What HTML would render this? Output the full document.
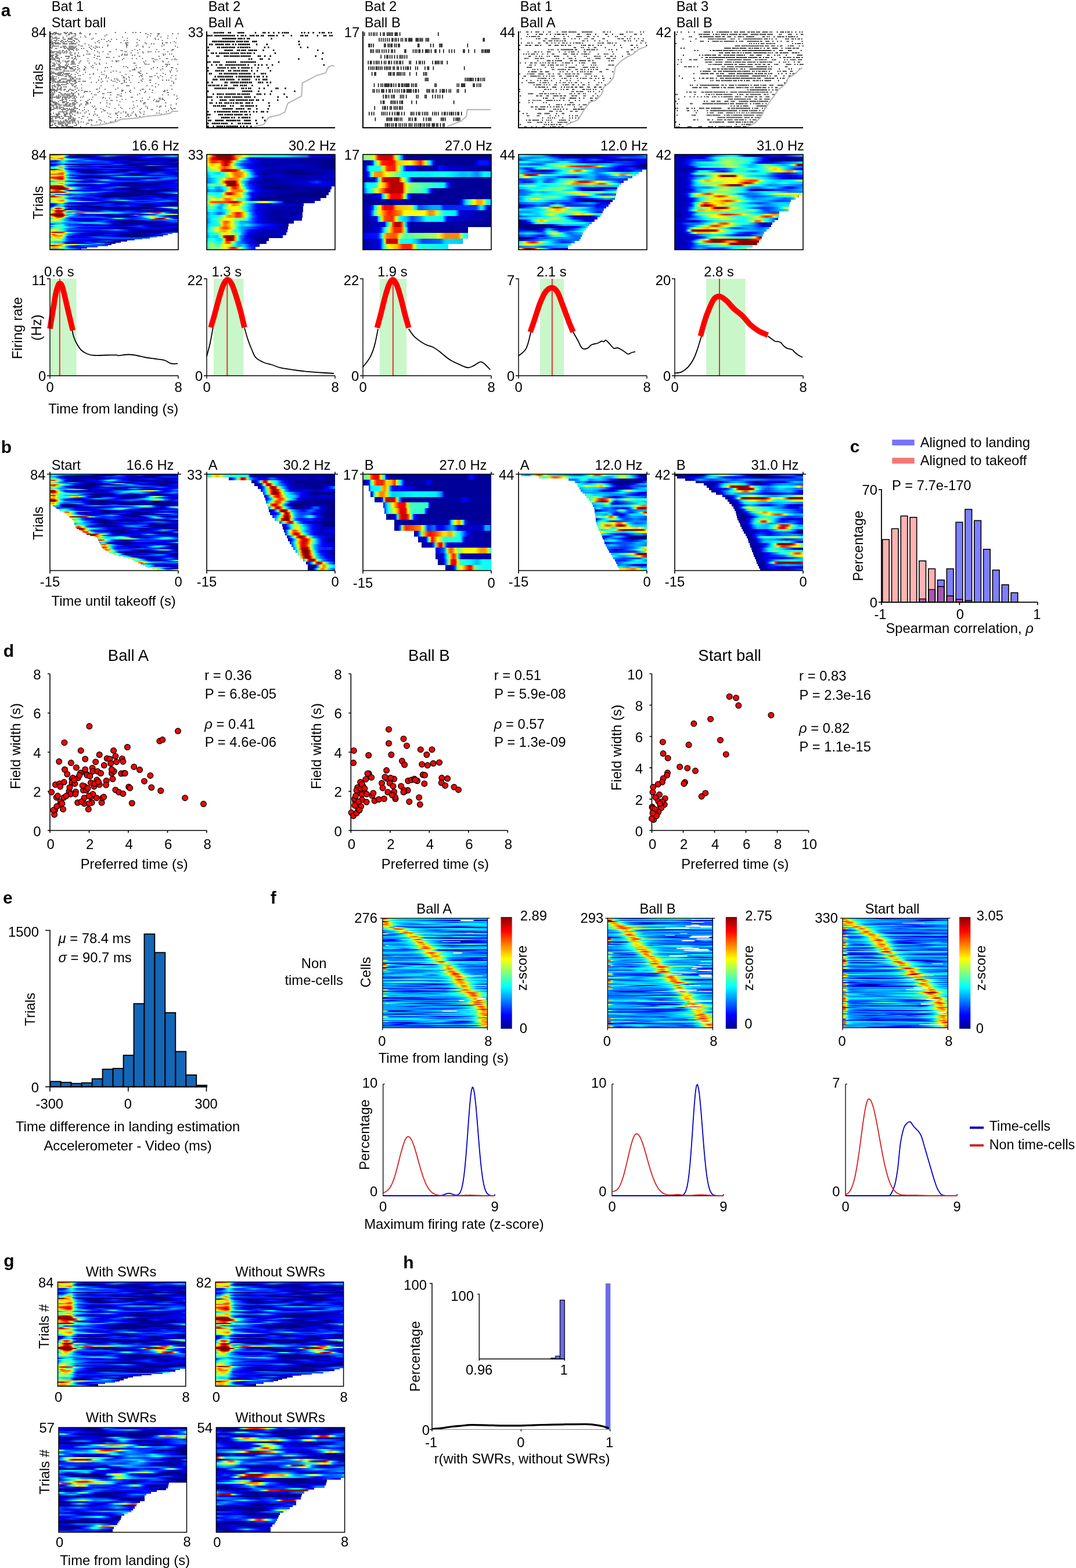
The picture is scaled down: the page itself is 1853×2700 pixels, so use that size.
<!DOCTYPE html><html><head><meta charset="utf-8"><title>Figure</title><style>*{margin:0;padding:0}
html,body{width:1853px;height:2700px;background:#fff;overflow:hidden}
body{position:relative;font-family:"Liberation Sans",Arial,sans-serif}
.hm{position:absolute;display:flex;flex-direction:column}
.hm i{display:block;flex:1 1 0;min-height:0;background:linear-gradient(90deg,var(--g))}
svg{position:absolute;left:0;top:0}
text{font-family:"Liberation Sans",Arial,sans-serif;font-size:23.8px;fill:#000}
</style></head><body><div class="hm" style="left:86px;top:266px;width:221px;height:164px"><i style="--g:#f80,#f50 1%,#f50 3%,#f90 8%,#fc0 10%,#bf4 11%,#3fc 12%,#0af 14%,#06f 15%,#04f 16%,#00f 23%,#01f 37%,#07f 48%,#00f 64%,#00f 74%,#00b 82%,#01f 88%,#03f 92%,#02f"></i><i style="--g:#ff0,#df2 4%,#fe0 10%,#9f6 11%,#0ef 12%,#04f 14%,#00d 15%,#008 21%,#008 29%,#00e 36%,#01f 37%,#09f 44%,#00f 55%,#00c 62%,#00f 71%,#06f 88%,#0ef 95%,#0cf"></i><i style="--g:#fb0,#fa0 1%,#fd0 3%,#bf4 5%,#cf3 8%,#af5 10%,#3fc 11%,#07f 12%,#00c 14%,#009 15%,#008 22%,#008 32%,#00c 38%,#008 48%,#008 59%,#00f 71%,#05f 77%,#00f 84%,#01f"></i><i style="--g:#ff0,#fc0 1%,#fd0 5%,#f60 8%,#f50 10%,#fc0 11%,#7f8 12%,#0df 14%,#09f 15%,#08f 16%,#00f 33%,#008 42%,#008 66%,#00d 70%,#00f 73%,#00e 77%,#00a 85%,#00c 96%,#00b"></i><i style="--g:#4fb,#6f9 1%,#4fb 4%,#5fa 5%,#fd0 8%,#fa0 10%,#fd0 11%,#bf4 12%,#7f8 14%,#0ef 19%,#09f 22%,#06f 25%,#00f 34%,#008 42%,#008 48%,#00d 55%,#008 67%,#008"></i><i style="--g:#01f,#00c 4%,#00e 5%,#04f 7%,#0af 8%,#0ff 10%,#0ff 11%,#04f 15%,#02f 19%,#03f 22%,#0af 30%,#06f 36%,#00f 48%,#00d 59%,#008 66%,#008 73%,#00d 78%,#00e 86%,#00d 90%,#008 97%,#008"></i><i style="--g:#01f,#03f 4%,#1fe 10%,#0ff 11%,#07f 15%,#04f 21%,#02f 34%,#04f 45%,#00f 52%,#00a 58%,#009 60%,#01f 68%,#01f 71%,#00f 75%,#008 89%,#00f 97%,#03f"></i><i style="--g:#05f,#07f 5%,#0ef 11%,#06f 23%,#03f 36%,#03f 44%,#00f 49%,#00c 55%,#00c 66%,#008 74%,#01f 84%,#00f 89%,#00a 96%,#00b"></i><i style="--g:#00a,#00f 3%,#07f 10%,#00d 12%,#008 14%,#008 15%,#008 29%,#00d 34%,#00c 41%,#01f 47%,#05f 52%,#04f 55%,#01f 58%,#008 63%,#008 82%,#00a 88%,#008 92%,#008"></i><i style="--g:#00e,#02f 4%,#05f 5%,#0bf 7%,#3fc 8%,#7f8 10%,#6f9 11%,#0ff 12%,#0af 14%,#08f 15%,#01f 25%,#04f 37%,#01f 51%,#008 58%,#008 68%,#00e 73%,#06f 77%,#07f 79%,#00f 92%,#009"></i><i style="--g:#07f,#09f 4%,#0df 5%,#9f6 8%,#8f7 10%,#1fe 11%,#07f 12%,#01f 14%,#00d 15%,#008 22%,#00d 34%,#008 42%,#008 45%,#00e 52%,#00f 58%,#02f 64%,#00f 68%,#00a 74%,#008 84%,#008 96%,#00a"></i><i style="--g:#0af,#0ef 1%,#3fc 3%,#df2 5%,#fb0 7%,#f80 8%,#fb0 10%,#9f6 11%,#0ff 12%,#0af 14%,#06f 16%,#01f 30%,#02f 37%,#00f 41%,#008 47%,#008 81%,#00e 89%,#00f"></i><i style="--g:#0bf,#0ff 1%,#2fd 4%,#9f6 8%,#6f9 10%,#0ef 11%,#07f 12%,#03f 14%,#02f 15%,#01f 34%,#03f 51%,#00f 63%,#008 73%,#008 82%,#00f 89%,#03f 93%,#02f"></i><i style="--g:#a00,#800 1%,#800 4%,#f00 5%,#f70 7%,#f90 8%,#fe0 10%,#7f8 11%,#0bf 12%,#02f 14%,#00c 15%,#008 18%,#008 19%,#008 86%,#00e 92%,#00d"></i><i style="--g:#fc0,#fb0 3%,#ff0 5%,#fb0 8%,#fb0 10%,#ef1 11%,#5fa 12%,#0cf 14%,#08f 15%,#00e 21%,#009 25%,#008 29%,#009 33%,#01f 40%,#03f 44%,#01f 48%,#008 56%,#008 60%,#00d 66%,#00e 68%,#008 79%,#008 86%,#00a 90%,#00f 96%,#04f"></i><i style="--g:#8f7,#cf3 1%,#9f6 5%,#fe0 8%,#fc0 10%,#df2 11%,#4fb 12%,#0bf 14%,#08f 15%,#00f 22%,#009 26%,#008 30%,#00d 44%,#008 53%,#00a 56%,#00e 59%,#01f 60%,#05f 64%,#00e 71%,#00c 75%,#00f 81%,#02f 86%,#00f 97%,#03f"></i><i style="--g:#af5,#ef1 1%,#fe0 5%,#f50 8%,#f40 10%,#f80 11%,#cf3 12%,#3fc 14%,#0cf 15%,#00e 25%,#008 30%,#008 40%,#01f 49%,#04f 55%,#00f 64%,#00f 75%,#04f 85%,#00f 90%,#009 96%,#009"></i><i style="--g:#fa0,#f50 1%,#f60 5%,#f40 8%,#f50 10%,#fb0 11%,#9f6 12%,#0ef 14%,#09f 15%,#07f 16%,#02f 33%,#09f 47%,#06f 53%,#01f 59%,#00d 60%,#008 64%,#008 68%,#008 70%,#00f 74%,#04f 78%,#06f 82%,#04f 88%,#00f 93%,#009"></i><i style="--g:#8f7,#cf3 1%,#ef1 5%,#fc0 8%,#fc0 10%,#df2 11%,#4fb 12%,#09f 14%,#04f 15%,#00e 18%,#00a 23%,#00f 40%,#00f 52%,#008 63%,#008 67%,#00c 75%,#008 82%,#008 85%,#01f 92%,#02f 96%,#00e"></i><i style="--g:#fe0,#f90 1%,#f70 5%,#f30 8%,#f30 10%,#f90 11%,#bf4 12%,#2fd 14%,#0cf 15%,#01f 22%,#00d 23%,#009 27%,#008 38%,#009 41%,#00e 45%,#0cf 55%,#0df 58%,#0af 64%,#0bf 71%,#04f 81%,#04f 93%,#01f"></i><i style="--g:#f70,#f20 1%,#f00 3%,#d00 8%,#f10 10%,#fa0 11%,#6f9 12%,#0af 14%,#03f 15%,#01f 16%,#00e 18%,#008 38%,#00f 52%,#02f 70%,#00f 84%,#06f 93%,#06f"></i><i style="--g:#ef1,#fb0 1%,#f00 7%,#c00 8%,#e00 10%,#f70 11%,#bf4 12%,#1fe 14%,#08f 16%,#00f 22%,#00d 25%,#00f 27%,#03f 34%,#00f 45%,#00a 53%,#00f 62%,#00f 64%,#009 71%,#008 75%,#009 78%,#00e 82%,#09f 90%,#04f"></i><i style="--g:#ef1,#fe0 4%,#f70 8%,#f90 10%,#fe0 11%,#2fd 14%,#0ff 15%,#0ff 21%,#04f 27%,#01f 32%,#02f 34%,#06f 37%,#1fe 41%,#3fc 42%,#3fc 44%,#0ff 45%,#07f 48%,#00f 53%,#00c 62%,#00f 67%,#0bf 77%,#00f 96%,#00c"></i><i style="--g:#0bf,#0af 1%,#0ef 4%,#7f8 8%,#6f9 10%,#2fd 11%,#0af 12%,#04f 14%,#00e 15%,#008 18%,#008 19%,#008 32%,#00f 38%,#05f 45%,#06f 49%,#04f 64%,#00e 77%,#00b 82%,#00c"></i><i style="--g:#6f9,#6f9 4%,#bf4 10%,#af5 11%,#2fd 14%,#0ef 15%,#03f 22%,#00f 26%,#02f 37%,#00f 55%,#009 63%,#00f 73%,#00a 85%,#00e 96%,#05f"></i><i style="--g:#6f9,#af5 1%,#ef1 5%,#fa0 8%,#fa0 10%,#fe0 11%,#3fc 14%,#0ff 15%,#09f 21%,#06f 27%,#07f 32%,#0df 38%,#0cf 40%,#00f 48%,#00b 51%,#009 55%,#009 74%,#00b 86%,#00a 93%,#00b 96%,#00f 99%,#02f"></i><i style="--g:#5fa,#9f6 1%,#bf4 5%,#ff0 8%,#df2 10%,#0df 12%,#08f 14%,#05f 15%,#00e 19%,#00a 25%,#00b 33%,#00f 45%,#008 62%,#008 81%,#00e 92%,#01f"></i><i style="--g:#f50,#f10 1%,#a00 5%,#a00 7%,#b00 8%,#f30 10%,#ff0 11%,#1fe 12%,#06f 14%,#02f 15%,#00f 16%,#009 25%,#008 27%,#00e 38%,#008 51%,#008 74%,#00d 81%,#00f 85%,#00c"></i><i style="--g:#c00,#800 1%,#800 10%,#f00 11%,#fc0 12%,#9f6 14%,#4fb 15%,#0ff 18%,#07f 23%,#00f 34%,#00c 40%,#00f 44%,#08f 53%,#06f 58%,#00f 63%,#00c 68%,#00d 77%,#00b 84%,#00f 93%,#02f"></i><i style="--g:#800,#800 12%,#f30 14%,#fb0 15%,#ef1 16%,#3fc 19%,#0df 21%,#04f 25%,#00e 29%,#00c 34%,#00f 38%,#06f 45%,#05f 48%,#01f 51%,#008 55%,#008 67%,#00e 75%,#00e 86%,#00b 95%,#00f 99%,#02f"></i><i style="--g:#fa0,#f00 4%,#800 8%,#800 11%,#c00 12%,#f30 14%,#df2 16%,#5fa 18%,#0ef 19%,#09f 21%,#05f 23%,#00f 33%,#00e 38%,#00f 49%,#008 56%,#008 67%,#008 68%,#01f 74%,#02f 77%,#00f 81%,#008 88%,#008 90%,#00f 96%,#02f"></i><i style="--g:#fe0,#f20 5%,#f30 7%,#f80 8%,#ef1 10%,#5fa 11%,#0bf 12%,#04f 14%,#00e 15%,#00b 19%,#00f 27%,#01f 45%,#00d 52%,#00e 59%,#008 66%,#008 90%,#00d"></i><i style="--g:#fe0,#fa0 1%,#f10 7%,#f30 8%,#df2 11%,#4fb 12%,#0df 14%,#0af 15%,#00e 27%,#00e 32%,#00f 34%,#0af 42%,#01f 52%,#00f 59%,#00a 64%,#008 71%,#008 89%,#00d 96%,#00d"></i><i style="--g:#f00,#800 1%,#800 11%,#f50 12%,#ff0 14%,#af5 15%,#8f7 16%,#0ff 23%,#0df 25%,#0bf 27%,#0df 34%,#06f 38%,#00e 45%,#00b 49%,#00a 58%,#008 63%,#008 81%,#01f 86%,#05f 90%,#08f"></i><i style="--g:#0ff,#6f9 1%,#5fa 5%,#ef1 10%,#bf4 11%,#4fb 12%,#0ef 14%,#0cf 15%,#0cf 21%,#00e 33%,#00b 37%,#00b 45%,#008 51%,#008 62%,#00c 68%,#00a 78%,#00e 88%,#07f 95%,#0df 97%,#3fc"></i><i style="--g:#0ef,#4fb 1%,#2fd 3%,#07f 5%,#05f 7%,#07f 10%,#02f 15%,#04f 21%,#00f 34%,#008 49%,#008"></i><i style="--g:#fc0,#f20 1%,#f10 3%,#fd0 5%,#bf4 7%,#1fe 11%,#0df 12%,#08f 15%,#07f 23%,#00f 30%,#008 38%,#008 67%,#00f 75%,#00f 79%,#00b 89%,#00f 96%,#01f"></i><i style="--g:#f70,#d00 1%,#b00 3%,#e00 4%,#fd0 10%,#cf3 11%,#0ff 14%,#0bf 15%,#05f 21%,#03f 32%,#00e 37%,#008 42%,#008 56%,#00c 64%,#00e 74%,#009 90%,#00f"></i><i style="--g:#5fa,#cf3 1%,#ef1 3%,#6f9 10%,#2fd 11%,#04f 14%,#01f 15%,#00f 18%,#00a 26%,#01f 33%,#03f 37%,#00f 42%,#03f 52%,#00f 59%,#01f 66%,#00f 71%,#00f 77%,#03f 82%,#00f 89%,#02f 97%,#01f"></i><i style="--g:#1fe,#7f8 1%,#df2 4%,#fe0 10%,#cf3 11%,#4fb 12%,#0bf 14%,#07f 15%,#00f 27%,#00e 34%,#00f 40%,#05f 51%,#01f 56%,#008 62%,#008 74%,#00f 79%,#03f 84%,#00f 95%,#00a"></i><i style="--g:#bf4,#ff0 3%,#fd0 5%,#f60 10%,#f90 11%,#df2 12%,#5fa 14%,#0ff 15%,#04f 22%,#00f 26%,#00a 33%,#00b 36%,#00f 40%,#07f 49%,#0ef 55%,#0ff 58%,#0ef 59%,#07f 63%,#03f 67%,#04f 75%,#02f 84%,#07f 92%,#01f"></i><i style="--g:#9f6,#ff0 5%,#fa0 10%,#fe0 11%,#2fd 14%,#0df 15%,#1fe 18%,#6f9 21%,#7f8 22%,#1fe 26%,#0ef 27%,#00f 42%,#00c 49%,#00f 58%,#04f 64%,#00f 71%,#00f 75%,#09f 86%,#02f"></i><i style="--g:#0ef,#1fe 1%,#bf4 5%,#ff0 8%,#df2 10%,#0df 12%,#06f 14%,#02f 15%,#00f 18%,#00c 38%,#008 47%,#008 55%,#01f 64%,#03f 70%,#03f 79%,#00f 86%,#00a 93%,#00a"></i><i style="--g:#00c,#00b 1%,#02f 4%,#0df 8%,#0cf 10%,#03f 12%,#00d 14%,#008 16%,#008 34%,#01f 41%,#04f 45%,#00f 51%,#00a 55%,#009 58%,#00d 64%,#00e 67%,#009 75%,#009 78%,#00f 84%,#00f 88%,#008 96%,#008"></i><i style="--g:#00d,#00f 3%,#0ff 8%,#2fd 10%,#0ef 11%,#08f 14%,#00f 26%,#03f 38%,#00f 51%,#03f 60%,#00f 67%,#008 74%,#008 75%,#008 78%,#00e 84%,#00f 88%,#009 95%,#008"></i><i style="--g:#008,#00c 1%,#03f 3%,#0bf 5%,#0df 8%,#0bf 10%,#00d 12%,#009 14%,#009 15%,#008 37%,#008 38%,#01f 42%,#03f 45%,#01f 53%,#04f 60%,#01f 64%,#008 81%,#008 88%,#00d 95%,#00f"></i><i style="--g:#00a,#06f 1%,#3fc 3%,#cf3 4%,#fd0 5%,#fa0 7%,#fc0 8%,#df2 10%,#4fb 11%,#09f 12%,#04f 14%,#00f 18%,#00d 27%,#008 33%,#009 53%,#008 75%,#00e 81%,#07f 86%,#0ff 89%,#af5 92%,#ef1 95%,#af5 97%,#2fd"></i><i style="--g:#07f,#3fc 1%,#ff0 3%,#f60 4%,#e00 5%,#c00 7%,#f10 8%,#fb0 10%,#5fa 11%,#0af 12%,#03f 14%,#00f 15%,#00f 16%,#00d 22%,#00e 32%,#008 40%,#009 49%,#008 53%,#008 77%,#00f 88%,#06f 93%,#08f 95%,#0df 96%,#2fd 97%,#5fa 99%,#5fa"></i><i style="--g:#05f,#0ef 1%,#ff0 4%,#f90 5%,#f70 7%,#fb0 8%,#7f8 10%,#09f 11%,#00e 12%,#008 14%,#008 15%,#008 33%,#00d 37%,#00f 40%,#009 48%,#009 56%,#008 62%,#008 67%,#01f 74%,#02f 78%,#00f 82%,#008 90%,#008 96%,#00b"></i><i style="--g:#4fb,#df2 1%,#f90 3%,#f00 4%,#800 5%,#800 10%,#e00 11%,#fa0 12%,#cf3 14%,#0ff 18%,#04f 23%,#00e 27%,#00b 33%,#01f 38%,#04f 41%,#06f 44%,#00f 51%,#00f 56%,#03f 62%,#00f 67%,#00a 73%,#009 77%,#008"></i><i style="--g:#3fc,#af5 1%,#fe0 3%,#f10 5%,#c00 7%,#d00 8%,#f70 10%,#bf4 11%,#0ff 12%,#08f 14%,#06f 15%,#08f 23%,#05f 37%,#0cf 47%,#00f 70%,#00a 77%,#00f 82%,#03f 86%,#04f 89%,#00f"></i><i style="--g:#9f6,#fe0 1%,#f20 4%,#c00 5%,#a00 8%,#f20 10%,#fd0 11%,#7f8 12%,#1fe 14%,#1fe 15%,#ff0 18%,#f40 21%,#f10 22%,#f20 23%,#f40 25%,#ef1 29%,#af5 32%,#ff0 38%,#1fe 47%,#0ff 53%,#07f 59%,#04f 64%,#06f 70%,#08f 71%,#0ff 74%,#ef1 78%,#f30 82%,#f10 84%,#f20 85%,#f70 86%,#fe0 88%,#6f9 89%,#0bf 90%,#05f 92%,#00e 95%,#00a 97%,#009"></i><i style="--g:#c00,#800 1%,#800 10%,#f40 11%,#cf3 12%,#2fd 14%,#0cf 15%,#00f 25%,#00d 29%,#00f 38%,#00b 45%,#00c 52%,#009 62%,#00b 67%,#00f 73%,#08f 82%,#0ff 86%,#af5 92%,#df2 95%,#cf3 96%,#6f9"></i><i style="--g:#800,#800 12%,#c00 14%,#fa0 15%,#9f6 16%,#0ff 18%,#0af 19%,#04f 22%,#00e 26%,#008 36%,#008 48%,#00f 53%,#00f 60%,#06f 64%,#0ef 66%,#af5 67%,#f80 68%,#c00 70%,#800 71%,#800 81%,#e00 82%,#fc0 85%,#cf3 86%,#1fe 89%,#07f 92%,#06f 93%,#02f 97%,#02f"></i><i style="--g:#cf3,#fa0 1%,#f30 3%,#a00 4%,#800 5%,#800 10%,#f20 11%,#ef1 12%,#3fc 14%,#0cf 15%,#03f 22%,#01f 26%,#03f 34%,#00f 38%,#008 45%,#008 56%,#008 62%,#00d 66%,#01f 67%,#05f 70%,#0cf 73%,#2fd 74%,#9f6 77%,#af5 78%,#9f6 79%,#3fc 82%,#0ef 84%,#06f 86%,#01f 90%,#00b 96%,#00a"></i><i style="--g:#1fe,#ef1 3%,#f40 5%,#f10 7%,#f10 8%,#f60 10%,#fe0 11%,#5fa 12%,#0bf 14%,#07f 15%,#06f 16%,#06f 40%,#00e 47%,#009 51%,#008 53%,#00f 64%,#06f 71%,#0ff 74%,#af5 77%,#ff0 79%,#df2 82%,#1fe 86%,#0cf 88%,#07f 89%,#02f 93%,#00f 96%,#00d"></i><i style="--g:#07f,#1fe 1%,#ff0 4%,#fb0 5%,#fb0 7%,#ff0 8%,#2fd 11%,#0af 12%,#04f 14%,#00f 16%,#00f 36%,#05f 47%,#07f 48%,#0ff 51%,#4fb 53%,#2fd 55%,#0ef 56%,#07f 59%,#02f 64%,#03f 68%,#06f 74%,#0df 77%,#4fb 78%,#bf4 79%,#fc0 81%,#f40 82%,#d00 84%,#800 85%,#800 86%,#800 88%,#d00 89%,#f60 90%,#df2 92%,#1fe 93%,#07f 95%,#03f 96%,#00e 97%,#009"></i><i style="--g:#1fe,#7f8 1%,#af5 3%,#cf3 5%,#af5 7%,#2fd 10%,#0df 11%,#07f 14%,#00f 19%,#008 26%,#008 40%,#01f 49%,#03f 55%,#01f 63%,#07f 74%,#03f 85%,#0bf 95%,#0bf 96%,#06f"></i><i style="--g:#6f9,#cf3 1%,#df2 3%,#af5 7%,#2fd 10%,#0cf 11%,#05f 15%,#00f 21%,#00c 29%,#00f 34%,#05f 42%,#00e 49%,#009 55%,#008 64%,#009 68%,#00f 74%,#03f 78%,#03f 85%,#06f 92%,#04f"></i><i style="--g:#1fe,#4fb 1%,#7f8 7%,#7f8 8%,#1fe 11%,#0df 12%,#05f 23%,#03f 30%,#05f 38%,#00f 45%,#008 51%,#008 86%,#008 88%,#01f 92%,#06f 96%,#05f"></i><i style="--g:#0cf,#0cf 8%,#06f 12%,#0af 21%,#1fe 26%,#2fd 30%,#0ff 37%,#0cf 41%,#00f 49%,#008 58%,#008 78%,#00f 90%,#01f"></i><i style="--g:#00e,#0bf 5%,#0ef 8%,#0ef 10%,#05f 14%,#00f 23%,#02f 32%,#07f 41%,#06f 44%,#00e 49%,#00b 53%,#009 67%,#00e 86%,#009"></i><i style="--g:#0cf,#0ff 1%,#6f9 4%,#6f9 5%,#6f9 8%,#3fc 10%,#0df 11%,#08f 12%,#04f 15%,#03f 22%,#00e 26%,#009 30%,#008 33%,#008 58%,#00f 66%,#02f 71%,#00e 75%,#008 79%,#008 81%,#008"></i><i style="--g:#06f,#0ef 3%,#2fd 4%,#5fa 8%,#1fe 11%,#09f 15%,#03f 27%,#02f 42%,#00f 48%,#00b 56%,#01f 63%,#04f 70%,#00f 75%,#009 79%,#008 82%,#008 85%,#00f 93%,#00f"></i><i style="--g:#07f,#0cf 1%,#2fd 3%,#6f9 5%,#6f9 8%,#4fb 11%,#1fe 12%,#00e 23%,#00b 27%,#00b 36%,#008 41%,#008 63%,#00f 68%,#01f 70%,#02f 73%,#00f 78%,#00e 93%,#00c"></i><i style="--g:#0df,#9f6 3%,#af5 4%,#7f8 7%,#0ff 10%,#0cf 11%,#06f 14%,#04f 16%,#00f 45%,#009 59%,#00d 70%,#00f 85%,#008"></i><i style="--g:#3fc,#bf4 1%,#ff0 3%,#ff0 4%,#df2 5%,#0ef 11%,#07f 15%,#02f 27%,#02f 38%,#0bf 52%,#00e 62%,#008 67%,#008 75%,#00b 82%,#008 96%,#009"></i><i style="--g:#4fb,#cf3 1%,#ef1 3%,#0ff 10%,#01f 14%,#00e 15%,#00c 19%,#00d 34%,#009 44%,#00a 47%,#00f 52%,#01f 55%,#00f 59%,#00d 66%,#008 71%,#008"></i><i style="--g:#bf4,#f40 1%,#a00 3%,#800 4%,#f10 10%,#f50 11%,#fd0 12%,#af5 14%,#4fb 15%,#0ef 16%,#05f 22%,#00f 30%,#00c 37%,#00e 49%,#00c 59%,#008 68%,#008 85%,#01f 93%,#03f 97%,#03f"></i><i style="--g:#4fb,#ff0 1%,#fc0 3%,#ff0 4%,#4fb 7%,#3fc 9%,#6f9 12%,#0ef 14%,#01f 22%,#00d 23%,#009 26%,#008 29%,#008 41%,#00b 52%,#009 64%,#00c 75%,#00c 86%,#00f 90%,#08f 97%,#08f;width:95.4%"></i><i style="--g:#8f7,#fa0 1%,#f40 3%,#f60 4%,#ff0 7%,#ef1 10%,#bf4 12%,#3fc 13%,#0af 15%,#06f 16%,#04f 18%,#00e 25%,#00b 30%,#00a 37%,#01f 48%,#01f 54%,#008 64%,#008 69%,#00a 81%,#00f 88%,#04f;width:91.7%"></i><i style="--g:#6f9,#fe0 2%,#f80 3%,#f60 5%,#f80 11%,#ff0 12%,#3fc 14%,#08f 16%,#04f 17%,#00f 23%,#008 41%,#008 91%,#00c 95%,#00b;width:88.1%"></i><i style="--g:#0cf,#7f8 2%,#ef1 3%,#fc0 5%,#fb0 8%,#fc0 10%,#ef1 11%,#6f9 13%,#09f 15%,#00f 16%,#00c 18%,#00d 30%,#00f 34%,#05f 41%,#07f 46%,#00f 67%,#008 75%,#008 84%,#00f 90%,#0df;width:83.7%"></i><i style="--g:#4fb,#bf4 2%,#ff0 4%,#fc0 7%,#fe0 11%,#cf3 12%,#4fb 14%,#0bf 16%,#05f 18%,#02f 19%,#00f 30%,#00f 40%,#05f 53%,#06f 70%,#06f;width:77.9%"></i><i style="--g:#6f9,#af5 2%,#9f6 8%,#7f8 12%,#2fd 13%,#0cf 15%,#04f 19%,#02f 33%,#03f 71%,#00f 81%,#00c 88%,#01f;width:72%"></i><i style="--g:#bf4,#ef1 2%,#ff0 10%,#cf3 12%,#0ff 17%,#08f 19%,#04f 21%,#01f 23%,#00f 27%,#00c 44%,#008 54%,#008 79%,#00e 90%,#05f;width:66%"></i><i style="--g:#3fc,#4fb 2%,#1fe 7%,#4fb 14%,#2fd 16%,#0cf 18%,#05f 23%,#00f 32%,#00e 39%,#00f 57%,#06f 73%,#05f 77%,#00f 84%,#00a 91%,#008;width:60.3%"></i><i style="--g:#0ef,#0ff 2%,#0bf 8%,#0cf 15%,#09f 18%,#01f 22%,#00d 25%,#00c 35%,#00e 43%,#04f 55%,#00f 62%,#008 78%,#008;width:55.4%"></i><i style="--g:#4fb,#8f7 3%,#2fd 16%,#0df 19%,#00f 24%,#009 27%,#008 30%,#008 49%,#008 51%,#00d 57%,#01f 59%,#0bf 73%,#0af 78%,#00f 92%,#008;width:51.3%"></i><i style="--g:#9f6,#fd0 3%,#fb0 6%,#fc0 11%,#fa0 17%,#fa0 20%,#fe0 23%,#8f7 29%,#ff0 37%,#ef1 40%,#4fb 49%,#0ff 54%,#07f 71%,#04f 86%,#01f 91%,#009;width:47.8%"></i><i style="--g:#800,#800 6%,#f10 12%,#fb0 21%,#df2 24%,#5fa 27%,#0df 30%,#09f 33%,#07f 36%,#01f 48%,#00f 55%,#05f 88%,#05f;width:45.3%"></i><i style="--g:#af5,#fd0 4%,#fa0 7%,#fe0 19%,#ef1 22%,#5fa 30%,#0cf 33%,#05f 37%,#01f 41%,#00e 44%,#00f 59%,#04f 74%,#03f;width:37.1%"></i><i style="--g:#fe0,#fa0 5%,#f90 14%,#f90 19%,#ef1 29%,#0ff 43%,#07f 52%,#04f 62%,#00f 81%,#00a;width:28.9%"></i><i style="--g:#0cf,#08f 11%,#0cf 28%,#0cf 39%,#0ef 50%,#0cf 72%,#09f 83%,#02f;width:24.6%"></i></div><div class="hm" style="left:356px;top:266px;width:221px;height:164px"><i style="--g:#8f7,#ef1 1%,#fb0 3%,#f20 5%,#d00 7%,#800 8%,#800 18%,#a00 19%,#f10 21%,#f80 23%,#ef1 29%,#5fa 34%,#1fe 47%,#0ff 59%,#0af 70%,#07f 78%,#00f 81%,#00b"></i><i style="--g:#9f6,#fc0 1%,#f00 4%,#b00 7%,#800 12%,#800 18%,#900 19%,#e00 21%,#fd0 25%,#cf3 26%,#0ff 29%,#05f 32%,#00f 34%,#00a 42%,#00b 70%,#009 78%,#009"></i><i style="--g:#9f6,#fd0 1%,#f60 3%,#f30 4%,#f20 5%,#f60 10%,#f10 12%,#c00 14%,#a00 15%,#b00 16%,#f00 18%,#fe0 21%,#9f6 22%,#0ef 25%,#06f 29%,#00f 36%,#00b 44%,#008"></i><i style="--g:#6f9,#df2 1%,#fd0 3%,#fb0 4%,#ff0 7%,#fe0 10%,#f30 12%,#d00 14%,#b00 15%,#e00 16%,#f50 18%,#fe0 19%,#8f7 21%,#3fc 22%,#0df 23%,#04f 27%,#02f 30%,#00f 34%,#00c 37%,#009 47%,#00c 68%,#008"></i><i style="--g:#3fc,#cf3 3%,#ef1 4%,#fe0 8%,#f40 14%,#f50 15%,#ff0 21%,#2fd 25%,#0df 26%,#04f 30%,#00f 34%,#00c 41%,#00b 52%,#00b 81%,#008 93%,#009"></i><i style="--g:#1fe,#8f7 3%,#af5 7%,#cf3 8%,#fd0 10%,#f10 12%,#d00 14%,#b00 16%,#f00 22%,#f20 23%,#fa0 26%,#df2 27%,#3fc 30%,#0df 32%,#03f 36%,#00e 38%,#00b 42%,#008 64%,#008 73%,#00b 86%,#00b"></i><i style="--g:#0af,#1fe 3%,#0df 10%,#0ff 11%,#ff0 18%,#f80 21%,#f60 23%,#f80 27%,#ef1 30%,#2fd 33%,#0cf 34%,#01f 38%,#00d 40%,#009 44%,#00b 56%,#008 67%,#008 82%,#00c"></i><i style="--g:#08f,#0ef 3%,#1fe 4%,#3fc 7%,#3fc 12%,#8f7 16%,#ff0 19%,#f80 22%,#f60 25%,#f70 26%,#fd0 29%,#df2 30%,#0ff 34%,#04f 38%,#00e 41%,#00b 45%,#00c 55%,#00a 68%,#00c"></i><i style="--g:#07f,#0ff 8%,#ef1 14%,#fb0 15%,#f60 18%,#f60 22%,#f70 23%,#fd0 26%,#cf3 27%,#2fd 30%,#0cf 32%,#05f 34%,#00e 38%,#009 48%,#00b 60%,#00b"></i><i style="--g:#06f,#0ef 7%,#2fd 8%,#bf4 11%,#fc0 12%,#f40 14%,#900 15%,#800 22%,#f10 23%,#fc0 25%,#9f6 26%,#3fc 27%,#0cf 29%,#04f 32%,#00e 34%,#00a 38%,#009 51%,#00d 78%,#01f 82%,#03f 86%,#00f 90%,#00d 95%,#00c"></i><i style="--g:#0cf,#1fe 1%,#6f9 4%,#5fa 10%,#6f9 11%,#ef1 14%,#f80 15%,#c00 16%,#800 18%,#800 22%,#d00 23%,#f60 25%,#ff0 26%,#1fe 29%,#0af 30%,#03f 33%,#00f 36%,#00a 44%,#009 56%,#00d 84%,#00c"></i><i style="--g:#09f,#0ff 3%,#0ef 6%,#0bf 7%,#09f 10%,#0ff 14%,#2fd 15%,#8f7 17%,#fe0 18%,#f60 20%,#f20 21%,#f10 23%,#f60 25%,#ef1 28%,#1fe 31%,#0af 32%,#03f 35%,#00e 39%,#009 48%,#008 54%,#00a;width:97.4%"></i><i style="--g:#06f,#0af 3%,#0af 4%,#07f 10%,#09f 13%,#0df 14%,#4fb 16%,#bf4 17%,#fd0 19%,#f80 21%,#f70 26%,#fa0 29%,#fe0 30%,#3fc 33%,#0cf 34%,#04f 37%,#00f 40%,#00c 46%,#009 63%,#00a 77%,#008 91%,#009;width:96.3%"></i><i style="--g:#0cf,#1fe 1%,#3fc 4%,#0ff 7%,#0ff 10%,#3fc 12%,#fe0 14%,#f00 17%,#c00 19%,#e00 20%,#fb0 25%,#fe0 28%,#cf3 29%,#6f9 30%,#0ef 32%,#03f 35%,#00e 38%,#00b 45%,#008 77%,#008;width:95.1%"></i><i style="--g:#1fe,#6f9 1%,#9f6 3%,#9f6 4%,#4fb 7%,#2fd 10%,#3fc 12%,#fe0 18%,#fd0 19%,#fc0 26%,#fc0 28%,#fe0 29%,#bf4 31%,#5fa 32%,#0df 34%,#03f 37%,#00f 38%,#00e 40%,#00b 44%,#008 59%,#008;width:93.3%"></i><i style="--g:#0ff,#bf4 3%,#ef1 5%,#ef1 6%,#bf4 11%,#df2 12%,#fd0 14%,#f60 17%,#f60 20%,#fc0 23%,#df2 25%,#8f7 27%,#2fd 33%,#0df 34%,#03f 38%,#00e 39%,#00a 42%,#008 48%,#00a;width:88.8%"></i><i style="--g:#bf4,#fc0 2%,#f50 5%,#f40 18%,#d00 23%,#b00 25%,#c00 26%,#e00 28%,#ef1 34%,#3fc 39%,#1fe 43%,#bf4 49%,#ef1 52%,#df2 56%,#0ef 62%,#08f 66%,#02f 70%,#008 72%,#00a;width:84.1%"></i><i style="--g:#1fe,#bf4 4%,#cf3 5%,#af5 7%,#2fd 11%,#0bf 15%,#0bf 16%,#0ef 18%,#3fc 20%,#ff0 24%,#f80 27%,#f80 29%,#fc0 33%,#ef1 35%,#0ef 42%,#00f 51%,#00c 60%,#00c 87%,#009;width:75.5%"></i><i style="--g:#0ef,#6f9 4%,#6f9 5%,#1fe 9%,#0af 13%,#0af 15%,#0df 16%,#3fc 18%,#ef1 22%,#fe0 24%,#ff0 29%,#df2 33%,#8f7 36%,#1fe 40%,#0df 42%,#03f 49%,#00e 53%,#00b 69%,#009;width:75.3%"></i><i style="--g:#0bf,#0ff 2%,#3fc 5%,#0ef 9%,#0bf 15%,#0df 18%,#1fe 20%,#df2 27%,#ff0 31%,#cf3 36%,#0ef 42%,#07f 45%,#00f 51%,#00c 56%,#009 67%,#00b 85%,#00a;width:75.1%"></i><i style="--g:#07f,#0df 4%,#0df 6%,#06f 13%,#07f 15%,#0cf 19%,#2fd 20%,#df2 24%,#fc0 26%,#f20 31%,#f10 33%,#f30 35%,#fd0 39%,#af5 41%,#4fb 43%,#0ef 44%,#05f 48%,#00f 52%,#009 69%,#009;width:74.8%"></i><i style="--g:#09f,#0ef 4%,#1fe 13%,#df2 19%,#fc0 20%,#f80 24%,#f90 28%,#f30 31%,#f30 33%,#f40 35%,#fc0 39%,#cf3 41%,#0ff 44%,#06f 48%,#00f 54%,#00b 61%,#00a 70%,#00c;width:74.5%"></i><i style="--g:#07f,#0df 4%,#0ff 6%,#4fb 11%,#ef1 19%,#fe0 20%,#ff0 24%,#9f6 31%,#8f7 37%,#7f8 39%,#1fe 43%,#0cf 44%,#05f 48%,#00f 54%,#00c 59%,#009 76%,#00c;width:74.1%"></i><i style="--g:#06f,#0cf 4%,#0ef 6%,#1fe 12%,#bf4 16%,#fc0 18%,#f70 20%,#f50 22%,#f60 24%,#ef1 29%,#9f6 31%,#0ef 37%,#0bf 39%,#0af 45%,#00f 59%,#00b 69%,#008;width:68%"></i><i style="--g:#09f,#0ef 4%,#1fe 15%,#fd0 19%,#f80 21%,#f70 23%,#fe0 30%,#df2 32%,#2fd 38%,#0ef 40%,#0cf 43%,#0ef 49%,#05f 62%,#02f 68%,#00f 79%,#009;width:63.9%"></i><i style="--g:#09f,#0df 2%,#2fd 4%,#ef1 13%,#fd0 15%,#f60 20%,#f40 24%,#f60 26%,#fd0 30%,#cf3 33%,#0ef 39%,#09f 43%,#00f 65%,#009;width:63.5%"></i><i style="--g:#0af,#0ff 2%,#af5 9%,#ff0 13%,#fd0 15%,#f90 22%,#ef1 28%,#2fd 35%,#0ff 39%,#03f 50%,#00f 54%,#00b 72%,#00b;width:63%"></i><i style="--g:#09f,#0ff 4%,#3fc 13%,#ef1 22%,#fe0 24%,#fe0 29%,#af5 33%,#7f8 38%,#1fe 42%,#0af 44%,#03f 49%,#00f 53%,#00b 62%,#00a 71%,#00c;width:62.1%"></i><i style="--g:#08f,#0ef 5%,#0cf 14%,#1fe 16%,#af5 19%,#fa0 21%,#d00 23%,#800 26%,#800 33%,#900 35%,#f70 37%,#bf4 40%,#1fe 42%,#09f 44%,#03f 49%,#00e 53%,#00a 63%,#00a;width:59.2%"></i><i style="--g:#0af,#0ff 3%,#3fc 9%,#0ff 14%,#0cf 20%,#0ef 23%,#6f9 26%,#fd0 29%,#f10 31%,#800 34%,#800 40%,#c00 43%,#fa0 46%,#9f6 49%,#1fe 51%,#05f 57%,#01f 63%,#009 80%,#009;width:48.5%"></i><i style="--g:#0ef,#7f8 6%,#7f8 9%,#0ff 18%,#1fe 24%,#6f9 26%,#fe0 29%,#f60 32%,#f30 35%,#f50 38%,#fb0 41%,#af5 44%,#3fc 47%,#0cf 50%,#07f 56%,#00f 71%,#00a 85%,#008;width:46.4%"></i><i style="--g:#1fe,#9f6 7%,#9f6 10%,#4fb 20%,#4fb 23%,#df2 30%,#ff0 37%,#df2 43%,#1fe 53%,#0af 60%,#0cf 70%,#01f 83%,#00b;width:41.2%"></i><i style="--g:#0ef,#7f8 7%,#9f6 11%,#9f6 21%,#ef1 39%,#fc0 43%,#f30 50%,#f10 54%,#f20 57%,#f60 61%,#df2 68%,#2fd 75%,#06f 86%,#00f;width:38%"></i></div><div class="hm" style="left:625px;top:266px;width:221px;height:164px"><i style="--g:#8f8,#bf4 8%,#fe0 9%,#f00 12%,#c00 14%,#c00 22%,#f10 23%,#fc0 25%,#af5 26%,#5fa 28%,#0df 29%,#06f 31%,#00d 32%,#009 34%,#009"></i><i style="--g:#009,#00c 6%,#04f 8%,#0ff 9%,#ef1 12%,#f20 15%,#f00 23%,#f30 25%,#fa0 26%,#fc0 28%,#ff0 37%,#f20 45%,#f60 46%,#fc0 48%,#cf3 49%,#0ff 52%,#01f 55%,#009 57%,#009 86%,#00e 89%,#01f 91%,#01f 97%,#00f 98%,#00c"></i><i style="--g:#009,#00c 2%,#05f 3%,#0ff 5%,#2fd 12%,#4fb 14%,#bf4 15%,#fd0 17%,#f60 18%,#f20 20%,#f20 25%,#fa0 26%,#cf3 28%,#0ef 31%,#06f 32%,#01f 34%,#00f 38%,#009 45%,#00a 57%,#01f 60%,#00f 62%,#00c 65%,#009"></i><i style="--g:#009,#00d 3%,#05f 5%,#0ff 6%,#cf3 8%,#f90 9%,#f80 14%,#ff0 18%,#8f7 26%,#6f9 28%,#0ff 31%,#0ef 51%,#0ff 55%,#1fe 63%,#0ff 66%,#0bf 77%,#0cf 83%,#08f 89%,#0ef 94%,#0ff 95%,#0df"></i><i style="--g:#009,#00c 9%,#06f 11%,#1fe 12%,#cf3 14%,#f30 15%,#b00 17%,#b00 28%,#f60 29%,#ef1 31%,#3fc 34%,#0cf 35%,#04f 37%,#00d 38%,#00a 40%,#009 42%,#009"></i><i style="--g:#01f,#0bf 2%,#0ff 3%,#1fe 9%,#4fb 11%,#bf4 12%,#ff0 14%,#fa0 17%,#f00 20%,#b00 22%,#b00 29%,#d00 31%,#f90 32%,#df2 34%,#8f7 37%,#0ff 63%,#03f 66%,#00e 68%,#00b 69%,#009 71%,#009"></i><i style="--g:#01f,#0cf 3%,#1fe 5%,#df2 11%,#fd0 12%,#e00 18%,#b00 20%,#b00 29%,#d00 31%,#f90 32%,#df2 34%,#7f8 37%,#3fc 48%,#1fe 49%,#0af 51%,#04f 52%,#00d 54%,#009 55%,#009"></i><i style="--g:#009,#00c 12%,#00f 14%,#0bf 15%,#5fa 17%,#cf3 18%,#f80 20%,#f00 22%,#f00 29%,#f60 31%,#ef1 32%,#1fe 34%,#04f 35%,#00e 37%,#009 38%,#009"></i><i style="--g:#009,#009 74%,#00a 75%,#01f 77%,#0cf 80%,#2fd 82%,#bf4 85%,#ef1 86%,#fd0 88%,#fa0 89%,#fa0 91%,#fa0 92%,#fd0 94%,#9f6 95%,#1fe 97%,#0df"></i><i style="--g:#009,#00d 6%,#04f 8%,#0ef 9%,#5fa 11%,#bf4 12%,#fd0 14%,#f40 15%,#f00 17%,#f00 23%,#fb0 26%,#fd0 37%,#af5 38%,#3fc 40%,#0cf 42%,#06f 43%,#05f 45%,#0af 54%,#0af 60%,#02f 63%,#02f 65%,#03f 88%,#0ff 92%,#0cf 94%,#07f 95%,#00f 97%,#00b 98%,#009"></i><i style="--g:#009,#00d 5%,#02f 6%,#0af 8%,#3fc 9%,#df2 12%,#fd0 14%,#f60 17%,#f20 20%,#f20 22%,#f80 29%,#fc0 31%,#ff0 32%,#ff0 48%,#f80 52%,#f90 55%,#fd0 57%,#bf4 58%,#3fc 62%,#1fe 63%,#0ff 68%,#0ef 72%,#06f 74%,#00d 75%,#009"></i><i style="--g:#009,#00c 9%,#01f 11%,#0cf 12%,#7f8 14%,#fd0 15%,#f40 17%,#f20 23%,#ef1 26%,#0ff 29%,#0bf 34%,#03f 38%,#09f 45%,#0ff 49%,#1fe 51%,#0ff 62%,#0af 63%,#02f 65%,#00d 66%,#009"></i><i style="--g:#009,#00c 15%,#00e 17%,#09f 18%,#4fb 20%,#bf4 22%,#f50 23%,#b00 25%,#b00 29%,#f70 31%,#6f9 32%,#09f 34%,#01f 35%,#00a 37%,#009"></i><i style="--g:#009,#00d 15%,#01f 17%,#09f 19%,#1fe 21%,#df2 25%,#fc0 26%,#f20 30%,#f20 36%,#f90 38%,#af5 40%,#0df 42%,#02f 43%,#009 45%,#009;width:82%"></i><i style="--g:#00f,#01f 13%,#03f 15%,#0bf 17%,#6f9 19%,#fb0 21%,#f70 23%,#f50 30%,#f60 32%,#fd0 34%,#bf4 36%,#7f8 38%,#5fa 40%,#af5 68%,#bf4 70%,#ef1 72%,#f80 79%,#f80 91%,#fb0 92%,#af5 94%,#4fb 96%,#0ff;width:82%"></i><i style="--g:#009,#00d 16%,#02f 18%,#0cf 20%,#df2 22%,#c00 24%,#c00 34%,#9f6 36%,#1fe 38%,#0ff 48%,#0bf 54%,#04f 60%,#06f 76%,#07f 78%,#0cf 82%,#0df 84%,#0cf 98%,#0af;width:77.8%"></i><i style="--g:#009,#00d 19%,#02f 21%,#0cf 23%,#5fa 26%,#bf4 28%,#ff0 30%,#fb0 40%,#f20 47%,#f20 56%,#ef1 60%,#2fd 65%,#0ef;width:66.7%"></i></div><div class="hm" style="left:893px;top:266px;width:221px;height:164px"><i style="--g:#0ff,#2fd 3%,#1fe 5%,#0cf 11%,#0bf 18%,#00f 27%,#00e 29%,#008 38%,#008 45%,#008 55%,#00f 67%,#02f 89%,#04f 95%,#09f"></i><i style="--g:#0af,#06f 10%,#0bf 22%,#00e 34%,#00b 47%,#00d 56%,#009 63%,#00b 68%,#01f 75%,#06f 82%,#04f 90%,#07f"></i><i style="--g:#03f,#0cf 11%,#0ef 19%,#0cf 25%,#05f 34%,#07f 40%,#06f 44%,#00f 51%,#05f 59%,#00f 67%,#00a 74%,#008 84%,#00f"></i><i style="--g:#0ef,#2fd 3%,#0ff 7%,#0bf 12%,#07f 23%,#08f 27%,#0ff 33%,#0ff 37%,#03f 47%,#00f 52%,#00c 59%,#009 62%,#00b 66%,#00f 71%,#03f 75%,#03f 85%,#00f 92%,#00d 96%,#00d"></i><i style="--g:#08f,#08f 4%,#05f 10%,#05f 14%,#07f 18%,#1fe 23%,#5fa 27%,#6f9 30%,#5fa 44%,#0ff 49%,#0cf 53%,#09f 60%,#0cf 70%,#03f 82%,#01f 90%,#00f 92%,#008 97%,#008"></i><i style="--g:#0cf,#0ff 4%,#0df 21%,#0ff 23%,#9f6 32%,#fe0 36%,#f50 41%,#f00 48%,#d00 52%,#f00 55%,#f50 59%,#fe0 63%,#3fc 67%,#0ef 68%,#05f 74%,#00f 79%,#00b 88%,#008 92%,#008"></i><i style="--g:#0bf,#04f 4%,#02f 7%,#03f 10%,#0ff 15%,#5fa 18%,#7f8 21%,#6f9 23%,#1fe 27%,#3fc 36%,#0ff 44%,#0af 52%,#0af 59%,#08f 60%,#00f 77%,#00f 82%,#03f 88%,#00f 93%,#00b 97%,#00b"></i><i style="--g:#0ef,#0af 4%,#01f 10%,#00e 11%,#009 17%,#01f 27%,#0ff 36%,#7f8 40%,#ef1 43%,#fc0 44%,#f60 47%,#f60 49%,#f80 50%,#ff0 53%,#5fa 56%,#1fe 57%,#0ef 59%,#0af 61%,#07f 63%,#05f 71%,#00f 79%,#00c 84%,#00f 90%,#05f 96%,#05f;width:96.3%"></i><i style="--g:#0ef,#07f 6%,#03f 22%,#05f 26%,#0ff 35%,#1fe 37%,#af5 44%,#9f6 47%,#0ff 56%,#07f 65%,#0df 72%,#1fe 74%,#7f8 78%,#6f9 81%,#1fe 84%,#0df 85%,#0bf 90%,#0ef 97%,#0df;width:93.8%"></i><i style="--g:#5fa,#fe0 3%,#f30 6%,#e00 7%,#900 10%,#a00 12%,#f00 15%,#fd0 18%,#bf4 19%,#7f8 21%,#4fb 24%,#0ef 36%,#0bf 40%,#09f 48%,#0cf 61%,#0bf 64%,#07f 67%,#06f 70%,#07f 73%,#0cf 78%,#1fe 79%,#fe0 84%,#f70 87%,#f60 88%,#f70 90%,#fe0 93%,#5fa 97%,#0ff;width:91.9%"></i><i style="--g:#1fe,#df2 5%,#ff0 6%,#ef1 8%,#cf3 9%,#4fb 12%,#0ff 17%,#0bf 23%,#0af 31%,#05f 36%,#01f 47%,#01f 50%,#09f 58%,#0bf 62%,#0af 66%,#06f 69%,#04f 72%,#05f 77%,#0cf 88%,#06f;width:88.6%"></i><i style="--g:#04f,#03f 3%,#06f 11%,#0cf 19%,#0af 23%,#05f 27%,#07f 32%,#0ff 39%,#4fb 50%,#1fe 56%,#0ff 58%,#0cf 61%,#0af 69%,#07f 71%,#05f 77%,#04f 89%,#02f;width:85.2%"></i><i style="--g:#06f,#01f 5%,#01f 10%,#02f 12%,#0df 19%,#0ef 20%,#0df 22%,#05f 25%,#04f 27%,#08f 32%,#0ef 37%,#1fe 39%,#fe0 51%,#f00 59%,#d00 63%,#f10 66%,#ff0 75%,#df2 80%,#9f6 83%,#2fd 86%,#0df 88%,#01f 98%,#00e;width:81.8%"></i><i style="--g:#08f,#0cf 14%,#0ff 19%,#2fd 33%,#7f8 43%,#fe0 50%,#f90 53%,#f70 57%,#fe0 71%,#fa0 76%,#f40 79%,#f30 81%,#f70 84%,#ff0 88%,#2fd 95%,#0ef 97%,#0af;width:80%"></i><i style="--g:#0ff,#7f8 12%,#6f9 16%,#0ff 19%,#0df 25%,#0ff 32%,#3fc 46%,#0ef 54%,#0cf 60%,#0ff 72%,#0df 77%,#0df;width:78.3%"></i><i style="--g:#0af,#1fe 12%,#0ef 21%,#6f9 32%,#8f7 41%,#7f8 46%,#2fd 52%,#0ff 54%,#03f 61%,#00e 64%,#00b 70%,#00c 77%,#00a 79%,#00a 88%,#00d;width:76.9%"></i><i style="--g:#05f,#06f 5%,#0ff 14%,#6f9 25%,#4fb 36%,#7f8 39%,#5fa 43%,#0ff 46%,#0cf 57%,#00f 66%,#00a 70%,#008 73%,#009 79%,#00f 84%,#08f 93%,#0af;width:76.6%"></i><i style="--g:#05f,#09f 13%,#0df 18%,#0bf 25%,#0ff 36%,#3fc 42%,#ef1 56%,#df2 60%,#3fc 71%,#8f7 84%,#1fe 91%,#2fd 95%,#9f6;width:76.3%"></i><i style="--g:#06f,#07f 7%,#0ff 15%,#4fb 18%,#4fb 20%,#0ef 25%,#2fd 49%,#5fa 58%,#ff0 65%,#fe0 67%,#ef1 71%,#2fd 76%,#0ef 78%,#0af 80%,#05f 87%,#05f 93%,#07f;width:75.9%"></i><i style="--g:#09f,#1fe 9%,#3fc 24%,#7f8 35%,#6f9 40%,#0ff 45%,#06f 55%,#03f 62%,#05f 67%,#0ff 78%,#0ff 80%,#7f8 85%,#af5 91%,#9f6 96%,#5fa;width:75.6%"></i><i style="--g:#06f,#0ff 7%,#ff0 15%,#fd0 16%,#fe0 18%,#df2 20%,#7f8 24%,#4fb 27%,#0ff 42%,#0af 51%,#00e 60%,#00b 64%,#00a 67%,#00f 76%,#0af 91%,#09f 95%,#04f;width:75.1%"></i><i style="--g:#09f,#0ff 8%,#5fa 15%,#0ff 26%,#08f 40%,#07f 53%,#00f 62%,#008 72%,#009 91%,#008;width:73.4%"></i><i style="--g:#04f,#08f 12%,#0af 21%,#08f 27%,#02f 37%,#08f 42%,#02f 48%,#01f 52%,#0af 77%,#07f 83%,#04f 85%,#00f 90%,#00d;width:71.7%"></i><i style="--g:#00b,#00b 4%,#00e 10%,#06f 22%,#05f 31%,#06f 33%,#0ff 37%,#7f8 41%,#8f7 43%,#2fd 47%,#0cf 49%,#04f 53%,#03f 55%,#02f 65%,#03f 78%,#03f 84%,#00f 86%,#00f 88%,#02f;width:70%"></i><i style="--g:#00f,#07f 14%,#0ff 22%,#ef1 32%,#fd0 34%,#f30 40%,#f10 44%,#f40 48%,#ef1 56%,#6f9 62%,#3fc 72%,#0ff 76%,#01f 90%,#02f;width:68.3%"></i><i style="--g:#0df,#0cf 23%,#0ff 29%,#ff0 40%,#fb0 46%,#ef1 52%,#4fb 60%,#0ff 69%,#04f 92%,#04f;width:66.6%"></i><i style="--g:#09f,#09f 12%,#0ff 27%,#6f9 33%,#af5 46%,#6f9 60%,#df2 67%,#df2 69%,#cf3 71%,#1fe 79%,#0ef 81%,#02f 94%,#02f;width:65.6%"></i><i style="--g:#09f,#0ff 6%,#0cf 23%,#0ff 28%,#ef1 38%,#df2 40%,#3fc 49%,#0ff 55%,#6f9 64%,#fe0 72%,#fc0 77%,#ef1 83%,#2fd 94%,#0ef;width:64.7%"></i><i style="--g:#04f,#0bf 17%,#0cf 26%,#0ff 33%,#5fa 41%,#6f9 46%,#1fe 52%,#0df 54%,#01f 63%,#00d 65%,#008 72%,#008 87%,#00d 91%,#04f 96%,#0cf;width:63.9%"></i><i style="--g:#09f,#0ef 16%,#6f9 27%,#3fc 33%,#9f6 42%,#af5 47%,#6f9 53%,#2fd 58%,#0ef 60%,#00f 71%,#00d 76%,#00b 87%,#00b;width:61.6%"></i><i style="--g:#008,#008 2%,#00f 9%,#07f 14%,#0ff 19%,#ff0 26%,#fc0 28%,#fb0 30%,#ff0 35%,#8f7 40%,#5fa 44%,#5fa 53%,#0ff 67%,#00e 88%,#00d 93%,#00f 98%,#03f;width:59.2%"></i><i style="--g:#009,#00a 7%,#00f 15%,#0cf 22%,#2fd 24%,#7f8 29%,#8f7 32%,#0ff 41%,#4fb 59%,#1fe 88%,#08f;width:56.9%"></i><i style="--g:#008,#008 38%,#00e 48%,#09f 60%,#0bf 65%,#0bf;width:55%"></i><i style="--g:#008,#008 59%,#00e 82%,#02f 87%,#0ef;width:53.7%"></i><i style="--g:#03f,#00f 3%,#009 11%,#008 18%,#009 26%,#00e 34%,#01f 37%,#09f 42%,#0bf 45%,#0af 47%,#02f 55%,#00f 61%,#00f 71%,#04f 82%,#0ef 95%,#3fc;width:52.5%"></i><i style="--g:#03f,#05f 8%,#06f 19%,#00f 32%,#01f 35%,#0ef 43%,#3fc 46%,#5fa 51%,#0ff 57%,#06f 62%,#04f 65%,#08f 78%,#0ff 92%,#6f9;width:51.2%"></i><i style="--g:#09f,#0df 14%,#0cf 24%,#07f 38%,#08f 41%,#0cf 43%,#2fd 46%,#bf4 51%,#ef1 57%,#df2 59%,#2fd 68%,#0df 70%,#08f 76%,#06f 81%,#0cf;width:50.2%"></i><i style="--g:#03f,#07f 14%,#01f 31%,#00f 36%,#03f 42%,#0ef 53%,#2fd 56%,#5fa 64%,#0ff 72%,#06f 86%,#07f;width:49.4%"></i><i style="--g:#009,#008 3%,#008 17%,#00d 23%,#01f 26%,#06f 34%,#05f 43%,#09f 60%,#09f 80%,#06f 94%,#07f;width:48.5%"></i><i style="--g:#00c,#00f 6%,#05f 29%,#0cf 46%,#0cf 51%,#04f 71%,#07f;width:47.4%"></i><i style="--g:#0ef,#2fd 3%,#bf4 9%,#fd0 12%,#f40 19%,#f10 25%,#f40 31%,#fd0 38%,#cf3 41%,#7f8 44%,#1fe 53%,#05f 72%,#02f 81%,#04f 91%,#0af;width:44%"></i><i style="--g:#5fa,#bf4 10%,#ef1 20%,#0ef 57%,#0af 73%,#0df;width:40.7%"></i><i style="--g:#07f,#0bf 29%,#05f 54%,#09f 79%,#0af;width:38.6%"></i><i style="--g:#3fc,#cf3 4%,#fa0 7%,#f20 11%,#a00 14%,#800 18%,#800 25%,#f10 32%,#fe0 39%,#5fa 46%,#0ef 54%,#04f 64%,#00e 71%,#00c 82%,#00b;width:38.6%"></i></div><div class="hm" style="left:1162px;top:266px;width:221px;height:164px"><i style="--g:#00a,#00c 21%,#00f 26%,#09f 34%,#0ff 44%,#0df 48%,#00f 55%,#00a 58%,#008 60%,#008 64%,#00f 73%,#01f 77%,#00f 85%,#0cf"></i><i style="--g:#00b,#00b 8%,#00f 15%,#00d 21%,#00f 23%,#0ff 32%,#2fd 33%,#6f9 38%,#7f8 44%,#0ff 59%,#00e 70%,#008 75%,#008"></i><i style="--g:#00b,#00b 7%,#01f 12%,#05f 16%,#05f 26%,#07f 29%,#1fe 34%,#7f8 38%,#9f6 42%,#5fa 49%,#4fb 56%,#0ff 60%,#01f 68%,#00e 70%,#008 75%,#009"></i><i style="--g:#00b,#00b 5%,#01f 11%,#0cf 18%,#0ff 22%,#3fc 30%,#9f6 37%,#bf4 41%,#5fa 53%,#0ff 58%,#00f 66%,#00c 70%,#00f 75%,#0bf 95%,#0ff 99%,#3fc"></i><i style="--g:#00b,#00b 5%,#00f 10%,#07f 14%,#0bf 18%,#1fe 33%,#8f7 40%,#9f6 42%,#7f8 47%,#0ff 53%,#0bf 59%,#0bf 62%,#0ef 64%,#6f9 71%,#0ff 77%,#0af 85%,#0df 89%,#1fe 90%,#8f7 92%,#fd0 93%,#f40 95%,#900 96%,#800 97%,#800"></i><i style="--g:#00b,#00b 10%,#00f 14%,#0cf 19%,#1fe 22%,#3fc 26%,#4fb 34%,#9f6 41%,#bf4 45%,#8f7 49%,#0ff 55%,#0cf 58%,#0bf 60%,#0ff 66%,#af5 73%,#cf3 77%,#af5 79%,#0ff 85%,#0af 90%,#07f"></i><i style="--g:#00a,#00a 15%,#00f 23%,#04f 36%,#06f 40%,#1fe 48%,#4fb 53%,#1fe 63%,#2fd 68%,#6f9 71%,#ef1 75%,#fc0 78%,#ff0 81%,#0ef 86%,#00f 97%,#00b"></i><i style="--g:#00b,#00b 10%,#00e 14%,#02f 15%,#0ef 19%,#1fe 21%,#0ff 25%,#04f 34%,#02f 38%,#05f 41%,#0ff 47%,#3fc 51%,#0ff 55%,#0af 60%,#0af 63%,#0ff 67%,#8f7 74%,#ff0 82%,#fd0 84%,#f70 89%,#fa0 92%,#fe0 93%,#0ff 97%,#0af"></i><i style="--g:#00b,#00b 7%,#00e 11%,#02f 12%,#0ff 16%,#6f9 19%,#7f8 22%,#cf3 33%,#ef1 41%,#6f9 52%,#0ff 70%,#04f 79%,#01f 86%,#02f 90%,#09f"></i><i style="--g:#00b,#00b 8%,#00f 14%,#04f 16%,#07f 22%,#0ef 26%,#ef1 32%,#fc0 33%,#f10 36%,#b00 37%,#800 38%,#800 45%,#d00 47%,#fc0 49%,#df2 51%,#2fd 56%,#0ef 59%,#09f 71%,#00f 81%,#00c 88%,#00f 95%,#03f"></i><i style="--g:#00b,#00b 8%,#01f 12%,#0bf 18%,#1fe 22%,#df2 32%,#ff0 48%,#ef1 52%,#8f7 62%,#0ff 68%,#0ef 70%,#00e 85%,#00a 90%,#00e"></i><i style="--g:#00b,#00b 7%,#00e 11%,#02f 12%,#0ef 16%,#ff0 22%,#fc0 23%,#fa0 26%,#ff0 30%,#df2 36%,#ff0 49%,#f50 58%,#f40 60%,#f50 63%,#ff0 67%,#3fc 71%,#0ff 74%,#0cf 81%,#0ff 92%,#9f6 97%,#9f6"></i><i style="--g:#00b,#00b 8%,#00f 12%,#0cf 16%,#1fe 18%,#7f8 21%,#9f6 23%,#8f7 34%,#ef1 42%,#ff0 48%,#e00 55%,#d00 56%,#f10 59%,#fd0 63%,#df2 64%,#5fa 67%,#0ff 71%,#0cf 77%,#0ff 82%,#3fc 86%,#0ef 90%,#0cf"></i><i style="--g:#00b,#00b 7%,#00f 11%,#0cf 16%,#0ff 19%,#fe0 32%,#f70 38%,#f10 41%,#c00 42%,#800 44%,#800 49%,#a00 51%,#f10 52%,#ff0 55%,#bf4 56%,#5fa 60%,#0ff 67%,#08f 74%,#0bf 85%,#06f"></i><i style="--g:#00b,#00b 7%,#00e 11%,#09f 18%,#09f 26%,#0ff 32%,#7f8 36%,#af5 40%,#1fe 52%,#09f 59%,#07f 63%,#08f 66%,#0df 73%,#0ef 75%,#0bf 79%,#02f 86%,#00f 89%,#01f 92%,#0af"></i><i style="--g:#00b,#00b 8%,#00d 12%,#01f 14%,#0af 18%,#0ff 23%,#bf4 36%,#bf4 38%,#0ff 52%,#0bf 55%,#01f 59%,#00d 60%,#008 63%,#008 68%,#00f 75%,#03f 79%,#05f 88%,#0bf"></i><i style="--g:#00b,#00b 7%,#01f 12%,#1fe 23%,#6f9 29%,#6f9 37%,#8f7 45%,#6f9 49%,#0ff 53%,#0af 58%,#09f 60%,#0ff 70%,#0ff 75%,#0df 81%,#07f 89%,#08f"></i><i style="--g:#00b,#00b 6%,#01f 10%,#0cf 13%,#3fc 14%,#cf3 17%,#fd0 20%,#f50 24%,#f30 27%,#ff0 32%,#9f6 41%,#1fe 46%,#0ef 48%,#08f 52%,#06f 56%,#08f 65%,#0ef 72%,#3fc 75%,#cf3 79%,#ff0 87%,#fe0 90%,#fe0 93%,#af5;width:98.5%"></i><i style="--g:#00b,#00b 7%,#00e 10%,#03f 11%,#0ff 14%,#6f9 16%,#8f7 17%,#6f9 20%,#6f9 23%,#cf3 29%,#fe0 30%,#f70 33%,#f30 36%,#f50 39%,#fe0 44%,#bf4 49%,#0ff 54%,#07f 59%,#05f 64%,#07f 73%,#0ff 84%,#3fc 93%,#8f7 96%,#df2 97%,#fc0 99%,#f50;width:96.8%"></i><i style="--g:#00b,#00b 9%,#00e 13%,#01f 15%,#0ef 21%,#9f6 28%,#ef1 35%,#ff0 38%,#6f9 53%,#1fe 57%,#0df 59%,#08f 65%,#0cf 79%,#06f 91%,#08f 96%,#0ef;width:94.2%"></i><i style="--g:#00b,#00b 9%,#00f 15%,#0cf 21%,#1fe 23%,#af5 27%,#fe0 33%,#fc0 38%,#f30 45%,#f50 48%,#ef1 55%,#0ff 64%,#0cf 68%,#0af 77%,#04f 91%,#06f;width:90.7%"></i><i style="--g:#00b,#00b 8%,#00e 12%,#02f 14%,#0ff 18%,#bf4 22%,#fc0 23%,#f70 25%,#f40 26%,#f40 28%,#fc0 32%,#ff0 35%,#fa0 42%,#fb0 43%,#fe0 46%,#4fb 54%,#0ef 60%,#05f 71%,#04f 74%,#0af 85%,#0df 92%,#0df 97%,#0bf;width:89.7%"></i><i style="--g:#00b,#00b 9%,#00f 14%,#0af 17%,#2fd 18%,#af5 20%,#fc0 22%,#f40 23%,#e00 25%,#a00 26%,#800 28%,#800 29%,#f00 32%,#fd0 37%,#ff0 38%,#8f7 46%,#2fd 60%,#0ff 69%,#09f 78%,#08f 82%,#0df 92%,#0ef;width:89.3%"></i><i style="--g:#00b,#00b 8%,#00e 11%,#02f 12%,#0df 17%,#1fe 18%,#af5 28%,#fe0 31%,#f30 34%,#c00 35%,#800 37%,#800 42%,#a00 43%,#e00 45%,#fc0 49%,#ef1 52%,#0ff 62%,#06f 71%,#02f 78%,#05f 86%,#08f 89%,#0ff 94%,#fe0 98%,#fc0;width:88.9%"></i><i style="--g:#00b,#00c 8%,#00f 11%,#04f 12%,#1fe 16%,#ef1 19%,#fb0 20%,#fa0 23%,#fe0 30%,#fa0 38%,#ff0 44%,#5fa 53%,#4fb 56%,#7f8 66%,#6f9 69%,#2fd 72%,#0ef 73%,#06f 78%,#04f 81%,#0ef;width:88.5%"></i><i style="--g:#00b,#00b 10%,#00e 15%,#02f 17%,#0df 22%,#1fe 24%,#5fa 29%,#6f9 42%,#4fb 51%,#8f7 61%,#7f8 64%,#0ef 76%,#05f 90%,#04f 95%,#06f;width:81.6%"></i><i style="--g:#00a,#00b 10%,#00f 15%,#0df 20%,#2fd 22%,#7f8 25%,#ff0 39%,#f40 46%,#f10 49%,#f20 53%,#f80 61%,#ff0 66%,#5fa 73%,#2fd 78%,#4fb 83%,#ef1 88%,#fd0 90%,#f80 95%,#f90 98%,#fb0;width:81.6%"></i><i style="--g:#00a,#00b 8%,#00e 14%,#0ff 27%,#df2 36%,#ff0 39%,#ef1 44%,#3fc 58%,#2fd 61%,#8f7 75%,#df2 78%,#fe0 80%,#f50 85%,#f20 88%,#f50 92%,#ff0 95%,#4fb 98%,#0ff;width:81.6%"></i><i style="--g:#00b,#00c 7%,#00f 10%,#06f 16%,#1fe 31%,#bf4 45%,#cf3 50%,#bf4 53%,#2fd 62%,#1fe 66%,#af5 81%,#8f7 84%,#0ff 90%,#01f;width:80.4%"></i><i style="--g:#00b,#00a 18%,#00e 23%,#0bf 34%,#0ff 41%,#4fb 52%,#0ff 61%,#0ff 66%,#1fe 70%,#7f8 75%,#fe0 79%,#f90 80%,#f60 82%,#f60 84%,#f90 86%,#fe0 88%,#9f6 89%,#3fc 91%,#0ff 93%,#06f;width:77.7%"></i><i style="--g:#00b,#00f 7%,#02f 9%,#06f 15%,#07f 25%,#0ff 33%,#ef1 42%,#f60 47%,#f40 51%,#f50 53%,#ff0 58%,#6f9 65%,#0ff 75%,#0bf 80%,#01f 87%,#00d 89%,#008 93%,#008;width:76.1%"></i><i style="--g:#00b,#00b 6%,#00f 11%,#07f 19%,#0ff 24%,#ef1 33%,#f50 39%,#f20 43%,#f30 44%,#ff0 52%,#bf4 57%,#0ef 67%,#0af 72%,#08f 81%,#00f 91%,#00f;width:74.9%"></i><i style="--g:#00b,#00c 7%,#00f 11%,#04f 13%,#0ef 17%,#df2 22%,#fe0 26%,#fa0 35%,#ff0 41%,#0ff 54%,#07f 61%,#05f 67%,#0af 80%,#06f 89%,#07f 93%,#0cf;width:73.7%"></i><i style="--g:#00b,#00b 6%,#00e 10%,#02f 12%,#08f 13%,#4fb 15%,#fb0 17%,#b00 19%,#800 21%,#800 42%,#900 44%,#f20 46%,#f90 48%,#ff0 50%,#df2 52%,#0ff 63%,#08f 92%,#0af;width:71.5%"></i><i style="--g:#00b,#00c 10%,#00f 14%,#04f 16%,#0af 18%,#3fc 20%,#bf4 22%,#fe0 24%,#fb0 25%,#fa0 27%,#fc0 39%,#ff0 43%,#6f9 57%,#0ff 63%,#04f 73%,#01f 84%,#02f 90%,#0af;width:69.8%"></i><i style="--g:#00b,#00b 14%,#01f 22%,#0af 32%,#0ff 44%,#0df 54%,#00f 72%,#00d 78%,#01f 84%,#09f 94%,#0af;width:68.9%"></i><i style="--g:#00b,#00c 22%,#00e 29%,#04f 33%,#0ef 39%,#3fc 41%,#af5 47%,#df2 51%,#cf3 55%,#5fa 65%,#3fc 76%,#5fa 84%,#8f7 88%,#bf4 90%,#fd0 92%,#f10 96%,#a00 98%,#800;width:68%"></i><i style="--g:#00b,#00a 14%,#00d 20%,#01f 22%,#0df 29%,#2fd 31%,#df2 37%,#fb0 39%,#f40 41%,#b00 43%,#800 45%,#800 84%,#f00 92%,#f60;width:67.1%"></i><i style="--g:#00b,#00b 12%,#01f 19%,#0ef 25%,#4fb 27%,#ef1 31%,#f00 40%,#800 46%,#800 54%,#e00 58%,#f70 62%,#fa0 67%,#f70 71%,#e00 75%,#900 77%,#800 79%,#800;width:65.7%"></i><i style="--g:#00b,#00b 15%,#00f 21%,#0ef 30%,#1fe 32%,#4fb 38%,#6f9 53%,#ef1 62%,#fc0 64%,#f50 66%,#a00 68%,#800 70%,#800;width:64.2%"></i><i style="--g:#00b,#00b 14%,#00f 20%,#06f 27%,#09f 39%,#0ff 50%,#4fb 61%,#0ff 75%,#0ef 82%,#0ff 86%,#5fa;width:60.8%"></i><i style="--g:#00b,#00b 12%,#00e 20%,#0af 32%,#0af 37%,#04f 49%,#05f 66%,#08f 73%,#0df 80%,#0ff 83%,#6f9 93%,#6f9;width:56.3%"></i></div><div class="hm" style="left:86px;top:816.5px;width:221px;height:166px"><i style="--g:#0cf,#0ff 3%,#0cf 10%,#0ff 14%,#0ff 16%,#09f 22%,#07f 30%,#00e 37%,#008 41%,#008 42%,#008 47%,#00a 52%,#008 58%,#008 66%,#00c 71%,#008 77%,#008 85%,#00f 93%,#00e 97%,#00b"></i><i style="--g:#0df,#0ff 3%,#04f 10%,#00e 14%,#009 21%,#00c 29%,#00b 32%,#008 34%,#008 45%,#008 47%,#00e 49%,#04f 52%,#06f 55%,#00f 60%,#00d 63%,#00e 66%,#03f 70%,#00f 73%,#009 75%,#008 77%,#008 96%,#00a"></i><i style="--g:#0af,#0af 3%,#00f 8%,#008 14%,#008 25%,#008 36%,#00f 41%,#04f 45%,#04f 52%,#00f 60%,#009 68%,#008 77%,#009 81%,#01f 86%,#03f 90%,#02f"></i><i style="--g:#0ef,#2fd 1%,#0ef 4%,#01f 8%,#00d 10%,#00a 14%,#008 38%,#00f 52%,#00f 56%,#00a 66%,#00d 75%,#00b 85%,#00f"></i><i style="--g:#5fa,#af5 1%,#cf3 3%,#9f6 4%,#0ef 7%,#05f 10%,#00f 14%,#00b 21%,#00e 30%,#00a 37%,#00a 40%,#00f 44%,#06f 49%,#05f 52%,#00f 56%,#00a 62%,#00f 71%,#02f 79%,#00f 85%,#00a 90%,#00b"></i><i style="--g:#f90,#f30 1%,#f10 3%,#f50 4%,#fc0 5%,#9f6 7%,#2fd 8%,#0af 10%,#00f 12%,#00b 14%,#008 15%,#008 26%,#00f 32%,#00f 37%,#05f 41%,#0ff 45%,#3fc 47%,#3fc 48%,#2fd 49%,#0df 51%,#06f 53%,#00e 58%,#00a 63%,#008 77%,#00b 84%,#00a 92%,#00f 97%,#03f"></i><i style="--g:#7f8,#df2 1%,#ff0 3%,#df2 4%,#3fc 7%,#0cf 8%,#01f 12%,#00d 14%,#008 18%,#008 22%,#00e 29%,#00d 36%,#00f 38%,#06f 44%,#07f 47%,#03f 53%,#03f 59%,#00f 64%,#00b 75%,#00b 84%,#008 89%,#008"></i><i style="--g:#3fc,#7f8 1%,#7f8 3%,#1fe 5%,#0bf 7%,#08f 8%,#05f 11%,#08f 16%,#07f 19%,#00e 25%,#009 29%,#008 32%,#009 34%,#01f 40%,#04f 42%,#05f 45%,#04f 48%,#00f 51%,#008 55%,#008 63%,#01f 68%,#02f 73%,#00f 79%,#008 88%,#008 96%,#00b"></i><i style="--g:#6f9,#cf3 1%,#ef1 3%,#cf3 4%,#0ff 8%,#00f 19%,#00c 26%,#008 30%,#008 41%,#009 42%,#00f 45%,#0df 51%,#2fd 52%,#3fc 53%,#1fe 56%,#07f 60%,#00f 67%,#008 78%,#008 89%,#00e 97%,#01f"></i><i style="--g:#f90,#f20 1%,#f00 3%,#f10 4%,#ff0 8%,#0ff 14%,#05f 18%,#00f 21%,#00d 22%,#008 27%,#008 36%,#00a 41%,#008 47%,#008 51%,#008 52%,#00e 55%,#0cf 62%,#0cf 63%,#02f 70%,#00e 73%,#00c 81%,#008 86%,#008 90%,#01f 97%,#02f"></i><i style="--g:#ef1,#f80 1%,#f50 3%,#f80 4%,#fe0 5%,#1fe 8%,#04f 12%,#00e 15%,#008 19%,#008 34%,#00d 37%,#00f 38%,#08f 42%,#0af 45%,#05f 60%,#08f 70%,#00f 86%,#00c 93%,#00c"></i><i style="--g:#0ff,#7f8 1%,#af5 3%,#9f6 4%,#2fd 7%,#0df 8%,#00f 14%,#00d 15%,#008 18%,#008 32%,#00a 34%,#00b 38%,#008 47%,#008 56%,#009 60%,#008 73%,#009 75%,#00e 79%,#06f 84%,#08f 86%,#00f 93%,#01f"></i><i style="--g:#0ef,#5fa 1%,#6f9 3%,#0ff 5%,#08f 8%,#07f 15%,#00e 22%,#008 27%,#009 30%,#00f 37%,#02f 41%,#00f 45%,#008 52%,#009 55%,#00d 58%,#00f 59%,#07f 63%,#09f 66%,#00f 74%,#00f 95%,#02f"></i><i style="--g:#fe0,#fa0 1%,#fa0 3%,#ff0 4%,#1fe 7%,#0bf 8%,#09f 11%,#1fe 15%,#5fa 19%,#3fc 22%,#1fe 23%,#00e 30%,#00a 33%,#009 36%,#00f 47%,#01f 49%,#00f 52%,#00c 58%,#00f 63%,#02f 67%,#00f 73%,#00a 79%,#008 84%,#009 88%,#00e 92%,#01f 93%,#0af"></i><i style="--g:#d00,#800 1%,#800 3%,#f00 4%,#fb0 5%,#8f7 7%,#0df 8%,#06f 10%,#00f 12%,#00a 23%,#00d 34%,#009 42%,#00d 47%,#01f 48%,#07f 52%,#08f 59%,#0df 63%,#0ff 64%,#ff0 78%,#bf4 81%,#0ef 84%,#08f 85%,#00f 89%,#00f 93%,#04f 97%,#03f"></i><i style="--g:#800,#800 4%,#f50 5%,#df2 7%,#4fb 8%,#0df 10%,#04f 12%,#00e 15%,#00c 18%,#00b 23%,#008 27%,#008 37%,#00f 44%,#06f 52%,#09f 55%,#0ff 58%,#3fc 59%,#6f9 63%,#0ff 68%,#08f 74%,#00f 84%,#00c 88%,#00f 92%,#08f 97%,#06f"></i><i style="--g:#fa0,#f40 1%,#f20 3%,#f50 4%,#ff0 7%,#6f9 10%,#0ef 14%,#09f 18%,#07f 26%,#00e 36%,#00a 44%,#00e 48%,#0bf 56%,#06f 63%,#0cf 71%,#01f 79%,#00e 81%,#00d 84%,#00f 86%,#0af 96%,#06f"></i><i style="--g:#df2,#fb0 3%,#fe0 4%,#2fd 8%,#0ff 10%,#5fa 16%,#1fe 21%,#01f 27%,#00e 29%,#008 32%,#008 33%,#008 47%,#008 48%,#00e 51%,#02f 52%,#04f 55%,#00e 62%,#00c 66%,#00d 73%,#008 79%,#008 86%,#008 88%,#00e 93%,#01f"></i><i style="--g:#f90,#f20 1%,#f00 3%,#f40 4%,#fc0 5%,#af5 7%,#4fb 8%,#0ff 10%,#0bf 12%,#0af 19%,#06f 27%,#00f 33%,#008 37%,#008 38%,#00a 51%,#008 56%,#008 68%,#00c 73%,#00f 79%,#00d 84%,#008 88%,#008 96%,#00d"></i><i style="--g:#cf3,#fb0 1%,#f90 3%,#fb0 4%,#ef1 5%,#3fc 8%,#1fe 10%,#0ff 11%,#4fb 14%,#ef1 18%,#fb0 21%,#fc0 22%,#ff0 23%,#0ff 26%,#03f 29%,#00d 30%,#008 33%,#008 37%,#00e 42%,#00f 45%,#00e 52%,#008 59%,#008 71%,#00f 74%,#08f 77%,#0ef 78%,#af5 81%,#cf3 82%,#bf4 84%,#3fc 86%,#0cf 88%,#08f 89%,#01f 93%,#00d 97%,#00e"></i><i style="--g:#df2,#fc0 1%,#fb0 3%,#fe0 4%,#3fc 8%,#1fe 10%,#0ef 15%,#07f 21%,#00f 32%,#00d 36%,#00f 38%,#07f 42%,#08f 45%,#06f 48%,#01f 52%,#008 56%,#008 58%,#008 68%,#00d 71%,#02f 73%,#0ff 78%,#2fd 79%,#1fe 81%,#00f 88%,#008 95%,#008"></i><i style="--g:#fa0,#f40 1%,#f40 3%,#df2 5%,#5fa 7%,#0ef 8%,#07f 11%,#00f 16%,#009 22%,#00a 25%,#01f 29%,#0bf 36%,#0cf 38%,#01f 51%,#00c 58%,#00f 63%,#04f 67%,#0ff 75%,#3fc 84%,#0ff 86%,#08f 89%,#02f 93%,#00f 96%,#00e"></i><i style="--g:#800,#800 4%,#f40 5%,#df2 7%,#1fe 8%,#03f 11%,#00e 12%,#00b 16%,#00e 26%,#008 36%,#008 41%,#00f 51%,#08f 63%,#06f 73%,#08f 75%,#0bf 77%,#1fe 78%,#af5 81%,#cf3 82%,#cf3 84%,#af5 85%,#0ff 88%,#07f 90%,#03f 93%,#01f 96%,#04f"></i><i style="--g:#f00,#800 1%,#900 4%,#f40 5%,#ff0 7%,#6f9 8%,#0ff 10%,#0bf 11%,#07f 14%,#04f 23%,#00f 27%,#008 32%,#008 45%,#00f 58%,#03f 63%,#00e 68%,#008 73%,#008 92%,#01f 96%,#03f"></i><i style="--g:#cf3,#fc0 1%,#fa0 3%,#fe0 4%,#3fc 7%,#0df 8%,#08f 11%,#04f 23%,#00f 27%,#008 32%,#008 68%,#00c 73%,#00d 75%,#008 82%,#008 97%,#00b"></i><i style="--g:#ff0,#fa0 1%,#fa0 3%,#ff0 4%,#1fe 7%,#0af 8%,#06f 10%,#04f 12%,#05f 15%,#0bf 22%,#08f 25%,#02f 27%,#00d 29%,#008 32%,#008 40%,#00b 45%,#008 51%,#008 62%,#00a 67%,#008 77%,#008 90%,#00e"></i><i style="--g:#df2,#fe0 1%,#ff0 3%,#9f6 4%,#0ff 6%,#06f 7%,#00e 8%,#008 10%,#008 11%,#008 18%,#01f 22%,#03f 26%,#00f 32%,#009 39%,#00b 42%,#00f 44%,#04f 49%,#02f 53%,#00f 54%,#00a 58%,#008 62%,#008 92%,#00f 99%,#01f;margin-left:1%;width:99%"></i><i style="--g:#07f,#0bf 1%,#0cf 3%,#09f 4%,#00e 7%,#009 8%,#008 10%,#008 18%,#00d 21%,#01f 23%,#0bf 32%,#0bf 35%,#06f 41%,#06f 44%,#07f 59%,#09f 63%,#0df 66%,#1fe 68%,#cf3 73%,#cf3 75%,#9f6 76%,#5fa 77%,#0df 79%,#07f 80%,#00f 83%,#009 87%,#00f 96%,#02f;margin-left:2.4%;width:97.6%"></i><i style="--g:#0af,#08f 3%,#01f 6%,#00c 7%,#008 10%,#008 36%,#00a 41%,#00f 47%,#01f 57%,#05f 64%,#1fe 71%,#1fe 74%,#0ff 76%,#01f 83%,#00d 86%,#00f 89%,#0bf 93%,#3fc 94%,#8f7 96%,#bf4 97%,#bf4 99%,#7f8;margin-left:3.8%;width:96.2%"></i><i style="--g:#00d,#01f 1%,#06f 6%,#06f 9%,#00e 17%,#00c 23%,#00f 32%,#05f 43%,#08f 46%,#2fd 49%,#8f7 52%,#6f9 55%,#0ff 58%,#0df 59%,#08f 62%,#00e 75%,#009 83%,#00a 86%,#00f 90%,#08f 97%,#0df;margin-left:5.2%;width:94.8%"></i><i style="--g:#0ef,#4fb 3%,#1fe 6%,#02f 12%,#00f 13%,#00d 16%,#00f 21%,#00f 32%,#0ff 49%,#1fe 50%,#0ef 53%,#04f 57%,#00e 60%,#00b 63%,#008 72%,#008 81%,#00e 96%,#00f;margin-left:6.6%;width:93.4%"></i><i style="--g:#0ff,#4fb 1%,#5fa 3%,#0ef 7%,#00f 16%,#00b 21%,#00e 30%,#008 37%,#008 40%,#01f 48%,#03f 51%,#00f 55%,#00c 60%,#00d 67%,#009 75%,#01f 82%,#04f 88%,#02f;margin-left:7.9%;width:92.1%"></i><i style="--g:#cf3,#fd0 2%,#fb0 3%,#ef1 6%,#bf4 8%,#9f6 9%,#9f6 14%,#0ff 18%,#00f 27%,#008 32%,#008 58%,#00f 67%,#02f 71%,#00f 77%,#00f 88%,#009 95%,#00a;margin-left:9.3%;width:90.7%"></i><i style="--g:#fc0,#f50 2%,#f30 3%,#f60 5%,#fd0 6%,#0ff 9%,#03f 12%,#00e 14%,#00b 15%,#00a 18%,#00f 25%,#00f 29%,#008 37%,#008 48%,#00f 54%,#00f 57%,#008 62%,#008 71%,#00c 78%,#00e;margin-left:10.6%;width:89.4%"></i><i style="--g:#cf3,#fe0 2%,#fe0 3%,#bf4 5%,#4fb 6%,#0bf 8%,#01f 11%,#00d 12%,#008 25%,#008 39%,#01f 45%,#02f 48%,#01f 53%,#00f 55%,#008 61%,#008 67%,#00e 75%,#00f 77%,#07f 83%,#0bf 89%,#0af 92%,#01f;margin-left:11.7%;width:88.3%"></i><i style="--g:#9f6,#cf3 2%,#df2 3%,#af5 5%,#0ef 8%,#06f 11%,#02f 14%,#00e 17%,#00c 24%,#00f 30%,#05f 40%,#04f 43%,#00e 48%,#00a 52%,#008 59%,#00a 70%,#008 76%,#008 84%,#00f 90%,#05f 95%,#04f;margin-left:12.8%;width:87.2%"></i><i style="--g:#af5,#ff0 2%,#fd0 3%,#ff0 5%,#1fe 10%,#05f 17%,#01f 22%,#02f 27%,#0cf 40%,#00e 49%,#008 52%,#008 60%,#009 62%,#00f 65%,#07f 70%,#09f 73%,#01f 89%,#00e;margin-left:13.9%;width:86.1%"></i><i style="--g:#f60,#b00 2%,#800 3%,#800 11%,#c00 15%,#f20 16%,#ff0 19%,#0ff 23%,#0af 24%,#07f 26%,#02f 31%,#02f 39%,#00f 44%,#00a 61%,#00b 66%,#00f 69%,#0ef 77%,#0ef 79%,#00e 85%,#008 89%,#008 90%,#00c;margin-left:14.9%;width:85.1%"></i><i style="--g:#cf3,#fe0 2%,#fe0 3%,#cf3 5%,#0ff 8%,#05f 11%,#01f 15%,#00e 16%,#00d 21%,#00f 28%,#04f 36%,#01f 46%,#00f 61%,#00b 67%,#00c 70%,#00f 72%,#06f 75%,#1fe 79%,#4fb 80%,#4fb 82%,#0ff 84%,#07f 87%,#03f 90%,#02f;margin-left:16%;width:84%"></i><i style="--g:#0df,#2fd 2%,#4fb 3%,#2fd 5%,#0df 7%,#04f 10%,#00e 13%,#009 27%,#00b 30%,#01f 35%,#03f 38%,#01f 43%,#009 50%,#008 53%,#00d 63%,#00d 73%,#00b 82%,#00f 88%,#09f 97%,#0af;margin-left:17.1%;width:82.9%"></i><i style="--g:#2fd,#7f8 2%,#9f6 3%,#6f9 5%,#1fe 7%,#0bf 8%,#04f 12%,#00f 20%,#008 25%,#008 27%,#008 32%,#00b 37%,#008 42%,#008 61%,#00d 71%,#008 80%,#008 88%,#00a 95%,#008;margin-left:18.2%;width:81.8%"></i><i style="--g:#af5,#ef1 2%,#ff0 3%,#cf3 5%,#2fd 8%,#0cf 10%,#00e 19%,#009 24%,#008 27%,#009 31%,#00f 39%,#00d 58%,#00f 64%,#07f 78%,#06f 83%,#00f 92%,#00b 97%,#00c;margin-left:18.5%;width:81.5%"></i><i style="--g:#1fe,#4fb 3%,#0ef 7%,#08f 10%,#00f 19%,#008 24%,#008 37%,#00f 44%,#02f 49%,#00f 58%,#03f 68%,#02f 76%,#06f 85%,#00f 95%,#00e;margin-left:18.8%;width:81.2%"></i><i style="--g:#05f,#0df 3%,#0ef 7%,#00f 25%,#00b 29%,#00a 32%,#00f 39%,#00e 44%,#008 49%,#008 59%,#00f 66%,#00d 69%,#008 75%,#008 76%,#008 80%,#00b 86%,#00c;margin-left:19.1%;width:80.9%"></i><i style="--g:#0ef,#5fa 2%,#7f8 3%,#6f9 5%,#0ef 8%,#06f 14%,#00e 20%,#008 25%,#008 37%,#008 39%,#01f 44%,#05f 49%,#05f 58%,#07f 64%,#06f 68%,#00e 73%,#008 76%,#008;margin-left:19.4%;width:80.6%"></i><i style="--g:#fd0,#f70 2%,#f60 3%,#fc0 5%,#af5 7%,#1fe 9%,#08f 10%,#02f 12%,#00e 14%,#00b 17%,#00b 24%,#008 31%,#008 40%,#008 41%,#00f 45%,#08f 50%,#0bf 55%,#09f 59%,#00f 67%,#008 72%,#008 86%,#008 88%,#00d 93%,#00f;margin-left:19.7%;width:80.3%"></i><i style="--g:#f80,#f10 2%,#f00 3%,#f60 5%,#ff0 7%,#5fa 9%,#0cf 10%,#08f 12%,#04f 16%,#03f 26%,#00f 31%,#00c 36%,#00f 48%,#06f 60%,#04f 69%,#00f 74%,#009 79%,#008 83%,#00a 91%,#008;margin-left:20%;width:80%"></i><i style="--g:#c00,#800 2%,#800 5%,#f20 7%,#fc0 9%,#af5 10%,#5fa 12%,#1fe 17%,#04f 26%,#00f 31%,#00b 47%,#00d 57%,#008 66%,#009 69%,#00f 78%,#00e 81%,#008 88%,#008 97%,#00b;margin-left:20.8%;width:79.2%"></i><i style="--g:#f20,#c00 2%,#c00 4%,#f30 5%,#fc0 7%,#8f7 9%,#1fe 11%,#0bf 12%,#07f 16%,#05f 23%,#01f 29%,#00d 30%,#008 36%,#008 45%,#01f 52%,#03f 57%,#00f 62%,#00a 71%,#00d 77%,#01f 79%,#08f 84%,#08f 88%,#06f 93%,#01f 98%,#00e;margin-left:22.4%;width:77.6%"></i><i style="--g:#fa0,#f70 2%,#f80 4%,#ff0 5%,#6f9 7%,#0cf 9%,#05f 11%,#01f 13%,#00e 15%,#00d 24%,#008 33%,#008 44%,#008 45%,#00d 51%,#00d 55%,#00a 62%,#00f 73%,#0af 85%,#07f 89%,#02f 93%,#00e 95%,#008 98%,#008;margin-left:24%;width:76%"></i><i style="--g:#f50,#f00 2%,#f00 4%,#f70 6%,#ef1 7%,#5fa 9%,#0cf 11%,#07f 13%,#04f 15%,#00f 26%,#008 35%,#008 41%,#00c 50%,#00f 63%,#01f 69%,#00f 72%,#008 80%,#008 87%,#008 89%,#00c 91%,#00f 93%,#07f 96%,#0af;margin-left:25.5%;width:74.5%"></i><i style="--g:#fb0,#f60 2%,#f60 4%,#fb0 6%,#bf4 8%,#3fc 9%,#0cf 11%,#08f 13%,#07f 15%,#0af 23%,#06f 26%,#00f 30%,#008 36%,#008 47%,#00d 55%,#00f 60%,#00d 68%,#008 75%,#008 89%,#00f 96%,#01f;margin-left:27.1%;width:72.9%"></i><i style="--g:#800,#800 8%,#a00 10%,#f20 12%,#fd0 15%,#df2 17%,#2fd 21%,#06f 25%,#00f 29%,#00c 35%,#00f 40%,#01f 44%,#00e 54%,#00f 58%,#0cf 67%,#0cf 69%,#01f 79%,#00d 87%,#008 96%,#009;margin-left:28.7%;width:71.3%"></i><i style="--g:#f00,#800 2%,#800 4%,#c00 6%,#f80 8%,#bf4 10%,#1fe 12%,#05f 16%,#00f 20%,#00d 26%,#00f 38%,#00f 48%,#00c 56%,#00e 88%,#009;margin-left:31.3%;width:68.7%"></i><i style="--g:#ef1,#f90 2%,#f70 4%,#df2 8%,#1fe 12%,#0cf 15%,#0af 17%,#09f 21%,#0af 25%,#0ef 29%,#0ff 33%,#00f 44%,#00a 48%,#009 52%,#01f 67%,#05f 81%,#04f 90%,#00e;margin-left:34.5%;width:65.5%"></i><i style="--g:#2fd,#6f9 2%,#7f8 4%,#1fe 9%,#0df 11%,#0cf 13%,#0ef 17%,#af5 24%,#df2 30%,#af5 35%,#0ff 39%,#05f 43%,#00e 48%,#009 52%,#008 57%,#00f 65%,#07f 76%,#0ef 80%,#3fc 83%,#5fa 85%,#5fa 87%,#2fd 89%,#0df 91%,#09f 93%,#03f;margin-left:36.6%;width:63.4%"></i><i style="--g:#6f9,#af5 2%,#cf3 4%,#af5 7%,#1fe 13%,#0cf 20%,#0ff 28%,#bf4 37%,#cf3 41%,#af5 43%,#2fd 48%,#0cf 50%,#06f 54%,#03f 61%,#07f 70%,#0ef 78%,#0ff 85%,#0cf 91%,#04f;margin-left:37.1%;width:62.9%"></i><i style="--g:#f20,#e00 2%,#f00 4%,#f60 7%,#ff0 9%,#0ff 13%,#05f 18%,#00e 22%,#00b 27%,#009 33%,#00b 44%,#00f 53%,#02f 58%,#02f 89%,#00e;margin-left:37.6%;width:62.4%"></i><i style="--g:#9f6,#cf3 2%,#cf3 4%,#0ef 11%,#06f 16%,#00e 22%,#00b 31%,#00f 40%,#05f 49%,#05f 53%,#00f 80%,#00a 91%,#00c;margin-left:38%;width:62%"></i><i style="--g:#07f,#0cf 2%,#0ef 4%,#0cf 7%,#01f 13%,#00c 22%,#008 29%,#008 40%,#00d 47%,#00e 51%,#00c 67%,#00f 84%,#04f 91%,#09f 96%,#0ef 98%,#4fb;margin-left:38.5%;width:61.5%"></i><i style="--g:#0af,#0ff 2%,#1fe 5%,#0cf 7%,#00f 11%,#009 14%,#008 16%,#008 41%,#00d 50%,#00e 55%,#008 68%,#008 84%,#00d 95%,#00b;margin-left:39%;width:61%"></i><i style="--g:#fc0,#f60 2%,#f40 5%,#f80 7%,#fe0 9%,#1fe 14%,#0bf 16%,#00f 23%,#00d 25%,#009 30%,#009 34%,#00f 48%,#02f 70%,#00f 77%,#008 86%,#008;margin-left:39.5%;width:60.5%"></i><i style="--g:#af5,#fe0 2%,#fc0 5%,#ff0 7%,#2fd 11%,#0cf 14%,#07f 18%,#00e 32%,#00b 36%,#00a 41%,#01f 59%,#06f 66%,#0df 73%,#0ff 77%,#00f 91%,#008;margin-left:39.9%;width:60.1%"></i><i style="--g:#f70,#f20 2%,#f30 5%,#f90 7%,#cf3 9%,#3fc 12%,#0af 14%,#05f 16%,#00f 21%,#00f 35%,#009 47%,#009 51%,#00d 56%,#01f 58%,#0ef 67%,#1fe 72%,#0ef 74%,#00f 86%,#008 93%,#008;margin-left:40.4%;width:59.6%"></i><i style="--g:#f80,#f40 2%,#f50 5%,#fc0 7%,#9f6 9%,#0ff 12%,#08f 14%,#04f 16%,#02f 19%,#03f 28%,#00f 35%,#00b 42%,#00a 47%,#00d 67%,#00c 72%,#008 77%,#008;margin-left:40.9%;width:59.1%"></i><i style="--g:#fd0,#f90 2%,#f90 5%,#ff0 7%,#0df 12%,#07f 14%,#03f 16%,#01f 21%,#01f 35%,#06f 51%,#04f 60%,#05f 72%,#00f 81%,#009 93%,#009;margin-left:41.4%;width:58.6%"></i><i style="--g:#fb0,#f50 2%,#f50 5%,#fa0 7%,#bf4 10%,#3fc 12%,#0bf 14%,#08f 17%,#06f 19%,#06f 31%,#01f 38%,#008 48%,#008 55%,#00d 62%,#06f 69%,#0df 74%,#2fd 76%,#6f9 81%,#5fa 83%,#1fe 86%,#02f 93%,#00d 95%,#008;margin-left:42.5%;width:57.5%"></i><i style="--g:#af5,#ef1 2%,#ef1 5%,#af5 7%,#4fb 10%,#0cf 12%,#04f 17%,#00f 29%,#008 44%,#008 83%,#00c 93%,#00a;margin-left:44.3%;width:55.7%"></i><i style="--g:#1fe,#5fa 3%,#5fa 5%,#0ff 8%,#02f 13%,#00b 15%,#008 18%,#008 77%,#008 79%,#00f 87%,#02f 92%,#00e;margin-left:46.1%;width:53.9%"></i><i style="--g:#ff0,#fb0 3%,#fb0 5%,#ef1 8%,#0df 13%,#06f 16%,#02f 18%,#00e 21%,#00d 26%,#00f 37%,#01f 76%,#00f 84%,#009;margin-left:47.9%;width:52.1%"></i><i style="--g:#7f8,#af5 3%,#9f6 5%,#4fb 8%,#0bf 11%,#04f 14%,#00d 16%,#00a 19%,#009 24%,#00f 49%,#09f 70%,#06f 78%,#01f 84%,#008 89%,#008;margin-left:49.9%;width:50.1%"></i><i style="--g:#0ff,#3fc 3%,#4fb 6%,#1fe 9%,#03f 18%,#01f 24%,#02f 41%,#05f 65%,#04f 74%,#00f 82%,#008 94%,#008;margin-left:53.4%;width:46.6%"></i><i style="--g:#0ff,#4fb 3%,#4fb 6%,#1fe 10%,#04f 16%,#00d 19%,#00a 23%,#008 29%,#00b 61%,#00f 74%,#00f 81%,#00a 94%,#00a;margin-left:57%;width:43%"></i><i style="--g:#7f8,#bf4 3%,#cf3 7%,#8f7 10%,#2fd 14%,#0bf 17%,#01f 24%,#00e 28%,#00b 34%,#009 45%,#00b 55%,#00f 66%,#06f 76%,#08f 83%,#02f 93%,#00c;margin-left:60.5%;width:39.5%"></i><i style="--g:#df2,#fc0 7%,#ff0 11%,#3fc 19%,#0bf 22%,#02f 30%,#00e 33%,#00a 44%,#00f 59%,#04f 78%,#00f 93%,#00a;margin-left:63.3%;width:36.7%"></i><i style="--g:#1fe,#6f9 4%,#7f8 8%,#6f9 12%,#0df 19%,#00f 35%,#00c 38%,#008 46%,#008 65%,#00e 73%,#0bf 88%,#1fe 92%,#8f7;margin-left:65.1%;width:34.9%"></i><i style="--g:#cf3,#fb0 4%,#fa0 8%,#fc0 12%,#cf3 17%,#0ef 25%,#0af 29%,#07f 38%,#07f 62%,#02f 83%,#05f;margin-left:66.9%;width:33.1%"></i><i style="--g:#fb0,#f60 4%,#f60 9%,#f90 13%,#ff0 17%,#3fc 26%,#0ef 30%,#0af 39%,#06f 61%,#08f;margin-left:68.6%;width:31.4%"></i><i style="--g:#07f,#09f 5%,#0af 9%,#00e 27%,#00d 36%,#00f 55%,#01f 77%,#00e;margin-left:70.4%;width:29.6%"></i><i style="--g:#0ff,#5fa 5%,#6f9 10%,#4fb 15%,#0ff 20%,#06f 30%,#00e 40%,#00b 50%,#00a 60%,#00e;margin-left:72.2%;width:27.8%"></i><i style="--g:#0ef,#0ef 11%,#00f 32%,#00b 42%,#009 58%,#008 79%,#009;margin-left:74%;width:26%"></i><i style="--g:#6f9,#6f9 11%,#0ff 33%,#01f 83%,#00c;margin-left:76%;width:24%"></i><i style="--g:#7f8,#bf4 7%,#cf3 13%,#9f6 20%,#0ef 33%,#04f 47%,#01f 53%,#008;margin-left:79.6%;width:20.4%"></i><i style="--g:#df2,#fe0 8%,#ff0 15%,#4fb 31%,#0df 38%,#09f 46%,#07f 54%,#0af 69%,#0ef 77%,#bf4 92%,#df2;margin-left:83.2%;width:16.8%"></i></div><div class="hm" style="left:356px;top:816.5px;width:221px;height:166px"><i style="--g:#2fd,#5fa 3%,#ef1 5%,#fb0 8%,#fd0 10%,#df2 11%,#5fa 14%,#2fd 18%,#2fd 32%,#09f 33%,#00b 34%,#00a"></i><i style="--g:#00d,#02f 3%,#06f 5%,#0cf 7%,#6f9 8%,#fb0 10%,#e00 12%,#900 13%,#e00 15%,#fb0 17%,#6f9 18%,#0cf 20%,#07f 22%,#04f 23%,#00f 28%,#00f 35%,#06f 40%,#06f 42%,#00e 47%,#00b 55%,#00c 70%,#00a 78%,#00c 87%,#008 93%,#008;margin-left:17.2%;width:82.8%"></i><i style="--g:#008,#00a 4%,#00e 6%,#07f 9%,#5fa 11%,#f90 13%,#d00 15%,#b00 17%,#f40 19%,#ff0 21%,#8f7 23%,#0ff 30%,#03f 36%,#00e 40%,#008 53%,#009 81%,#008 87%,#008;margin-left:34.9%;width:65.1%"></i><i style="--g:#008,#008 4%,#00c 7%,#03f 9%,#0ff 11%,#ff0 13%,#f10 15%,#900 17%,#d00 20%,#f90 22%,#9f6 24%,#2fd 26%,#0df 28%,#01f 39%,#00e 41%,#00a 50%,#008 72%,#00a;margin-left:37.2%;width:62.8%"></i><i style="--g:#00a,#00e 5%,#03f 7%,#0af 9%,#5fa 11%,#fd0 14%,#f10 16%,#900 18%,#800 20%,#e00 23%,#f90 25%,#bf4 27%,#3fc 30%,#0cf 32%,#01f 39%,#00d 41%,#00a 48%,#00a 61%,#008 75%,#009 82%,#00f 91%,#08f;margin-left:39.6%;width:60.4%"></i><i style="--g:#00e,#02f 2%,#0ef 7%,#8f7 10%,#fb0 12%,#f20 14%,#a00 17%,#800 19%,#f20 24%,#fb0 26%,#bf4 29%,#3fc 31%,#0bf 33%,#06f 36%,#00f 40%,#00c 48%,#00e 62%,#00b 76%,#00f 88%,#00d;margin-left:42.3%;width:57.7%"></i><i style="--g:#02f,#0ff 5%,#af5 7%,#f90 10%,#e00 12%,#800 15%,#800 17%,#900 20%,#f00 22%,#ef1 27%,#7f8 29%,#0ff 34%,#04f 46%,#00f 54%,#008 71%,#008;margin-left:43.9%;width:56.1%"></i><i style="--g:#00a,#00e 2%,#05f 5%,#0ef 8%,#8f7 10%,#fc0 12%,#f40 15%,#e00 18%,#e00 20%,#f30 22%,#ef1 28%,#2fd 32%,#0ff 35%,#0cf 43%,#00f 52%,#00b 65%,#00d 80%,#00c;margin-left:44.7%;width:55.3%"></i><i style="--g:#00d,#01f 2%,#0af 8%,#2fd 10%,#af5 12%,#fc0 15%,#f60 18%,#f30 20%,#f30 22%,#f50 25%,#fb0 28%,#df2 30%,#2fd 35%,#0df 38%,#00f 48%,#00c 55%,#00a 70%,#00a;margin-left:45.5%;width:54.5%"></i><i style="--g:#04f,#0ff 5%,#fe0 10%,#f80 13%,#f30 15%,#f30 18%,#f60 21%,#fd0 23%,#af5 26%,#2fd 28%,#0af 31%,#00f 36%,#00a 41%,#008 46%,#008;margin-left:46.3%;width:53.7%"></i><i style="--g:#6f9,#ef1 3%,#f00 8%,#c00 10%,#d00 13%,#f30 15%,#fa0 18%,#bf4 21%,#2fd 23%,#0af 26%,#00e 31%,#008 36%,#008 51%,#00a 74%,#008;margin-left:47.1%;width:52.9%"></i><i style="--g:#05f,#0df 3%,#8f7 5%,#fc0 8%,#f20 11%,#b00 13%,#b00 16%,#f10 18%,#fa0 21%,#bf4 24%,#3fc 26%,#0bf 29%,#02f 34%,#00d 37%,#009 42%,#008 47%,#00a 55%,#00f 63%,#05f 68%,#06f 71%,#05f 74%,#00e 79%,#009 89%,#008;margin-left:47.9%;width:52.1%"></i><i style="--g:#008,#00c 5%,#02f 8%,#0bf 11%,#8f7 14%,#f60 16%,#800 19%,#800 24%,#e00 27%,#fd0 30%,#6f9 32%,#0df 35%,#06f 41%,#01f 49%,#01f 54%,#06f 62%,#06f 65%,#00f 73%,#00a 84%,#008;margin-left:48.6%;width:51.4%"></i><i style="--g:#00d,#00f 8%,#03f 11%,#07f 14%,#1fe 16%,#df2 19%,#f40 22%,#a00 24%,#a00 27%,#f40 30%,#df2 32%,#3fc 35%,#0bf 38%,#06f 43%,#04f 51%,#05f 59%,#00f 68%,#008 89%,#008;margin-left:49.4%;width:50.6%"></i><i style="--g:#02f,#07f 6%,#0cf 8%,#3fc 11%,#cf3 14%,#f80 17%,#d00 19%,#800 22%,#900 25%,#f30 28%,#ff0 31%,#5fa 33%,#0cf 36%,#08f 39%,#06f 42%,#05f 47%,#07f 50%,#0ff 58%,#0ff 61%,#0df 64%,#01f 72%,#008 86%,#008;margin-left:51.2%;width:48.8%"></i><i style="--g:#09f,#0df 3%,#5fa 6%,#fe0 9%,#f00 12%,#800 15%,#800 21%,#a00 24%,#fa0 26%,#7f8 29%,#0cf 32%,#06f 35%,#03f 38%,#01f 44%,#02f 59%,#00f 65%,#00b 76%,#008;margin-left:53.1%;width:46.9%"></i><i style="--g:#04f,#08f 3%,#0ff 6%,#af5 9%,#fa0 12%,#f20 16%,#c00 19%,#d00 22%,#f50 25%,#ef1 28%,#4fb 31%,#0bf 34%,#06f 38%,#00f 44%,#00c 53%,#008 81%,#008;margin-left:56.4%;width:43.6%"></i><i style="--g:#00b,#01f 7%,#1fe 17%,#af5 23%,#bf4 27%,#af5 30%,#2fd 37%,#0cf 40%,#04f 50%,#00f 60%,#008 83%,#008;margin-left:59%;width:41%"></i><i style="--g:#008,#00d 7%,#02f 10%,#1fe 17%,#df2 23%,#ef1 27%,#df2 30%,#0ff 40%,#08f 47%,#00f 57%,#00b 70%,#00c;margin-left:59.5%;width:40.5%"></i><i style="--g:#00b,#02f 3%,#0bf 7%,#6f9 10%,#ff0 14%,#f70 17%,#f40 21%,#f60 24%,#fb0 28%,#cf3 31%,#0ef 38%,#07f 45%,#00f 59%,#00c 72%,#00e 93%,#00d;margin-left:60.1%;width:39.9%"></i><i style="--g:#00f,#1fe 7%,#bf4 10%,#f90 14%,#f10 17%,#b00 21%,#c00 24%,#f20 28%,#fa0 31%,#cf3 34%,#5fa 38%,#0ef 41%,#03f 52%,#00e 59%,#00b 69%,#00b;margin-left:61.1%;width:38.9%"></i><i style="--g:#00c,#01f 4%,#0df 11%,#7f8 14%,#fe0 18%,#f40 21%,#c00 25%,#900 29%,#a00 32%,#f00 36%,#ff0 43%,#0ff 50%,#06f 57%,#01f 68%,#009;margin-left:62.3%;width:37.7%"></i><i style="--g:#008,#00f 7%,#0df 15%,#7f8 19%,#fe0 22%,#f60 26%,#f00 30%,#b00 33%,#b00 37%,#e00 41%,#fc0 48%,#af5 52%,#4fb 56%,#0df 59%,#04f 67%,#00e 74%,#00a 85%,#009;margin-left:63.5%;width:36.5%"></i><i style="--g:#00f,#0af 8%,#3fc 12%,#af5 15%,#fb0 19%,#f40 23%,#e00 27%,#c00 31%,#f10 38%,#fe0 46%,#3fc 54%,#0df 58%,#05f 65%,#00f 73%,#00c 85%,#00b;margin-left:64.8%;width:35.2%"></i><i style="--g:#03f,#0ef 8%,#fe0 16%,#f50 20%,#e00 24%,#c00 28%,#e00 32%,#f40 36%,#fc0 40%,#af5 44%,#3fc 48%,#0cf 52%,#05f 60%,#00f 72%,#00c;margin-left:66.2%;width:33.8%"></i><i style="--g:#05f,#1fe 8%,#cf3 12%,#f60 17%,#900 21%,#800 25%,#800 33%,#f40 38%,#ff0 42%,#5fa 46%,#0df 50%,#08f 54%,#04f 62%,#02f 75%,#03f 88%,#00f 96%,#00d;margin-left:67.5%;width:32.5%"></i><i style="--g:#07f,#0ef 4%,#9f6 9%,#f90 13%,#b00 17%,#800 22%,#800 30%,#d00 35%,#fa0 39%,#af5 43%,#1fe 48%,#0af 52%,#05f 57%,#00f 65%,#009;margin-left:69.2%;width:30.8%"></i><i style="--g:#2fd,#df2 5%,#f60 10%,#c00 14%,#800 19%,#800 24%,#a00 29%,#f30 33%,#fd0 38%,#9f6 43%,#1fe 48%,#0bf 52%,#03f 62%,#00f 71%,#008;margin-left:71.1%;width:28.9%"></i><i style="--g:#7f8,#fb0 5%,#f00 10%,#800 15%,#800 25%,#f00 30%,#fa0 35%,#bf4 40%,#3fc 45%,#0cf 50%,#06f 60%,#00f 75%,#00c 90%,#00b;margin-left:72.9%;width:27.1%"></i><i style="--g:#08f,#3fc 5%,#fe0 11%,#f10 16%,#800 21%,#800 32%,#f10 37%,#fc0 42%,#8f7 47%,#1fe 53%,#07f 63%,#01f 79%,#00b;margin-left:74.9%;width:25.1%"></i><i style="--g:#00b,#02f 12%,#08f 18%,#2fd 24%,#ef1 29%,#f40 35%,#b00 41%,#b00 47%,#f20 53%,#fc0 59%,#9f6 65%,#1fe 71%,#08f 82%,#00f;margin-left:77.2%;width:22.8%"></i><i style="--g:#008,#008 19%,#00b 25%,#02f 31%,#0af 38%,#5fa 44%,#ff0 50%,#f90 56%,#f90 62%,#fd0 69%,#af5 75%,#0ff 88%,#0cf;margin-left:78.6%;width:21.4%"></i><i style="--g:#008,#008 12%,#00c 19%,#03f 25%,#0bf 31%,#6f9 38%,#fe0 44%,#f80 50%,#f70 56%,#fb0 62%,#bf4 69%,#3fc 75%,#0cf 81%,#08f 88%,#05f;margin-left:78.6%;width:21.4%"></i></div><div class="hm" style="left:625px;top:816.5px;width:221px;height:166px"><i style="--g:#5fa,#af5 5%,#f70 6%,#f10 8%,#e00 11%,#e00 12%,#ff0 14%,#7f8 15%,#0ef 17%,#00f 18%,#00a 20%,#009 22%,#009 78%,#009 80%,#01f 85%,#00f 86%,#00a 89%,#009 91%,#009"></i><i style="--g:#009,#00b 3%,#02f 5%,#2fd 6%,#df2 8%,#f80 9%,#f20 11%,#f20 15%,#f60 17%,#fd0 18%,#fb0 22%,#f80 23%,#f20 25%,#fe0 26%,#0ff 29%,#05f 31%,#00d 32%,#00a 34%,#009 35%,#00a 48%,#00b 49%,#00f 51%,#00e 52%,#00a 54%,#009 55%,#009"></i><i style="--g:#01f,#0ef 2%,#1fe 8%,#5fa 10%,#fb0 11%,#f80 13%,#fd0 15%,#8f7 16%,#07f 18%,#01f 19%,#00f 29%,#009 42%,#009;margin-left:4.4%;width:95.6%"></i><i style="--g:#00e,#04f 2%,#1fe 3%,#cf3 5%,#fb0 7%,#f80 8%,#f80 11%,#fd0 13%,#6f9 15%,#1fe 16%,#0cf 18%,#0ff 38%,#0ef 54%,#0bf 57%,#07f 59%,#00c 61%,#009 62%,#009;margin-left:5.7%;width:94.3%"></i><i style="--g:#009,#00a 5%,#03f 7%,#af5 8%,#c00 10%,#c00 17%,#fc0 19%,#4fb 20%,#06f 22%,#009 24%,#00a 73%,#00f 76%,#00f 78%,#00a 81%,#009;margin-left:9%;width:91%"></i><i style="--g:#00f,#08f 2%,#0ef 4%,#4fb 6%,#ff0 9%,#f40 13%,#f00 15%,#f00 20%,#fd0 22%,#8f7 24%,#4fb 26%,#3fc 41%,#00d 43%,#009 46%,#009;margin-left:16%;width:84%"></i><i style="--g:#01f,#0bf 2%,#2fd 4%,#df2 9%,#fd0 11%,#f70 13%,#d00 15%,#d00 19%,#f00 20%,#ef1 22%,#7f8 24%,#3fc 26%,#3fc 35%,#2fd 37%,#02f 39%,#00b 41%,#009 43%,#009;margin-left:16.9%;width:83.1%"></i><i style="--g:#009,#00a 8%,#01f 9%,#2fd 11%,#f30 13%,#c00 15%,#c00 19%,#f30 21%,#df2 23%,#0ef 25%,#02f 26%,#00e 28%,#009 32%,#009;margin-left:17.9%;width:82.1%"></i><i style="--g:#009,#00a 55%,#02f 57%,#0ef 59%,#7f8 61%,#ff0 63%,#f80 67%,#cf3 69%,#2fd 71%,#02f 73%,#00a 76%,#009;margin-left:24.5%;width:75.5%"></i><i style="--g:#009,#00b 4%,#05f 6%,#9f6 8%,#f80 10%,#f20 12%,#f50 20%,#f90 27%,#ef1 29%,#4fb 31%,#09f 33%,#02f 35%,#07f 41%,#03f 43%,#00e 45%,#00f 49%,#01f 51%,#09f 59%,#09f 61%,#01f 65%,#00c 67%,#00c 90%,#02f 92%,#0af 94%,#0af 96%,#0af 98%,#00b;margin-left:24.5%;width:75.5%"></i><i style="--g:#009,#00b 3%,#01f 5%,#0cf 8%,#8f7 10%,#fb0 13%,#f20 18%,#f00 21%,#f40 28%,#fd0 38%,#fd0 41%,#fa0 46%,#fb0 49%,#bf4 51%,#6f9 54%,#0ff 59%,#03f 67%,#00f 69%,#00a 77%,#009;margin-left:39.7%;width:60.3%"></i><i style="--g:#009,#00c 8%,#00f 11%,#0ef 14%,#ff0 16%,#f00 19%,#ff0 27%,#3fc 35%,#2fd 38%,#2fd 49%,#1fe 57%,#0df 59%,#02f 62%,#00b 65%,#009;margin-left:43%;width:57%"></i><i style="--g:#009,#00b 14%,#04f 17%,#4fb 20%,#f70 23%,#d00 26%,#d00 29%,#fb0 31%,#0af 34%,#00c 37%,#009;margin-left:45.6%;width:54.4%"></i><i style="--g:#00e,#00f 4%,#04f 14%,#0cf 18%,#bf4 21%,#f70 25%,#f50 29%,#ff0 36%,#9f6 39%,#9f6 43%,#ff0 54%,#ef1 68%,#ff0 71%,#fa0 79%,#f90 82%,#f90 89%,#fc0 93%,#af5 96%,#2fd;margin-left:56.5%;width:43.5%"></i><i style="--g:#009,#00c 11%,#00f 14%,#0ff 21%,#cf3 25%,#f70 29%,#f10 32%,#f60 36%,#8f7 39%,#09f 43%,#00a 46%,#009;margin-left:56.5%;width:43.5%"></i><i style="--g:#009,#00c 11%,#07f 15%,#3fc 19%,#fd0 22%,#d00 26%,#e00 33%,#ff0 37%,#4fb 41%,#0ff 59%,#0bf 74%,#0ef 81%,#1fe 85%,#0ff;margin-left:58.5%;width:41.5%"></i><i style="--g:#009,#00c 17%,#06f 22%,#8f7 26%,#cf3 30%,#ff0 35%,#fc0 39%,#f30 48%,#f00 52%,#f10 57%,#fa0 61%,#6f9 65%,#4fb 70%,#2fd 78%,#0ff;margin-left:64.4%;width:35.6%"></i></div><div class="hm" style="left:893px;top:816.5px;width:221px;height:166px"><i style="--g:#0ff,#0af 4%,#0af 7%,#2fd 8%,#af5 10%,#fd0 11%,#f80 13%,#f50 14%,#f50 15%,#f80 17%,#fd0 18%,#bf4 20%,#1fe 23%,#0ef 24%,#0bf 34%,#06f 45%,#07f 48%,#0df 52%,#3fc 54%,#fe0 56%,#f50 59%,#f40 61%,#f50 62%,#fd0 65%,#df2 66%,#5fa 69%,#2fd 72%,#8f7 80%,#7f8 83%,#2fd 86%,#0df 87%,#02f 93%,#00e 94%,#008 97%,#008;margin-left:1.8%;width:98.2%"></i><i style="--g:#7f8,#8f7 2%,#4fb 5%,#6f9 7%,#fd0 10%,#f70 13%,#f50 15%,#f70 18%,#fc0 21%,#ff0 23%,#4fb 28%,#0ff 33%,#3fc 49%,#1fe 54%,#09f 64%,#0af 67%,#0ef 70%,#bf4 75%,#cf3 77%,#bf4 80%,#1fe 85%,#01f 93%,#008;margin-left:15.7%;width:84.3%"></i><i style="--g:#08f,#06f 9%,#08f 11%,#0ff 16%,#2fd 18%,#0ff 23%,#09f 27%,#0cf 36%,#0cf 41%,#08f 48%,#00f 55%,#00e 57%,#00b 61%,#00a 75%,#008 82%,#008;margin-left:38.9%;width:61.1%"></i><i style="--g:#0af,#07f 5%,#0af 10%,#09f 12%,#01f 20%,#04f 32%,#01f 39%,#00e 41%,#008 49%,#008 88%,#00e 93%,#05f;margin-left:43.9%;width:56.1%"></i><i style="--g:#8f7,#0ff 5%,#0cf 10%,#0bf 15%,#1fe 25%,#7f8 30%,#8f7 32%,#7f8 35%,#0ef 40%,#00f 52%,#008 60%,#008 73%,#01f 82%,#0af 92%,#0bf;margin-left:45.1%;width:54.9%"></i><i style="--g:#0df,#1fe 3%,#9f6 10%,#af5 15%,#8f7 23%,#9f6 26%,#df2 28%,#fd0 31%,#fb0 33%,#fc0 36%,#df2 38%,#0ff 44%,#03f 51%,#00e 56%,#00b 64%,#00f 72%,#05f 82%,#05f 95%,#06f;margin-left:46.2%;width:53.8%"></i><i style="--g:#09f,#0cf 5%,#0ef 11%,#0cf 29%,#08f 37%,#00f 45%,#00a 50%,#008 55%,#008 63%,#00f 74%,#0af 89%,#0cf;margin-left:47.3%;width:52.7%"></i><i style="--g:#08f,#0bf 8%,#0cf 16%,#08f 24%,#00f 34%,#00c 42%,#00f 50%,#04f 55%,#0ef 63%,#9f6 68%,#bf4 71%,#bf4 74%,#1fe 82%,#0ef 84%,#09f;margin-left:48.5%;width:51.5%"></i><i style="--g:#0bf,#09f 14%,#0af 30%,#08f 43%,#0ff 62%,#00f 89%,#00c 95%,#00c;margin-left:49.7%;width:50.3%"></i><i style="--g:#1fe,#4fb 6%,#0ff 11%,#0df 14%,#0df 26%,#08f 46%,#08f 63%,#00e 80%,#00d 86%,#02f;margin-left:51.4%;width:48.6%"></i><i style="--g:#4fb,#6f9 15%,#5fa 18%,#0ff 24%,#09f 29%,#00e 44%,#00c 47%,#00e 53%,#08f 65%,#0bf 74%,#09f 85%,#05f;margin-left:53.1%;width:46.9%"></i><i style="--g:#1fe,#3fc 3%,#cf3 9%,#fc0 12%,#f20 18%,#f00 24%,#f40 30%,#fe0 36%,#3fc 42%,#0df 45%,#0bf 48%,#1fe 55%,#7f8 61%,#af5 67%,#2fd 85%,#5fa 97%,#4fb;margin-left:54.6%;width:45.4%"></i><i style="--g:#6f9,#ff0 6%,#f40 12%,#e00 16%,#800 22%,#800 25%,#a00 28%,#f20 31%,#fc0 34%,#4fb 38%,#06f 41%,#00e 44%,#0af 66%,#0ef 78%,#0ef 88%,#0bf;margin-left:55.7%;width:44.3%"></i><i style="--g:#0bf,#0ff 16%,#2fd 19%,#9f6 25%,#af5 28%,#6f9 31%,#0bf 34%,#00d 38%,#00c 41%,#00f 50%,#0ff 88%,#0ff 94%,#0cf;margin-left:56.8%;width:43.2%"></i><i style="--g:#07f,#0af 6%,#0cf 19%,#0ff 26%,#0ff 29%,#0bf 35%,#0cf 55%,#0ef 65%,#1fe 68%,#ef1 81%,#f70 94%,#f70;margin-left:57.7%;width:42.3%"></i><i style="--g:#08f,#0ef 7%,#0ef 10%,#06f 20%,#07f 30%,#01f 43%,#02f 50%,#00f 60%,#01f 63%,#04f 67%,#0df 73%,#7f8 77%,#fa0 80%,#c00 83%,#800 87%,#800 97%,#f10;margin-left:58.6%;width:41.4%"></i><i style="--g:#008,#00e 10%,#02f 13%,#08f 27%,#06f 40%,#2fd 47%,#6f9 50%,#5fa 53%,#1fe 57%,#06f 63%,#04f 67%,#09f 83%,#0af;margin-left:59.4%;width:40.6%"></i><i style="--g:#08f,#0ff 17%,#0bf 27%,#01f 43%,#07f 50%,#09f 53%,#03f 70%,#04f 73%,#0cf 83%,#2fd 87%,#cf3 90%,#f70 93%,#b00 97%,#800;margin-left:59.5%;width:40.5%"></i><i style="--g:#0bf,#0cf 10%,#09f 20%,#0ef 27%,#0cf 30%,#01f 37%,#00c 47%,#00e 53%,#01f 57%,#0bf 67%,#0df 70%,#0ef 90%,#2fd 93%,#ef1;margin-left:59.7%;width:40.3%"></i><i style="--g:#1fe,#8f7 7%,#5fa 17%,#af5 21%,#fd0 24%,#f70 28%,#f50 31%,#f90 34%,#df2 38%,#3fc 41%,#08f 45%,#02f 48%,#02f 52%,#0af 72%,#0af 79%,#05f;margin-left:59.8%;width:40.2%"></i><i style="--g:#00f,#0cf 14%,#1fe 21%,#9f6 31%,#af5 34%,#8f7 38%,#0ef 45%,#07f 52%,#04f 59%,#07f 79%,#03f;margin-left:60%;width:40%"></i><i style="--g:#05f,#0ef 7%,#1fe 10%,#2fd 14%,#0ff 17%,#06f 28%,#04f 34%,#06f 62%,#09f 76%,#08f;margin-left:60.1%;width:39.9%"></i><i style="--g:#0df,#2fd 3%,#8f7 10%,#af5 14%,#9f6 24%,#ef1 34%,#fb0 38%,#f70 41%,#f50 45%,#f60 48%,#ef1 55%,#0ff 62%,#0af 69%,#06f 79%,#06f 90%,#0af;margin-left:60.6%;width:39.4%"></i><i style="--g:#1fe,#ef1 11%,#f70 18%,#f50 21%,#f60 25%,#fc0 32%,#fb0 36%,#f20 39%,#b00 43%,#800 46%,#800 50%,#c00 54%,#f40 57%,#fd0 61%,#9f6 64%,#2fd 68%,#0df 71%,#0bf 82%,#0df;margin-left:61.2%;width:38.8%"></i><i style="--g:#6f9,#df2 18%,#cf3 21%,#7f8 25%,#0ff 29%,#0ef 32%,#bf4 43%,#ff0 50%,#ff0 64%,#fc0 79%,#fd0 82%,#ff0 86%,#0ef;margin-left:61.9%;width:38.1%"></i><i style="--g:#1fe,#0df 7%,#0ff 19%,#5fa 26%,#df2 33%,#fc0 37%,#f10 44%,#b00 48%,#800 52%,#800 85%,#900 89%,#e00 93%,#ff0;margin-left:62.6%;width:37.4%"></i><i style="--g:#fc0,#ff0 4%,#0ef 30%,#0bf 48%,#0ff 67%,#cf3 85%,#ef1 93%,#ef1;margin-left:63.4%;width:36.6%"></i><i style="--g:#0ef,#0cf 12%,#00e 35%,#00c 42%,#00e 54%,#09f 77%,#09f 85%,#05f;margin-left:64.2%;width:35.8%"></i><i style="--g:#02f,#00f 12%,#09f 27%,#0bf 35%,#09f 42%,#00e 58%,#008 65%,#008 69%,#008;margin-left:65%;width:35%"></i><i style="--g:#00f,#09f 12%,#0af 16%,#00e 48%,#008 64%,#008;margin-left:65.7%;width:34.3%"></i><i style="--g:#0af,#0ff 12%,#1fe 16%,#0ef 24%,#03f 48%,#01f 64%,#03f 76%,#0cf;margin-left:66.4%;width:33.6%"></i><i style="--g:#00f,#04f 25%,#05f 62%,#0bf 79%,#09f;margin-left:67.1%;width:32.9%"></i><i style="--g:#07f,#0cf 12%,#0bf 21%,#05f 38%,#04f 46%,#0af 75%,#08f;margin-left:67.7%;width:32.3%"></i><i style="--g:#07f,#03f 39%,#03f 48%,#06f 65%,#0ef 83%,#cf3 96%,#df2;margin-left:68.8%;width:31.2%"></i><i style="--g:#05f,#00e 14%,#00b 23%,#00e 36%,#0cf 68%,#1fe 73%,#cf3 82%,#ff0 86%,#fc0 91%,#fb0;margin-left:69.8%;width:30.2%"></i><i style="--g:#02f,#01f 14%,#03f 68%,#0df 86%,#1fe 91%,#6f9 95%,#ef1;margin-left:70.8%;width:29.2%"></i><i style="--g:#0bf,#0cf 14%,#1fe 29%,#fe0 62%,#f30 71%,#a00 76%,#800 81%,#800;margin-left:71.9%;width:28.1%"></i><i style="--g:#4fb,#0ff 5%,#0bf 15%,#09f 25%,#09f 35%,#0ef 55%,#4fb 65%,#bf4 75%,#fd0 80%,#f30 90%,#f00 95%,#e00;margin-left:72.9%;width:27.1%"></i><i style="--g:#09f,#04f 26%,#03f 53%,#05f 79%,#0cf 89%,#0df 95%,#0cf;margin-left:73.9%;width:26.1%"></i><i style="--g:#04f,#02f 16%,#03f 32%,#1fe 68%,#0ff 79%,#07f;margin-left:74.9%;width:25.1%"></i><i style="--g:#04f,#0bf 28%,#0ff 50%,#0cf;margin-left:75.9%;width:24.1%"></i><i style="--g:#07f,#09f 24%,#00f 59%,#00b 71%,#00b 76%,#00c 88%,#00f;margin-left:77%;width:23%"></i><i style="--g:#2fd,#0ef 12%,#0af 35%,#0ef 47%,#0ef 59%,#06f 82%,#08f;margin-left:77.6%;width:22.4%"></i><i style="--g:#fd0,#fd0 19%,#f70 50%,#f80 56%,#fe0 69%,#3fc 88%,#0ff 94%,#0df;margin-left:78.3%;width:21.7%"></i></div><div class="hm" style="left:1162px;top:816.5px;width:221px;height:166px"><i style="--g:#009,#00a 7%,#008 11%,#008 18%,#008 19%,#00d 22%,#01f 23%,#0bf 27%,#1fe 30%,#bf4 37%,#bf4 38%,#af5 40%,#1fe 44%,#07f 51%,#01f 55%,#00d 56%,#008 59%,#008 71%,#01f 78%,#05f 84%,#06f 89%,#05f 92%,#01f 96%,#00b"></i><i style="--g:#009,#00a 6%,#00f 13%,#01f 17%,#03f 20%,#0cf 25%,#0ef 28%,#0cf 31%,#03f 38%,#00f 45%,#00f 55%,#009 63%,#008 70%,#00b 86%,#00e 90%,#05f 96%,#06f;margin-left:2%;width:98%"></i><i style="--g:#009,#00b 4%,#00f 7%,#07f 10%,#0af 13%,#03f 22%,#09f 33%,#04f 42%,#09f 51%,#07f 64%,#04f 73%,#05f 87%,#03f;margin-left:8%;width:92%"></i><i style="--g:#009,#00c 10%,#00a 20%,#00e 25%,#09f 33%,#0bf 38%,#08f 44%,#00e 51%,#00a 54%,#008 57%,#00d 67%,#00c 77%,#00f 82%,#0bf 92%,#0bf 95%,#09f;margin-left:16.4%;width:83.6%"></i><i style="--g:#009,#009 9%,#00d 12%,#01f 14%,#0df 20%,#1fe 21%,#6f9 25%,#9f6 30%,#8f7 34%,#2fd 39%,#0ef 41%,#04f 46%,#00e 50%,#00b 54%,#00b 57%,#00f 64%,#07f 73%,#0af 84%,#04f;margin-left:22.7%;width:77.3%"></i><i style="--g:#009,#00a 5%,#01f 11%,#0df 16%,#3fc 18%,#7f8 20%,#ff0 22%,#f70 24%,#d00 25%,#800 27%,#800 42%,#f10 44%,#f90 45%,#df2 47%,#6f9 49%,#2fd 51%,#0ef 53%,#09f 58%,#07f 64%,#0ff 75%,#1fe 78%,#0ff 87%,#3fc 91%,#ff0 96%,#f60;margin-left:24.7%;width:75.3%"></i><i style="--g:#009,#01f 17%,#05f 21%,#0ef 25%,#4fb 26%,#df2 28%,#f30 30%,#800 32%,#800 45%,#d00 47%,#fc0 49%,#7f8 51%,#0ff 53%,#08f 57%,#05f 60%,#05f 64%,#0cf 74%,#0df 77%,#07f 92%,#07f;margin-left:26.7%;width:73.3%"></i><i style="--g:#009,#00a 6%,#00e 10%,#0ff 21%,#7f8 27%,#ff0 31%,#f70 35%,#f40 37%,#f50 38%,#f70 40%,#fd0 42%,#af5 44%,#1fe 48%,#0cf 50%,#04f 56%,#03f 60%,#0af 77%,#0bf 85%,#09f 88%,#00f 96%,#00c;margin-left:28.7%;width:71.3%"></i><i style="--g:#009,#00b 4%,#01f 8%,#08f 12%,#0df 18%,#0af 27%,#08f 41%,#00e 55%,#00a 61%,#00a 65%,#01f 76%,#04f 84%,#00f 92%,#00a;margin-left:32.3%;width:67.7%"></i><i style="--g:#009,#00a 7%,#00f 13%,#0ef 22%,#2fd 24%,#cf3 35%,#bf4 39%,#0ef 52%,#0af 59%,#09f 65%,#0ff 80%,#af5 93%,#bf4;margin-left:37.3%;width:62.7%"></i><i style="--g:#009,#00a 5%,#00d 9%,#02f 11%,#09f 14%,#4fb 16%,#ff0 18%,#f40 20%,#800 23%,#800 50%,#b00 52%,#f20 55%,#fc0 59%,#ef1 61%,#af5 66%,#af5 68%,#ef1 73%,#fc0 75%,#f20 80%,#b00 82%,#800 84%,#800;margin-left:39.4%;width:60.6%"></i><i style="--g:#009,#00a 7%,#00e 12%,#03f 14%,#0df 19%,#2fd 21%,#bf4 28%,#fe0 35%,#f70 47%,#f90 51%,#fd0 53%,#df2 56%,#4fb 60%,#2fd 63%,#0ef 67%,#0ff 74%,#bf4 86%,#ff0;margin-left:41%;width:59%"></i><i style="--g:#009,#00a 7%,#00e 12%,#03f 14%,#0cf 19%,#1fe 21%,#3fc 26%,#0ff 33%,#08f 55%,#0df 76%,#08f;margin-left:42.6%;width:57.4%"></i><i style="--g:#009,#00a 7%,#01f 15%,#0af 22%,#0bf 27%,#00f 44%,#00f 51%,#08f 66%,#07f 71%,#00f 80%,#00b 90%,#00d;margin-left:44.3%;width:55.7%"></i><i style="--g:#009,#00a 5%,#02f 10%,#1fe 15%,#8f7 18%,#df2 21%,#df2 23%,#7f8 31%,#0ff 49%,#06f 69%,#00e 79%,#00c 87%,#00e 92%,#06f;margin-left:45.9%;width:54.1%"></i><i style="--g:#009,#00a 8%,#00f 13%,#0df 18%,#5fa 21%,#8f7 23%,#9f6 26%,#0ff 51%,#07f 82%,#02f 92%,#02f;margin-left:46.8%;width:53.2%"></i><i style="--g:#009,#00a 8%,#01f 16%,#0df 24%,#1fe 26%,#fe0 37%,#f90 42%,#f90 45%,#ef1 50%,#6f9 55%,#0ff 66%,#01f;margin-left:47.3%;width:52.7%"></i><i style="--g:#009,#00a 11%,#00e 18%,#0ef 32%,#8f7 42%,#df2 47%,#fe0 50%,#f60 58%,#f40 63%,#f50 66%,#fc0 71%,#cf3 74%,#1fe 79%,#0ef 82%,#0af 89%,#0bf;margin-left:47.8%;width:52.2%"></i><i style="--g:#009,#008 16%,#00b 21%,#00e 24%,#0df 34%,#0ff 37%,#3fc 45%,#0ff 58%,#04f 76%,#03f 82%,#06f;margin-left:48.4%;width:51.6%"></i><i style="--g:#009,#009 11%,#01f 19%,#0df 27%,#1fe 30%,#6f9 35%,#8f7 41%,#7f8 46%,#0ff 54%,#00f 68%,#00c 76%,#00d 92%,#00a;margin-left:49%;width:51%"></i><i style="--g:#009,#00b 11%,#00f 16%,#0df 24%,#3fc 27%,#fd0 32%,#f60 35%,#f20 38%,#f20 41%,#f70 43%,#ff0 46%,#3fc 51%,#0ef 54%,#06f 59%,#02f 65%,#01f 70%,#06f 84%,#00f;margin-left:49.8%;width:50.2%"></i><i style="--g:#009,#00b 8%,#00f 14%,#0ef 22%,#1fe 25%,#2fd 28%,#0ff 33%,#09f 50%,#0df 72%,#0af 81%,#01f 92%,#00b;margin-left:50.6%;width:49.4%"></i><i style="--g:#009,#00a 8%,#00e 14%,#02f 17%,#0af 22%,#0ef 28%,#0bf 42%,#0ef 47%,#1fe 50%,#7f8 56%,#df2 58%,#fa0 61%,#f40 64%,#e00 67%,#c00 69%,#f10 75%,#fd0 81%,#9f6 83%,#3fc 86%,#0ef 89%,#0af 94%,#09f;margin-left:51.3%;width:48.7%"></i><i style="--g:#009,#00a 9%,#00e 14%,#0cf 26%,#0bf 40%,#0ef 46%,#5fa 51%,#af5 54%,#fd0 57%,#f50 60%,#e00 63%,#c00 66%,#d00 69%,#f30 71%,#ef1 77%,#2fd 83%,#0ff 86%,#0df 91%,#0ef;margin-left:52.1%;width:47.9%"></i><i style="--g:#009,#00f 41%,#1fe 59%,#5fa 68%,#4fb 74%,#0ef 79%,#00f 91%,#008;margin-left:52.9%;width:47.1%"></i><i style="--g:#009,#00a 12%,#00f 24%,#02f 29%,#00f 44%,#07f 65%,#06f 74%,#02f 82%,#00f 85%,#008 94%,#008;margin-left:53.8%;width:46.2%"></i><i style="--g:#009,#00b 9%,#00e 15%,#02f 18%,#05f 24%,#05f 27%,#00f 42%,#06f 61%,#09f 82%,#08f 88%,#04f;margin-left:55%;width:45%"></i><i style="--g:#009,#00a 9%,#01f 16%,#0cf 22%,#0ff 25%,#3fc 31%,#2fd 53%,#bf4 84%,#af5 91%,#2fd;margin-left:56.2%;width:43.8%"></i><i style="--g:#009,#00a 9%,#00e 16%,#09f 28%,#0bf 34%,#0af 47%,#02f 69%,#08f;margin-left:56.9%;width:43.1%"></i><i style="--g:#009,#00a 10%,#00e 16%,#0bf 29%,#0ff 52%,#4fb 65%,#1fe 74%,#02f 90%,#00f 94%,#00e;margin-left:57.6%;width:42.4%"></i><i style="--g:#009,#00a 13%,#00f 29%,#05f 35%,#0ff 42%,#5fa 45%,#ff0 48%,#f20 52%,#800 55%,#800 77%,#e00 81%,#ff0 90%,#4fb;margin-left:58.3%;width:41.7%"></i><i style="--g:#009,#00a 13%,#00e 23%,#04f 30%,#0ef 40%,#6f9 47%,#fd0 53%,#f30 60%,#f20 63%,#f40 70%,#fc0 80%,#ff0 87%,#cf3 93%,#6f9;margin-left:58.9%;width:41.1%"></i><i style="--g:#009,#00a 10%,#01f 20%,#0cf 30%,#0ff 33%,#2fd 37%,#3fc 43%,#0ef 57%,#01f 83%,#008 97%,#008;margin-left:59.6%;width:40.4%"></i><i style="--g:#009,#00a 10%,#00e 17%,#0ff 34%,#4fb 41%,#6f9 48%,#0ff 69%,#3fc 86%,#0ff 97%,#0df;margin-left:60.3%;width:39.7%"></i><i style="--g:#009,#00a 17%,#00e 31%,#0ff 55%,#6f9 69%,#df2 76%,#fc0 79%,#f50 86%,#f40 90%,#f50 93%,#ff0;margin-left:61%;width:39%"></i><i style="--g:#009,#00a 11%,#00f 25%,#03f 50%,#07f 61%,#0ef 71%,#fe0 89%,#ff0 96%,#df2;margin-left:61.7%;width:38.3%"></i><i style="--g:#009,#00a 11%,#00f 29%,#00f 64%,#0df;margin-left:62.5%;width:37.5%"></i><i style="--g:#009,#00a 15%,#01f 26%,#0af 41%,#1fe 63%,#3fc 74%,#1fe 85%,#0cf;margin-left:63.2%;width:36.8%"></i><i style="--g:#009,#00a 12%,#00d 19%,#02f 23%,#0ef 31%,#9f6 35%,#fa0 38%,#f00 42%,#800 46%,#800 92%,#e00;margin-left:64%;width:36%"></i><i style="--g:#009,#00a 12%,#01f 27%,#05f 38%,#0af 65%,#06f;margin-left:64.8%;width:35.2%"></i><i style="--g:#009,#00a 12%,#01f 28%,#00e 40%,#00a 56%,#00d 84%,#00b;margin-left:65.5%;width:34.5%"></i><i style="--g:#009,#00a 12%,#00f 33%,#00f 67%,#05f;margin-left:66.7%;width:33.3%"></i></div><div class="hm" style="left:658.8px;top:1581.2px;width:180.6px;height:188.5px"><i style="--g:#f10,#f00 2%,#df2 7%,#6f9 11%,#3fc 16%,#0ff 42%,#08f 58%,#0cf 77%,#0cf"></i><i style="--g:#fd0,#fd0 2%,#ff0 4%,#0ff 11%,#0af 16%,#09f 21%,#09f 44%,#0cf 65%,#08f"></i><i style="--g:#fb0,#fc0 2%,#ef1 4%,#3fc 7%,#0ef 11%,#00f 68%,#00d 74%,#fff 75%,#fff 86%,#00c 88%,#02f"></i><i style="--g:#800,#800 2%,#d00 4%,#fe0 7%,#cf3 9%,#3fc 14%,#0ff 18%,#0df 23%,#09f 70%,#0cf"></i><i style="--g:#fe0,#f90 2%,#f90 4%,#fe0 5%,#3fc 9%,#0ef 11%,#0bf 14%,#0bf 18%,#0ff 33%,#0ff 40%,#0af 53%,#00f 65%,#00f 70%,#08f 82%,#08f"></i><i style="--g:#ff0,#fa0 2%,#f70 4%,#f90 5%,#fe0 7%,#0ff 12%,#0af 18%,#07f 28%,#09f 33%,#1fe 40%,#0bf 54%,#0ff 75%,#0cf"></i><i style="--g:#f50,#f60 4%,#fe0 7%,#0ff 14%,#08f 21%,#05f 33%,#0df 67%,#0ff 93%,#0df"></i><i style="--g:#ef1,#fa0 4%,#fa0 5%,#fe0 9%,#4fb 16%,#0ff 26%,#0ff 39%,#4fb 47%,#0ff 56%,#0cf 81%,#0ef"></i><i style="--g:#ef1,#fd0 2%,#df2 5%,#1fe 9%,#0bf 11%,#06f 14%,#04f 18%,#09f 33%,#09f 54%,#02f 72%,#0af 88%,#0cf"></i><i style="--g:#1fe,#bf4 4%,#fd0 5%,#f80 7%,#f70 9%,#f90 11%,#fe0 12%,#0ff 18%,#09f 21%,#00f 32%,#008 42%,#009 81%,#00f 93%,#03f"></i><i style="--g:#0ff,#4fb 4%,#df2 7%,#fb0 9%,#f60 11%,#f40 12%,#f60 14%,#fc0 16%,#cf3 18%,#4fb 21%,#0ef 26%,#0bf 40%,#0ff 54%,#4fb 65%,#0ff 77%,#09f 93%,#09f"></i><i style="--g:#1fe,#7f8 5%,#ff0 9%,#f70 12%,#f30 16%,#f40 18%,#fc0 21%,#df2 23%,#6f9 26%,#0ff 32%,#0af 42%,#09f 54%,#0ff 75%,#2fd 84%,#0ef"></i><i style="--g:#08f,#0ef 9%,#1fe 11%,#df2 16%,#ff0 18%,#ff0 19%,#1fe 26%,#0df 28%,#09f 42%,#04f 51%,#09f 61%,#09f"></i><i style="--g:#09f,#0ef 11%,#5fa 14%,#ef1 18%,#fc0 19%,#fa0 23%,#ef1 26%,#3fc 32%,#0ef 35%,#09f 42%,#02f 72%,#07f 88%,#0cf 95%,#0df"></i><i style="--g:#05f,#08f 9%,#1fe 14%,#cf3 18%,#fd0 19%,#f90 21%,#f90 23%,#fc0 25%,#df2 26%,#2fd 30%,#0ef 32%,#0bf 35%,#0af 47%,#00f 77%,#00b 89%,#00e"></i><i style="--g:#f30,#f10 2%,#fa0 4%,#af5 5%,#5fa 7%,#5fa 9%,#8f7 12%,#ff0 16%,#f10 21%,#e00 23%,#f00 26%,#fe0 33%,#5fa 40%,#0ef 46%,#0bf 56%,#1fe 75%,#3fc 79%,#fff 81%,#fff 86%,#1fe 88%,#0cf 93%,#0bf"></i><i style="--g:#df2,#df2 2%,#5fa 4%,#0bf 5%,#07f 7%,#05f 12%,#08f 18%,#0ff 21%,#ff0 25%,#fb0 26%,#fb0 28%,#ef1 30%,#4fb 33%,#0ff 39%,#0ef 61%,#0bf 70%,#0ef 79%,#0df"></i><i style="--g:#03f,#06f 11%,#09f 14%,#0ef 18%,#ff0 25%,#fe0 26%,#ff0 28%,#cf3 30%,#0ef 35%,#09f 40%,#09f 60%,#02f 79%,#06f"></i><i style="--g:#06f,#09f 11%,#0ff 18%,#ff0 25%,#fb0 28%,#ef1 33%,#5fa 39%,#0ef 44%,#04f 53%,#00f 58%,#00d 65%,#00f 72%,#04f 82%,#02f 86%,#00c 89%,#00e 93%,#04f"></i><i style="--g:#0bf,#0cf 11%,#1fe 18%,#6f9 21%,#ef1 25%,#fb0 26%,#f60 30%,#f60 32%,#fd0 35%,#4fb 40%,#0ff 44%,#0bf 61%,#0bf 65%,#0ff 68%,#3fc 72%,#0ff 75%,#0ff 86%,#09f"></i><i style="--g:#09f,#09f 19%,#0cf 25%,#2fd 26%,#cf3 30%,#df2 32%,#af5 33%,#4fb 35%,#0cf 37%,#04f 40%,#00f 46%,#008 58%,#008 72%,#00f 86%,#02f"></i><i style="--g:#06f,#08f 14%,#0bf 19%,#0ff 23%,#ef1 30%,#fd0 32%,#fc0 35%,#df2 39%,#1fe 44%,#0ef 46%,#05f 63%,#06f"></i><i style="--g:#06f,#00f 7%,#00f 11%,#0ff 19%,#7f8 25%,#fe0 28%,#f50 32%,#f30 33%,#f40 35%,#fd0 39%,#df2 40%,#5fa 46%,#2fd 53%,#0ff 75%,#07f 91%,#09f"></i><i style="--g:#00d,#01f 11%,#0ef 25%,#3fc 26%,#cf3 30%,#fe0 32%,#fd0 33%,#ff0 35%,#2fd 40%,#0ef 42%,#00e 63%,#008 70%,#008 81%,#00f 89%,#05f"></i><i style="--g:#05f,#08f 16%,#0df 23%,#2fd 25%,#fe0 30%,#f70 33%,#f70 35%,#fe0 39%,#cf3 40%,#0ff 46%,#05f 56%,#fff 58%,#fff 74%,#00b 75%,#00b 84%,#00f 93%,#02f"></i><i style="--g:#0af,#0bf 14%,#0ff 26%,#6f9 30%,#bf4 32%,#fc0 33%,#f60 35%,#f50 37%,#f90 39%,#ef1 40%,#2fd 44%,#0df 46%,#05f 56%,#00f 67%,#00c 84%,#00f 93%,#04f"></i><i style="--g:#0df,#0af 16%,#0ef 26%,#6f9 30%,#ff0 33%,#fc0 35%,#fc0 37%,#fe0 39%,#0ef 46%,#07f 54%,#03f 67%,#03f 75%,#07f 88%,#07f"></i><i style="--g:#08f,#07f 18%,#0df 26%,#1fe 28%,#ef1 33%,#fc0 35%,#f80 39%,#fe0 42%,#4fb 47%,#0ff 51%,#0cf 63%,#0ff 77%,#6f9 84%,#0ff 93%,#0cf"></i><i style="--g:#f30,#f20 2%,#ff0 4%,#2fd 5%,#0af 7%,#08f 11%,#08f 19%,#0af 26%,#0ff 32%,#3fc 33%,#ef1 37%,#fc0 39%,#fc0 40%,#ef1 42%,#0ff 47%,#01f 58%,#00d 60%,#008 63%,#008 68%,#01f 77%,#02f 82%,#00f"></i><i style="--g:#0af,#0af 2%,#0ff 7%,#0df 19%,#0ff 28%,#4fb 32%,#df2 35%,#fb0 37%,#f60 39%,#f50 40%,#f80 42%,#fd0 44%,#6f9 47%,#0ff 51%,#07f 60%,#04f 67%,#09f 82%,#09f"></i><i style="--g:#0bf,#0bf 16%,#0ff 28%,#4fb 32%,#fd0 37%,#f60 40%,#f70 42%,#ef1 46%,#5fa 49%,#0ff 54%,#06f 67%,#09f 75%,#0bf"></i><i style="--g:#0ef,#0ef 11%,#08f 18%,#07f 21%,#09f 25%,#0ef 28%,#2fd 30%,#ff0 35%,#f50 39%,#f20 42%,#f40 44%,#fd0 47%,#df2 49%,#4fb 54%,#1fe 61%,#0ef"></i><i style="--g:#06f,#02f 28%,#06f 33%,#0df 37%,#2fd 39%,#bf4 42%,#ef1 46%,#bf4 49%,#1fe 54%,#0df 56%,#07f 65%,#04f 81%,#00f 89%,#00d 95%,#00e"></i><i style="--g:#05f,#02f 25%,#04f 30%,#0cf 35%,#1fe 37%,#9f6 40%,#cf3 44%,#af5 46%,#0ff 49%,#03f 53%,#00d 54%,#009 56%,#008 58%,#008 77%,#00f 86%,#05f 93%,#05f"></i><i style="--g:#08f,#08f 19%,#0ef 33%,#3fc 37%,#ff0 42%,#fd0 44%,#ef1 47%,#2fd 53%,#0ef 54%,#08f 65%,#05f 75%,#07f"></i><i style="--g:#0bf,#09f 23%,#0bf 30%,#0ff 35%,#df2 42%,#fd0 44%,#fa0 47%,#fe0 51%,#0ff 60%,#09f 75%,#07f"></i><i style="--g:#0ef,#0ff 28%,#5fa 35%,#ff0 40%,#f50 44%,#f20 46%,#f20 47%,#f50 49%,#ff0 53%,#3fc 58%,#0ef 63%,#0cf 67%,#fff 68%,#fff 75%,#09f 77%,#02f 95%,#02f"></i><i style="--g:#07f,#05f 28%,#08f 35%,#0ef 39%,#ff0 44%,#fb0 46%,#f90 47%,#ff0 51%,#4fb 56%,#0ff 63%,#07f 77%,#07f"></i><i style="--g:#08f,#09f 25%,#0ef 37%,#4fb 40%,#ef1 44%,#fb0 46%,#f80 47%,#f80 49%,#ef1 53%,#5fa 56%,#0ef 60%,#0bf 68%,#0cf 84%,#07f"></i><i style="--g:#04f,#03f 5%,#08f 12%,#05f 21%,#07f 33%,#09f 37%,#0ff 40%,#ff0 46%,#fb0 47%,#f70 51%,#f80 53%,#ff0 56%,#0ff 63%,#0af 68%,#08f 74%,#08f"></i><i style="--g:#fd0,#fc0 2%,#bf4 4%,#4fb 5%,#1fe 7%,#5fa 16%,#0ff 25%,#1fe 33%,#4fb 39%,#df2 44%,#fc0 46%,#f50 49%,#f50 51%,#fd0 54%,#cf3 56%,#4fb 60%,#0ff 67%,#0ff 77%,#4fb 93%,#3fc"></i><i style="--g:#05f,#02f 37%,#06f 42%,#0ef 46%,#9f6 49%,#df2 53%,#cf3 54%,#0ff 60%,#09f 63%,#06f 67%,#00f 91%,#00f"></i><i style="--g:#09f,#07f 33%,#09f 39%,#0df 42%,#1fe 44%,#ef1 49%,#fd0 51%,#fd0 53%,#fe0 54%,#2fd 60%,#0df 61%,#08f 65%,#06f 75%,#00f 86%,#01f 91%,#07f"></i><i style="--g:#07f,#07f 19%,#0cf 28%,#0af 37%,#0ff 42%,#ff0 49%,#fc0 51%,#fb0 53%,#ff0 56%,#0ff 61%,#04f 67%,#00f 70%,#00d 75%,#00f 86%,#05f"></i><i style="--g:#bf4,#cf3 2%,#5fa 4%,#0cf 5%,#09f 7%,#08f 11%,#0bf 40%,#0ef 46%,#1fe 47%,#bf4 53%,#cf3 54%,#af5 56%,#2fd 60%,#0cf 61%,#05f 65%,#02f 70%,#01f 91%,#03f"></i><i style="--g:#0ff,#0ef 21%,#1fe 37%,#5fa 44%,#ff0 49%,#f60 53%,#f20 56%,#f40 58%,#fd0 61%,#cf3 63%,#4fb 68%,#1fe 74%,#1fe"></i><i style="--g:#08f,#07f 32%,#09f 39%,#0ef 46%,#6f9 49%,#ff0 53%,#fa0 54%,#f90 56%,#fe0 60%,#cf3 61%,#6f9 65%,#0ff 75%,#0bf 84%,#0af"></i><i style="--g:#03f,#00f 11%,#00f 21%,#05f 32%,#0ef 42%,#3fc 46%,#ff0 53%,#fb0 56%,#fe0 60%,#df2 61%,#5fa 65%,#0ff 68%,#0cf 74%,#0df 88%,#09f"></i><i style="--g:#f40,#f20 2%,#fc0 4%,#6f9 5%,#0ff 7%,#05f 18%,#00f 26%,#00a 39%,#00b 44%,#00e 47%,#05f 51%,#0ef 54%,#3fc 56%,#8f7 60%,#8f7 61%,#1fe 67%,#08f 72%,#06f 75%,#09f"></i><i style="--g:#0cf,#0ff 18%,#0ef 40%,#0ff 47%,#5fa 53%,#fe0 58%,#f70 61%,#f60 63%,#f70 65%,#fe0 68%,#0ff 75%,#0af 81%,#08f 86%,#09f"></i><i style="--g:#ff0,#fe0 2%,#6f9 4%,#0af 5%,#05f 7%,#04f 11%,#07f 21%,#0ff 32%,#0ff 35%,#0af 46%,#0bf 51%,#0ef 54%,#3fc 56%,#ff0 60%,#fb0 61%,#fa0 63%,#fd0 65%,#af5 67%,#4fb 68%,#0ef 70%,#09f 74%,#05f 81%,#03f"></i><i style="--g:#02f,#03f 9%,#0ff 23%,#09f 40%,#0bf 49%,#0ff 54%,#4fb 56%,#ff0 60%,#fa0 61%,#fa0 63%,#fe0 65%,#0ff 70%,#0cf 74%,#08f 82%,#07f"></i><i style="--g:#f10,#e00 2%,#fa0 4%,#8f7 5%,#2fd 7%,#1fe 9%,#1fe 30%,#4fb 42%,#2fd 53%,#4fb 56%,#ff0 60%,#f40 63%,#f40 65%,#f90 67%,#df2 68%,#3fc 72%,#0ff 75%,#0bf 86%,#0af"></i><i style="--g:#0af,#0bf 32%,#0ff 47%,#4fb 53%,#ef1 58%,#fc0 60%,#f70 63%,#f70 65%,#fe0 68%,#1fe 74%,#0cf 75%,#08f 79%,#05f 84%,#03f"></i><i style="--g:#cf3,#df2 2%,#4fb 4%,#09f 5%,#04f 7%,#03f 9%,#03f 19%,#06f 51%,#05f 56%,#06f 58%,#0af 60%,#1fe 61%,#df2 65%,#ef1 67%,#bf4 68%,#1fe 72%,#09f 75%,#07f 79%,#04f"></i><i style="--g:#0cf,#0df 5%,#08f 23%,#09f 47%,#0ef 54%,#2fd 56%,#fe0 61%,#f70 65%,#f70 67%,#ef1 70%,#3fc 74%,#0ff 75%,#0af 79%,#07f 84%,#06f"></i><i style="--g:#0cf,#0cf 4%,#06f 12%,#05f 32%,#06f 37%,#0bf 44%,#0af 53%,#0ff 56%,#ff0 61%,#fa0 63%,#f40 67%,#f50 68%,#ff0 72%,#2fd 75%,#0cf 77%,#08f 81%,#05f"></i><i style="--g:#07f,#0df 23%,#2fd 58%,#4fb 61%,#ef1 65%,#fa0 67%,#f60 68%,#f60 70%,#fb0 72%,#cf3 74%,#0ff 77%,#09f 84%,#06f"></i><i style="--g:#05f,#05f 7%,#0af 25%,#0cf 47%,#0ef 54%,#5fa 60%,#cf3 63%,#fc0 65%,#f00 68%,#e00 70%,#f30 72%,#fb0 74%,#bf4 75%,#1fe 79%,#0df 81%,#05f 89%,#09f"></i><i style="--g:#0bf,#0ff 7%,#3fc 12%,#0ff 19%,#2fd 30%,#0ff 37%,#05f 47%,#07f 51%,#0cf 54%,#1fe 56%,#ef1 63%,#fc0 65%,#f60 68%,#f60 70%,#f70 72%,#ef1 75%,#0ff 81%,#0bf 86%,#0af"></i><i style="--g:#07f,#09f 46%,#0af 53%,#0ef 58%,#4fb 61%,#fe0 67%,#fa0 70%,#fb0 74%,#fff 75%,#fff 95%,#0cf 96%,#0bf"></i><i style="--g:#07f,#0af 46%,#0ef 60%,#2fd 63%,#fd0 68%,#f70 70%,#f30 72%,#f30 74%,#fd0 77%,#cf3 79%,#4fb 82%,#0ef 86%,#09f 91%,#07f"></i><i style="--g:#03f,#00f 7%,#00d 12%,#00f 16%,#08f 33%,#08f 54%,#0df 61%,#2fd 63%,#ff0 68%,#fc0 70%,#fc0 72%,#df2 75%,#0ff 81%,#0af 86%,#07f"></i><i style="--g:#0cf,#0ff 7%,#7f8 21%,#9f6 28%,#7f8 35%,#0ff 47%,#0bf 60%,#0ff 65%,#bf4 68%,#fd0 70%,#f80 72%,#f70 74%,#fd0 77%,#cf3 79%,#8f7 81%,#3fc 84%,#0ef"></i><i style="--g:#0ef,#0ff 53%,#5fa 63%,#fe0 68%,#f30 72%,#f00 74%,#f20 75%,#fd0 79%,#bf4 81%,#2fd 84%,#0ff 86%,#0df 91%,#0df"></i><i style="--g:#04f,#00f 11%,#00f 44%,#04f 54%,#0cf 63%,#1fe 65%,#ef1 68%,#fa0 70%,#f70 72%,#f90 74%,#fe0 75%,#4fb 79%,#1fe 81%,#0af 89%,#08f"></i><i style="--g:#0af,#0ff 19%,#3fc 33%,#0ff 40%,#0af 47%,#08f 53%,#0ef 63%,#4fb 67%,#df2 70%,#fb0 72%,#f80 74%,#f70 75%,#fe0 79%,#6f9 82%,#1fe 86%,#0af"></i><i style="--g:#0df,#1fe 7%,#4fb 18%,#0ff 35%,#0ef 49%,#0ff 60%,#4fb 65%,#fe0 70%,#f70 74%,#f70 75%,#ef1 81%,#5fa 84%,#0ff 88%,#0cf 93%,#0cf"></i><i style="--g:#03f,#01f 46%,#07f 61%,#0df 68%,#2fd 70%,#ef1 74%,#fa0 75%,#f80 77%,#fa0 79%,#ff0 81%,#4fb 84%,#0ef 88%,#06f"></i><i style="--g:#09f,#0bf 12%,#04f 35%,#01f 42%,#00a 49%,#00f 56%,#04f 61%,#0df 67%,#3fc 68%,#df2 72%,#fd0 74%,#fc0 75%,#ff0 79%,#2fd 84%,#0df 86%,#07f 91%,#05f"></i><i style="--g:#07f,#07f 51%,#09f 60%,#0ef 67%,#1fe 68%,#4fb 70%,#ff0 74%,#f90 75%,#f60 77%,#f70 79%,#ff0 82%,#9f6 86%,#7f8 95%,#3fc"></i><i style="--g:#0af,#08f 9%,#00f 21%,#00a 32%,#00e 37%,#08f 44%,#0af 47%,#0ef 65%,#3fc 68%,#fe0 74%,#f60 77%,#f60 79%,#f90 81%,#ff0 82%,#0ff 86%,#05f 89%,#02f 91%,#02f 95%,#04f"></i><i style="--g:#0bf,#09f 54%,#0bf 61%,#0ff 67%,#2fd 68%,#fe0 74%,#f90 77%,#fe0 81%,#0ff 88%,#0df 91%,#0bf"></i><i style="--g:#03f,#05f 35%,#00f 47%,#00c 54%,#00f 63%,#07f 70%,#0df 74%,#4fb 75%,#bf4 77%,#fe0 79%,#fc0 81%,#ef1 82%,#2fd 86%,#0cf 88%,#08f 91%,#04f"></i><i style="--g:#5fa,#5fa 2%,#0ef 4%,#07f 5%,#04f 7%,#04f 9%,#0ef 39%,#0bf 58%,#0ff 68%,#3fc 70%,#df2 74%,#fc0 75%,#f80 77%,#f70 79%,#fa0 81%,#ff0 82%,#4fb 86%,#1fe 88%,#09f"></i><i style="--g:#fc0,#fb0 2%,#af5 4%,#1fe 5%,#0bf 7%,#05f 21%,#03f 28%,#09f 46%,#07f 60%,#0ef 65%,#ef1 72%,#fc0 74%,#f50 79%,#f60 81%,#df2 86%,#6f9 89%,#1fe 93%,#0cf"></i><i style="--g:#03f,#00d 33%,#00f 46%,#08f 70%,#0cf 74%,#2fd 75%,#ef1 79%,#fd0 81%,#fe0 82%,#3fc 88%,#0ff 89%,#09f"></i><i style="--g:#fa0,#fa0 2%,#af5 4%,#0ff 5%,#09f 7%,#07f 9%,#04f 23%,#00e 28%,#00e 32%,#06f 37%,#07f 42%,#05f 49%,#00f 56%,#00f 60%,#0ef 70%,#2fd 72%,#bf4 75%,#fd0 77%,#f20 81%,#f00 82%,#f30 84%,#fe0 88%,#2fd 93%,#0ff 95%,#0cf"></i><i style="--g:#0df,#0cf 11%,#08f 21%,#0bf 33%,#08f 42%,#0ff 56%,#2fd 70%,#6f9 75%,#df2 79%,#fc0 81%,#f40 84%,#f20 86%,#f30 88%,#ef1 93%,#6f9 96%,#3fc"></i><i style="--g:#0af,#09f 19%,#00f 49%,#02f 53%,#0ff 67%,#6f9 77%,#fe0 82%,#fa0 84%,#f80 86%,#fa0 88%,#ff0 89%,#4fb 93%,#1fe 95%,#0df"></i><i style="--g:#0df,#0cf 25%,#0ff 67%,#5fa 77%,#cf3 81%,#fd0 82%,#f30 86%,#f30 88%,#fd0 91%,#cf3 93%,#5fa 96%,#3fc"></i><i style="--g:#bf4,#cf3 2%,#4fb 4%,#0bf 5%,#08f 7%,#07f 9%,#0bf 25%,#0bf 63%,#0ff 74%,#4fb 77%,#fe0 82%,#f60 86%,#f50 88%,#f60 89%,#fd0 93%,#2fd"></i><i style="--g:#0ff,#3fc 9%,#0ff 18%,#0af 28%,#0df 39%,#08f 47%,#07f 54%,#09f 68%,#0ef 77%,#2fd 79%,#fe0 84%,#fb0 86%,#fb0 88%,#fd0 89%,#df2 91%,#0ff 96%,#0bf"></i><i style="--g:#00f,#008 19%,#008 28%,#01f 37%,#06f 42%,#09f 49%,#09f 70%,#0bf 77%,#0ef 81%,#2fd 82%,#fe0 88%,#fc0 89%,#fd0 91%,#cf3 93%,#2fd 96%,#0cf"></i><i style="--g:#04f,#05f 9%,#03f 25%,#04f 63%,#07f 72%,#0ef 79%,#2fd 81%,#bf4 84%,#fc0 86%,#f70 88%,#f80 89%,#fff 91%,#fff 98%,#08f"></i><i style="--g:#fe0,#fd0 2%,#0ef 5%,#0af 7%,#09f 9%,#06f 19%,#00e 30%,#009 37%,#008 42%,#009 49%,#00f 56%,#08f 65%,#0af 77%,#0df 81%,#2fd 82%,#ef1 86%,#fc0 88%,#fc0 89%,#ef1 91%,#3fc 95%,#0ef 96%,#0bf"></i><i style="--g:#03f,#00f 5%,#00f 9%,#07f 19%,#09f 26%,#08f 56%,#0af 72%,#fff 74%,#fff 77%,#0df 79%,#0ef 81%,#4fb 84%,#ff0 88%,#f40 91%,#f40 93%,#fd0 96%,#8f7"></i><i style="--g:#08f,#0af 14%,#03f 61%,#06f 72%,#0cf 79%,#1fe 81%,#cf3 84%,#fb0 86%,#f60 88%,#f50 89%,#f70 91%,#fb0 93%,#df2 95%,#3fc 98%,#0ef"></i><i style="--g:#0ff,#6f9 12%,#0ff 23%,#0df 32%,#08f 42%,#0ff 58%,#6f9 79%,#cf3 84%,#fe0 86%,#f00 91%,#f00 93%,#f20 95%,#fc0 98%,#df2"></i><i style="--g:#f80,#f70 2%,#ef1 4%,#4fb 5%,#0ff 7%,#00f 32%,#00d 42%,#00f 53%,#08f 70%,#0ef 79%,#6f9 82%,#fe0 86%,#f80 89%,#f80 91%,#ef1 95%,#2fd"></i><i style="--g:#0af,#0af 14%,#0ef 30%,#0af 54%,#0ff 68%,#cf3 82%,#ff0 84%,#f30 88%,#c00 89%,#900 91%,#a00 93%,#f10 95%,#f80 96%,#ff0 98%,#9f6"></i><i style="--g:#09f,#0bf 25%,#00f 65%,#00d 72%,#00f 79%,#04f 84%,#1fe 89%,#cf3 93%,#ff0 95%,#ef1 96%,#7f8"></i><i style="--g:#0af,#09f 12%,#02f 28%,#09f 46%,#09f 74%,#0ef 82%,#4fb 86%,#ef1 89%,#f50 93%,#f40 95%,#f70 96%,#fc0 98%,#cf3"></i><i style="--g:#09f,#0af 18%,#08f 26%,#0ff 37%,#0ff 56%,#0cf 72%,#0ff 81%,#4fb 84%,#ff0 89%,#f70 93%,#f50 95%,#f60 96%,#fd0"></i><i style="--g:#0af,#09f 25%,#04f 46%,#04f 72%,#07f 79%,#0ff 86%,#df2 91%,#f90 95%,#f80 96%,#ff0"></i><i style="--g:#0af,#09f 25%,#05f 56%,#08f 68%,#0ff 77%,#ff0 88%,#f00 95%,#e00 96%,#f00 98%,#f40"></i><i style="--g:#06f,#07f 11%,#03f 26%,#0bf 54%,#08f 77%,#0bf 84%,#0ff 88%,#4fb 89%,#ff0 93%,#f90 95%,#f80 96%,#fa0 98%,#ff0"></i><i style="--g:#fd0,#fd0 2%,#4fb 4%,#06f 5%,#00e 7%,#00b 9%,#00a 12%,#00a 16%,#00f 21%,#08f 28%,#0bf 33%,#0ef 56%,#fff 58%,#fff 70%,#0ef 72%,#0ff 77%,#4fb 88%,#ff0 93%,#f80 96%,#f70 98%,#fa0"></i><i style="--g:#09f,#07f 19%,#02f 44%,#07f 70%,#0df 77%,#0cf 82%,#0ff 86%,#ef1 93%,#fb0 96%,#fe0"></i><i style="--g:#0ef,#0ff 32%,#9f6 56%,#8f7 61%,#2fd 72%,#1fe 81%,#3fc 86%,#cf3 91%,#fd0 93%,#f60 96%,#f50"></i><i style="--g:#06f,#00f 9%,#008 16%,#008 28%,#00e 37%,#06f 49%,#0bf 74%,#0ff 82%,#4fb 86%,#ef1 91%,#f70 96%,#fa0"></i><i style="--g:#08f,#08f 5%,#0df 25%,#0cf 77%,#0ef 86%,#3fc 89%,#bf4 93%,#fd0 95%,#f40 98%,#f30"></i><i style="--g:#0bf,#09f 30%,#00f 47%,#09f 67%,#0af 74%,#07f 82%,#09f 86%,#0bf 88%,#0ff 89%,#df2 93%,#f90 96%,#fa0 98%,#fe0"></i><i style="--g:#cf3,#df2 2%,#4fb 4%,#0af 5%,#05f 7%,#04f 9%,#04f 25%,#05f 32%,#0bf 42%,#02f 53%,#00f 60%,#01f 74%,#07f 82%,#0df 88%,#2fd 89%,#ff0 95%,#fd0 96%,#fe0 98%,#df2"></i><i style="--g:#fb0,#fa0 2%,#cf3 4%,#4fb 5%,#0ff 7%,#0cf 32%,#06f 42%,#0bf 51%,#0ff 75%,#4fb 82%,#bf4 88%,#fe0 89%,#f20 93%,#800 96%,#900 98%,#d00"></i><i style="--g:#0df,#0ef 32%,#04f 56%,#0af 84%,#0ff 89%,#fe0 96%,#fa0"></i><i style="--g:#0ef,#0ef 46%,#0cf 58%,#0ff 67%,#0ef 77%,#0ff 84%,#4fb 88%,#ff0 93%,#f80 96%,#f90"></i><i style="--g:#04f,#04f 25%,#0bf 39%,#08f 49%,#0cf 58%,#07f 68%,#06f 75%,#08f 81%,#0ef 86%,#2fd 88%,#ff0 93%,#fd0 96%,#df2"></i><i style="--g:#fb0,#fa0 2%,#af5 4%,#1fe 5%,#0bf 7%,#09f 11%,#0af 42%,#0ff 51%,#0ff 56%,#00e 72%,#009 77%,#009 79%,#00d 82%,#02f 84%,#0cf 88%,#3fc 89%,#ff0 93%,#f70 96%,#f70"></i><i style="--g:#06f,#01f 12%,#009 21%,#00a 25%,#00e 28%,#07f 35%,#09f 44%,#01f 72%,#05f 82%,#0ef 89%,#3fc 91%,#cf3 95%,#fc0 96%,#f50"></i><i style="--g:#08f,#08f 12%,#00f 25%,#00b 32%,#008 46%,#008 51%,#00f 58%,#07f 86%,#0af 91%,#0ff 95%,#ff0"></i><i style="--g:#07f,#06f 7%,#00f 12%,#00e 18%,#07f 26%,#08f 39%,#0df 54%,#0af 72%,#0ff 84%,#5fa 89%,#df2 93%,#f90 96%,#f80 98%,#f90"></i><i style="--g:#03f,#04f 23%,#02f 39%,#02f 61%,#00f 86%,#04f 89%,#2fd 95%,#bf4 98%,#df2"></i><i style="--g:#07f,#06f 14%,#01f 28%,#00f 42%,#06f 53%,#08f 79%,#0af 86%,#0ef 91%,#3fc 93%,#df2 96%,#f80"></i><i style="--g:#0bf,#08f 74%,#0af 81%,#0ff 88%,#5fa 91%,#ef1 95%,#f90 98%,#f80"></i></div><div class="hm" style="left:1046.4px;top:1581.2px;width:181px;height:188.5px"><i style="--g:#fb0,#fe0 2%,#2fd 7%,#0df 9%,#07f 14%,#04f 28%,#05f 33%,#1fe 47%,#5fa 67%,#0ff 81%,#0bf 89%,#0af"></i><i style="--g:#f80,#f60 2%,#f90 4%,#fe0 5%,#6f9 9%,#4fb 11%,#0ff 19%,#0ff 40%,#08f 54%,#0bf 68%,#0af 79%,#fff 81%,#fff 98%,#09f"></i><i style="--g:#900,#800 2%,#f10 4%,#ff0 5%,#5fa 7%,#0ef 9%,#08f 12%,#05f 19%,#09f 60%,#07f 68%,#00f 84%,#00d 93%,#00e"></i><i style="--g:#800,#800 5%,#f10 7%,#fd0 11%,#bf4 12%,#4fb 16%,#0ff 19%,#0bf 32%,#0df 61%,#09f 88%,#09f"></i><i style="--g:#7f8,#df2 4%,#df2 5%,#9f6 9%,#0ff 12%,#05f 18%,#00e 23%,#00b 30%,#00a 37%,#01f 79%,#fff 81%,#fff 91%,#04f 93%,#04f"></i><i style="--g:#9f6,#ff0 2%,#f80 5%,#f80 7%,#fe0 11%,#1fe 16%,#0df 18%,#0af 21%,#05f 30%,#00e 35%,#00d 37%,#00e 40%,#05f 47%,#06f 61%,#09f 70%,#03f 86%,#06f"></i><i style="--g:#2fd,#ff0 5%,#fb0 7%,#f90 9%,#fb0 11%,#ff0 12%,#3fc 16%,#0cf 18%,#05f 21%,#00f 26%,#00c 35%,#00f 46%,#05f 58%,#07f 67%,#02f 86%,#07f"></i><i style="--g:#2fd,#ef1 5%,#f90 9%,#f90 11%,#fd0 12%,#cf3 14%,#3fc 18%,#0ff 19%,#0cf 25%,#0bf 33%,#0cf 39%,#0ff 42%,#5fa 46%,#6f9 49%,#0ff 56%,#0bf 63%,#0af 79%,#fff 81%,#fff 86%,#09f 88%,#04f"></i><i style="--g:#4fb,#df2 5%,#fc0 7%,#f30 11%,#f10 12%,#f30 14%,#ff0 19%,#bf4 23%,#8f7 32%,#0ff 44%,#0df 63%,#09f 74%,#fff 75%,#fff 98%,#0df"></i><i style="--g:#0ef,#3fc 5%,#bf4 9%,#fd0 11%,#fa0 12%,#fa0 14%,#fe0 16%,#1fe 21%,#0df 23%,#00f 35%,#00d 42%,#00e 47%,#09f 67%,#09f 88%,#fff 89%,#fff 98%,#09f"></i><i style="--g:#2fd,#6f9 4%,#ef1 7%,#f40 12%,#f00 16%,#f40 19%,#ff0 26%,#3fc 54%,#fff 56%,#fff 77%,#2fd 79%,#0ff 84%,#0df"></i><i style="--g:#1fe,#4fb 7%,#fe0 12%,#fb0 14%,#fa0 16%,#fc0 18%,#ff0 19%,#8f7 23%,#0ff 35%,#0cf 42%,#2fd 53%,#0ff 58%,#0cf 67%,#0cf"></i><i style="--g:#09f,#1fe 7%,#ef1 12%,#fc0 14%,#fa0 18%,#ff0 21%,#2fd 26%,#0ef 28%,#07f 35%,#07f 42%,#00f 51%,#06f"></i><i style="--g:#07f,#0af 7%,#0ef 11%,#4fb 12%,#ff0 16%,#fb0 18%,#fc0 19%,#df2 21%,#0ef 25%,#05f 28%,#03f 32%,#0bf 65%,#0af 72%,#04f 82%,#05f"></i><i style="--g:#0cf,#1fe 7%,#6f9 11%,#fe0 14%,#f40 18%,#f10 19%,#f10 21%,#f30 23%,#ff0 28%,#6f9 33%,#0ff 42%,#0df 51%,#0cf 70%,#0af 79%,#0ff 89%,#0df"></i><i style="--g:#05f,#06f 9%,#0af 12%,#0ff 14%,#bf4 18%,#ff0 19%,#fd0 21%,#df2 25%,#2fd 28%,#0df 30%,#08f 35%,#04f 60%,#07f 74%,#05f"></i><i style="--g:#0bf,#1fe 11%,#fe0 19%,#fd0 21%,#ef1 25%,#2fd 30%,#0ef 32%,#0af 35%,#09f 39%,#0cf 60%,#08f 68%,#fff 70%,#fff 75%,#05f 77%,#04f 88%,#06f"></i><i style="--g:#0af,#0ff 9%,#5fa 12%,#fe0 16%,#f50 19%,#f40 21%,#f80 23%,#fe0 25%,#3fc 28%,#0ef 30%,#0af 35%,#09f"></i><i style="--g:#0af,#1fe 11%,#5fa 14%,#fd0 18%,#f50 19%,#e00 21%,#d00 23%,#f20 25%,#ef1 28%,#8f7 32%,#0ff 42%,#06f 54%,#fff 56%,#fff 63%,#01f 65%,#01f 72%,#08f"></i><i style="--g:#09f,#0cf 11%,#0ff 16%,#ff0 23%,#ff0 25%,#1fe 30%,#0cf 32%,#08f 39%,#03f 56%,#07f 79%,#fff 81%,#fff 98%,#0af"></i><i style="--g:#01f,#01f 7%,#05f 11%,#1fe 16%,#df2 19%,#fb0 21%,#f70 23%,#f60 25%,#f90 26%,#fd0 28%,#1fe 33%,#0df 35%,#09f 40%,#05f 54%,#02f 58%,#00e 60%,#00a 63%,#00f 68%,#04f 77%,#fff 79%,#fff 96%,#01f 98%,#01f"></i><i style="--g:#00e,#00f 9%,#05f 14%,#0cf 18%,#2fd 19%,#ef1 23%,#fd0 25%,#ef1 28%,#3fc 32%,#0ef 33%,#07f 39%,#03f 49%,#03f"></i><i style="--g:#f20,#f00 2%,#fc0 4%,#5fa 5%,#0ff 7%,#0ff 11%,#4fb 16%,#9f6 19%,#ff0 21%,#f80 23%,#f10 25%,#c00 26%,#e00 28%,#fb0 32%,#ef1 33%,#bf4 37%,#0ef 60%,#09f 70%,#09f 84%,#fff 86%,#fff 98%,#0af"></i><i style="--g:#03f,#08f 14%,#0ef 19%,#ef1 25%,#ef1 26%,#0ef 32%,#08f 37%,#04f 49%,#04f 63%,#0df 74%,#06f 82%,#04f"></i><i style="--g:#ff0,#fe0 2%,#1fe 5%,#0df 7%,#2fd 16%,#4fb 18%,#ef1 21%,#fa0 23%,#f70 25%,#f80 26%,#fd0 28%,#bf4 30%,#3fc 33%,#0ff 37%,#06f 58%,#08f 70%,#fff 72%,#fff 82%,#04f 84%,#0df 93%,#0af"></i><i style="--g:#00b,#008 4%,#008 12%,#009 14%,#00f 18%,#0cf 21%,#4fb 23%,#bf4 25%,#fd0 26%,#fb0 28%,#fc0 30%,#ff0 32%,#1fe 37%,#0df 39%,#0af 42%,#08f 49%,#05f 70%,#00f 86%,#00e"></i><i style="--g:#f50,#f40 2%,#ef1 4%,#1fe 5%,#0af 7%,#08f 9%,#09f 14%,#1fe 19%,#ef1 25%,#fe0 26%,#ff0 28%,#2fd 33%,#0df 35%,#09f 39%,#08f 46%,#08f"></i><i style="--g:#05f,#0af 12%,#0ff 18%,#ff0 25%,#fd0 26%,#ff0 30%,#1fe 35%,#0df 37%,#07f 42%,#04f 53%,#04f"></i><i style="--g:#00c,#01f 11%,#0df 19%,#2fd 21%,#cf3 25%,#fe0 26%,#fc0 28%,#df2 32%,#2fd 35%,#0ef 37%,#0cf 39%,#0df 46%,#06f 51%,#04f 56%,#03f"></i><i style="--g:#2fd,#0ff 4%,#0bf 9%,#0ef 16%,#4fb 19%,#ef1 25%,#fc0 28%,#fe0 30%,#df2 32%,#3fc 35%,#0df 37%,#07f 40%,#06f 42%,#0df 54%,#0ff 65%,#0df 77%,#05f 91%,#09f"></i><i style="--g:#09f,#0af 12%,#0ff 21%,#5fa 25%,#ef1 28%,#fc0 30%,#fa0 32%,#fb0 33%,#fe0 35%,#4fb 40%,#0ff 44%,#0df 51%,#2fd 68%,#0ff 75%,#0af 84%,#0ef 95%,#0df"></i><i style="--g:#06f,#0ff 18%,#5fa 21%,#ff0 25%,#f70 28%,#f80 30%,#fc0 32%,#cf3 33%,#1fe 37%,#0df 39%,#0af 42%,#07f 49%,#07f 58%,#0af 65%,#07f 70%,#fff 72%,#fff 79%,#07f 81%,#05f"></i><i style="--g:#08f,#0bf 14%,#0ff 23%,#4fb 26%,#ff0 32%,#fd0 33%,#fe0 35%,#1fe 42%,#0df 44%,#08f 53%,#07f 65%,#fff 67%,#fff 86%,#07f 88%,#06f"></i><i style="--g:#09f,#0bf 11%,#0ff 18%,#5fa 21%,#ef1 25%,#fb0 26%,#f20 30%,#f00 32%,#f50 35%,#fe0 39%,#5fa 44%,#0ef 49%,#09f 63%,#0bf 82%,#fff 84%,#fff 95%,#02f 96%,#02f"></i><i style="--g:#04f,#06f 18%,#09f 21%,#0ef 25%,#3fc 26%,#df2 30%,#fd0 32%,#fa0 35%,#ff0 39%,#2fd 44%,#0ef 46%,#0af 49%,#08f 54%,#0bf 72%,#fff 74%,#fff 96%,#05f 98%,#05f"></i><i style="--g:#07f,#09f 12%,#0ff 23%,#6f9 26%,#ff0 30%,#fa0 32%,#f40 35%,#f40 37%,#fc0 40%,#cf3 42%,#3fc 46%,#0ff 47%,#0af 53%,#08f 61%,#0af 74%,#0ef 81%,#5fa 88%,#0ff 95%,#0cf"></i><i style="--g:#3fc,#4fb 7%,#1fe 21%,#3fc 25%,#bf4 28%,#fe0 30%,#f50 33%,#f10 37%,#f60 40%,#ff0 44%,#5fa 49%,#0ff 54%,#0cf 67%,#0bf"></i><i style="--g:#fd0,#fc0 2%,#7f8 4%,#0af 5%,#04f 7%,#03f 11%,#06f 25%,#0bf 28%,#1fe 30%,#df2 33%,#fc0 35%,#fa0 37%,#ef1 40%,#3fc 44%,#0ff 46%,#0cf 49%,#0bf 53%,#0df 68%,#03f 79%,#05f 88%,#05f"></i><i style="--g:#f80,#f80 2%,#cf3 4%,#0ff 5%,#09f 7%,#06f 12%,#08f 19%,#0ff 26%,#3fc 28%,#ff0 32%,#f50 35%,#f50 37%,#f80 39%,#fd0 40%,#af5 42%,#0ef 46%,#05f 51%,#00e 58%,#00d 65%,#01f 74%,#08f 81%,#05f 89%,#08f"></i><i style="--g:#09f,#07f 11%,#01f 19%,#00f 25%,#02f 26%,#0cf 30%,#4fb 32%,#cf3 33%,#fa0 35%,#f70 37%,#f90 39%,#ff0 40%,#2fd 44%,#0ef 46%,#0af 51%,#09f 60%,#0af 70%,#0ff 82%,#2fd 89%,#0ef"></i><i style="--g:#ef1,#ff0 2%,#6f9 4%,#0cf 5%,#08f 7%,#07f 11%,#0af 21%,#1fe 30%,#4fb 32%,#ef1 35%,#fb0 37%,#f80 39%,#f90 40%,#fd0 42%,#cf3 44%,#3fc 47%,#0ef 51%,#0bf 58%,#fff 60%,#fff 75%,#08f 77%,#0af"></i><i style="--g:#0ef,#0df 7%,#06f 23%,#08f 28%,#0ff 33%,#cf3 37%,#fa0 39%,#f40 40%,#f10 42%,#f40 44%,#ef1 47%,#5fa 51%,#0ff 60%,#0cf 75%,#06f 86%,#0cf"></i><i style="--g:#1fe,#1fe 2%,#03f 5%,#00f 7%,#00f 12%,#05f 25%,#09f 32%,#0df 35%,#2fd 37%,#df2 40%,#ff0 42%,#ef1 44%,#0ff 49%,#0df 51%,#0bf 54%,#0cf 65%,#06f 74%,#00f 88%,#00d 93%,#02f"></i><i style="--g:#0ff,#3fc 12%,#1fe 30%,#3fc 33%,#bf4 37%,#fd0 39%,#f70 40%,#f50 42%,#f70 44%,#fb0 46%,#ff0 47%,#af5 51%,#4fb 63%,#4fb 82%,#0ff"></i><i style="--g:#0df,#09f 21%,#0af 30%,#0df 35%,#1fe 37%,#cf3 40%,#fd0 42%,#fa0 44%,#ef1 47%,#6f9 51%,#4fb 53%,#4fb 60%,#0ff 67%,#03f 91%,#03f"></i><i style="--g:#f50,#f40 2%,#ff0 4%,#3fc 5%,#0df 7%,#06f 16%,#0af 32%,#1fe 37%,#ff0 42%,#fb0 44%,#f90 46%,#ff0 49%,#2fd 54%,#0ef 56%,#0bf 60%,#09f 67%,#0cf"></i><i style="--g:#08f,#09f 11%,#0ff 28%,#6f9 33%,#fd0 39%,#f70 42%,#f50 44%,#f60 46%,#fc0 49%,#df2 51%,#1fe 56%,#0df 58%,#09f 65%,#0bf 81%,#09f 88%,#fff 89%,#fff 98%,#06f"></i><i style="--g:#0af,#04f 30%,#07f 35%,#0ef 39%,#cf3 42%,#fd0 44%,#fb0 46%,#fd0 47%,#cf3 49%,#1fe 53%,#0cf 54%,#08f 58%,#07f 63%,#0af"></i><i style="--g:#0bf,#0cf 11%,#0ff 21%,#6f9 32%,#fe0 39%,#f60 42%,#f30 46%,#f50 47%,#ff0 51%,#6f9 54%,#0ff 58%,#0bf 65%,#08f 74%,#0bf"></i><i style="--g:#bf4,#cf3 2%,#4fb 4%,#0cf 5%,#07f 7%,#06f 9%,#04f 16%,#07f 23%,#0ef 32%,#4fb 35%,#cf3 39%,#fd0 40%,#f60 44%,#f50 46%,#f70 47%,#ff0 51%,#3fc 56%,#0ef 60%,#0af 72%,#09f"></i><i style="--g:#08f,#0af 11%,#08f 30%,#0af 35%,#0ef 39%,#af5 44%,#df2 47%,#bf4 49%,#0ef 54%,#09f 58%,#07f 61%,#08f 74%,#06f 86%,#fff 88%,#fff 98%,#05f"></i><i style="--g:#f60,#f40 2%,#ff0 4%,#3fc 5%,#0bf 7%,#08f 11%,#07f 21%,#09f 32%,#0ef 39%,#1fe 40%,#5fa 42%,#ff0 46%,#fb0 47%,#f90 49%,#ef1 53%,#2fd 58%,#0ff 61%,#2fd 74%,#1fe 79%,#02f 91%,#02f 95%,#05f"></i><i style="--g:#05f,#03f 5%,#06f 14%,#00f 23%,#0ff 39%,#bf4 44%,#fd0 46%,#f10 49%,#d00 53%,#f10 54%,#fe0 60%,#df2 61%,#9f6 65%,#3fc 81%,#fff 82%,#fff 89%,#0ff 91%,#0ef"></i><i style="--g:#0bf,#0ff 7%,#6f9 18%,#3fc 37%,#5fa 40%,#ef1 46%,#fd0 47%,#fa0 51%,#df2 54%,#0ef 60%,#08f 63%,#05f 67%,#04f 81%,#00f 89%,#00d 95%,#00d"></i><i style="--g:#09f,#0af 18%,#0ff 32%,#1fe 42%,#5fa 46%,#ef1 49%,#fb0 51%,#f90 53%,#fa0 54%,#ff0 56%,#5fa 60%,#0ff 63%,#0ff 65%,#0ff 72%,#09f 79%,#fff 81%,#fff 84%,#06f 86%,#01f 95%,#00f"></i><i style="--g:#0af,#0af 25%,#0ff 39%,#4fb 42%,#cf3 46%,#fb0 47%,#f50 49%,#f20 51%,#f30 53%,#fe0 56%,#5fa 60%,#0ff 63%,#03f 84%,#03f 89%,#06f"></i><i style="--g:#05f,#06f 21%,#0ff 30%,#0af 37%,#0ef 42%,#2fd 44%,#cf3 47%,#fd0 49%,#fa0 51%,#f90 53%,#ff0 56%,#1fe 61%,#0df 63%,#09f 70%,#0cf 86%,#fff 88%,#fff 98%,#09f"></i><i style="--g:#0df,#2fd 11%,#1fe 14%,#0bf 26%,#0ff 39%,#5fa 42%,#ef1 46%,#fb0 47%,#f20 51%,#f00 53%,#f00 54%,#f30 56%,#df2 61%,#6f9 65%,#0ff 70%,#0af 81%,#03f 88%,#09f"></i><i style="--g:#08f,#09f 14%,#0df 28%,#0cf 35%,#0ef 39%,#5fa 42%,#cf3 46%,#fd0 47%,#f60 51%,#f40 54%,#f50 56%,#fd0 60%,#8f7 63%,#fff 65%,#fff 84%,#08f 86%,#08f"></i><i style="--g:#fd0,#fc0 2%,#8f7 4%,#0cf 5%,#07f 7%,#06f 9%,#01f 42%,#03f 47%,#1fe 53%,#6f9 54%,#9f6 56%,#8f7 58%,#0ff 61%,#09f 65%,#08f 67%,#0df 75%,#07f 84%,#06f"></i><i style="--g:#af5,#bf4 2%,#1fe 4%,#07f 5%,#02f 7%,#02f 9%,#05f 42%,#08f 47%,#0ff 51%,#cf3 56%,#fff 58%,#fff 70%,#04f 72%,#00f 89%,#00d"></i><i style="--g:#f90,#f90 2%,#af5 4%,#0df 5%,#07f 7%,#06f 9%,#00f 26%,#00f 39%,#04f 46%,#0cf 51%,#1fe 53%,#9f6 56%,#bf4 58%,#8f7 61%,#1fe 65%,#06f 72%,#02f 79%,#01f 84%,#01f 86%,#fff 88%,#fff 98%,#05f"></i><i style="--g:#04f,#0bf 21%,#04f 44%,#08f 49%,#0df 53%,#4fb 54%,#bf4 56%,#fb0 58%,#f60 60%,#f50 61%,#ef1 65%,#7f8 68%,#5fa 74%,#0ef 81%,#0cf 88%,#fff 89%,#fff 98%,#0cf"></i><i style="--g:#5fa,#4fb 7%,#0ff 16%,#09f 30%,#0ef 42%,#4fb 47%,#fe0 53%,#f50 56%,#f20 58%,#f30 60%,#ef1 65%,#7f8 70%,#3fc 77%,#3fc 84%,#6f9 95%,#4fb"></i><i style="--g:#4fb,#6f9 4%,#5fa 11%,#1fe 18%,#09f 26%,#09f 32%,#0ff 44%,#6f9 53%,#df2 56%,#f50 60%,#f40 61%,#f70 63%,#fd0 65%,#7f8 68%,#4fb 72%,#1fe"></i><i style="--g:#05f,#08f 25%,#0ef 39%,#ef1 56%,#fe0 58%,#f90 61%,#f90 63%,#ef1 67%,#0ff 72%,#0af 75%,#07f 81%,#05f"></i><i style="--g:#05f,#06f 18%,#0cf 39%,#0bf 49%,#0ef 53%,#3fc 54%,#df2 58%,#fb0 60%,#f70 61%,#f60 63%,#f80 65%,#fe0 67%,#1fe 70%,#0af 72%,#00e 75%,#008 79%,#008 81%,#00c"></i><i style="--g:#f30,#f20 2%,#ff0 4%,#2fd 5%,#0af 7%,#06f 12%,#04f 25%,#07f 35%,#0ef 49%,#3fc 53%,#ef1 58%,#fb0 60%,#f60 63%,#f70 65%,#ff0 68%,#5fa 72%,#0ef 75%,#08f 86%,#09f"></i><i style="--g:#0ff,#5fa 12%,#0ff 28%,#0af 40%,#0bf 46%,#0ff 51%,#fe0 58%,#f40 61%,#f20 63%,#f30 65%,#fb0 68%,#ef1 70%,#6f9 74%,#1fe 79%,#0bf 89%,#09f"></i><i style="--g:#fc0,#fb0 2%,#af5 4%,#2fd 5%,#0cf 7%,#0cf 39%,#0ff 53%,#5fa 58%,#df2 61%,#fb0 63%,#f20 67%,#f10 68%,#f20 70%,#ef1 75%,#6f9 79%,#0ef 84%,#0af 91%,#0bf"></i><i style="--g:#07f,#0af 9%,#0ff 19%,#0ff 26%,#08f 40%,#09f 47%,#0df 53%,#0ff 54%,#df2 60%,#fc0 61%,#f70 65%,#f70 67%,#ff0 70%,#1fe 75%,#0cf 77%,#05f 82%,#01f 88%,#01f 91%,#06f"></i><i style="--g:#08f,#09f 14%,#0ff 33%,#0bf 53%,#0df 58%,#0ff 60%,#af5 65%,#9f6 67%,#0ff 70%,#06f 74%,#04f 75%,#08f 88%,#08f"></i><i style="--g:#0ef,#2fd 11%,#0ff 18%,#0af 23%,#01f 30%,#00b 35%,#00e 40%,#00f 42%,#0ff 54%,#6f9 58%,#fe0 61%,#f60 65%,#f50 67%,#f70 68%,#ff0 72%,#4fb 77%,#fff 79%,#fff 88%,#0ef 89%,#0df"></i><i style="--g:#f10,#f00 2%,#fc0 4%,#4fb 5%,#0df 7%,#07f 16%,#04f 23%,#06f 28%,#0df 40%,#0af 54%,#0df 58%,#1fe 60%,#cf3 65%,#ef1 67%,#df2 68%,#1fe 75%,#0ff 77%,#0df 82%,#0df"></i><i style="--g:#0af,#0af 40%,#0ef 56%,#2fd 60%,#fe0 65%,#f90 67%,#f70 68%,#f90 70%,#ff0 72%,#3fc 75%,#0ff 77%,#0bf 82%,#0cf 93%,#0af"></i><i style="--g:#09f,#08f 16%,#0cf 25%,#04f 33%,#03f 44%,#06f 54%,#0df 60%,#3fc 61%,#9f6 63%,#fd0 65%,#f60 67%,#f20 68%,#f30 70%,#ff0 74%,#3fc 77%,#0ff 79%,#0af 88%,#08f"></i><i style="--g:#fe0,#fd0 2%,#8f7 4%,#0df 5%,#09f 7%,#08f 11%,#0af 44%,#08f 58%,#0af 61%,#0df 63%,#df2 68%,#cf3 70%,#2fd 74%,#0cf 75%,#07f 81%,#04f"></i><i style="--g:#08f,#07f 18%,#02f 49%,#05f 56%,#0df 61%,#2fd 63%,#fff 65%,#fff 84%,#05f 86%,#00f 91%,#00d 95%,#00f"></i><i style="--g:#07f,#00f 9%,#00d 14%,#00f 21%,#02f 33%,#0bf 46%,#0ff 54%,#3fc 60%,#df2 65%,#fd0 67%,#f70 70%,#f90 72%,#fd0 74%,#af5 75%,#3fc 77%,#0df 79%,#07f 82%,#07f 86%,#fff 88%,#fff 98%,#0af"></i><i style="--g:#0af,#07f 7%,#00f 14%,#008 21%,#008 28%,#00e 33%,#09f 44%,#0ff 60%,#6f9 65%,#fe0 68%,#f90 70%,#f70 72%,#f90 74%,#fe0 75%,#6f9 79%,#0ff 84%,#0bf"></i><i style="--g:#07f,#0af 25%,#06f 40%,#00f 49%,#00d 53%,#00f 58%,#05f 63%,#0cf 67%,#3fc 68%,#9f6 70%,#df2 72%,#cf3 74%,#6f9 75%,#0ef 77%,#07f 79%,#01f 82%,#00d 89%,#01f"></i><i style="--g:#07f,#07f 40%,#0cf 49%,#09f 56%,#0af 60%,#0ff 67%,#df2 72%,#fe0 74%,#ef1 75%,#1fe 81%,#0af 86%,#05f"></i><i style="--g:#0af,#08f 9%,#0ff 23%,#0ff 33%,#05f 60%,#07f 65%,#0df 68%,#df2 74%,#ff0 75%,#ef1 77%,#6f9 82%,#2fd 86%,#0ef"></i><i style="--g:#04f,#03f 30%,#00f 40%,#00e 58%,#05f 65%,#0df 70%,#2fd 72%,#ef1 75%,#fb0 77%,#fa0 79%,#fd0 81%,#0ff 86%,#08f 91%,#05f"></i><i style="--g:#07f,#07f 25%,#0ff 47%,#1fe 56%,#7f8 67%,#fe0 72%,#fa0 75%,#ef1 79%,#1fe 84%,#0bf 89%,#08f"></i><i style="--g:#05f,#04f 11%,#08f 30%,#07f 49%,#0af 60%,#0df 65%,#1fe 67%,#ff0 72%,#fc0 74%,#ef1 77%,#3fc 81%,#0ef 82%,#0bf 86%,#08f"></i><i style="--g:#0af,#0af 30%,#03f 54%,#06f 61%,#0cf 67%,#2fd 68%,#ff0 72%,#fa0 74%,#f80 75%,#fa0 77%,#ff0 79%,#5fa 82%,#0ef 86%,#0bf"></i><i style="--g:#04f,#06f 18%,#06f 47%,#0ff 63%,#4fb 68%,#df2 72%,#fb0 74%,#f80 75%,#f70 77%,#df2 81%,#1fe 84%,#0df 86%,#07f 91%,#04f"></i><i style="--g:#fc0,#fc0 2%,#bf4 4%,#4fb 5%,#0ff 7%,#0ff 14%,#5fa 25%,#0ff 35%,#00f 51%,#09f 67%,#0df 70%,#2fd 72%,#fe0 77%,#fc0 79%,#fe0 82%,#5fa 88%,#2fd 91%,#0ff"></i><i style="--g:#0af,#0bf 18%,#09f 25%,#0ff 33%,#6f9 53%,#0ff 67%,#3fc 72%,#df2 75%,#fa0 77%,#fff 79%,#fff 98%,#0bf"></i><i style="--g:#0bf,#0ff 25%,#0cf 54%,#0ef 67%,#2fd 70%,#bf4 74%,#fc0 75%,#f80 77%,#f70 79%,#fc0 81%,#bf4 82%,#1fe 86%,#0ef 88%,#0af"></i><i style="--g:#05f,#00f 21%,#00d 32%,#00f 40%,#05f 68%,#08f 72%,#0ff 75%,#9f6 79%,#bf4 81%,#8f7 82%,#4fb 84%,#0ef 86%,#0af 88%,#06f 91%,#04f"></i><i style="--g:#0df,#0ef 11%,#06f 37%,#0bf 46%,#06f 51%,#05f 54%,#08f 60%,#0df 65%,#1fe 67%,#ef1 72%,#fb0 74%,#f10 77%,#e00 81%,#f10 82%,#ef1 88%,#5fa 91%,#0ff 95%,#0cf"></i><i style="--g:#ef1,#ff0 2%,#0df 5%,#09f 7%,#08f 9%,#06f 26%,#00e 42%,#00a 54%,#00b 60%,#00e 65%,#03f 68%,#0ff 74%,#fe0 79%,#f90 82%,#fd0 86%,#df2 88%,#0ff 95%,#0bf"></i><i style="--g:#0cf,#0cf 33%,#04f 44%,#0df 51%,#0ff 54%,#6f9 67%,#df2 72%,#fd0 74%,#f80 75%,#fff 77%,#fff 89%,#fb0 91%,#ff0 93%,#6f9"></i><i style="--g:#0df,#0bf 11%,#03f 33%,#0ff 63%,#3fc 68%,#cf3 74%,#fd0 75%,#f20 79%,#c00 81%,#900 82%,#900 84%,#c00 86%,#f10 88%,#fd0 91%,#cf3 93%,#5fa 96%,#2fd"></i><i style="--g:#0bf,#0bf 23%,#0ff 35%,#5fa 44%,#7f8 49%,#1fe 58%,#0ef 60%,#05f 67%,#03f 70%,#04f 72%,#0bf 75%,#2fd 77%,#df2 81%,#fd0 82%,#fe0 86%,#1fe 95%,#0df"></i><i style="--g:#08f,#09f 61%,#0af 70%,#0ef 75%,#2fd 77%,#6f9 79%,#fff 81%,#fff 84%,#fa0 86%,#fd0 88%,#cf3 89%,#2fd 93%,#09f"></i><i style="--g:#04f,#03f 21%,#00f 37%,#00c 56%,#00f 67%,#05f 74%,#0df 79%,#2fd 81%,#9f6 84%,#cf3 88%,#8f7 91%,#1fe 95%,#08f"></i><i style="--g:#9f6,#af5 2%,#3fc 4%,#0cf 5%,#08f 9%,#07f 33%,#01f 47%,#03f 56%,#02f 68%,#07f 74%,#0df 77%,#3fc 79%,#df2 82%,#fd0 84%,#fa0 88%,#fe0 91%,#1fe 98%,#0ef"></i><i style="--g:#04f,#04f 26%,#00f 37%,#00c 47%,#00f 56%,#09f 68%,#0df 79%,#2fd 81%,#ef1 84%,#fe0 86%,#ef1 88%,#1fe 93%,#0af"></i><i style="--g:#07f,#02f 12%,#01f 39%,#0ff 77%,#4fb 81%,#df2 84%,#fd0 86%,#fc0 88%,#ef1 89%,#0ff 93%,#07f 96%,#05f"></i><i style="--g:#0ef,#0df 26%,#08f 47%,#0ff 63%,#0ff 75%,#2fd 79%,#5fa 81%,#ef1 84%,#fc0 86%,#fd0 88%,#cf3 89%,#0ef 93%,#0bf 95%,#0bf 96%,#0ef"></i><i style="--g:#0df,#1fe 12%,#0ff 18%,#06f 32%,#06f 53%,#08f 61%,#0ff 75%,#3fc 82%,#ef1 86%,#f90 88%,#f60 89%,#f70 91%,#fc0 93%,#df2 95%,#8f7 96%,#3fc"></i><i style="--g:#09f,#07f 7%,#0cf 28%,#0bf 37%,#0cf 60%,#0ff 67%,#7f8 75%,#ff0 81%,#f50 86%,#f30 88%,#f50 91%,#fd0 95%,#6f9"></i><i style="--g:#06f,#01f 26%,#04f 39%,#04f 51%,#07f 70%,#0df 82%,#0ff 84%,#ef1 89%,#fe0 91%,#ff0 93%,#1fe 98%,#0ef"></i><i style="--g:#09f,#06f 25%,#09f 39%,#04f 53%,#0df 61%,#0ff 75%,#4fb 81%,#fe0 86%,#f50 89%,#f30 91%,#f50 93%,#fe0 96%,#5fa"></i><i style="--g:#08f,#06f 5%,#0af 18%,#06f 39%,#05f 75%,#08f 82%,#0ef 86%,#cf3 91%,#cf3 93%,#9f6 95%,#0ff 98%,#0cf"></i><i style="--g:#f60,#f50 2%,#fe0 4%,#8f7 5%,#3fc 7%,#0ff 12%,#0bf 26%,#0df 44%,#08f 67%,#09f 74%,#0ff 79%,#ff0 84%,#f40 88%,#f10 89%,#f00 91%,#f20 93%,#fb0 96%,#ef1 98%,#9f6"></i><i style="--g:#08f,#05f 18%,#09f 46%,#02f 77%,#05f 82%,#0cf 86%,#2fd 88%,#cf3 91%,#fe0 93%,#ff0 96%,#8f7"></i><i style="--g:#09f,#08f 9%,#03f 23%,#09f 40%,#09f 72%,#0ff 81%,#2fd 82%,#bf4 86%,#fd0 88%,#f40 91%,#f30 93%,#f50 95%,#fe0 98%,#bf4"></i><i style="--g:#f00,#d00 2%,#fa0 4%,#7f8 5%,#1fe 7%,#0ef 9%,#0ff 14%,#3fc 18%,#1fe 21%,#0af 26%,#04f 39%,#0df 49%,#0ff 54%,#2fd 77%,#6f9 82%,#ff0 88%,#f80 93%,#f90 95%,#fe0 98%,#cf3"></i><i style="--g:#f60,#f60 2%,#ff0 4%,#4fb 5%,#0ef 7%,#08f 16%,#07f 21%,#0ff 46%,#0ef 68%,#0ff 77%,#4fb 86%,#fff 88%,#fff 98%,#f70"></i><i style="--g:#01f,#00f 14%,#00b 26%,#00f 35%,#04f 47%,#03f 72%,#06f 81%,#0df 86%,#2fd 88%,#cf3 91%,#ef1 93%,#ef1 95%,#cf3 96%,#4fb"></i><i style="--g:#00e,#00f 9%,#06f 25%,#02f 44%,#02f 67%,#06f 74%,#0ff 84%,#5fa 88%,#ef1 91%,#f50 95%,#f20 96%,#f40 98%,#f80"></i><i style="--g:#0cf,#0bf 12%,#1fe 19%,#2fd 25%,#0ff 33%,#06f 72%,#08f 81%,#0ff 88%,#3fc 89%,#ef1 93%,#f50 96%,#f50 98%,#f70"></i><i style="--g:#fa0,#f90 2%,#9f6 4%,#0cf 5%,#07f 7%,#05f 9%,#07f 21%,#0df 32%,#06f 40%,#06f 65%,#00f 75%,#03f 81%,#0df 88%,#2fd 89%,#ef1 95%,#fc0 98%,#fd0"></i><i style="--g:#f50,#f50 2%,#cf3 4%,#0cf 5%,#05f 7%,#03f 9%,#02f 12%,#09f 28%,#05f 47%,#0bf 61%,#0cf 86%,#0ff 89%,#ef1 95%,#f90 98%,#f90"></i></div><div class="hm" style="left:1451px;top:1581.2px;width:181.4px;height:188.5px"><i style="--g:#fb0,#fb0 2%,#ef1 4%,#3fc 7%,#0ff 9%,#0bf 14%,#07f 28%,#00e 35%,#00a 40%,#01f 47%,#07f 60%,#03f 81%,#06f"></i><i style="--g:#f20,#f30 2%,#ef1 7%,#5fa 11%,#0ef 16%,#0df 23%,#0ff 32%,#0af 42%,#08f 63%,#04f 82%,#08f"></i><i style="--g:#af5,#fe0 2%,#fb0 4%,#fb0 5%,#ef1 7%,#4fb 11%,#1fe 12%,#0ef 14%,#08f 28%,#06f 67%,#00e 75%,#00b 79%,#00f 86%,#06f"></i><i style="--g:#800,#800 4%,#f40 5%,#fb0 7%,#df2 9%,#5fa 12%,#0ff 16%,#0bf 25%,#0ff 35%,#3fc 44%,#0ff 49%,#0bf 56%,#06f 74%,#08f 79%,#0ff 88%,#0ff 95%,#0df"></i><i style="--g:#8f7,#df2 2%,#f70 5%,#f60 7%,#f80 9%,#fe0 11%,#2fd 16%,#0ef 18%,#08f 30%,#05f 49%,#06f 63%,#0cf 89%,#0cf"></i><i style="--g:#fd0,#f30 4%,#f20 5%,#f30 7%,#fc0 11%,#df2 12%,#4fb 18%,#0ef 25%,#0cf 56%,#fff 58%,#fff 77%,#0df 79%,#0ff 88%,#0ff"></i><i style="--g:#fd0,#fb0 2%,#ff0 4%,#df2 5%,#fe0 11%,#bf4 12%,#0ff 16%,#07f 21%,#00f 35%,#00f 44%,#0df 82%,#0bf"></i><i style="--g:#fa0,#f50 2%,#f90 5%,#fa0 9%,#fd0 11%,#df2 12%,#0ff 18%,#0af 21%,#09f 26%,#0cf 47%,#01f 68%,#01f 72%,#05f 77%,#04f 84%,#09f"></i><i style="--g:#ef1,#fd0 2%,#9f6 5%,#fe0 9%,#f90 12%,#fc0 16%,#ef1 18%,#5fa 21%,#0ff 25%,#0af 37%,#09f 63%,#02f 82%,#06f"></i><i style="--g:#0ef,#5fa 4%,#df2 7%,#fc0 9%,#f60 12%,#f60 14%,#fc0 18%,#ef1 19%,#6f9 23%,#0ff 28%,#0af 35%,#00f 68%,#00f 77%,#06f 89%,#08f"></i><i style="--g:#07f,#07f 7%,#0bf 11%,#0ef 12%,#8f7 16%,#9f6 18%,#0ff 21%,#0bf 23%,#0af 25%,#0af 40%,#0df 67%,#0af"></i><i style="--g:#f90,#f70 2%,#cf3 4%,#1fe 5%,#0cf 7%,#0ef 9%,#4fb 11%,#fe0 14%,#f80 16%,#f50 18%,#f60 19%,#ff0 23%,#3fc 28%,#0ef 32%,#08f 47%,#03f 54%,#0bf 75%,#0bf"></i><i style="--g:#04f,#08f 7%,#0df 11%,#2fd 12%,#ef1 16%,#fa0 18%,#f80 19%,#fa0 21%,#fe0 23%,#1fe 28%,#0ef 30%,#0af 37%,#0af 53%,#05f 72%,#00f 81%,#07f"></i><i style="--g:#00e,#02f 7%,#06f 11%,#0ef 14%,#df2 19%,#fe0 21%,#df2 25%,#0ff 30%,#08f 35%,#05f 44%,#06f 68%,#03f 88%,#04f"></i><i style="--g:#f40,#f30 2%,#fd0 4%,#7f8 5%,#2fd 7%,#1fe 9%,#5fa 12%,#df2 16%,#fc0 18%,#f20 21%,#f00 23%,#f20 25%,#fc0 28%,#af5 30%,#3fc 32%,#0cf 33%,#09f 35%,#08f 37%,#0df 44%,#0cf"></i><i style="--g:#03f,#04f 4%,#1fe 14%,#4fb 16%,#fe0 19%,#f80 21%,#f60 23%,#ef1 26%,#2fd 30%,#0ef 32%,#07f 40%,#04f 51%,#03f 72%,#07f 91%,#06f"></i><i style="--g:#09f,#0ff 7%,#ff0 14%,#f70 18%,#f30 21%,#f70 25%,#df2 28%,#1fe 32%,#04f 37%,#00e 42%,#00d 47%,#00f 56%,#06f 81%,#07f"></i><i style="--g:#00f,#04f 11%,#07f 14%,#0ef 18%,#ff0 23%,#fb0 25%,#f80 26%,#f80 28%,#ef1 32%,#0ff 37%,#07f 42%,#00f 51%,#00a 67%,#01f"></i><i style="--g:#f80,#f70 2%,#ef1 4%,#5fa 5%,#1fe 7%,#1fe 9%,#4fb 16%,#cf3 21%,#fe0 23%,#f60 26%,#f60 28%,#f70 30%,#ff0 33%,#5fa 39%,#2fd 44%,#0ff 65%,#0cf 79%,#0ff 91%,#0bf"></i><i style="--g:#fe0,#fd0 2%,#8f7 4%,#0cf 5%,#08f 7%,#07f 9%,#0af 16%,#0ef 19%,#2fd 21%,#ff0 26%,#fd0 28%,#fc0 30%,#fe0 32%,#2fd 37%,#0df 39%,#06f 46%,#00f 65%,#00e 70%,#04f 79%,#04f"></i><i style="--g:#04f,#05f 18%,#07f 19%,#1fe 23%,#ef1 26%,#fb0 28%,#fa0 30%,#fd0 32%,#0ff 37%,#08f 42%,#05f 51%,#00f 82%,#00e 88%,#01f"></i><i style="--g:#8f7,#9f6 2%,#0ff 4%,#05f 5%,#01f 7%,#00f 9%,#04f 16%,#0ff 25%,#cf3 30%,#ff0 33%,#df2 37%,#2fd 42%,#0df 44%,#08f 49%,#07f 67%,#03f 86%,#03f"></i><i style="--g:#fa0,#f90 2%,#af5 4%,#0df 5%,#08f 7%,#07f 9%,#09f 16%,#0df 21%,#1fe 23%,#ff0 28%,#fb0 30%,#f90 32%,#f90 33%,#ef1 37%,#0ff 42%,#07f 47%,#03f 56%,#03f 63%,#09f 84%,#06f 95%,#08f"></i><i style="--g:#fb0,#fa0 2%,#cf3 4%,#3fc 5%,#0df 7%,#0cf 14%,#0ff 23%,#4fb 26%,#df2 30%,#fb0 32%,#f70 33%,#f60 35%,#ff0 39%,#af5 40%,#4fb 44%,#0ff 54%,#05f 89%,#04f"></i><i style="--g:#09f,#1fe 21%,#6f9 25%,#fe0 28%,#f40 32%,#f10 33%,#f10 35%,#f40 37%,#ff0 40%,#3fc 44%,#0ef 46%,#08f 51%,#00f 65%,#04f 75%,#04f"></i><i style="--g:#fc0,#fb0 2%,#9f6 4%,#0df 5%,#08f 7%,#07f 9%,#0af 21%,#1fe 28%,#fd0 33%,#f90 35%,#f70 37%,#ef1 40%,#1fe 44%,#0bf 46%,#05f 49%,#03f 53%,#07f 63%,#07f"></i><i style="--g:#07f,#09f 16%,#0bf 21%,#0ff 25%,#df2 30%,#fd0 32%,#fa0 35%,#ef1 39%,#3fc 42%,#0df 44%,#06f 47%,#00f 54%,#00d 58%,#00e 61%,#05f 70%,#07f 84%,#0bf 91%,#05f 96%,#06f"></i><i style="--g:#f40,#f20 2%,#ff0 4%,#2fd 5%,#0af 7%,#09f 11%,#09f 18%,#0ef 25%,#2fd 26%,#ef1 32%,#fd0 33%,#fb0 35%,#ff0 39%,#2fd 44%,#0df 46%,#01f 54%,#00e 56%,#00c 61%,#00f 68%,#0bf 81%,#0ef 86%,#0af"></i><i style="--g:#ef1,#ef1 2%,#0ff 5%,#08f 9%,#05f 12%,#0ff 25%,#5fa 28%,#ff0 32%,#f50 35%,#f30 37%,#f40 39%,#ef1 42%,#0ff 46%,#0af 47%,#07f 49%,#06f 61%,#0bf 81%,#0bf"></i><i style="--g:#f70,#f60 2%,#cf3 4%,#0ef 5%,#07f 7%,#05f 9%,#00f 19%,#05f 25%,#0ef 28%,#cf3 32%,#fc0 33%,#f80 35%,#f60 37%,#f70 39%,#ff0 42%,#3fc 47%,#0ef 51%,#0af 65%,#01f 77%,#01f 81%,#07f 91%,#08f"></i><i style="--g:#05f,#07f 21%,#0af 26%,#0ff 30%,#fe0 37%,#fc0 39%,#ff0 42%,#0ef 47%,#05f 51%,#00f 54%,#00d 60%,#00f 65%,#05f 77%,#05f"></i><i style="--g:#ff0,#ff0 2%,#1fe 5%,#0df 7%,#0cf 14%,#1fe 25%,#5fa 28%,#fd0 33%,#f80 37%,#f90 39%,#fd0 40%,#cf3 42%,#2fd 46%,#0df 47%,#08f 51%,#06f 58%,#08f 68%,#06f 75%,#0ff 88%,#0df"></i><i style="--g:#ef1,#df2 2%,#3fc 4%,#09f 5%,#06f 7%,#01f 23%,#04f 28%,#0cf 33%,#2fd 35%,#ef1 39%,#fb0 40%,#fb0 42%,#fe0 44%,#3fc 49%,#0ff 53%,#0bf 63%,#09f 82%,#06f 95%,#06f"></i><i style="--g:#04f,#01f 21%,#06f 28%,#0ff 33%,#bf4 37%,#fc0 39%,#f80 40%,#f80 42%,#fc0 44%,#bf4 46%,#0ff 49%,#0af 53%,#08f 60%,#05f"></i><i style="--g:#f90,#f80 2%,#ef1 4%,#6f9 5%,#2fd 7%,#1fe 9%,#0ff 19%,#3fc 26%,#7f8 30%,#ff0 33%,#f40 37%,#f10 39%,#f10 40%,#f30 42%,#fe0 46%,#4fb 51%,#0ff 56%,#0af 70%,#00f 82%,#01f 89%,#09f"></i><i style="--g:#0df,#0ef 2%,#00f 5%,#00d 7%,#00e 12%,#08f 28%,#0ef 33%,#ff0 39%,#fb0 40%,#df2 44%,#0df 47%,#07f 49%,#00f 53%,#00f 56%,#05f 67%,#04f"></i><i style="--g:#f20,#f00 2%,#fc0 4%,#6f9 5%,#1fe 7%,#0ff 9%,#6f9 23%,#8f7 32%,#fe0 37%,#f50 40%,#f40 42%,#f60 44%,#fb0 46%,#cf3 47%,#2fd 51%,#0df 53%,#0af 56%,#09f 63%,#0cf 75%,#08f 84%,#08f"></i><i style="--g:#0cf,#1fe 25%,#4fb 30%,#fe0 35%,#f20 39%,#e00 40%,#e00 42%,#f20 44%,#fe0 47%,#bf4 49%,#3fc 54%,#0ff 61%,#0ff 70%,#4fb 88%,#1fe"></i><i style="--g:#fe0,#fe0 2%,#4fb 4%,#07f 5%,#01f 7%,#00e 9%,#02f 28%,#05f 32%,#0df 35%,#3fc 37%,#ef1 40%,#fb0 42%,#f90 46%,#ff0 49%,#6f9 53%,#0ff 56%,#09f 65%,#08f 84%,#04f"></i><i style="--g:#bf4,#cf3 2%,#2fd 4%,#07f 5%,#02f 7%,#00f 11%,#00e 21%,#00a 28%,#00d 32%,#02f 33%,#0af 37%,#1fe 39%,#ff0 42%,#fa0 44%,#fa0 46%,#fe0 47%,#0ff 53%,#08f 60%,#00f 79%,#04f"></i><i style="--g:#00c,#00b 9%,#00f 19%,#08f 37%,#1fe 42%,#7f8 46%,#7f8 47%,#0ef 51%,#08f 54%,#08f 61%,#03f 70%,#03f"></i><i style="--g:#d00,#c00 2%,#f80 4%,#af5 5%,#4fb 7%,#2fd 9%,#0df 25%,#0ff 33%,#5fa 39%,#fe0 42%,#f30 46%,#f20 47%,#f50 49%,#ef1 53%,#5fa 56%,#0ff 61%,#0bf 75%,#0af"></i><i style="--g:#ff0,#fe0 2%,#1fe 5%,#0cf 7%,#05f 23%,#08f 28%,#0ef 33%,#4fb 37%,#fe0 42%,#f60 46%,#f70 47%,#df2 51%,#3fc 54%,#0ff 56%,#0cf 63%,#0bf"></i><i style="--g:#fe0,#fd0 2%,#7f8 4%,#0af 5%,#04f 7%,#00f 12%,#00b 23%,#00f 30%,#05f 35%,#0cf 39%,#1fe 40%,#cf3 44%,#fd0 46%,#fb0 47%,#fa0 49%,#df2 53%,#0ff 58%,#0af 61%,#08f 67%,#03f"></i><i style="--g:#fc0,#fb0 2%,#8f7 4%,#0df 5%,#08f 7%,#07f 9%,#02f 32%,#05f 39%,#0cf 42%,#3fc 44%,#df2 47%,#ef1 49%,#cf3 51%,#1fe 56%,#0cf 58%,#08f 61%,#06f 68%,#05f"></i><i style="--g:#0cf,#0ff 9%,#2fd 35%,#5fa 40%,#ff0 46%,#f90 49%,#f80 51%,#df2 56%,#3fc 61%,#0ff 65%,#0cf"></i><i style="--g:#f40,#f20 2%,#fe0 4%,#3fc 5%,#0cf 7%,#0af 11%,#0bf 28%,#0df 39%,#0ff 42%,#2fd 44%,#fe0 49%,#fb0 51%,#fd0 53%,#cf3 54%,#0ef 58%,#05f 61%,#00f 67%,#00e 72%,#00f 77%,#07f 91%,#0af"></i><i style="--g:#00d,#00a 9%,#00f 25%,#08f 42%,#0ff 47%,#cf3 51%,#fe0 53%,#fd0 54%,#df2 56%,#0ff 60%,#07f 63%,#00f 70%,#008 77%,#008 84%,#00f 89%,#05f 95%,#06f"></i><i style="--g:#f10,#f00 2%,#fc0 4%,#5fa 5%,#0ef 7%,#0cf 9%,#0cf 14%,#0ff 28%,#8f7 40%,#ff0 46%,#f30 51%,#f20 53%,#f40 54%,#ff0 58%,#3fc 63%,#0ef 67%,#00f 81%,#00c 86%,#00f 93%,#04f"></i><i style="--g:#fb0,#fc0 2%,#7f8 4%,#0af 5%,#03f 7%,#00f 9%,#00a 14%,#008 19%,#009 25%,#00e 30%,#0ff 44%,#6f9 47%,#fd0 51%,#f40 54%,#f30 56%,#fc0 60%,#cf3 61%,#4fb 65%,#0ef 68%,#09f 75%,#07f 81%,#09f"></i><i style="--g:#f40,#f20 2%,#fb0 4%,#af5 5%,#6f9 7%,#5fa 9%,#0ff 25%,#0df 33%,#1fe 42%,#6f9 47%,#ef1 51%,#fd0 53%,#f80 56%,#f80 58%,#fd0 61%,#df2 63%,#4fb 68%,#0ef 75%,#04f 84%,#fff 86%,#fff 95%,#07f 96%,#08f"></i><i style="--g:#cf3,#df2 2%,#0ef 5%,#0bf 7%,#0af 9%,#0bf 25%,#08f 37%,#09f 42%,#0ff 47%,#df2 53%,#fc0 54%,#fa0 56%,#fa0 58%,#ef1 61%,#3fc 67%,#0ef 70%,#0af 86%,#0af"></i><i style="--g:#cf3,#cf3 2%,#2fd 4%,#08f 5%,#04f 7%,#07f 16%,#08f 32%,#0af 40%,#0ff 46%,#3fc 47%,#cf3 51%,#fd0 53%,#f50 56%,#f50 58%,#fc0 61%,#cf3 63%,#1fe 68%,#0af 79%,#08f"></i><i style="--g:#06f,#06f 26%,#02f 44%,#05f 47%,#1fe 53%,#9f6 56%,#bf4 60%,#7f8 63%,#0ff 67%,#06f 74%,#03f 81%,#06f"></i><i style="--g:#f70,#f60 2%,#cf3 4%,#0ff 5%,#09f 7%,#07f 9%,#03f 37%,#05f 47%,#0cf 53%,#1fe 54%,#bf4 58%,#ef1 60%,#ff0 61%,#ef1 63%,#1fe 70%,#0ef 72%,#04f 95%,#05f"></i><i style="--g:#ef1,#ff0 2%,#0ff 5%,#0bf 7%,#09f 9%,#07f 19%,#0af 30%,#0ff 37%,#4fb 47%,#cf3 53%,#fd0 54%,#f00 60%,#e00 61%,#f00 63%,#fd0 68%,#df2 70%,#3fc 75%,#0ff 81%,#0df"></i><i style="--g:#f60,#f50 2%,#ef1 4%,#3fc 5%,#0cf 7%,#0af 11%,#0bf 35%,#0ff 49%,#4fb 53%,#df2 56%,#fc0 58%,#f30 61%,#f10 63%,#f50 67%,#ff0 70%,#6f9 74%,#1fe 77%,#07f 91%,#05f"></i><i style="--g:#00c,#00f 16%,#04f 28%,#06f 49%,#08f 54%,#0df 58%,#3fc 60%,#ff0 63%,#fd0 65%,#ff0 67%,#3fc 70%,#0df 72%,#08f 75%,#06f 81%,#07f"></i><i style="--g:#04f,#04f 23%,#00f 33%,#00d 39%,#00f 44%,#06f 51%,#0ff 58%,#fe0 63%,#f90 65%,#f80 67%,#df2 70%,#3fc 74%,#0ff 75%,#08f 86%,#04f"></i><i style="--g:#02f,#01f 11%,#04f 42%,#0df 58%,#3fc 60%,#af5 61%,#fc0 63%,#f50 65%,#f40 67%,#f90 68%,#df2 70%,#5fa 72%,#0ef 74%,#09f 77%,#07f 82%,#03f"></i><i style="--g:#0af,#0bf 26%,#0ff 49%,#6f9 58%,#fe0 63%,#f70 67%,#f80 68%,#fc0 70%,#cf3 72%,#1fe 75%,#0df 77%,#09f 84%,#0df"></i><i style="--g:#9f6,#9f6 2%,#1fe 4%,#08f 5%,#05f 7%,#04f 9%,#0af 25%,#0bf 46%,#0ff 54%,#5fa 60%,#df2 63%,#fb0 65%,#f00 68%,#c00 70%,#f20 74%,#fd0 77%,#df2 79%,#6f9 84%,#0ef"></i><i style="--g:#f50,#f50 2%,#fd0 4%,#7f8 5%,#3fc 7%,#1fe 9%,#0ff 16%,#0cf 40%,#0ff 51%,#6f9 56%,#df2 60%,#fb0 61%,#f40 63%,#c00 65%,#800 67%,#a00 68%,#f00 70%,#fe0 74%,#7f8 79%,#1fe 86%,#0df"></i><i style="--g:#09f,#09f 16%,#04f 33%,#08f 47%,#09f 58%,#0df 61%,#2fd 63%,#bf4 67%,#fff 68%,#fff 86%,#0bf 88%,#09f"></i><i style="--g:#ff0,#fe0 2%,#7f8 4%,#0bf 5%,#06f 7%,#05f 9%,#04f 39%,#06f 49%,#0ff 60%,#5fa 63%,#df2 67%,#fd0 68%,#fd0 70%,#ff0 72%,#0ef 77%,#0af 79%,#08f 82%,#04f"></i><i style="--g:#fa0,#f90 2%,#cf3 4%,#2fd 5%,#0cf 7%,#0bf 19%,#0ff 44%,#1fe 54%,#4fb 60%,#ef1 65%,#fb0 67%,#f30 70%,#f10 74%,#f30 75%,#fe0 81%,#9f6 84%,#6f9 88%,#2fd"></i><i style="--g:#06f,#05f 9%,#00f 16%,#009 25%,#00f 33%,#05f 61%,#08f 65%,#0cf 67%,#2fd 68%,#af5 72%,#af5 74%,#1fe 77%,#0bf 79%,#07f 82%,#06f"></i><i style="--g:#fe0,#fd0 2%,#7f8 4%,#0cf 5%,#08f 7%,#06f 9%,#05f 16%,#00f 25%,#02f 35%,#02f 46%,#0af 58%,#fff 60%,#fff 68%,#fc0 70%,#f40 74%,#f50 75%,#ff0 79%,#0ff 84%,#08f 91%,#05f"></i><i style="--g:#0cf,#0ff 12%,#0cf 26%,#0df 44%,#0ff 54%,#4fb 61%,#ef1 67%,#fb0 68%,#f10 72%,#f00 74%,#f10 75%,#fd0 81%,#cf3 82%,#4fb 86%,#0ef 89%,#0bf 95%,#0bf"></i><i style="--g:#05f,#03f 25%,#0bf 37%,#06f 51%,#0ff 67%,#5fa 70%,#ef1 74%,#fc0 75%,#f90 77%,#f90 79%,#fc0 81%,#df2 82%,#2fd 86%,#0df 88%,#08f 93%,#05f"></i><i style="--g:#ff0,#fe0 2%,#7f8 4%,#0df 5%,#08f 7%,#07f 9%,#0bf 18%,#07f 25%,#06f 39%,#08f 47%,#0ff 61%,#3fc 67%,#fe0 74%,#f80 77%,#f80 79%,#fd0 82%,#ef1 84%,#0ff 91%,#09f"></i><i style="--g:#01f,#00b 7%,#01f 12%,#05f 19%,#05f 58%,#09f 67%,#0df 70%,#3fc 72%,#df2 75%,#ff0 77%,#ef1 79%,#0ef 84%,#07f 89%,#05f"></i><i style="--g:#fc0,#fb0 2%,#9f6 4%,#0ef 5%,#09f 7%,#07f 9%,#04f 19%,#0af 53%,#0ef 61%,#1fe 63%,#5fa 67%,#ff0 70%,#f30 74%,#f00 75%,#f10 77%,#ff0 82%,#7f8 88%,#0ff"></i><i style="--g:#f70,#f60 2%,#cf3 4%,#0ff 5%,#08f 7%,#06f 9%,#00e 18%,#009 26%,#00f 35%,#0ef 65%,#2fd 67%,#ff0 72%,#f80 75%,#f70 77%,#fc0 81%,#df2 82%,#0ff 88%,#09f 93%,#07f"></i><i style="--g:#7f8,#8f7 2%,#0ef 4%,#04f 5%,#00f 7%,#00c 12%,#00b 28%,#00d 32%,#01f 33%,#09f 39%,#0af 49%,#0ff 61%,#6f9 68%,#ff0 74%,#fc0 75%,#f80 79%,#f90 81%,#ef1 84%,#2fd 89%,#0ef 91%,#08f"></i><i style="--g:#04f,#00f 12%,#00a 26%,#00e 46%,#00a 58%,#00f 65%,#05f 68%,#0ef 72%,#fe0 77%,#fb0 79%,#fa0 81%,#ff0 84%,#6f9 88%,#0ff 91%,#0af"></i><i style="--g:#fc0,#fb0 2%,#9f6 4%,#0cf 5%,#07f 7%,#05f 9%,#05f 39%,#09f 65%,#0af 68%,#0ef 72%,#3fc 74%,#cf3 77%,#ff0 79%,#ef1 81%,#0ef 86%,#0af 88%,#06f 91%,#05f"></i><i style="--g:#0af,#09f 56%,#0df 67%,#fff 68%,#fff 81%,#f90 82%,#ff0 86%,#2fd 93%,#0df"></i><i style="--g:#fa0,#f90 2%,#af5 4%,#0df 5%,#07f 7%,#06f 9%,#05f 19%,#08f 54%,#0ff 72%,#5fa 75%,#fe0 79%,#fb0 81%,#df2 84%,#2fd 88%,#0ef 89%,#07f"></i><i style="--g:#ff0,#ff0 2%,#5fa 4%,#0af 5%,#05f 7%,#05f 9%,#0df 26%,#0cf 60%,#fff 61%,#fff 75%,#6f9 77%,#fe0 81%,#f50 84%,#f50 86%,#fe0 89%,#af5 91%,#3fc 95%,#0ef"></i><i style="--g:#ff0,#fe0 2%,#0ff 5%,#0bf 7%,#0af 9%,#0af 51%,#07f 60%,#0ff 72%,#4fb 75%,#df2 79%,#fb0 81%,#f70 82%,#f80 84%,#fd0 86%,#5fa 89%,#3fc 91%,#2fd"></i><i style="--g:#f70,#f60 2%,#cf3 4%,#0ef 5%,#08f 7%,#05f 11%,#0af 23%,#09f 58%,#0ff 77%,#3fc 79%,#fe0 82%,#f80 84%,#f60 86%,#f80 88%,#fd0 89%,#bf4 91%,#3fc 95%,#0ef"></i><i style="--g:#07f,#07f 28%,#0ff 61%,#5fa 70%,#fe0 75%,#f20 79%,#b00 81%,#800 82%,#800 86%,#c00 88%,#f30 89%,#ef1 93%,#4fb 96%,#0ef"></i><i style="--g:#f90,#f80 2%,#cf3 4%,#1fe 5%,#0bf 7%,#04f 58%,#08f 67%,#0ff 72%,#ef1 77%,#fb0 79%,#f30 82%,#f20 84%,#f60 88%,#fe0 91%,#6f9 96%,#2fd"></i><i style="--g:#f50,#f40 2%,#fd0 4%,#7f8 5%,#2fd 7%,#0ff 11%,#08f 23%,#0bf 33%,#0cf 60%,#0ff 70%,#5fa 75%,#ef1 79%,#f60 82%,#f50 84%,#f80 86%,#fe0 88%,#3fc 93%,#0ff 96%,#0ef"></i><i style="--g:#0cf,#0bf 11%,#03f 26%,#02f 33%,#05f 40%,#0ff 53%,#3fc 60%,#4fb 74%,#7f8 79%,#ff0 84%,#fd0 88%,#fe0 89%,#df2 91%,#1fe 96%,#0bf"></i><i style="--g:#0cf,#0cf 21%,#09f 37%,#0ff 56%,#4fb 67%,#6f9 77%,#df2 82%,#fd0 84%,#f80 88%,#fa0 89%,#fe0 91%,#1fe 96%,#0cf"></i><i style="--g:#df2,#ef1 2%,#5fa 4%,#0bf 5%,#06f 7%,#05f 9%,#02f 40%,#05f 58%,#0cf 68%,#0ef 79%,#2fd 81%,#cf3 84%,#fe0 86%,#fd0 88%,#ef1 89%,#3fc 93%,#0df 95%,#06f"></i><i style="--g:#f70,#f70 2%,#ef1 4%,#4fb 5%,#0ef 7%,#0df 19%,#0ef 26%,#3fc 33%,#0ef 42%,#0bf 65%,#0ff 77%,#4fb 81%,#ef1 84%,#f30 88%,#f10 89%,#f30 91%,#ff0 95%,#af5 96%,#4fb"></i><i style="--g:#f10,#f00 2%,#fb0 4%,#6f9 5%,#1fe 7%,#0ef 9%,#2fd 23%,#1fe 26%,#09f 35%,#08f 44%,#09f 51%,#0df 58%,#0ff 60%,#5fa 63%,#7f8 72%,#ff0 82%,#f00 89%,#f10 91%,#ef1 96%,#8f7"></i><i style="--g:#f70,#f60 2%,#ef1 4%,#3fc 5%,#0cf 7%,#0bf 11%,#0af 35%,#03f 60%,#07f 70%,#1fe 79%,#fff 81%,#fff 91%,#f70 93%,#fe0 96%,#8f7"></i><i style="--g:#f80,#f70 2%,#bf4 4%,#0df 5%,#06f 7%,#05f 9%,#05f 25%,#0bf 39%,#08f 51%,#02f 61%,#01f 77%,#04f 81%,#0bf 84%,#2fd 86%,#ff0 89%,#fb0 91%,#fc0 93%,#ff0 95%,#3fc 98%,#0ef"></i><i style="--g:#03f,#04f 44%,#02f 63%,#08f 75%,#0ef 81%,#ff0 88%,#fd0 89%,#fc0 91%,#ef1 95%,#2fd"></i><i style="--g:#af5,#bf4 2%,#3fc 4%,#0af 5%,#06f 7%,#05f 9%,#08f 21%,#0ef 30%,#7f8 40%,#0ef 53%,#09f 60%,#08f 65%,#09f 72%,#0ef 79%,#5fa 82%,#ef1 86%,#f60 89%,#f40 91%,#f60 93%,#ef1 96%,#5fa"></i><i style="--g:#f70,#f60 2%,#bf4 4%,#0cf 5%,#05f 7%,#02f 9%,#00f 12%,#00f 23%,#07f 40%,#0af 72%,#0ff 81%,#6f9 84%,#bf4 86%,#fc0 88%,#e00 91%,#a00 93%,#b00 95%,#f00 96%,#fd0"></i><i style="--g:#fb0,#fb0 2%,#af5 4%,#0ef 5%,#09f 7%,#08f 11%,#07f 30%,#0df 56%,#06f 74%,#fff 75%,#fff 84%,#6f9 86%,#fd0 89%,#f80 93%,#fc0 96%,#df2 98%,#9f6"></i><i style="--g:#ff0,#fe0 2%,#7f8 4%,#0df 5%,#09f 7%,#07f 11%,#08f 25%,#0bf 37%,#09f 51%,#0cf 67%,#01f 81%,#05f 84%,#0bf 86%,#3fc 88%,#bf4 89%,#fc0 91%,#f90 93%,#fa0 95%,#ff0 96%,#4fb"></i><i style="--g:#fa0,#f90 2%,#9f6 4%,#0bf 5%,#05f 7%,#03f 9%,#01f 14%,#04f 21%,#00e 28%,#04f 49%,#01f 56%,#00a 61%,#00b 72%,#00e 75%,#04f 79%,#0ff 84%,#ff0 89%,#f90 93%,#fa0 95%,#ff0 98%,#bf4"></i><i style="--g:#f50,#f40 2%,#ff0 4%,#3fc 5%,#0cf 7%,#0bf 11%,#0bf 49%,#0ff 63%,#0df 68%,#08f 75%,#09f 79%,#0ff 84%,#5fa 88%,#df2 91%,#fe0 93%,#ef1 95%,#2fd 98%,#0df"></i><i style="--g:#03f,#02f 7%,#09f 18%,#0cf 26%,#0bf 72%,#0ef 79%,#4fb 82%,#ff0 88%,#f60 91%,#f20 95%,#f30 96%,#f90"></i><i style="--g:#f60,#f50 2%,#ff0 4%,#4fb 5%,#0ef 7%,#0af 23%,#09f 47%,#0af 70%,#0ef 81%,#3fc 84%,#ff0 89%,#f80 93%,#f80 95%,#ff0 98%,#bf4"></i><i style="--g:#f40,#f30 2%,#ff0 4%,#2fd 5%,#0bf 7%,#06f 14%,#04f 23%,#0bf 37%,#0ff 72%,#5fa 84%,#df2 89%,#fc0 91%,#f60 95%,#f70 96%,#fe0"></i><i style="--g:#fd0,#fc0 2%,#9f6 4%,#0df 5%,#08f 7%,#04f 12%,#00f 39%,#00c 56%,#00e 61%,#04f 79%,#06f 82%,#0cf 86%,#1fe 88%,#fe0 93%,#fb0 96%,#df2"></i><i style="--g:#0af,#06f 33%,#0af 51%,#0bf 70%,#0ff 81%,#4fb 86%,#cf3 89%,#fc0 91%,#f80 93%,#f80 95%,#df2 98%,#8f7"></i><i style="--g:#7f8,#8f7 2%,#2fd 4%,#0af 5%,#06f 9%,#05f 16%,#0af 35%,#06f 46%,#07f 63%,#09f 68%,#0ff 74%,#3fc 77%,#0ff 82%,#2fd 86%,#7f8 89%,#fff 91%,#fff 98%,#f40"></i><i style="--g:#f90,#f80 2%,#af5 4%,#0cf 5%,#06f 7%,#04f 9%,#00f 21%,#00a 32%,#00b 37%,#00f 42%,#04f 49%,#08f 63%,#03f 81%,#07f 86%,#0ef 89%,#bf4 93%,#fd0 95%,#fa0 96%,#fa0 98%,#fe0"></i><i style="--g:#07f,#0bf 11%,#08f 32%,#0cf 39%,#03f 47%,#01f 53%,#00e 72%,#00f 77%,#05f 82%,#0ef 88%,#df2 93%,#fe0 95%,#fb0 98%,#fc0"></i><i style="--g:#df2,#ef1 2%,#5fa 4%,#0af 5%,#06f 7%,#04f 9%,#04f 33%,#00f 44%,#04f 58%,#00f 67%,#00f 74%,#07f 86%,#0bf 89%,#1fe 91%,#cf3 95%,#df2 96%,#bf4 98%,#5fa"></i><i style="--g:#fb0,#fa0 2%,#bf4 4%,#1fe 5%,#0bf 7%,#08f 14%,#00f 23%,#00e 28%,#0bf 54%,#03f 63%,#0af 72%,#0ff 82%,#4fb 86%,#df2 89%,#fc0 91%,#f50 95%,#f40 96%,#fb0"></i><i style="--g:#df2,#df2 2%,#5fa 4%,#0cf 5%,#08f 7%,#07f 9%,#0af 19%,#0af 37%,#05f 54%,#0af 61%,#05f 70%,#0ef 84%,#4fb 88%,#fe0 93%,#f90 96%,#ff0"></i><i style="--g:#ef1,#ff0 2%,#6f9 4%,#0df 5%,#08f 7%,#07f 9%,#04f 23%,#09f 68%,#0ff 79%,#2fd 84%,#cf3 89%,#fd0 91%,#f70 95%,#f80 96%,#ff0"></i><i style="--g:#0df,#0df 7%,#08f 18%,#0af 23%,#09f 25%,#00f 30%,#00e 32%,#07f 44%,#09f 72%,#0df 86%,#0ff 88%,#ef1 93%,#fa0 96%,#fe0"></i><i style="--g:#f30,#f10 2%,#ff0 4%,#1fe 5%,#09f 7%,#07f 9%,#01f 25%,#04f 37%,#00f 53%,#00c 65%,#00f 74%,#07f 84%,#0ef 89%,#4fb 91%,#ff0 95%,#fb0 96%,#fb0 98%,#ff0"></i><i style="--g:#04f,#04f 14%,#00f 33%,#02f 51%,#03f 77%,#06f 82%,#0ef 86%,#bf4 89%,#fd0 91%,#f50 95%,#f40 96%,#fa0"></i><i style="--g:#fe0,#fd0 2%,#af5 4%,#2fd 5%,#0ef 7%,#09f 30%,#08f 54%,#01f 65%,#008 74%,#008 81%,#00d 84%,#01f 86%,#0ef 91%,#cf3 95%,#fe0 96%,#df2"></i><i style="--g:#f00,#d00 2%,#fa0 4%,#7f8 5%,#1fe 7%,#0ff 9%,#2fd 18%,#0ff 30%,#0cf 54%,#0ff 79%,#4fb 86%,#cf3 91%,#fd0 93%,#f40 96%,#f10 98%,#f20"></i><i style="--g:#ff0,#ff0 2%,#0ff 5%,#0bf 7%,#04f 19%,#01f 30%,#07f 47%,#0af 72%,#0af 75%,#04f 81%,#05f 82%,#0df 86%,#1fe 88%,#ef1 93%,#f60 96%,#f40 98%,#f60"></i><i style="--g:#f10,#f00 2%,#fc0 4%,#6f9 5%,#0ff 7%,#0bf 12%,#0cf 23%,#08f 32%,#08f 39%,#08f 74%,#0af 79%,#0ef 84%,#ef1 93%,#fd0 96%,#fe0 98%,#df2"></i><i style="--g:#07f,#06f 35%,#08f 72%,#fff 74%,#fff 96%,#f90 98%,#f80"></i><i style="--g:#0af,#0af 40%,#02f 56%,#01f 63%,#05f 75%,#0ff 89%,#df2 95%,#fc0 96%,#f40"></i><i style="--g:#07f,#09f 23%,#06f 40%,#00f 51%,#00d 58%,#00e 63%,#06f 77%,#0ff 89%,#4fb 93%,#df2 96%,#f90"></i><i style="--g:#af5,#bf4 2%,#0ef 5%,#0bf 7%,#0ef 18%,#0af 21%,#00f 26%,#00c 28%,#00a 32%,#00f 53%,#05f 67%,#06f 81%,#09f 86%,#0ef 89%,#3fc 91%,#df2 95%,#fb0 96%,#f30"></i></div><div class="hm" style="left:99.5px;top:2207.5px;width:220.3px;height:179.6px"><i style="--g:#f80,#f50 1%,#f50 3%,#f90 8%,#fc0 10%,#bf4 11%,#3fc 12%,#0af 14%,#06f 15%,#04f 16%,#00f 23%,#01f 37%,#07f 48%,#00f 64%,#00f 74%,#00b 82%,#01f 88%,#03f 92%,#02f"></i><i style="--g:#ff0,#df2 4%,#fe0 10%,#9f6 11%,#0ef 12%,#04f 14%,#00d 15%,#008 21%,#008 29%,#00e 36%,#01f 37%,#09f 44%,#00f 55%,#00c 62%,#00f 71%,#06f 88%,#0ef 95%,#0cf"></i><i style="--g:#fb0,#fa0 1%,#fd0 3%,#bf4 5%,#cf3 8%,#af5 10%,#3fc 11%,#07f 12%,#00c 14%,#009 15%,#008 22%,#008 32%,#00c 38%,#008 48%,#008 59%,#00f 71%,#05f 77%,#00f 84%,#01f"></i><i style="--g:#ff0,#fc0 1%,#fd0 5%,#f60 8%,#f50 10%,#fc0 11%,#7f8 12%,#0df 14%,#09f 15%,#08f 16%,#00f 33%,#008 42%,#008 66%,#00d 70%,#00f 73%,#00e 77%,#00a 85%,#00c 96%,#00b"></i><i style="--g:#4fb,#6f9 1%,#4fb 4%,#5fa 5%,#fd0 8%,#fa0 10%,#fd0 11%,#bf4 12%,#7f8 14%,#0ef 19%,#09f 22%,#06f 25%,#00f 34%,#008 42%,#008 48%,#00d 55%,#008 67%,#008"></i><i style="--g:#01f,#00c 4%,#00e 5%,#04f 7%,#0af 8%,#0ff 10%,#0ff 11%,#04f 15%,#02f 19%,#03f 22%,#0af 30%,#06f 36%,#00f 48%,#00d 59%,#008 66%,#008 73%,#00d 78%,#00e 86%,#00d 90%,#008 97%,#008"></i><i style="--g:#01f,#03f 4%,#1fe 10%,#0ff 11%,#07f 15%,#04f 21%,#02f 34%,#04f 45%,#00f 52%,#00a 58%,#009 60%,#01f 68%,#01f 71%,#00f 75%,#008 89%,#00f 97%,#03f"></i><i style="--g:#05f,#07f 5%,#0ef 11%,#06f 23%,#03f 36%,#03f 44%,#00f 49%,#00c 55%,#00c 66%,#008 74%,#01f 84%,#00f 89%,#00a 96%,#00b"></i><i style="--g:#00a,#00f 3%,#07f 10%,#00d 12%,#008 14%,#008 15%,#008 29%,#00d 34%,#00c 41%,#01f 47%,#05f 52%,#04f 55%,#01f 58%,#008 63%,#008 82%,#00a 88%,#008 92%,#008"></i><i style="--g:#00e,#02f 4%,#05f 5%,#0bf 7%,#3fc 8%,#7f8 10%,#6f9 11%,#0ff 12%,#0af 14%,#08f 15%,#01f 25%,#04f 37%,#01f 51%,#008 58%,#008 68%,#00e 73%,#06f 77%,#07f 79%,#00f 92%,#009"></i><i style="--g:#07f,#09f 4%,#0df 5%,#9f6 8%,#8f7 10%,#1fe 11%,#07f 12%,#01f 14%,#00d 15%,#008 22%,#00d 34%,#008 42%,#008 45%,#00e 52%,#00f 58%,#02f 64%,#00f 68%,#00a 74%,#008 84%,#008 96%,#00a"></i><i style="--g:#0af,#0ef 1%,#3fc 3%,#df2 5%,#fb0 7%,#f80 8%,#fb0 10%,#9f6 11%,#0ff 12%,#0af 14%,#06f 16%,#01f 30%,#02f 37%,#00f 41%,#008 47%,#008 81%,#00e 89%,#00f"></i><i style="--g:#0bf,#0ff 1%,#2fd 4%,#9f6 8%,#6f9 10%,#0ef 11%,#07f 12%,#03f 14%,#02f 15%,#01f 34%,#03f 51%,#00f 63%,#008 73%,#008 82%,#00f 89%,#03f 93%,#02f"></i><i style="--g:#a00,#800 1%,#800 4%,#f00 5%,#f70 7%,#f90 8%,#fe0 10%,#7f8 11%,#0bf 12%,#02f 14%,#00c 15%,#008 18%,#008 19%,#008 86%,#00e 92%,#00d"></i><i style="--g:#fc0,#fb0 3%,#ff0 5%,#fb0 8%,#fb0 10%,#ef1 11%,#5fa 12%,#0cf 14%,#08f 15%,#00e 21%,#009 25%,#008 29%,#009 33%,#01f 40%,#03f 44%,#01f 48%,#008 56%,#008 60%,#00d 66%,#00e 68%,#008 79%,#008 86%,#00a 90%,#00f 96%,#04f"></i><i style="--g:#8f7,#cf3 1%,#9f6 5%,#fe0 8%,#fc0 10%,#df2 11%,#4fb 12%,#0bf 14%,#08f 15%,#00f 22%,#009 26%,#008 30%,#00d 44%,#008 53%,#00a 56%,#00e 59%,#01f 60%,#05f 64%,#00e 71%,#00c 75%,#00f 81%,#02f 86%,#00f 97%,#03f"></i><i style="--g:#af5,#ef1 1%,#fe0 5%,#f50 8%,#f40 10%,#f80 11%,#cf3 12%,#3fc 14%,#0cf 15%,#00e 25%,#008 30%,#008 40%,#01f 49%,#04f 55%,#00f 64%,#00f 75%,#04f 85%,#00f 90%,#009 96%,#009"></i><i style="--g:#fa0,#f50 1%,#f60 5%,#f40 8%,#f50 10%,#fb0 11%,#9f6 12%,#0ef 14%,#09f 15%,#07f 16%,#02f 33%,#09f 47%,#06f 53%,#01f 59%,#00d 60%,#008 64%,#008 68%,#008 70%,#00f 74%,#04f 78%,#06f 82%,#04f 88%,#00f 93%,#009"></i><i style="--g:#8f7,#cf3 1%,#ef1 5%,#fc0 8%,#fc0 10%,#df2 11%,#4fb 12%,#09f 14%,#04f 15%,#00e 18%,#00a 23%,#00f 40%,#00f 52%,#008 63%,#008 67%,#00c 75%,#008 82%,#008 85%,#01f 92%,#02f 96%,#00e"></i><i style="--g:#fe0,#f90 1%,#f70 5%,#f30 8%,#f30 10%,#f90 11%,#bf4 12%,#2fd 14%,#0cf 15%,#01f 22%,#00d 23%,#009 27%,#008 38%,#009 41%,#00e 45%,#0cf 55%,#0df 58%,#0af 64%,#0bf 71%,#04f 81%,#04f 93%,#01f"></i><i style="--g:#f70,#f20 1%,#f00 3%,#d00 8%,#f10 10%,#fa0 11%,#6f9 12%,#0af 14%,#03f 15%,#01f 16%,#00e 18%,#008 38%,#00f 52%,#02f 70%,#00f 84%,#06f 93%,#06f"></i><i style="--g:#ef1,#fb0 1%,#f00 7%,#c00 8%,#e00 10%,#f70 11%,#bf4 12%,#1fe 14%,#08f 16%,#00f 22%,#00d 25%,#00f 27%,#03f 34%,#00f 45%,#00a 53%,#00f 62%,#00f 64%,#009 71%,#008 75%,#009 78%,#00e 82%,#09f 90%,#04f"></i><i style="--g:#ef1,#fe0 4%,#f70 8%,#f90 10%,#fe0 11%,#2fd 14%,#0ff 15%,#0ff 21%,#04f 27%,#01f 32%,#02f 34%,#06f 37%,#1fe 41%,#3fc 42%,#3fc 44%,#0ff 45%,#07f 48%,#00f 53%,#00c 62%,#00f 67%,#0bf 77%,#00f 96%,#00c"></i><i style="--g:#0bf,#0af 1%,#0ef 4%,#7f8 8%,#6f9 10%,#2fd 11%,#0af 12%,#04f 14%,#00e 15%,#008 18%,#008 19%,#008 32%,#00f 38%,#05f 45%,#06f 49%,#04f 64%,#00e 77%,#00b 82%,#00c"></i><i style="--g:#6f9,#6f9 4%,#bf4 10%,#af5 11%,#2fd 14%,#0ef 15%,#03f 22%,#00f 26%,#02f 37%,#00f 55%,#009 63%,#00f 73%,#00a 85%,#00e 96%,#05f"></i><i style="--g:#6f9,#af5 1%,#ef1 5%,#fa0 8%,#fa0 10%,#fe0 11%,#3fc 14%,#0ff 15%,#09f 21%,#06f 27%,#07f 32%,#0df 38%,#0cf 40%,#00f 48%,#00b 51%,#009 55%,#009 74%,#00b 86%,#00a 93%,#00b 96%,#00f 99%,#02f"></i><i style="--g:#5fa,#9f6 1%,#bf4 5%,#ff0 8%,#df2 10%,#0df 12%,#08f 14%,#05f 15%,#00e 19%,#00a 25%,#00b 33%,#00f 45%,#008 62%,#008 81%,#00e 92%,#01f"></i><i style="--g:#f50,#f10 1%,#a00 5%,#a00 7%,#b00 8%,#f30 10%,#ff0 11%,#1fe 12%,#06f 14%,#02f 15%,#00f 16%,#009 25%,#008 27%,#00e 38%,#008 51%,#008 74%,#00d 81%,#00f 85%,#00c"></i><i style="--g:#c00,#800 1%,#800 10%,#f00 11%,#fc0 12%,#9f6 14%,#4fb 15%,#0ff 18%,#07f 23%,#00f 34%,#00c 40%,#00f 44%,#08f 53%,#06f 58%,#00f 63%,#00c 68%,#00d 77%,#00b 84%,#00f 93%,#02f"></i><i style="--g:#800,#800 12%,#f30 14%,#fb0 15%,#ef1 16%,#3fc 19%,#0df 21%,#04f 25%,#00e 29%,#00c 34%,#00f 38%,#06f 45%,#05f 48%,#01f 51%,#008 55%,#008 67%,#00e 75%,#00e 86%,#00b 95%,#00f 99%,#02f"></i><i style="--g:#fa0,#f00 4%,#800 8%,#800 11%,#c00 12%,#f30 14%,#df2 16%,#5fa 18%,#0ef 19%,#09f 21%,#05f 23%,#00f 33%,#00e 38%,#00f 49%,#008 56%,#008 67%,#008 68%,#01f 74%,#02f 77%,#00f 81%,#008 88%,#008 90%,#00f 96%,#02f"></i><i style="--g:#fe0,#f20 5%,#f30 7%,#f80 8%,#ef1 10%,#5fa 11%,#0bf 12%,#04f 14%,#00e 15%,#00b 19%,#00f 27%,#01f 45%,#00d 52%,#00e 59%,#008 66%,#008 90%,#00d"></i><i style="--g:#fe0,#fa0 1%,#f10 7%,#f30 8%,#df2 11%,#4fb 12%,#0df 14%,#0af 15%,#00e 27%,#00e 32%,#00f 34%,#0af 42%,#01f 52%,#00f 59%,#00a 64%,#008 71%,#008 89%,#00d 96%,#00d"></i><i style="--g:#f00,#800 1%,#800 11%,#f50 12%,#ff0 14%,#af5 15%,#8f7 16%,#0ff 23%,#0df 25%,#0bf 27%,#0df 34%,#06f 38%,#00e 45%,#00b 49%,#00a 58%,#008 63%,#008 81%,#01f 86%,#05f 90%,#08f"></i><i style="--g:#0ff,#6f9 1%,#5fa 5%,#ef1 10%,#bf4 11%,#4fb 12%,#0ef 14%,#0cf 15%,#0cf 21%,#00e 33%,#00b 37%,#00b 45%,#008 51%,#008 62%,#00c 68%,#00a 78%,#00e 88%,#07f 95%,#0df 97%,#3fc"></i><i style="--g:#0ef,#4fb 1%,#2fd 3%,#07f 5%,#05f 7%,#07f 10%,#02f 15%,#04f 21%,#00f 34%,#008 49%,#008"></i><i style="--g:#fc0,#f20 1%,#f10 3%,#fd0 5%,#bf4 7%,#1fe 11%,#0df 12%,#08f 15%,#07f 23%,#00f 30%,#008 38%,#008 67%,#00f 75%,#00f 79%,#00b 89%,#00f 96%,#01f"></i><i style="--g:#f70,#d00 1%,#b00 3%,#e00 4%,#fd0 10%,#cf3 11%,#0ff 14%,#0bf 15%,#05f 21%,#03f 32%,#00e 37%,#008 42%,#008 56%,#00c 64%,#00e 74%,#009 90%,#00f"></i><i style="--g:#5fa,#cf3 1%,#ef1 3%,#6f9 10%,#2fd 11%,#04f 14%,#01f 15%,#00f 18%,#00a 26%,#01f 33%,#03f 37%,#00f 42%,#03f 52%,#00f 59%,#01f 66%,#00f 71%,#00f 77%,#03f 82%,#00f 89%,#02f 97%,#01f"></i><i style="--g:#1fe,#7f8 1%,#df2 4%,#fe0 10%,#cf3 11%,#4fb 12%,#0bf 14%,#07f 15%,#00f 27%,#00e 34%,#00f 40%,#05f 51%,#01f 56%,#008 62%,#008 74%,#00f 79%,#03f 84%,#00f 95%,#00a"></i><i style="--g:#bf4,#ff0 3%,#fd0 5%,#f60 10%,#f90 11%,#df2 12%,#5fa 14%,#0ff 15%,#04f 22%,#00f 26%,#00a 33%,#00b 36%,#00f 40%,#07f 49%,#0ef 55%,#0ff 58%,#0ef 59%,#07f 63%,#03f 67%,#04f 75%,#02f 84%,#07f 92%,#01f"></i><i style="--g:#9f6,#ff0 5%,#fa0 10%,#fe0 11%,#2fd 14%,#0df 15%,#1fe 18%,#6f9 21%,#7f8 22%,#1fe 26%,#0ef 27%,#00f 42%,#00c 49%,#00f 58%,#04f 64%,#00f 71%,#00f 75%,#09f 86%,#02f"></i><i style="--g:#0ef,#1fe 1%,#bf4 5%,#ff0 8%,#df2 10%,#0df 12%,#06f 14%,#02f 15%,#00f 18%,#00c 38%,#008 47%,#008 55%,#01f 64%,#03f 70%,#03f 79%,#00f 86%,#00a 93%,#00a"></i><i style="--g:#00c,#00b 1%,#02f 4%,#0df 8%,#0cf 10%,#03f 12%,#00d 14%,#008 16%,#008 34%,#01f 41%,#04f 45%,#00f 51%,#00a 55%,#009 58%,#00d 64%,#00e 67%,#009 75%,#009 78%,#00f 84%,#00f 88%,#008 96%,#008"></i><i style="--g:#00d,#00f 3%,#0ff 8%,#2fd 10%,#0ef 11%,#08f 14%,#00f 26%,#03f 38%,#00f 51%,#03f 60%,#00f 67%,#008 74%,#008 75%,#008 78%,#00e 84%,#00f 88%,#009 95%,#008"></i><i style="--g:#008,#00c 1%,#03f 3%,#0bf 5%,#0df 8%,#0bf 10%,#00d 12%,#009 14%,#009 15%,#008 37%,#008 38%,#01f 42%,#03f 45%,#01f 53%,#04f 60%,#01f 64%,#008 81%,#008 88%,#00d 95%,#00f"></i><i style="--g:#00a,#06f 1%,#3fc 3%,#cf3 4%,#fd0 5%,#fa0 7%,#fc0 8%,#df2 10%,#4fb 11%,#09f 12%,#04f 14%,#00f 18%,#00d 27%,#008 33%,#009 53%,#008 75%,#00e 81%,#07f 86%,#0ff 89%,#af5 92%,#ef1 95%,#af5 97%,#2fd"></i><i style="--g:#07f,#3fc 1%,#ff0 3%,#f60 4%,#e00 5%,#c00 7%,#f10 8%,#fb0 10%,#5fa 11%,#0af 12%,#03f 14%,#00f 15%,#00f 16%,#00d 22%,#00e 32%,#008 40%,#009 49%,#008 53%,#008 77%,#00f 88%,#06f 93%,#08f 95%,#0df 96%,#2fd 97%,#5fa 99%,#5fa"></i><i style="--g:#05f,#0ef 1%,#ff0 4%,#f90 5%,#f70 7%,#fb0 8%,#7f8 10%,#09f 11%,#00e 12%,#008 14%,#008 15%,#008 33%,#00d 37%,#00f 40%,#009 48%,#009 56%,#008 62%,#008 67%,#01f 74%,#02f 78%,#00f 82%,#008 90%,#008 96%,#00b"></i><i style="--g:#4fb,#df2 1%,#f90 3%,#f00 4%,#800 5%,#800 10%,#e00 11%,#fa0 12%,#cf3 14%,#0ff 18%,#04f 23%,#00e 27%,#00b 33%,#01f 38%,#04f 41%,#06f 44%,#00f 51%,#00f 56%,#03f 62%,#00f 67%,#00a 73%,#009 77%,#008"></i><i style="--g:#3fc,#af5 1%,#fe0 3%,#f10 5%,#c00 7%,#d00 8%,#f70 10%,#bf4 11%,#0ff 12%,#08f 14%,#06f 15%,#08f 23%,#05f 37%,#0cf 47%,#00f 70%,#00a 77%,#00f 82%,#03f 86%,#04f 89%,#00f"></i><i style="--g:#9f6,#fe0 1%,#f20 4%,#c00 5%,#a00 8%,#f20 10%,#fd0 11%,#7f8 12%,#1fe 14%,#1fe 15%,#ff0 18%,#f40 21%,#f10 22%,#f20 23%,#f40 25%,#ef1 29%,#af5 32%,#ff0 38%,#1fe 47%,#0ff 53%,#07f 59%,#04f 64%,#06f 70%,#08f 71%,#0ff 74%,#ef1 78%,#f30 82%,#f10 84%,#f20 85%,#f70 86%,#fe0 88%,#6f9 89%,#0bf 90%,#05f 92%,#00e 95%,#00a 97%,#009"></i><i style="--g:#c00,#800 1%,#800 10%,#f40 11%,#cf3 12%,#2fd 14%,#0cf 15%,#00f 25%,#00d 29%,#00f 38%,#00b 45%,#00c 52%,#009 62%,#00b 67%,#00f 73%,#08f 82%,#0ff 86%,#af5 92%,#df2 95%,#cf3 96%,#6f9"></i><i style="--g:#800,#800 12%,#c00 14%,#fa0 15%,#9f6 16%,#0ff 18%,#0af 19%,#04f 22%,#00e 26%,#008 36%,#008 48%,#00f 53%,#00f 60%,#06f 64%,#0ef 66%,#af5 67%,#f80 68%,#c00 70%,#800 71%,#800 81%,#e00 82%,#fc0 85%,#cf3 86%,#1fe 89%,#07f 92%,#06f 93%,#02f 97%,#02f"></i><i style="--g:#cf3,#fa0 1%,#f30 3%,#a00 4%,#800 5%,#800 10%,#f20 11%,#ef1 12%,#3fc 14%,#0cf 15%,#03f 22%,#01f 26%,#03f 34%,#00f 38%,#008 45%,#008 56%,#008 62%,#00d 66%,#01f 67%,#05f 70%,#0cf 73%,#2fd 74%,#9f6 77%,#af5 78%,#9f6 79%,#3fc 82%,#0ef 84%,#06f 86%,#01f 90%,#00b 96%,#00a"></i><i style="--g:#1fe,#ef1 3%,#f40 5%,#f10 7%,#f10 8%,#f60 10%,#fe0 11%,#5fa 12%,#0bf 14%,#07f 15%,#06f 16%,#06f 40%,#00e 47%,#009 51%,#008 53%,#00f 64%,#06f 71%,#0ff 74%,#af5 77%,#ff0 79%,#df2 82%,#1fe 86%,#0cf 88%,#07f 89%,#02f 93%,#00f 96%,#00d"></i><i style="--g:#07f,#1fe 1%,#ff0 4%,#fb0 5%,#fb0 7%,#ff0 8%,#2fd 11%,#0af 12%,#04f 14%,#00f 16%,#00f 36%,#05f 47%,#07f 48%,#0ff 51%,#4fb 53%,#2fd 55%,#0ef 56%,#07f 59%,#02f 64%,#03f 68%,#06f 74%,#0df 77%,#4fb 78%,#bf4 79%,#fc0 81%,#f40 82%,#d00 84%,#800 85%,#800 86%,#800 88%,#d00 89%,#f60 90%,#df2 92%,#1fe 93%,#07f 95%,#03f 96%,#00e 97%,#009"></i><i style="--g:#1fe,#7f8 1%,#af5 3%,#cf3 5%,#af5 7%,#2fd 10%,#0df 11%,#07f 14%,#00f 19%,#008 26%,#008 40%,#01f 49%,#03f 55%,#01f 63%,#07f 74%,#03f 85%,#0bf 95%,#0bf 96%,#06f"></i><i style="--g:#6f9,#cf3 1%,#df2 3%,#af5 7%,#2fd 10%,#0cf 11%,#05f 15%,#00f 21%,#00c 29%,#00f 34%,#05f 42%,#00e 49%,#009 55%,#008 64%,#009 68%,#00f 74%,#03f 78%,#03f 85%,#06f 92%,#04f"></i><i style="--g:#1fe,#4fb 1%,#7f8 7%,#7f8 8%,#1fe 11%,#0df 12%,#05f 23%,#03f 30%,#05f 38%,#00f 45%,#008 51%,#008 86%,#008 88%,#01f 92%,#06f 96%,#05f"></i><i style="--g:#0cf,#0cf 8%,#06f 12%,#0af 21%,#1fe 26%,#2fd 30%,#0ff 37%,#0cf 41%,#00f 49%,#008 58%,#008 78%,#00f 90%,#01f"></i><i style="--g:#00e,#0bf 5%,#0ef 8%,#0ef 10%,#05f 14%,#00f 23%,#02f 32%,#07f 41%,#06f 44%,#00e 49%,#00b 53%,#009 67%,#00e 86%,#009"></i><i style="--g:#0cf,#0ff 1%,#6f9 4%,#6f9 5%,#6f9 8%,#3fc 10%,#0df 11%,#08f 12%,#04f 15%,#03f 22%,#00e 26%,#009 30%,#008 33%,#008 58%,#00f 66%,#02f 71%,#00e 75%,#008 79%,#008 81%,#008"></i><i style="--g:#06f,#0ef 3%,#2fd 4%,#5fa 8%,#1fe 11%,#09f 15%,#03f 27%,#02f 42%,#00f 48%,#00b 56%,#01f 63%,#04f 70%,#00f 75%,#009 79%,#008 82%,#008 85%,#00f 93%,#00f"></i><i style="--g:#07f,#0cf 1%,#2fd 3%,#6f9 5%,#6f9 8%,#4fb 11%,#1fe 12%,#00e 23%,#00b 27%,#00b 36%,#008 41%,#008 63%,#00f 68%,#01f 70%,#02f 73%,#00f 78%,#00e 93%,#00c"></i><i style="--g:#0df,#9f6 3%,#af5 4%,#7f8 7%,#0ff 10%,#0cf 11%,#06f 14%,#04f 16%,#00f 45%,#009 59%,#00d 70%,#00f 85%,#008"></i><i style="--g:#3fc,#bf4 1%,#ff0 3%,#ff0 4%,#df2 5%,#0ef 11%,#07f 15%,#02f 27%,#02f 38%,#0bf 52%,#00e 62%,#008 67%,#008 75%,#00b 82%,#008 96%,#009"></i><i style="--g:#4fb,#cf3 1%,#ef1 3%,#0ff 10%,#01f 14%,#00e 15%,#00c 19%,#00d 34%,#009 44%,#00a 47%,#00f 52%,#01f 55%,#00f 59%,#00d 66%,#008 71%,#008"></i><i style="--g:#bf4,#f40 1%,#a00 3%,#800 4%,#f10 10%,#f50 11%,#fd0 12%,#af5 14%,#4fb 15%,#0ef 16%,#05f 22%,#00f 30%,#00c 37%,#00e 49%,#00c 59%,#008 68%,#008 85%,#01f 93%,#03f 97%,#03f"></i><i style="--g:#4fb,#ff0 1%,#fc0 3%,#ff0 4%,#4fb 7%,#3fc 8%,#6f9 11%,#3fc 12%,#0ef 14%,#01f 21%,#00d 22%,#008 26%,#008 39%,#00b 50%,#009 61%,#00c 72%,#00c 82%,#00f 86%,#06f 90%,#09f 94%,#05f;width:99.7%"></i><i style="--g:#8f7,#fa0 1%,#f40 3%,#f60 4%,#ff0 7%,#ef1 10%,#af5 12%,#2fd 13%,#09f 14%,#05f 16%,#00e 25%,#00b 29%,#00a 36%,#00f 45%,#01f 49%,#00f 52%,#008 61%,#008 67%,#00a 77%,#01f 86%,#04f;width:95.6%"></i><i style="--g:#6f9,#fe0 1%,#f80 3%,#f60 4%,#f80 10%,#fe0 12%,#4fb 13%,#09f 15%,#04f 16%,#00f 22%,#008 39%,#008 87%,#00c 94%,#00a;width:91.7%"></i><i style="--g:#0cf,#7f8 2%,#ef1 3%,#fc0 5%,#fb0 8%,#fc0 9%,#ef1 11%,#6f9 12%,#09f 14%,#00f 16%,#00c 17%,#00d 28%,#00f 33%,#05f 39%,#07f 44%,#00f 64%,#008 72%,#008 80%,#00f 86%,#0ef 97%,#0ff;width:87.8%"></i><i style="--g:#4fb,#bf4 2%,#ff0 3%,#fc0 7%,#fe0 10%,#bf4 12%,#3fc 14%,#0af 15%,#04f 17%,#02f 19%,#00f 29%,#00f 37%,#04f 49%,#07f 68%,#07f 88%,#04f;width:81.9%"></i><i style="--g:#6f9,#af5 2%,#9f6 8%,#7f8 11%,#2fd 13%,#0cf 15%,#04f 19%,#02f 32%,#03f 70%,#00f 79%,#00c 87%,#00f 96%,#02f;width:73.2%"></i><i style="--g:#bf4,#ef1 2%,#ff0 10%,#df2 12%,#0ff 17%,#08f 19%,#04f 21%,#01f 23%,#00f 27%,#00c 44%,#008 54%,#008 79%,#01f 92%,#05f;width:65.7%"></i><i style="--g:#3fc,#4fb 2%,#1fe 7%,#4fb 14%,#2fd 16%,#0cf 19%,#05f 23%,#00f 33%,#00e 40%,#00f 58%,#06f 74%,#05f 79%,#00f 86%,#00a 93%,#008;width:58.9%"></i><i style="--g:#0ef,#0ff 2%,#0bf 8%,#0cf 15%,#0af 18%,#01f 22%,#00d 25%,#00c 35%,#00f 45%,#04f 55%,#01f 62%,#008 78%,#008;width:54.8%"></i><i style="--g:#4fb,#8f7 3%,#0ef 18%,#01f 24%,#00a 26%,#008 29%,#008 50%,#00f 58%,#0bf 71%,#0bf 74%,#00f 92%,#008;width:51.6%"></i><i style="--g:#9f6,#fd0 3%,#fb0 6%,#fc0 11%,#fa0 17%,#fb0 20%,#fe0 23%,#af5 26%,#8f7 29%,#ef1 34%,#ff0 37%,#ef1 40%,#3fc 49%,#0ef 54%,#08f 69%,#04f 86%,#00f 91%,#008;width:48.4%"></i><i style="--g:#800,#800 6%,#a00 9%,#f10 12%,#ef1 24%,#0ef 30%,#09f 33%,#07f 36%,#00f 55%,#06f 91%,#06f;width:44.6%"></i><i style="--g:#af5,#fd0 4%,#fa0 7%,#fe0 19%,#ef1 22%,#6f9 30%,#0df 33%,#06f 37%,#01f 41%,#00e 44%,#00f 59%,#04f 78%,#03f;width:36.8%"></i><i style="--g:#fe0,#fa0 4%,#f90 13%,#f90 17%,#ef1 26%,#1fe 39%,#0bf 43%,#05f 52%,#02f 65%,#00e 78%,#008;width:31.5%"></i><i style="--g:#0cf,#08f 9%,#0cf 22%,#0df 52%,#09f 65%,#00e 83%,#008 96%,#008;width:31.5%"></i></div><div class="hm" style="left:371.2px;top:2207.5px;width:220.4px;height:179.6px"><i style="--g:#f80,#f50 1%,#f50 3%,#f90 8%,#fc0 10%,#bf4 11%,#3fc 12%,#0af 14%,#06f 15%,#04f 16%,#00f 23%,#01f 37%,#07f 48%,#00f 64%,#00f 74%,#00b 82%,#01f 88%,#03f 92%,#02f"></i><i style="--g:#ff0,#df2 4%,#fe0 10%,#9f6 11%,#0ef 12%,#04f 14%,#00d 15%,#008 21%,#008 29%,#00e 36%,#01f 37%,#09f 44%,#00f 55%,#00c 62%,#00f 71%,#06f 88%,#0ef 95%,#0cf"></i><i style="--g:#fb0,#fa0 1%,#fd0 3%,#bf4 5%,#cf3 8%,#af5 10%,#3fc 11%,#07f 12%,#00c 14%,#009 15%,#008 22%,#008 32%,#00c 38%,#008 48%,#008 59%,#00f 71%,#05f 77%,#00f 84%,#01f"></i><i style="--g:#ff0,#fc0 1%,#fd0 5%,#f60 8%,#f50 10%,#fc0 11%,#7f8 12%,#0df 14%,#09f 15%,#08f 16%,#00f 33%,#008 42%,#008 66%,#00d 70%,#00f 73%,#00e 77%,#00a 85%,#00c 96%,#00b"></i><i style="--g:#4fb,#6f9 1%,#4fb 4%,#5fa 5%,#fd0 8%,#fa0 10%,#fd0 11%,#bf4 12%,#7f8 14%,#0ef 19%,#09f 22%,#06f 25%,#00f 34%,#008 42%,#008 48%,#00d 55%,#008 67%,#008"></i><i style="--g:#01f,#00c 4%,#00e 5%,#04f 7%,#0af 8%,#0ff 10%,#0ff 11%,#04f 15%,#02f 19%,#03f 22%,#0af 30%,#06f 36%,#00f 48%,#00d 59%,#008 66%,#008 73%,#00d 78%,#00e 86%,#00d 90%,#008 97%,#008"></i><i style="--g:#01f,#03f 4%,#1fe 10%,#0ff 11%,#07f 15%,#04f 21%,#02f 34%,#04f 45%,#00f 52%,#00a 58%,#009 60%,#01f 68%,#01f 71%,#00f 75%,#008 89%,#00f 97%,#03f"></i><i style="--g:#05f,#07f 5%,#0ef 11%,#06f 23%,#03f 36%,#03f 44%,#00f 49%,#00c 55%,#00c 66%,#008 74%,#01f 84%,#00f 89%,#00a 96%,#00b"></i><i style="--g:#00a,#00f 3%,#07f 10%,#00d 12%,#008 14%,#008 15%,#008 29%,#00d 34%,#00c 41%,#01f 47%,#05f 52%,#04f 55%,#01f 58%,#008 63%,#008 82%,#00a 88%,#008 92%,#008"></i><i style="--g:#00e,#02f 4%,#05f 5%,#0bf 7%,#3fc 8%,#7f8 10%,#6f9 11%,#0ff 12%,#0af 14%,#08f 15%,#01f 25%,#04f 37%,#01f 51%,#008 58%,#008 68%,#00e 73%,#06f 77%,#07f 79%,#00f 92%,#009"></i><i style="--g:#07f,#09f 4%,#0df 5%,#9f6 8%,#8f7 10%,#1fe 11%,#07f 12%,#01f 14%,#00d 15%,#008 22%,#00d 34%,#008 42%,#008 45%,#00e 52%,#00f 58%,#02f 64%,#00f 68%,#00a 74%,#008 84%,#008 96%,#00a"></i><i style="--g:#0af,#0ef 1%,#3fc 3%,#df2 5%,#fb0 7%,#f80 8%,#fb0 10%,#9f6 11%,#0ff 12%,#0af 14%,#06f 16%,#01f 30%,#02f 37%,#00f 41%,#008 47%,#008 81%,#00e 89%,#00f"></i><i style="--g:#0bf,#0ff 1%,#2fd 4%,#9f6 8%,#6f9 10%,#0ef 11%,#07f 12%,#03f 14%,#02f 15%,#01f 34%,#03f 51%,#00f 63%,#008 73%,#008 82%,#00f 89%,#03f 93%,#02f"></i><i style="--g:#a00,#800 1%,#800 4%,#f00 5%,#f70 7%,#f90 8%,#fe0 10%,#7f8 11%,#0bf 12%,#02f 14%,#00c 15%,#008 18%,#008 19%,#008 86%,#00e 92%,#00d"></i><i style="--g:#fc0,#fb0 3%,#ff0 5%,#fb0 8%,#fb0 10%,#ef1 11%,#5fa 12%,#0cf 14%,#08f 15%,#00e 21%,#009 25%,#008 29%,#009 33%,#01f 40%,#03f 44%,#01f 48%,#008 56%,#008 60%,#00d 66%,#00e 68%,#008 79%,#008 86%,#00a 90%,#00f 96%,#04f"></i><i style="--g:#8f7,#cf3 1%,#9f6 5%,#fe0 8%,#fc0 10%,#df2 11%,#4fb 12%,#0bf 14%,#08f 15%,#00f 22%,#009 26%,#008 30%,#00d 44%,#008 53%,#00a 56%,#00e 59%,#01f 60%,#05f 64%,#00e 71%,#00c 75%,#00f 81%,#02f 86%,#00f 97%,#03f"></i><i style="--g:#af5,#ef1 1%,#fe0 5%,#f50 8%,#f40 10%,#f80 11%,#cf3 12%,#3fc 14%,#0cf 15%,#00e 25%,#008 30%,#008 40%,#01f 49%,#04f 55%,#00f 64%,#00f 75%,#04f 85%,#00f 90%,#009 96%,#009"></i><i style="--g:#fa0,#f50 1%,#f60 5%,#f40 8%,#f50 10%,#fb0 11%,#9f6 12%,#0ef 14%,#09f 15%,#07f 16%,#02f 33%,#09f 47%,#06f 53%,#01f 59%,#00d 60%,#008 64%,#008 68%,#008 70%,#00f 74%,#04f 78%,#06f 82%,#04f 88%,#00f 93%,#009"></i><i style="--g:#8f7,#cf3 1%,#ef1 5%,#fc0 8%,#fc0 10%,#df2 11%,#4fb 12%,#09f 14%,#04f 15%,#00e 18%,#00a 23%,#00f 40%,#00f 52%,#008 63%,#008 67%,#00c 75%,#008 82%,#008 85%,#01f 92%,#02f 96%,#00e"></i><i style="--g:#fe0,#f90 1%,#f70 5%,#f30 8%,#f30 10%,#f90 11%,#bf4 12%,#2fd 14%,#0cf 15%,#01f 22%,#00d 23%,#009 27%,#008 38%,#009 41%,#00e 45%,#0cf 55%,#0df 58%,#0af 64%,#0bf 71%,#04f 81%,#04f 93%,#01f"></i><i style="--g:#f70,#f20 1%,#f00 3%,#d00 8%,#f10 10%,#fa0 11%,#6f9 12%,#0af 14%,#03f 15%,#01f 16%,#00e 18%,#008 38%,#00f 52%,#02f 70%,#00f 84%,#06f 93%,#06f"></i><i style="--g:#ef1,#fb0 1%,#f00 7%,#c00 8%,#e00 10%,#f70 11%,#bf4 12%,#1fe 14%,#08f 16%,#00f 22%,#00d 25%,#00f 27%,#03f 34%,#00f 45%,#00a 53%,#00f 62%,#00f 64%,#009 71%,#008 75%,#009 78%,#00e 82%,#09f 90%,#04f"></i><i style="--g:#ef1,#fe0 4%,#f70 8%,#f90 10%,#fe0 11%,#2fd 14%,#0ff 15%,#0ff 21%,#04f 27%,#01f 32%,#02f 34%,#06f 37%,#1fe 41%,#3fc 42%,#3fc 44%,#0ff 45%,#07f 48%,#00f 53%,#00c 62%,#00f 67%,#0bf 77%,#00f 96%,#00c"></i><i style="--g:#0bf,#0af 1%,#0ef 4%,#7f8 8%,#6f9 10%,#2fd 11%,#0af 12%,#04f 14%,#00e 15%,#008 18%,#008 19%,#008 32%,#00f 38%,#05f 45%,#06f 49%,#04f 64%,#00e 77%,#00b 82%,#00c"></i><i style="--g:#6f9,#6f9 4%,#bf4 10%,#af5 11%,#2fd 14%,#0ef 15%,#03f 22%,#00f 26%,#02f 37%,#00f 55%,#009 63%,#00f 73%,#00a 85%,#00e 96%,#05f"></i><i style="--g:#6f9,#af5 1%,#ef1 5%,#fa0 8%,#fa0 10%,#fe0 11%,#3fc 14%,#0ff 15%,#09f 21%,#06f 27%,#07f 32%,#0df 38%,#0cf 40%,#00f 48%,#00b 51%,#009 55%,#009 74%,#00b 86%,#00a 93%,#00b 96%,#00f 99%,#02f"></i><i style="--g:#5fa,#9f6 1%,#bf4 5%,#ff0 8%,#df2 10%,#0df 12%,#08f 14%,#05f 15%,#00e 19%,#00a 25%,#00b 33%,#00f 45%,#008 62%,#008 81%,#00e 92%,#01f"></i><i style="--g:#f50,#f10 1%,#a00 5%,#a00 7%,#b00 8%,#f30 10%,#ff0 11%,#1fe 12%,#06f 14%,#02f 15%,#00f 16%,#009 25%,#008 27%,#00e 38%,#008 51%,#008 74%,#00d 81%,#00f 85%,#00c"></i><i style="--g:#c00,#800 1%,#800 10%,#f00 11%,#fc0 12%,#9f6 14%,#4fb 15%,#0ff 18%,#07f 23%,#00f 34%,#00c 40%,#00f 44%,#08f 53%,#06f 58%,#00f 63%,#00c 68%,#00d 77%,#00b 84%,#00f 93%,#02f"></i><i style="--g:#800,#800 12%,#f30 14%,#fb0 15%,#ef1 16%,#3fc 19%,#0df 21%,#04f 25%,#00e 29%,#00c 34%,#00f 38%,#06f 45%,#05f 48%,#01f 51%,#008 55%,#008 67%,#00e 75%,#00e 86%,#00b 95%,#00f 99%,#02f"></i><i style="--g:#fa0,#f00 4%,#800 8%,#800 11%,#c00 12%,#f30 14%,#df2 16%,#5fa 18%,#0ef 19%,#09f 21%,#05f 23%,#00f 33%,#00e 38%,#00f 49%,#008 56%,#008 67%,#008 68%,#01f 74%,#02f 77%,#00f 81%,#008 88%,#008 90%,#00f 96%,#02f"></i><i style="--g:#fe0,#fa0 1%,#f10 7%,#f30 8%,#df2 11%,#4fb 12%,#0df 14%,#0af 15%,#00e 27%,#00e 32%,#00f 34%,#0af 42%,#01f 52%,#00f 59%,#00a 64%,#008 71%,#008 89%,#00d 96%,#00d"></i><i style="--g:#f00,#800 1%,#800 11%,#f50 12%,#ff0 14%,#af5 15%,#8f7 16%,#0ff 23%,#0df 25%,#0bf 27%,#0df 34%,#06f 38%,#00e 45%,#00b 49%,#00a 58%,#008 63%,#008 81%,#01f 86%,#05f 90%,#08f"></i><i style="--g:#0ff,#6f9 1%,#5fa 5%,#ef1 10%,#bf4 11%,#4fb 12%,#0ef 14%,#0cf 15%,#0cf 21%,#00e 33%,#00b 37%,#00b 45%,#008 51%,#008 62%,#00c 68%,#00a 78%,#00e 88%,#07f 95%,#0df 97%,#3fc"></i><i style="--g:#0ef,#4fb 1%,#2fd 3%,#07f 5%,#05f 7%,#07f 10%,#02f 15%,#04f 21%,#00f 34%,#008 49%,#008"></i><i style="--g:#fc0,#f20 1%,#f10 3%,#fd0 5%,#bf4 7%,#1fe 11%,#0df 12%,#08f 15%,#07f 23%,#00f 30%,#008 38%,#008 67%,#00f 75%,#00f 79%,#00b 89%,#00f 96%,#01f"></i><i style="--g:#f70,#d00 1%,#b00 3%,#e00 4%,#fd0 10%,#cf3 11%,#0ff 14%,#0bf 15%,#05f 21%,#03f 32%,#00e 37%,#008 42%,#008 56%,#00c 64%,#00e 74%,#009 90%,#00f"></i><i style="--g:#5fa,#cf3 1%,#ef1 3%,#6f9 10%,#2fd 11%,#04f 14%,#01f 15%,#00f 18%,#00a 26%,#01f 33%,#03f 37%,#00f 42%,#03f 52%,#00f 59%,#01f 66%,#00f 71%,#00f 77%,#03f 82%,#00f 89%,#02f 97%,#01f"></i><i style="--g:#1fe,#7f8 1%,#df2 4%,#fe0 10%,#cf3 11%,#4fb 12%,#0bf 14%,#07f 15%,#00f 27%,#00e 34%,#00f 40%,#05f 51%,#01f 56%,#008 62%,#008 74%,#00f 79%,#03f 84%,#00f 95%,#00a"></i><i style="--g:#bf4,#ff0 3%,#fd0 5%,#f60 10%,#f90 11%,#df2 12%,#5fa 14%,#0ff 15%,#04f 22%,#00f 26%,#00a 33%,#00b 36%,#00f 40%,#07f 49%,#0ef 55%,#0ff 58%,#0ef 59%,#07f 63%,#03f 67%,#04f 75%,#02f 84%,#07f 92%,#01f"></i><i style="--g:#9f6,#ff0 5%,#fa0 10%,#fe0 11%,#2fd 14%,#0df 15%,#1fe 18%,#6f9 21%,#7f8 22%,#1fe 26%,#0ef 27%,#00f 42%,#00c 49%,#00f 58%,#04f 64%,#00f 71%,#00f 75%,#09f 86%,#02f"></i><i style="--g:#0ef,#1fe 1%,#bf4 5%,#ff0 8%,#df2 10%,#0df 12%,#06f 14%,#02f 15%,#00f 18%,#00c 38%,#008 47%,#008 55%,#01f 64%,#03f 70%,#03f 79%,#00f 86%,#00a 93%,#00a"></i><i style="--g:#00c,#00b 1%,#02f 4%,#0df 8%,#0cf 10%,#03f 12%,#00d 14%,#008 16%,#008 34%,#01f 41%,#04f 45%,#00f 51%,#00a 55%,#009 58%,#00d 64%,#00e 67%,#009 75%,#009 78%,#00f 84%,#00f 88%,#008 96%,#008"></i><i style="--g:#00d,#00f 3%,#0ff 8%,#2fd 10%,#0ef 11%,#08f 14%,#00f 26%,#03f 38%,#00f 51%,#03f 60%,#00f 67%,#008 74%,#008 75%,#008 78%,#00e 84%,#00f 88%,#009 95%,#008"></i><i style="--g:#008,#00c 1%,#03f 3%,#0bf 5%,#0df 8%,#0bf 10%,#00d 12%,#009 14%,#009 15%,#008 37%,#008 38%,#01f 42%,#03f 45%,#01f 53%,#04f 60%,#01f 64%,#008 81%,#008 88%,#00d 95%,#00f"></i><i style="--g:#00a,#06f 1%,#3fc 3%,#cf3 4%,#fd0 5%,#fa0 7%,#fc0 8%,#df2 10%,#4fb 11%,#09f 12%,#04f 14%,#00f 18%,#00d 27%,#008 33%,#009 53%,#008 75%,#00e 81%,#07f 86%,#0ff 89%,#af5 92%,#ef1 95%,#af5 97%,#2fd"></i><i style="--g:#07f,#3fc 1%,#ff0 3%,#f60 4%,#e00 5%,#c00 7%,#f10 8%,#fb0 10%,#5fa 11%,#0af 12%,#03f 14%,#00f 15%,#00f 16%,#00d 22%,#00e 32%,#008 40%,#009 49%,#008 53%,#008 77%,#00f 88%,#06f 93%,#08f 95%,#0df 96%,#2fd 97%,#5fa 99%,#5fa"></i><i style="--g:#05f,#0ef 1%,#ff0 4%,#f90 5%,#f70 7%,#fb0 8%,#7f8 10%,#09f 11%,#00e 12%,#008 14%,#008 15%,#008 33%,#00d 37%,#00f 40%,#009 48%,#009 56%,#008 62%,#008 67%,#01f 74%,#02f 78%,#00f 82%,#008 90%,#008 96%,#00b"></i><i style="--g:#4fb,#df2 1%,#f90 3%,#f00 4%,#800 5%,#800 10%,#e00 11%,#fa0 12%,#cf3 14%,#0ff 18%,#04f 23%,#00e 27%,#00b 33%,#01f 38%,#04f 41%,#06f 44%,#00f 51%,#00f 56%,#03f 62%,#00f 67%,#00a 73%,#009 77%,#008"></i><i style="--g:#3fc,#af5 1%,#fe0 3%,#f10 5%,#c00 7%,#d00 8%,#f70 10%,#bf4 11%,#0ff 12%,#08f 14%,#06f 15%,#08f 23%,#05f 37%,#0cf 47%,#00f 70%,#00a 77%,#00f 82%,#03f 86%,#04f 89%,#00f"></i><i style="--g:#9f6,#fe0 1%,#f20 4%,#c00 5%,#a00 8%,#f20 10%,#fd0 11%,#7f8 12%,#1fe 14%,#1fe 15%,#ff0 18%,#f40 21%,#f10 22%,#f20 23%,#f40 25%,#ef1 29%,#af5 32%,#ff0 38%,#1fe 47%,#0ff 53%,#07f 59%,#04f 64%,#06f 70%,#08f 71%,#0ff 74%,#ef1 78%,#f30 82%,#f10 84%,#f20 85%,#f70 86%,#fe0 88%,#6f9 89%,#0bf 90%,#05f 92%,#00e 95%,#00a 97%,#009"></i><i style="--g:#c00,#800 1%,#800 10%,#f40 11%,#cf3 12%,#2fd 14%,#0cf 15%,#00f 25%,#00d 29%,#00f 38%,#00b 45%,#00c 52%,#009 62%,#00b 67%,#00f 73%,#08f 82%,#0ff 86%,#af5 92%,#df2 95%,#cf3 96%,#6f9"></i><i style="--g:#800,#800 12%,#c00 14%,#fa0 15%,#9f6 16%,#0ff 18%,#0af 19%,#04f 22%,#00e 26%,#008 36%,#008 48%,#00f 53%,#00f 60%,#06f 64%,#0ef 66%,#af5 67%,#f80 68%,#c00 70%,#800 71%,#800 81%,#e00 82%,#fc0 85%,#cf3 86%,#1fe 89%,#07f 92%,#06f 93%,#02f 97%,#02f"></i><i style="--g:#cf3,#fa0 1%,#f30 3%,#a00 4%,#800 5%,#800 10%,#f20 11%,#ef1 12%,#3fc 14%,#0cf 15%,#03f 22%,#01f 26%,#03f 34%,#00f 38%,#008 45%,#008 56%,#008 62%,#00d 66%,#01f 67%,#05f 70%,#0cf 73%,#2fd 74%,#9f6 77%,#af5 78%,#9f6 79%,#3fc 82%,#0ef 84%,#06f 86%,#01f 90%,#00b 96%,#00a"></i><i style="--g:#1fe,#ef1 3%,#f40 5%,#f10 7%,#f10 8%,#f60 10%,#fe0 11%,#5fa 12%,#0bf 14%,#07f 15%,#06f 16%,#06f 40%,#00e 47%,#009 51%,#008 53%,#00f 64%,#06f 71%,#0ff 74%,#af5 77%,#ff0 79%,#df2 82%,#1fe 86%,#0cf 88%,#07f 89%,#02f 93%,#00f 96%,#00d"></i><i style="--g:#07f,#1fe 1%,#ff0 4%,#fb0 5%,#fb0 7%,#ff0 8%,#2fd 11%,#0af 12%,#04f 14%,#00f 16%,#00f 36%,#05f 47%,#07f 48%,#0ff 51%,#4fb 53%,#2fd 55%,#0ef 56%,#07f 59%,#02f 64%,#03f 68%,#06f 74%,#0df 77%,#4fb 78%,#bf4 79%,#fc0 81%,#f40 82%,#d00 84%,#800 85%,#800 86%,#800 88%,#d00 89%,#f60 90%,#df2 92%,#1fe 93%,#07f 95%,#03f 96%,#00e 97%,#009"></i><i style="--g:#1fe,#7f8 1%,#af5 3%,#cf3 5%,#af5 7%,#2fd 10%,#0df 11%,#07f 14%,#00f 19%,#008 26%,#008 40%,#01f 49%,#03f 55%,#01f 63%,#07f 74%,#03f 85%,#0bf 95%,#0bf 96%,#06f"></i><i style="--g:#6f9,#cf3 1%,#df2 3%,#af5 7%,#2fd 10%,#0cf 11%,#05f 15%,#00f 21%,#00c 29%,#00f 34%,#05f 42%,#00e 49%,#009 55%,#008 64%,#009 68%,#00f 74%,#03f 78%,#03f 85%,#06f 92%,#04f"></i><i style="--g:#1fe,#4fb 1%,#7f8 7%,#7f8 8%,#1fe 11%,#0df 12%,#05f 23%,#03f 30%,#05f 38%,#00f 45%,#008 51%,#008 86%,#008 88%,#01f 92%,#06f 96%,#05f"></i><i style="--g:#0cf,#0cf 8%,#06f 12%,#0af 21%,#1fe 26%,#2fd 30%,#0ff 37%,#0cf 41%,#00f 49%,#008 58%,#008 78%,#00f 90%,#01f"></i><i style="--g:#00e,#0bf 5%,#0ef 8%,#0ef 10%,#05f 14%,#00f 23%,#02f 32%,#07f 41%,#06f 44%,#00e 49%,#00b 53%,#009 67%,#00e 86%,#009"></i><i style="--g:#06f,#0ef 3%,#2fd 4%,#5fa 8%,#1fe 11%,#09f 15%,#03f 27%,#02f 42%,#00f 48%,#00b 56%,#01f 63%,#04f 70%,#00f 75%,#009 79%,#008 82%,#008 85%,#00f 93%,#00f"></i><i style="--g:#07f,#0cf 1%,#2fd 3%,#6f9 5%,#6f9 8%,#4fb 11%,#1fe 12%,#00e 23%,#00b 27%,#00b 36%,#008 41%,#008 63%,#00f 68%,#01f 70%,#02f 73%,#00f 78%,#00e 93%,#00c"></i><i style="--g:#0df,#9f6 3%,#af5 4%,#7f8 7%,#0ff 10%,#0cf 11%,#06f 14%,#04f 16%,#00f 45%,#009 59%,#00d 70%,#00f 85%,#008"></i><i style="--g:#3fc,#bf4 1%,#ff0 3%,#ff0 4%,#df2 5%,#0ef 11%,#07f 15%,#02f 27%,#02f 38%,#0bf 52%,#00e 62%,#008 67%,#008 75%,#00b 82%,#008 96%,#009"></i><i style="--g:#4fb,#cf3 1%,#ef1 3%,#0ff 10%,#01f 14%,#00e 15%,#00c 19%,#00d 34%,#009 44%,#00a 47%,#00f 52%,#01f 55%,#00f 59%,#00d 66%,#008 71%,#008"></i><i style="--g:#bf4,#f40 1%,#a00 3%,#800 4%,#f10 10%,#f50 11%,#fd0 12%,#af5 14%,#4fb 15%,#0ef 16%,#05f 22%,#00f 30%,#00c 37%,#00e 49%,#00c 59%,#008 68%,#008 85%,#01f 93%,#03f 97%,#03f"></i><i style="--g:#4fb,#ff0 1%,#fc0 3%,#ff0 4%,#4fb 7%,#3fc 8%,#6f9 11%,#0ff 14%,#01f 21%,#00e 22%,#009 25%,#008 27%,#008 38%,#00b 48%,#009 62%,#00c 71%,#00b 81%,#00e 85%,#09f 93%,#05f"></i><i style="--g:#8f7,#fa0 1%,#f40 3%,#f60 4%,#ff0 7%,#ef1 10%,#af5 11%,#2fd 13%,#09f 14%,#05f 16%,#00e 24%,#00b 29%,#00a 36%,#00f 44%,#01f 49%,#00f 51%,#008 60%,#008 66%,#00a 76%,#01f 84%,#04f;width:97%"></i><i style="--g:#6f9,#fe0 1%,#f80 3%,#f60 4%,#f80 10%,#ff0 12%,#2fd 13%,#07f 15%,#04f 16%,#00f 22%,#008 37%,#008 85%,#00c 93%,#00a;width:93%"></i><i style="--g:#0cf,#7f8 2%,#ef1 3%,#fc0 5%,#fb0 8%,#fc0 9%,#ef1 11%,#6f9 12%,#09f 14%,#00f 15%,#00c 17%,#00d 28%,#00f 32%,#05f 38%,#07f 43%,#00f 63%,#008 71%,#008 78%,#00f 85%,#0ef 95%,#0ff;width:89%"></i><i style="--g:#4fb,#bf4 2%,#ff0 3%,#fc0 7%,#fe0 10%,#bf4 11%,#4fb 13%,#0af 15%,#04f 16%,#02f 18%,#00f 28%,#00f 36%,#04f 48%,#06f 66%,#07f 87%,#03f;width:84.3%"></i><i style="--g:#6f9,#af5 2%,#9f6 7%,#7f8 11%,#3fc 13%,#0cf 15%,#05f 18%,#01f 33%,#03f 67%,#00f 76%,#00c 85%,#00f 93%,#04f;width:75.4%"></i><i style="--g:#bf4,#ef1 2%,#ff0 10%,#cf3 12%,#0ff 16%,#08f 18%,#04f 20%,#01f 22%,#00f 27%,#00c 43%,#008 53%,#008 78%,#01f 90%,#05f;width:67.2%"></i><i style="--g:#3fc,#4fb 2%,#1fe 7%,#4fb 14%,#2fd 16%,#0cf 18%,#05f 23%,#00f 32%,#00e 39%,#00f 57%,#06f 73%,#05f 77%,#00f 84%,#00a 91%,#008;width:60.3%"></i><i style="--g:#0ef,#0ff 2%,#0bf 8%,#0cf 15%,#09f 18%,#01f 22%,#00d 25%,#00c 35%,#00e 43%,#04f 55%,#00f 62%,#008 75%,#008;width:55.5%"></i><i style="--g:#4fb,#8f7 3%,#2fd 16%,#0ef 18%,#00f 24%,#00a 26%,#008 29%,#008 50%,#00f 58%,#09f 68%,#0bf 74%,#01f 89%,#008;width:52.2%"></i><i style="--g:#9f6,#fd0 3%,#fb0 6%,#fc0 11%,#fa0 17%,#fa0 19%,#fd0 22%,#8f7 28%,#ff0 36%,#ef1 39%,#4fb 47%,#0ff 53%,#07f 69%,#05f 83%,#01f 89%,#008;width:48.9%"></i><i style="--g:#800,#800 6%,#f10 12%,#fb0 21%,#df2 24%,#5fa 27%,#0df 30%,#09f 33%,#07f 36%,#01f 48%,#00f 55%,#05f 88%,#05f;width:45.4%"></i><i style="--g:#af5,#fd0 4%,#fa0 7%,#fe0 19%,#ef1 22%,#5fa 30%,#0cf 33%,#04f 37%,#01f 41%,#00e 44%,#00f 56%,#04f 74%,#03f;width:37.5%"></i><i style="--g:#fe0,#fa0 4%,#f90 13%,#f90 17%,#ef1 26%,#0ff 39%,#0bf 43%,#05f 52%,#02f 65%,#00f 74%,#008;width:31.8%"></i><i style="--g:#0cf,#08f 9%,#0cf 22%,#0df 52%,#0bf 61%,#01f 78%,#00e 83%,#008 96%,#008;width:31.8%"></i></div><div class="hm" style="left:101px;top:2458.1px;width:220.5px;height:180.4px"><i style="--g:#00e,#00e 10%,#008 19%,#008 27%,#00c 32%,#00f 33%,#06f 36%,#07f 38%,#00e 47%,#00b 51%,#00a 55%,#00b 60%,#00f 67%,#02f 71%,#00f 77%,#008"></i><i style="--g:#00f,#00b 7%,#00e 14%,#00e 16%,#008 23%,#008 33%,#01f 38%,#05f 42%,#0af 56%,#08f 59%,#00f 66%,#00b 71%,#00a 77%,#00f 85%,#04f 92%,#02f"></i><i style="--g:#04f,#02f 4%,#03f 11%,#01f 15%,#00f 19%,#009 33%,#00f 42%,#008 60%,#008 71%,#00f 92%,#09f 97%,#1fe 99%,#7f8"></i><i style="--g:#0af,#0ef 1%,#2fd 4%,#0ef 5%,#06f 8%,#01f 11%,#00d 12%,#008 16%,#008 75%,#00f 82%,#01f 89%,#05f 96%,#05f"></i><i style="--g:#02f,#03f 11%,#00f 18%,#00d 26%,#008 34%,#008 40%,#00b 49%,#008 56%,#008 67%,#00e 73%,#07f 77%,#0cf 78%,#5fa 79%,#cf3 81%,#fd0 82%,#f90 85%,#ff0 90%,#6f9"></i><i style="--g:#00e,#008 5%,#008 16%,#00c 23%,#00c 32%,#00e 34%,#01f 36%,#0ef 44%,#0ef 45%,#07f 49%,#00e 56%,#00a 60%,#009 63%,#00b 67%,#00f 71%,#07f 78%,#07f 89%,#0af 92%,#0ef 93%,#4fb 95%,#ff0 97%,#f50"></i><i style="--g:#00b,#00a 8%,#01f 18%,#00f 26%,#00b 37%,#00f 41%,#1fe 49%,#2fd 51%,#0ef 53%,#05f 59%,#02f 63%,#00e 79%,#00f 85%,#03f 90%,#03f"></i><i style="--g:#00b,#00c 4%,#00f 8%,#06f 14%,#08f 19%,#06f 23%,#00f 27%,#008 32%,#008 41%,#00d 44%,#01f 45%,#0bf 49%,#0cf 51%,#01f 56%,#00d 58%,#008 60%,#008 62%,#008 77%,#00f 84%,#06f 95%,#04f"></i><i style="--g:#008,#008 18%,#00f 34%,#06f 38%,#03f 44%,#05f 51%,#00e 58%,#00c 62%,#00f 70%,#00b 78%,#00f 85%,#06f 95%,#07f"></i><i style="--g:#01f,#00e 10%,#01f 19%,#05f 23%,#0ef 27%,#2fd 29%,#df2 33%,#fe0 34%,#fa0 37%,#f70 41%,#fe0 52%,#ef1 53%,#3fc 56%,#0df 58%,#00e 63%,#008 66%,#008 67%,#008 79%,#00e 86%,#00f 90%,#00c"></i><i style="--g:#00f,#00d 7%,#00f 11%,#09f 16%,#0cf 21%,#08f 30%,#09f 33%,#0ff 38%,#6f9 44%,#6f9 47%,#2fd 49%,#0ef 51%,#07f 55%,#08f 58%,#0ef 60%,#7f8 64%,#6f9 66%,#1fe 68%,#09f 71%,#06f 74%,#06f 78%,#0af 84%,#00f 93%,#008 99%,#008"></i><i style="--g:#00e,#01f 5%,#00f 10%,#00d 23%,#00f 26%,#02f 29%,#01f 32%,#00c 36%,#00b 47%,#01f 56%,#03f 60%,#02f 70%,#05f 79%,#04f 84%,#01f 88%,#008 95%,#008"></i><i style="--g:#ef1,#3fc 3%,#0df 4%,#08f 5%,#07f 7%,#04f 14%,#08f 22%,#1fe 26%,#ff0 30%,#f30 34%,#f00 37%,#f20 41%,#ef1 48%,#2fd 52%,#0ef 53%,#07f 58%,#03f 63%,#03f 71%,#00e 75%,#008 79%,#008 81%,#008"></i><i style="--g:#06f,#04f 5%,#0cf 15%,#0bf 22%,#0ef 26%,#1fe 27%,#bf4 33%,#df2 36%,#bf4 38%,#1fe 42%,#0cf 44%,#04f 48%,#09f 55%,#00f 74%,#01f 85%,#00f 88%,#008 97%,#008"></i><i style="--g:#7f8,#0ef 3%,#07f 5%,#00f 12%,#00d 18%,#00d 32%,#00f 34%,#09f 40%,#0ef 41%,#2fd 44%,#0ff 45%,#09f 48%,#06f 52%,#07f 58%,#06f 66%,#07f 68%,#0ef 73%,#0ef 74%,#07f 79%,#00f 89%,#009 95%,#008"></i><i style="--g:#02f,#04f 10%,#01f 12%,#008 18%,#008 30%,#00e 33%,#00f 34%,#00f 37%,#009 41%,#009 42%,#00d 45%,#00f 47%,#0cf 56%,#08f 67%,#0af 70%,#0ff 74%,#1fe 75%,#2fd 78%,#1fe 79%,#08f 84%,#04f 89%,#03f"></i><i style="--g:#04f,#0bf 3%,#2fd 4%,#cf3 7%,#df2 8%,#ff0 15%,#df2 19%,#5fa 26%,#3fc 33%,#0ef 37%,#01f 44%,#00f 45%,#05f 52%,#05f 60%,#02f 68%,#06f 77%,#04f 79%,#00f 82%,#008 86%,#008 88%,#008 99%,#009"></i><i style="--g:#06f,#0df 3%,#3fc 4%,#fe0 7%,#f10 10%,#a00 11%,#800 12%,#800 23%,#f20 25%,#fe0 27%,#bf4 29%,#2fd 32%,#0df 33%,#02f 37%,#00f 38%,#0df 58%,#0bf 64%,#00f 74%,#00c 78%,#00b 88%,#00c 92%,#00f 95%,#07f 99%,#0bf"></i><i style="--g:#008,#009 1%,#01f 4%,#0ff 8%,#4fb 10%,#ef1 14%,#fe0 18%,#cf3 21%,#0ef 26%,#0cf 27%,#0cf 33%,#08f 38%,#07f 48%,#04f 55%,#08f 60%,#0ef 63%,#0ff 64%,#0ef 66%,#07f 70%,#04f 79%,#00f 84%,#00b 89%,#009"></i><i style="--g:#02f,#01f 7%,#03f 15%,#01f 26%,#06f 38%,#03f 49%,#04f 52%,#08f 56%,#0af 62%,#00e 73%,#00a 79%,#009 89%,#00a 93%,#00e 96%,#04f"></i><i style="--g:#0bf,#07f 1%,#05f 4%,#01f 19%,#02f 27%,#00e 37%,#0af 42%,#0df 47%,#0af 56%,#03f 64%,#00e 74%,#008 78%,#008 90%,#00f 96%,#03f"></i><i style="--g:#00d,#01f 3%,#07f 7%,#08f 10%,#06f 12%,#00e 16%,#009 19%,#009 21%,#009 27%,#008 33%,#008 38%,#00d 47%,#02f 48%,#07f 51%,#09f 55%,#06f 68%,#08f 78%,#00f 92%,#00a"></i><i style="--g:#008,#008 14%,#00e 26%,#01f 27%,#0bf 30%,#0ef 32%,#0ff 33%,#0df 36%,#00f 41%,#00a 44%,#008 47%,#00b 53%,#00f 59%,#03f 64%,#00f 71%,#00f 77%,#06f 81%,#0ef 84%,#4fb 85%,#8f7 86%,#8f7 88%,#6f9 89%,#2fd 90%,#07f 93%,#00f 97%,#00c"></i><i style="--g:#0af,#0ff 8%,#0cf 22%,#0af 25%,#02f 29%,#00e 32%,#00c 37%,#00f 56%,#09f 68%,#00f 84%,#00a 92%,#00f"></i><i style="--g:#0df,#08f 1%,#06f 3%,#02f 7%,#03f 11%,#0cf 21%,#0bf 23%,#00f 27%,#00e 37%,#00f 44%,#07f 52%,#1fe 56%,#5fa 59%,#bf4 67%,#8f7 70%,#4fb 71%,#0ef 73%,#06f 75%,#00e 79%,#008 84%,#008 93%,#00f"></i><i style="--g:#04f,#00e 3%,#008 7%,#008 12%,#00a 16%,#008 21%,#008 33%,#00a 34%,#00f 36%,#0cf 38%,#2fd 40%,#cf3 42%,#ef1 44%,#fe0 45%,#df2 48%,#0ff 52%,#0af 53%,#02f 56%,#00e 58%,#00c 60%,#00e 67%,#008 77%,#008 82%,#00a 88%,#008 96%,#00a"></i><i style="--g:#05f,#06f 5%,#01f 10%,#00a 12%,#008 15%,#008 38%,#009 40%,#03f 41%,#0ff 44%,#5fa 45%,#8f7 48%,#2fd 52%,#0ef 53%,#05f 59%,#00f 66%,#00b 73%,#01f 78%,#04f 84%,#00f 90%,#008"></i><i style="--g:#00f,#0ef 7%,#1fe 8%,#3fc 11%,#1fe 14%,#0ef 15%,#08f 18%,#06f 23%,#00f 33%,#01f 36%,#03f 38%,#08f 41%,#0df 42%,#5fa 44%,#bf4 45%,#ef1 47%,#ef1 48%,#bf4 49%,#3fc 52%,#0ff 53%,#0bf 56%,#07f 63%,#06f 75%,#01f 81%,#00d 82%,#008 85%,#008 86%,#009"></i><i style="--g:#02f,#04f 4%,#0ef 10%,#ff0 16%,#fb0 21%,#ef1 25%,#2fd 29%,#0df 30%,#05f 34%,#03f 37%,#06f 47%,#00f 53%,#009 60%,#00f 67%,#04f 73%,#05f 77%,#03f 81%,#00f 85%,#008 92%,#008"></i><i style="--g:#06f,#07f 3%,#0df 5%,#3fc 7%,#ef1 10%,#fc0 11%,#f00 16%,#d00 19%,#f00 22%,#fa0 26%,#fe0 29%,#8f7 36%,#0ef 41%,#07f 45%,#00f 52%,#008 58%,#008 60%,#00f 67%,#01f 68%,#02f 71%,#00f 75%,#00a 82%,#00b 89%,#008 93%,#008"></i><i style="--g:#ef1,#f40 3%,#e00 5%,#c00 6%,#f10 10%,#fc0 13%,#cf3 15%,#3fc 18%,#4fb 27%,#af5 40%,#6f9 45%,#0ff 48%,#01f 53%,#00d 55%,#00c 58%,#00f 65%,#03f 73%,#01f;width:86%"></i><i style="--g:#01f,#00f 3%,#02f 6%,#0df 11%,#3fc 13%,#df2 16%,#fe0 18%,#fc0 19%,#ff0 23%,#3fc 26%,#09f 27%,#04f 29%,#03f 31%,#04f 40%,#00f 52%,#07f 61%,#09f 63%,#0ef 65%,#6f9 68%,#7f8 69%,#6f9 71%,#1fe 73%,#06f 76%,#00f 79%,#008 84%,#008 95%,#00d;width:85.5%"></i><i style="--g:#04f,#00f 10%,#02f 26%,#01f 32%,#00c 39%,#01f 45%,#03f 50%,#01f 58%,#02f 66%,#00f 73%,#00c 84%,#00f 95%,#00d;width:85.1%"></i><i style="--g:#008,#008 21%,#00e 28%,#02f 30%,#06f 34%,#07f 38%,#01f 51%,#04f 62%,#00f 82%,#008 93%,#008;width:83.9%"></i><i style="--g:#01f,#00e 2%,#009 7%,#008 11%,#009 14%,#00e 20%,#08f 29%,#0af 32%,#02f 45%,#00f 57%,#00f 64%,#00c 73%,#00f 80%,#02f 88%,#00d;width:76.8%"></i><i style="--g:#0ff,#1fe 2%,#1fe 4%,#08f 8%,#05f 13%,#07f 17%,#09f 19%,#0ef 21%,#7f8 25%,#7f8 27%,#0ff 31%,#09f 33%,#06f 35%,#00f 40%,#009 48%,#008 67%,#00f 79%,#01f;width:72.1%"></i><i style="--g:#04f,#0bf 14%,#0af 18%,#00f 28%,#00b 34%,#008 44%,#008 54%,#00f 76%,#06f 84%,#08f 90%,#05f;width:68.7%"></i><i style="--g:#009,#008 22%,#00d 37%,#008 53%,#008 67%,#01f 82%,#02f 86%,#00f 92%,#00b;width:67%"></i><i style="--g:#00b,#00f 8%,#09f 27%,#05f 41%,#04f 55%,#00f 63%,#008 78%,#008;width:67%"></i><i style="--g:#009,#01f 6%,#0ff 18%,#3fc 20%,#8f7 24%,#bf4 29%,#9f6 31%,#2fd 35%,#0df 37%,#0af 39%,#07f 43%,#0af 57%,#00e 73%,#00b 80%,#009 88%,#00b;width:67%"></i><i style="--g:#008,#008 13%,#00f 20%,#01f 22%,#03f 28%,#01f 39%,#02f 50%,#00d 63%,#00e 67%,#05f 83%,#01f 91%,#008;width:63.5%"></i><i style="--g:#00b,#00a 7%,#00e 13%,#0df 27%,#00f 42%,#00a 51%,#00b 56%,#00f 60%,#07f 67%,#0ef 71%,#6f9 76%,#ff0 84%,#f40 93%,#f40 96%,#f60 98%,#fb0;width:61.8%"></i><i style="--g:#008,#008 34%,#01f 57%,#05f 73%,#04f 80%,#00f 86%,#00d 91%,#00f 95%,#03f;width:60.7%"></i><i style="--g:#04f,#02f 9%,#08f 26%,#01f 42%,#01f 56%,#02f 63%,#0af 77%,#01f 93%,#00e;width:59.6%"></i><i style="--g:#05f,#00f 10%,#00d 19%,#00f 26%,#02f 36%,#01f 43%,#008 57%,#008 67%,#00f 90%,#00f;width:58.1%"></i><i style="--g:#03f,#04f 12%,#00f 24%,#00f 32%,#0af 63%,#09f 73%,#0af 85%,#06f;width:56.7%"></i><i style="--g:#02f,#00e 10%,#00a 44%,#00f 59%,#00f 74%,#07f 90%,#0ff 97%,#0ff;width:54.1%"></i><i style="--g:#06f,#06f 16%,#00f 30%,#00c 38%,#00f 57%,#00a 70%,#00b 76%,#00f 84%,#04f 92%,#03f;width:51.3%"></i><i style="--g:#00d,#00f 17%,#0ff 64%,#0df 69%,#00f 83%,#008 92%,#008;width:49.1%"></i><i style="--g:#00e,#00e 9%,#03f 20%,#01f 29%,#00a 43%,#009 49%,#00f 63%,#02f 71%,#01f 77%,#009 91%,#009;width:48.4%"></i><i style="--g:#00c,#008 11%,#008 40%,#00b 63%,#008 80%,#00c;width:47.7%"></i><i style="--g:#008,#008 21%,#00a 32%,#008 41%,#008 79%,#008 82%,#00f 94%,#03f;width:46.8%"></i><i style="--g:#00f,#00f 15%,#06f 33%,#06f 52%,#0af 67%,#00f 91%,#00b;width:45.8%"></i><i style="--g:#008,#008 28%,#00f 47%,#07f 59%,#0bf 62%,#2fd 66%,#ff0 72%,#f70 78%,#f60 81%,#f80 88%,#fe0 94%,#9f6;width:44.4%"></i><i style="--g:#00e,#008 13%,#008 26%,#00e 42%,#08f 55%,#0ff 61%,#1fe 65%,#0ff 71%,#07f 81%,#01f;width:42.9%"></i><i style="--g:#00a,#00f 23%,#03f 35%,#02f 52%,#04f 68%,#01f 81%,#008;width:42.4%"></i><i style="--g:#06f,#00f 55%,#009 84%,#00d;width:42.4%"></i></div><div class="hm" style="left:372.4px;top:2458.1px;width:221.2px;height:180.4px"><i style="--g:#008,#008 15%,#00a 16%,#03f 18%,#0bf 19%,#4fb 21%,#bf4 22%,#fc0 23%,#f40 26%,#f10 29%,#f10 32%,#f40 34%,#f80 37%,#ff0 40%,#2fd 44%,#0cf 45%,#00f 49%,#05f 59%,#00f 67%,#03f 77%,#01f 81%,#008 88%,#008"></i><i style="--g:#01f,#00f 1%,#008 8%,#008 18%,#00a 22%,#008 30%,#01f 36%,#06f 40%,#04f 42%,#00f 45%,#00b 48%,#008 53%,#008 70%,#00c 75%,#008 84%,#008 89%,#00a 95%,#00a"></i><i style="--g:#05f,#01f 4%,#01f 8%,#07f 14%,#1fe 16%,#5fa 18%,#6f9 19%,#2fd 22%,#0ef 23%,#08f 26%,#06f 27%,#00e 37%,#008 44%,#009 63%,#008 85%,#00d 93%,#01f"></i><i style="--g:#00d,#00a 3%,#00a 8%,#00f 18%,#02f 25%,#06f 30%,#0cf 34%,#0cf 36%,#08f 38%,#00e 45%,#009 52%,#008 64%,#008 67%,#00e 75%,#00c 82%,#00e 86%,#05f 93%,#06f"></i><i style="--g:#00f,#04f 5%,#01f 11%,#009 15%,#008 18%,#00f 34%,#02f 38%,#01f 41%,#008 49%,#008 52%,#00d 58%,#00f 63%,#03f 68%,#07f 73%,#0af 74%,#1fe 75%,#fe0 78%,#f10 81%,#d00 82%,#c00 84%,#f20 86%,#fe0 89%,#8f7 90%,#0ff 92%,#09f 93%,#06f 95%,#02f"></i><i style="--g:#00b,#008 4%,#00a 7%,#00d 10%,#01f 11%,#0ef 15%,#5fa 16%,#ff0 19%,#f80 22%,#f70 23%,#f70 25%,#fd0 27%,#df2 29%,#3fc 32%,#0df 33%,#0af 34%,#07f 37%,#0af 44%,#0af 47%,#00e 56%,#00b 60%,#009 64%,#00f 71%,#03f 75%,#00f 79%,#009 86%,#008"></i><i style="--g:#00e,#00b 7%,#00c 10%,#00f 12%,#0ff 19%,#3fc 21%,#7f8 23%,#af5 26%,#af5 34%,#ef1 38%,#f90 44%,#fb0 47%,#fd0 48%,#ef1 49%,#0ff 53%,#04f 58%,#02f 60%,#04f 64%,#07f 66%,#0df 67%,#5fa 68%,#cf3 70%,#ff0 71%,#ef1 73%,#bf4 74%,#0ef 77%,#0af 78%,#07f 79%,#06f 88%,#00e"></i><i style="--g:#00d,#00e 3%,#00a 11%,#00d 18%,#00d 30%,#008 37%,#008 49%,#00d 56%,#00b 63%,#00d 71%,#00a 82%,#00b 86%,#00f 90%,#04f 95%,#05f"></i><i style="--g:#05f,#00e 5%,#00d 10%,#00e 26%,#01f 27%,#1fe 32%,#8f7 34%,#bf4 37%,#8f7 40%,#1fe 42%,#00f 48%,#00f 53%,#00b 64%,#008 70%,#008 82%,#00f 89%,#03f 93%,#05f"></i><i style="--g:#04f,#04f 4%,#00f 8%,#009 15%,#00f 23%,#00f 27%,#00d 32%,#02f 33%,#1fe 36%,#af5 38%,#ef1 41%,#cf3 44%,#1fe 48%,#00f 53%,#00c 67%,#00f 78%,#0af 89%,#03f"></i><i style="--g:#00e,#009 15%,#00b 19%,#00f 25%,#04f 27%,#2fd 30%,#ff0 33%,#f50 36%,#f20 37%,#f10 38%,#f30 40%,#fc0 42%,#ef1 44%,#0ff 48%,#05f 52%,#01f 56%,#01f 67%,#05f 77%,#01f 84%,#02f 92%,#00f 96%,#00b"></i><i style="--g:#04f,#06f 15%,#04f 21%,#06f 23%,#1fe 29%,#5fa 32%,#6f9 34%,#1fe 40%,#01f 49%,#00e 51%,#00f 71%,#02f 74%,#07f 78%,#1fe 82%,#1fe 85%,#07f 90%,#02f"></i><i style="--g:#04f,#0ef 12%,#4fb 15%,#ff0 21%,#f10 25%,#a00 26%,#800 27%,#800 33%,#d00 36%,#f10 38%,#f70 42%,#fd0 45%,#cf3 47%,#2fd 49%,#0cf 51%,#00f 55%,#009 68%,#00b 73%,#00f 77%,#05f 81%,#08f 82%,#0ef 84%,#ef1 86%,#fc0 88%,#fb0 89%,#fd0 90%,#df2 92%,#2fd 95%,#08f 97%,#06f"></i><i style="--g:#008,#008 12%,#00f 18%,#00f 22%,#00b 26%,#00f 33%,#04f 38%,#05f 48%,#05f 62%,#00f 68%,#00b 74%,#00c 85%,#008 96%,#008"></i><i style="--g:#00a,#00f 7%,#04f 12%,#00f 18%,#009 23%,#00e 29%,#02f 30%,#09f 33%,#0ff 36%,#2fd 38%,#0ff 41%,#04f 48%,#04f 49%,#07f 51%,#0ff 53%,#4fb 55%,#6f9 56%,#6f9 58%,#1fe 60%,#08f 64%,#00f 73%,#008 82%,#009"></i><i style="--g:#d00,#f20 1%,#ff0 4%,#2fd 7%,#0df 8%,#2fd 19%,#0ff 22%,#08f 29%,#00f 41%,#008 53%,#00d 63%,#008 73%,#00b 82%,#009"></i><i style="--g:#00a,#00f 7%,#09f 15%,#07f 18%,#03f 21%,#00f 30%,#00a 38%,#00a 41%,#00e 45%,#07f 56%,#0df 59%,#3fc 60%,#ef1 63%,#f90 66%,#fa0 67%,#fc0 68%,#ef1 70%,#0ef 74%,#09f 77%,#00e 88%,#008 93%,#008"></i><i style="--g:#02f,#0bf 4%,#2fd 5%,#af5 7%,#fd0 8%,#f70 10%,#f50 11%,#f50 12%,#f80 14%,#fd0 15%,#af5 16%,#4fb 18%,#0df 19%,#08f 21%,#05f 22%,#02f 27%,#0af 48%,#06f 55%,#07f 63%,#0af 66%,#0ef 67%,#4fb 68%,#af5 70%,#fc0 71%,#f40 73%,#c00 74%,#800 75%,#800 84%,#b00 85%,#f30 86%,#fb0 88%,#af5 89%,#1fe 90%,#09f 92%,#01f 96%,#00b"></i><i style="--g:#0ff,#cf3 7%,#ff0 10%,#cf3 14%,#0ef 18%,#08f 19%,#06f 21%,#09f 29%,#04f 38%,#02f 51%,#06f 63%,#0af 67%,#0ef 70%,#0ff 71%,#5fa 78%,#ff0 82%,#fc0 84%,#fc0 85%,#fe0 86%,#af5 88%,#2fd 89%,#0af 90%,#06f 92%,#03f 95%,#03f"></i><i style="--g:#09f,#0df 5%,#0df 10%,#0af 14%,#00e 19%,#00d 21%,#00d 26%,#00a 34%,#00b 41%,#00f 47%,#08f 53%,#0ff 55%,#bf4 56%,#f70 58%,#b00 59%,#800 60%,#800 66%,#900 67%,#f30 68%,#fb0 70%,#bf4 71%,#3fc 73%,#0bf 74%,#07f 75%,#00e 81%,#00c 90%,#008 96%,#008"></i><i style="--g:#04f,#09f 7%,#00f 21%,#008 27%,#008 45%,#009 47%,#00d 48%,#02f 49%,#06f 52%,#0cf 62%,#2fd 63%,#df2 66%,#ff0 67%,#ef1 68%,#bf4 70%,#0df 73%,#08f 74%,#05f 75%,#00f 79%,#00d 84%,#00f 90%,#07f"></i><i style="--g:#008,#009 3%,#00f 7%,#0bf 14%,#0ef 18%,#0cf 22%,#02f 26%,#00e 27%,#008 58%,#01f 64%,#0bf 78%,#05f 88%,#07f 96%,#06f"></i><i style="--g:#02f,#00f 1%,#009 7%,#008 12%,#008 23%,#00f 37%,#03f 45%,#04f 53%,#03f 59%,#00f 64%,#02f 75%,#00f 82%,#09f 96%,#08f"></i><i style="--g:#00f,#00f 11%,#009 19%,#00c 21%,#01f 22%,#0ef 26%,#2fd 27%,#5fa 30%,#4fb 32%,#0ff 34%,#04f 38%,#0cf 53%,#0af 56%,#01f 64%,#00e 66%,#009 71%,#01f 84%,#03f 89%,#01f"></i><i style="--g:#00c,#00f 3%,#04f 7%,#01f 12%,#05f 15%,#0ef 18%,#5fa 19%,#cf3 21%,#fb0 22%,#f30 23%,#b00 25%,#800 26%,#800 34%,#b00 36%,#f10 37%,#f80 40%,#fc0 42%,#fc0 45%,#f80 51%,#f90 52%,#ef1 55%,#3fc 58%,#0df 59%,#08f 62%,#07f 64%,#08f 67%,#0df 70%,#2fd 71%,#bf4 74%,#cf3 75%,#cf3 77%,#af5 78%,#1fe 81%,#08f 84%,#05f 89%,#08f 97%,#0ef"></i><i style="--g:#03f,#00e 3%,#00b 7%,#00e 10%,#02f 11%,#0ef 14%,#ff0 16%,#f60 18%,#d00 19%,#800 21%,#800 30%,#e00 33%,#fa0 37%,#ff0 40%,#0ef 58%,#0cf 63%,#00f 79%,#00f 82%,#05f 89%,#06f 97%,#0af"></i><i style="--g:#00e,#00d 6%,#00f 14%,#01f 29%,#03f 36%,#00f 41%,#009 50%,#00a 59%,#008 63%,#008 70%,#00c 76%,#00f 84%,#04f 90%,#00f 96%,#01f;width:97%"></i><i style="--g:#00e,#04f 11%,#1fe 19%,#6f9 24%,#4fb 27%,#1fe 29%,#05f 32%,#00d 33%,#008 35%,#008 40%,#00d 43%,#00f 46%,#00e 49%,#008 56%,#008 81%,#00c 90%,#00a;width:86.2%"></i><i style="--g:#07f,#1fe 11%,#6f9 18%,#ff0 24%,#f80 29%,#f50 32%,#f80 37%,#fe0 40%,#cf3 42%,#2fd 45%,#0cf 47%,#08f 48%,#05f 53%,#00e 58%,#008 65%,#008;width:85.7%"></i><i style="--g:#00f,#00d 8%,#00f 13%,#02f 18%,#03f 24%,#06f 26%,#0cf 27%,#3fc 29%,#ef1 32%,#fc0 34%,#fa0 37%,#ef1 40%,#2fd 44%,#0af 45%,#05f 47%,#00f 60%,#00a 68%,#00e 79%,#00d;width:85.2%"></i><i style="--g:#008,#008 10%,#00f 18%,#06f 30%,#0bf 33%,#0bf 34%,#02f 39%,#00e 43%,#00f 51%,#03f 59%,#01f 69%,#00d 74%,#009 80%,#00b 84%,#00f 87%,#07f 93%,#07f;width:84.4%"></i><i style="--g:#009,#008 4%,#008 31%,#00c 33%,#00f 35%,#06f 38%,#08f 44%,#03f 55%,#03f 69%,#0ff 78%,#2fd 80%,#2fd 82%,#0ff 84%,#00f 95%,#00b;width:76.2%"></i><i style="--g:#04f,#00f 12%,#00c 23%,#00f 33%,#04f 42%,#06f 46%,#0af 48%,#2fd 50%,#9f6 52%,#fd0 54%,#f20 58%,#e00 60%,#c00 67%,#800 71%,#800 96%,#900 98%,#d00;width:71.8%"></i><i style="--g:#0ff,#0af 2%,#07f 4%,#00e 24%,#008 34%,#008 46%,#00c 58%,#00f 80%,#06f 92%,#06f;width:68.6%"></i><i style="--g:#f40,#f10 2%,#800 6%,#800 8%,#900 14%,#f00 16%,#f90 18%,#bf4 20%,#0ff 22%,#08f 24%,#00e 31%,#00b 35%,#009 41%,#00b 61%,#008 73%,#009 92%,#008;width:66.9%"></i><i style="--g:#04f,#00f 6%,#00c 12%,#00b 23%,#008 29%,#008 92%,#00b;width:66.5%"></i><i style="--g:#07f,#07f 12%,#03f 31%,#00f 40%,#00b 48%,#01f 56%,#04f 65%,#00f 73%,#00d 79%,#01f;width:65.7%"></i><i style="--g:#00d,#00f 4%,#05f 20%,#0ff 35%,#07f 43%,#01f 57%,#04f 67%,#08f 74%,#1fe 76%,#bf4 78%,#f80 80%,#c00 83%,#800 85%,#800 93%,#900 96%,#f20 98%,#fb0;width:62.7%"></i><i style="--g:#05f,#09f 11%,#01f 29%,#00f 42%,#00b 53%,#00f 62%,#03f 71%,#00f 91%,#00d;width:62.3%"></i><i style="--g:#0bf,#04f 11%,#01f 20%,#02f 31%,#00f 38%,#008 51%,#008 73%,#00f 84%,#03f 91%,#01f;width:62%"></i><i style="--g:#00b,#00b 40%,#009 56%,#00f 72%,#01f 86%,#00f;width:59.7%"></i><i style="--g:#00b,#00b 7%,#008 21%,#008 64%,#00f 74%,#06f 88%,#06f;width:57.1%"></i><i style="--g:#008,#008 15%,#00e 22%,#00f 28%,#008 43%,#008 65%,#00f 75%,#08f 82%,#0ef 85%,#af5 90%,#cf3 92%,#cf3 95%,#8f7;width:54.8%"></i><i style="--g:#04f,#00f 34%,#00a 50%,#00b 55%,#00f 63%,#05f 76%,#07f 92%,#06f;width:52.4%"></i><i style="--g:#00c,#00e 33%,#008 50%,#008;width:49.5%"></i><i style="--g:#07f,#02f 17%,#05f 36%,#00e 53%,#00a;width:48.8%"></i><i style="--g:#00b,#00f 9%,#06f 31%,#00f 51%,#00d 74%,#00f;width:48%"></i><i style="--g:#05f,#01f 14%,#01f 37%,#06f 49%,#08f 51%,#0df 54%,#5fa 57%,#df2 60%,#fa0 63%,#f50 66%,#f20 69%,#f10 71%,#f30 74%,#fc0 80%,#cf3 83%,#0ff 89%,#07f 94%,#04f;width:47.2%"></i><i style="--g:#00d,#008 24%,#008 47%,#01f 62%,#04f 71%,#03f 85%,#05f;width:46.5%"></i><i style="--g:#008,#008 33%,#009 42%,#00a 61%,#00d 76%,#00f;width:45.4%"></i><i style="--g:#008,#00e 31%,#008 56%,#008 78%,#00c;width:43.9%"></i><i style="--g:#00a,#00a 13%,#00f 35%,#02f 48%,#00f 68%,#00d 87%,#00f;width:42.5%"></i><i style="--g:#00d,#008 16%,#00a 26%,#00f 35%,#0df 55%,#0df 58%,#06f 68%,#00f 81%,#00c;width:42.5%"></i><i style="--g:#01f,#008 23%,#00f 58%,#00f 81%,#00a;width:42.5%"></i></div><svg width="1853" height="2700" viewBox="0 0 1853 2700" stroke-linecap="butt"><text x="1.7" y="28" style="font-size:30px;font-weight:bold">a</text><text x="88.7" y="18.5">Bat 1</text><text x="88.7" y="46.7">Start ball</text><text x="80.2" y="63.5" text-anchor="end">84</text><path d="M92.2 56h1.5m0.6 0h1.5m0.6 0h1.5m11.8 0h1.5m0.6 0h1.5m1.7 0h1.5m3.6 0h1.5m0.9 0h1.5m13.4 0h1.5m59 0h1.5m15.8 0h1.5m11.4 0h1.5m3.5 0h1.5m6.5 0h1.5M87.2 58h1.5m0.6 0h1.5m0.6 0h1.5m1.6 0h1.5m0.6 0h1.5m0.6 0h1.5m0.6 0h1.5m1.8 0h1.5m6 0h1.5m0.6 0h1.5m3.2 0h1.5m1.6 0h1.5m0.6 0h1.5m2 0h1.5m0.6 0h1.5m5.9 0h1.5m0.8 0h1.5m13.9 0h1.5m8.6 0h1.5m84.6 0h1.5m6.9 0h1.5m11.1 0h1.5m0.6 0h1.5m21.5 0h1.5m7.8 0h1.5M90.3 59.9h1.5m2 0h1.5m5.5 0h1.5m0.6 0h1.5m12.4 0h1.5m0.6 0h1.5m9.2 0h1.5m22.7 0h1.5m27.8 0h1.5m69.4 0h1.5m16.2 0h1.5M87.5 61.9h1.5m25.2 0h1.5m10.7 0h1.5m0.9 0h1.5m15.1 0h1.5m33.3 0h1.5m76.6 0h1.5m10.6 0h1.5m16.7 0h1.5M87.2 63.8h1.5m0.6 0h1.5m3.7 0h1.5m0.6 0h1.5m10 0h1.5m13.1 0h1.5m0.6 0h1.5m11.5 0h1.5m7.7 0h1.5m61.9 0h1.5m41.2 0h1.5m21.8 0h1.5M90.4 65.8h1.5m0.6 0h1.5m0.6 0h1.5m0.6 0h1.5m0.8 0h1.5m0.6 0h1.5m5.3 0h1.5m7.4 0h1.5m0.6 0h1.5m0.6 0h1.5m0.6 0h1.5m2.9 0h1.5m0.6 0h1.5m28.5 0h1.5m57.4 0h1.5m46.2 0h1.5m20.4 0h1.5m13.7 0h1.5M88.3 67.7h1.5m7.1 0h1.5m10.9 0h1.5m0.6 0h1.5m4 0h1.5m0.6 0h1.5m0.6 0h1.5m0.6 0h1.5m5.5 0h1.5m0.6 0h1.5m23.7 0h1.5m15.1 0h1.5m3 0h1.5m11.1 0h1.5m7.2 0h1.5m34.3 0h1.5m30.2 0h1.5m3 0h1.5M87.7 69.7h1.5m3.5 0h1.5m0.6 0h1.5m0.6 0h1.5m2.2 0h1.5m2.7 0h1.5m0.6 0h1.5m7.1 0h1.5m8.2 0h1.5m0.6 0h1.5m5.8 0h1.5m33.4 0h1.5m15.4 0h1.5m25.3 0h1.5m3.6 0h1.5m19.6 0h1.5m38 0h1.5M87.2 71.6h1.5m0.6 0h1.5m4.3 0h1.5m7 0h1.5m0.6 0h1.5m1.3 0h1.5m1.5 0h1.5m0.6 0h1.5m1.8 0h1.5m0.6 0h1.5m0.6 0h1.5m0.6 0h1.5m2.9 0h1.5m6.8 0h1.5m29.8 0h1.5m14.6 0h1.5m4.4 0h1.5m108.5 0h1.5M87.2 73.6h1.5m0.6 0h1.5m0.6 0h1.5m0.6 0h1.5m0.6 0h1.5m0.9 0h1.5m0.6 0h1.5m4.9 0h1.5m1.5 0h1.5m11.1 0h1.5m1.3 0h1.5m4.9 0h1.5m30.3 0h1.5m5.5 0h1.5m36 0h1.5m6.4 0h1.5m0.6 0h1.5m0.6 0h1.5m14.2 0h1.5m12.1 0h1.5m29 0h1.5m4.1 0h1.5m0.6 0h1.5m4.3 0h1.5m7.6 0h1.5M88.4 75.5h1.5m0.6 0h1.5m2.5 0h1.5m0.6 0h1.5m0.6 0h1.5m0.6 0h1.5m0.6 0h1.5m3.7 0h1.5m0.6 0h1.5m0.6 0h1.5m0.6 0h1.5m2.9 0h1.5m0.6 0h1.5m0.6 0h1.5m0.6 0h1.5m0.6 0h1.5m0.6 0h1.5m14.9 0h1.5m69.5 0h1.5m32.9 0h1.5m7.4 0h1.5m2.7 0h1.5m13.2 0h1.5M87.2 77.5h1.5m2.1 0h1.5m42.8 0h1.5m15.8 0h1.5m31.1 0h1.5m30.4 0h1.5m0.6 0h1.5m16.1 0h1.5m43.7 0h1.5M89.1 79.4h1.5m0.9 0h1.5m0.6 0h1.5m0.6 0h1.5m0.6 0h1.5m0.6 0h1.5m6.4 0h1.5m0.6 0h1.5m0.6 0h1.5m5 0h1.5m0.6 0h1.5m0.6 0h1.5m0.6 0h1.5m4 0h1.5m7 0h1.5m0.6 0h1.5m14.1 0h1.5m6.5 0h1.5m18.6 0h1.5m31.4 0h1.5m15.1 0h1.5m9.7 0h1.5m31.3 0h1.5m21.7 0h1.5M87.2 81.4h1.5m0.6 0h1.5m12.5 0h1.5m0.6 0h1.5m1.8 0h1.5m0.6 0h1.5m1.5 0h1.5m3.3 0h1.5m0.6 0h1.5m0.6 0h1.5m0.8 0h1.5m0.6 0h1.5m0.6 0h1.5m22.2 0h1.5m6.1 0h1.5m2.8 0h1.5m1.1 0h1.5m1.5 0h1.5m3.9 0h1.5m39.9 0h1.5m26.9 0h1.5m9 0h1.5m47.3 0h1.5M88.2 83.3h1.5m5.1 0h1.5m0.6 0h1.5m11.7 0h1.5m0.6 0h1.5m1.3 0h1.5m0.6 0h1.5m0.8 0h1.5m0.6 0h1.5m0.6 0h1.5m0.6 0h1.5m0.6 0h1.5m2 0h1.5m6.9 0h1.5m2.3 0h1.5m10.4 0h1.5m6.5 0h1.5M116.7 85.3h1.5m0.6 0h1.5m0.6 0h1.5m0.6 0h1.5m0.6 0h1.5m4.1 0h1.5m1.7 0h1.5m21.8 0h1.5m40.8 0h1.5m30.4 0h1.5m6.8 0h1.5m28.1 0h1.5m11 0h1.5m12.6 0h1.5m0.6 0h1.5M87.8 87.2h1.5m13.1 0h1.5m2.7 0h1.5m0.6 0h1.5m3.5 0h1.5m3.5 0h1.5m5.6 0h1.5m4.3 0h1.5m15.9 0h1.5m11.5 0h1.5m44.3 0h1.5m0.6 0h1.5m15.7 0h1.5m7.5 0h1.5m57.7 0h1.5M87.2 89.2h1.5m0.6 0h1.5m0.6 0h1.5m0.6 0h1.5m0.7 0h1.5m0.6 0h1.5m0.8 0h1.5m1.2 0h1.5m2.1 0h1.5m2.2 0h1.5m1.2 0h1.5m0.6 0h1.5m4.1 0h1.5m28.5 0h1.5m15.6 0h1.5m7.7 0h1.5m9.3 0h1.5m0.6 0h1.5m23.4 0h1.5m0.6 0h1.5m26.9 0h1.5m7.5 0h1.5m0.6 0h1.5m1.5 0h1.5m6.5 0h1.5m4.2 0h1.5m13.8 0h1.5M87.2 91.1h1.5m0.6 0h1.5m0.6 0h1.5m4.6 0h1.5m0.6 0h1.5m0.8 0h1.5m0.6 0h1.5m2.3 0h1.5m0.7 0h1.5m2.2 0h1.5m4.1 0h1.5m1.6 0h1.5m4.6 0h1.5m4.1 0h1.5m34.6 0h1.5m53.2 0h1.5m10.5 0h1.5m7.3 0h1.5M94.4 93.1h1.5m0.6 0h1.5m4.6 0h1.5m16.1 0h1.5m6.7 0h1.5m19.3 0h1.5m1.2 0h1.5m0.6 0h1.5m29.8 0h1.5m23.3 0h1.5m2.6 0h1.5m2.4 0h1.5m60.6 0h1.5m2 0h1.5m5.9 0h1.5m2.1 0h1.5M87.4 95h1.5m0.6 0h1.5m0.6 0h1.5m3.7 0h1.5m0.6 0h1.5m21.2 0h1.5m0.6 0h1.5m7.9 0h1.5m8.8 0h1.5m17.4 0h1.5m45.3 0h1.5m4 0h1.5m1.5 0h1.5m8 0h1.5m2.6 0h1.5m48.4 0h1.5M87.2 97h1.5m0.6 0h1.5m4.1 0h1.5m0.8 0h1.5m13.6 0h1.5m0.6 0h1.5m0.6 0h1.5m0.6 0h1.5m8.6 0h1.5m3.2 0h1.5m1.4 0h1.5m29.5 0h1.5m1.3 0h1.5m32.9 0h1.5m33.6 0h1.5m31.9 0h1.5m23.6 0h1.5M88.6 98.9h1.5m0.6 0h1.5m2.9 0h1.5m0.6 0h1.5m0.6 0h1.5m4 0h1.5m11.5 0h1.5m4.2 0h1.5m4.5 0h1.5m30.4 0h1.5m19.6 0h1.5m0.6 0h1.5m1.1 0h1.5m6.5 0h1.5M87.5 100.9h1.5m0.6 0h1.5m0.6 0h1.5m0.6 0h1.5m1.9 0h1.5m0.6 0h1.5m0.9 0h1.5m11.5 0h1.5m0.9 0h1.5m5 0h1.5m2.4 0h1.5m0.6 0h1.5m19.7 0h1.5m14.1 0h1.5m44.5 0h1.5m13.2 0h1.5m5.9 0h1.5m8.7 0h1.5m14.8 0h1.5m0.6 0h1.5m9.9 0h1.5m9.7 0h1.5m0.6 0h1.5m11.4 0h1.5M87.2 102.8h1.5m1.2 0h1.5m0.6 0h1.5m0.6 0h1.5m5.9 0h1.5m23.2 0h1.5m3.4 0h1.5m39 0h1.5m36.9 0h1.5m54.9 0h1.5m1.6 0h1.5m24.3 0h1.5m3.8 0h1.5m1.5 0h1.5M95.2 104.8h1.5m0.6 0h1.5m0.6 0h1.5m0.6 0h1.5m4.9 0h1.5m1.8 0h1.5m3.3 0h1.5m0.6 0h1.5m3.9 0h1.5m0.6 0h1.5m11 0h1.5m11 0h1.5m40.6 0h1.5m4.5 0h1.5m0.6 0h1.5m1.4 0h1.5m45 0h1.5m11.8 0h1.5m14.7 0h1.5M87.2 106.7h1.5m11.5 0h1.5m0.6 0h1.5m8.1 0h1.5m0.6 0h1.5m0.6 0h1.5m4.8 0h1.5m0.6 0h1.5m0.6 0h1.5m8.7 0h1.5m61.9 0h1.5m45 0h1.5m16.4 0h1.5m14.2 0h1.5m7.3 0h1.5M90.4 108.7h1.5m0.6 0h1.5m2.8 0h1.5m5.3 0h1.5m9.3 0h1.5m7.2 0h1.5m0.6 0h1.5m0.6 0h1.5m6.5 0h1.5m16 0h1.5m8.2 0h1.5m6.4 0h1.5m10.7 0h1.5m45.6 0h1.5m0.6 0h1.5m15.1 0h1.5M92.2 110.7h1.5m0.6 0h1.5m3.8 0h1.5m0.6 0h1.5m10 0h1.5m2.1 0h1.5m3.4 0h1.5m0.6 0h1.5m1 0h1.5m1.1 0h1.5m34.5 0h1.5m4.8 0h1.5m76.6 0h1.5m1.4 0h1.5m1.8 0h1.5m27.4 0h1.5m0.6 0h1.5m0.6 0h1.5m1 0h1.5m12.8 0h1.5M89.4 112.6h1.5m0.6 0h1.5m0.6 0h1.5m5.7 0h1.5m0.6 0h1.5m7.3 0h1.5m0.6 0h1.5m0.6 0h1.5m16.1 0h1.5m24 0h1.5m73 0h1.5m52.2 0h1.5M87.2 114.6h1.5m1.6 0h1.5m1.3 0h1.5m6.7 0h1.5m0.6 0h1.5m0.6 0h1.5m0.6 0h1.5m0.6 0h1.5m2.6 0h1.5m0.6 0h1.5m1.2 0h1.5m5 0h1.5m0.6 0h1.5m0.6 0h1.5m14.6 0h1.5m9.5 0h1.5m33 0h1.5m19.7 0h1.5m2.8 0h1.5m61.7 0h1.5m4.7 0h1.5M96.9 116.5h1.5m0.6 0h1.5m0.6 0h1.5m0.6 0h1.5m2.2 0h1.5m0.6 0h1.5m0.6 0h1.5m0.6 0h1.5m4.2 0h1.5m0.6 0h1.5m0.6 0h1.5m8.7 0h1.5m12.1 0h1.5m11.2 0h1.5m19.6 0h1.5m2.1 0h1.5m33.3 0h1.5m14 0h1.5m4.4 0h1.5m21.3 0h1.5m5.7 0h1.5m22.5 0h1.5m0.6 0h1.5M87.2 118.5h1.5m0.6 0h1.5m1 0h1.5m0.6 0h1.5m1.7 0h1.5m3.5 0h1.5m7.7 0h1.5m0.6 0h1.5m5.7 0h1.5m0.6 0h1.5m0.6 0h1.5m2.7 0h1.5m4.9 0h1.5m7.8 0h1.5m85 0h1.5m27 0h1.5m18.3 0h1.5m21.8 0h1.5M95.4 120.4h1.5m0.6 0h1.5m0.6 0h1.5m1.3 0h1.5m0.6 0h1.5m3.6 0h1.5m15 0h1.5m0.6 0h1.5m3.5 0h1.5m8.6 0h1.5m0.6 0h1.5m20.5 0h1.5m58.5 0h1.5m0.6 0h1.5m0.6 0h1.5m42.8 0h1.5m17.2 0h1.5M88 122.4h1.5m19.5 0h1.5m0.6 0h1.5m1.1 0h1.5m0.6 0h1.5m0.6 0h1.5m1.7 0h1.5m1.1 0h1.5m1.4 0h1.5m8.4 0h1.5m41.6 0h1.5m13.2 0h1.5m3.9 0h1.5m22.2 0h1.5m16.8 0h1.5m48.8 0h1.5m10.9 0h1.5M87.8 124.3h1.5m0.6 0h1.5m0.6 0h1.5m6.2 0h1.5m1.1 0h1.5m0.6 0h1.5m0.6 0h1.5m0.6 0h1.5m20.5 0h1.5m14.5 0h1.5m26 0h1.5m14.8 0h1.5m14.3 0h1.5m29.8 0h1.5m0.6 0h1.5m51.7 0h1.5M87.2 126.3h1.5m0.6 0h1.5m0.6 0h1.5m0.6 0h1.5m0.6 0h1.5m1.3 0h1.5m0.6 0h1.5m0.6 0h1.5m0.6 0h1.5m3 0h1.5m1.9 0h1.5m0.6 0h1.5m0.6 0h1.5m0.6 0h1.5m12.7 0h1.5m25.7 0h1.5m77.6 0h1.5m0.6 0h1.5m9.1 0h1.5m15.9 0h1.5m9.1 0h1.5M87.2 128.2h1.5m6.4 0h1.5m0.6 0h1.5m0.6 0h1.5m0.6 0h1.5m0.6 0h1.5m1.8 0h1.5m1.8 0h1.5m1.1 0h1.5m0.6 0h1.5m0.6 0h1.5m3.6 0h1.5m5.1 0h1.5m12.3 0h1.5m10.1 0h1.5m4.3 0h1.5m13.7 0h1.5m1.6 0h1.5m36.6 0h1.5m26.9 0h1.5m38 0h1.5M90.1 130.2h1.5m7.6 0h1.5m0.6 0h1.5m0.6 0h1.5m0.6 0h1.5m0.8 0h1.5m4 0h1.5m1.5 0h1.5m0.6 0h1.5m0.6 0h1.5m12.8 0h1.5m1.4 0h1.5m43 0h1.5m25.6 0h1.5m16.2 0h1.5m12.8 0h1.5m0.6 0h1.5m21.2 0h1.5m8.1 0h1.5m17.8 0h1.5m5.5 0h1.5M87.2 132.1h1.5m0.6 0h1.5m0.6 0h1.5m0.9 0h1.5m1.4 0h1.5m13.1 0h1.5m0.6 0h1.5m3.5 0h1.5m0.6 0h1.5m0.7 0h1.5m4.7 0h1.5m40.1 0h1.5m10.6 0h1.5m28.2 0h1.5m7.1 0h1.5m17 0h1.5m2.9 0h1.5m11.6 0h1.5m0.6 0h1.5m0.6 0h1.5m8.2 0h1.5m6.7 0h1.5M87.2 134.1h1.5m0.6 0h1.5m0.6 0h1.5m7.3 0h1.5m18.4 0h1.5m1.5 0h1.5m0.6 0h1.5m1.8 0h1.5m24.2 0h1.5m25.9 0h1.5m3 0h1.5m24 0h1.5m0.6 0h1.5m6.7 0h1.5m49.3 0h1.5m19.3 0h1.5M87.2 136h1.5m0.6 0h1.5m0.6 0h1.5m0.9 0h1.5m0.6 0h1.5m7.7 0h1.5m0.6 0h1.5m0.6 0h1.5m0.6 0h1.5m0.6 0h1.5m5.6 0h1.5m1.5 0h1.5m0.6 0h1.5m4.6 0h1.5m1.8 0h1.5m0.6 0h1.5m35.3 0h1.5m21.3 0h1.5m2.4 0h1.5m14.6 0h1.5m26.9 0h1.5m55.4 0h1.5M87.2 138h1.5m1.7 0h1.5m0.6 0h1.5m7.5 0h1.5m0.6 0h1.5m10.3 0h1.5m0.6 0h1.5m0.8 0h1.5m1 0h1.5m3.3 0h1.5m0.6 0h1.5m38.5 0h1.5m20.4 0h1.5m9.7 0h1.5m9.4 0h1.5m7.5 0h1.5m18.6 0h1.5m12.9 0h1.5m0.6 0h1.5m19 0h1.5m5.3 0h1.5m2.3 0h1.5M88.8 139.9h1.5m0.6 0h1.5m0.6 0h1.5m0.6 0h1.5m1.9 0h1.5m0.6 0h1.5m0.6 0h1.5m3.5 0h1.5m0.6 0h1.5m1.7 0h1.5m0.6 0h1.5m1.5 0h1.5m0.6 0h1.5m2 0h1.5m0.6 0h1.5m0.6 0h1.5m0.6 0h1.5m3.3 0h1.5m0.6 0h1.5m3.8 0h1.5m0.6 0h1.5m0.6 0h1.5m28.1 0h1.5m6.3 0h1.5m8.8 0h1.5m1.4 0h1.5m6.5 0h1.5m7 0h1.5m28.9 0h1.5m50 0h1.5M87.2 141.9h1.5m2.1 0h1.5m1.5 0h1.5m0.6 0h1.5m0.6 0h1.5m0.6 0h1.5m0.6 0h1.5m0.6 0h1.5m0.6 0h1.5m0.6 0h1.5m0.6 0h1.5m0.6 0h1.5m0.6 0h1.5m2.9 0h1.5m8.2 0h1.5m0.6 0h1.5m24 0h1.5m7.4 0h1.5m6.8 0h1.5m25.5 0h1.5m11.2 0h1.5m1.6 0h1.5m6.5 0h1.5m12.2 0h1.5m18.5 0h1.5m38.8 0h1.5M89.7 143.8h1.5m8 0h1.5m13.5 0h1.5m0.6 0h1.5m3.7 0h1.5m0.6 0h1.5m2.1 0h1.5m0.6 0h1.5m77.4 0h1.5m0.6 0h1.5m55.6 0h1.5m29.6 0h1.5M93.1 145.8h1.5m2.5 0h1.5m0.6 0h1.5m0.6 0h1.5m1.8 0h1.5m0.6 0h1.5m0.6 0h1.5m0.6 0h1.5m0.9 0h1.5m8.3 0h1.5m1.1 0h1.5m12.5 0h1.5m131.3 0h1.5M89.2 147.7h1.5m0.6 0h1.5m0.8 0h1.5m4 0h1.5m0.6 0h1.5m0.6 0h1.5m19.6 0h1.5m4.5 0h1.5m41.3 0h1.5m19.9 0h1.5m21.1 0h1.5m0.6 0h1.5m0.6 0h1.5m29.5 0h1.5m7.2 0h1.5m31.3 0h1.5M89.2 149.7h1.5m2.6 0h1.5m0.6 0h1.5m2.3 0h1.5m3.9 0h1.5m3.1 0h1.5m1 0h1.5m0.6 0h1.5m11.9 0h1.5m0.6 0h1.5m136.2 0h1.5M90.1 151.6h1.5m6.4 0h1.5m3.6 0h1.5m0.6 0h1.5m25.4 0h1.5m6.2 0h1.5m29.5 0h1.5m30 0h1.5m27 0h1.5M87.2 153.6h1.5m0.6 0h1.5m0.6 0h1.5m0.6 0h1.5m2.8 0h1.5m0.6 0h1.5m0.6 0h1.5m0.6 0h1.5m4.3 0h1.5m0.6 0h1.5m5.7 0h1.5m0.6 0h1.5m5.9 0h1.5m35.2 0h1.5m0.6 0h1.5m11.3 0h1.5m16.8 0h1.5m44 0h1.5m0.6 0h1.5m9.3 0h1.5m36.9 0h1.5M87.2 155.5h1.5m0.6 0h1.5m0.6 0h1.5m0.6 0h1.5m0.6 0h1.5m0.6 0h1.5m5.1 0h1.5m3.9 0h1.5m6.4 0h1.5m4.2 0h1.5m0.6 0h1.5m8 0h1.5m3.9 0h1.5m67.4 0h1.5m0.6 0h1.5m10.9 0h1.5m16 0h1.5m19.6 0h1.5m19.3 0h1.5m2.6 0h1.5M87.9 157.5h1.5m3.9 0h1.5m2 0h1.5m16.1 0h1.5m0.7 0h1.5m13.1 0h1.5m12.6 0h1.5m0.6 0h1.5m0.6 0h1.5m3.3 0h1.5m14.5 0h1.5m37.6 0h1.5m11.6 0h1.5m25.9 0h1.5m29.4 0h1.5m0.6 0h1.5M87.2 159.4h1.5m1.4 0h1.5m1.8 0h1.5m6 0h1.5m0.6 0h1.5m18.2 0h1.5m4.5 0h1.5m14.2 0h1.5m22.1 0h1.5m15.7 0h1.5m1.6 0h1.5m0.6 0h1.5m23.8 0h1.5m7.1 0h1.5m22.8 0h1.5m11.3 0h1.5m24.4 0h1.5m0.6 0h1.5M87.9 161.4h1.5m0.6 0h1.5m0.6 0h1.5m10.2 0h1.5m0.6 0h1.5m3.3 0h1.5m0.6 0h1.5m1.7 0h1.5m2 0h1.5m1.2 0h1.5m0.6 0h1.5m0.6 0h1.5m6.5 0h1.5m21.2 0h1.5m17.6 0h1.5m0.6 0h1.5m28.1 0h1.5m30.5 0h1.5M87.2 163.3h1.5m0.6 0h1.5m0.6 0h1.5m7.6 0h1.5m3.8 0h1.5m0.6 0h1.5m0.6 0h1.5m1.5 0h1.5m0.6 0h1.5m0.6 0h1.5m0.6 0h1.5m3.2 0h1.5m0.6 0h1.5m7.2 0h1.5m26.2 0h1.5m0.9 0h1.5m23.6 0h1.5m9.8 0h1.5m1 0h1.5m30.9 0h1.5m41.6 0h1.5m8.3 0h1.5m8.5 0h1.5M87.7 165.3h1.5m0.6 0h1.5m5.2 0h1.5m1.5 0h1.5m0.6 0h1.5m1.1 0h1.5m2 0h1.5m1.8 0h1.5m2.2 0h1.5m0.6 0h1.5m0.6 0h1.5m0.6 0h1.5m0.6 0h1.5m0.6 0h1.5m0.6 0h1.5m0.6 0h1.5m12.1 0h1.5m62 0h1.5m0.6 0h1.5m93.7 0h1.5M87.2 167.3h1.5m0.9 0h1.5m0.6 0h1.5m0.6 0h1.5m0.6 0h1.5m0.6 0h1.5m0.6 0h1.5m1.5 0h1.5m2.5 0h1.5m0.6 0h1.5m0.6 0h1.5m0.6 0h1.5m0.6 0h1.5m2.3 0h1.5m0.6 0h1.5m4.1 0h1.5m2.5 0h1.5m5.7 0h1.5m2.1 0h1.5m15.7 0h1.5m16.5 0h1.5m22 0h1.5m23.3 0h1.5m0.6 0h1.5m28.1 0h1.5M87.2 169.2h1.5m0.6 0h1.5m6.3 0h1.5m0.6 0h1.5m0.6 0h1.5m4.1 0h1.5m2.7 0h1.5m0.6 0h1.5m2 0h1.5m0.6 0h1.5m4 0h1.5m0.6 0h1.5m0.6 0h1.5m46.3 0h1.5m2.9 0h1.5m5.6 0h1.5m54.9 0h1.5m27.5 0h1.5m0.6 0h1.5m2.2 0h1.5m24.7 0h1.5M88.5 171.2h1.5m16.2 0h1.5m0.6 0h1.5m1.9 0h1.5m0.6 0h1.5m13.5 0h1.5m22.6 0h1.5m2.7 0h1.5m50.9 0h1.5m4.7 0h1.5m37.1 0h1.5m9.7 0h1.5m8 0h1.5m2 0h1.5m0.6 0h1.5m21.4 0h1.5M87.2 173.1h1.5m0.6 0h1.5m12 0h1.5m0.6 0h1.5m0.6 0h1.5m5.3 0h1.5m4.2 0h1.5m1.7 0h1.5m0.6 0h1.5m1 0h1.5m0.6 0h1.5m7.4 0h1.5m10.9 0h1.5m31.2 0h1.5m5.4 0h1.5m0.6 0h1.5m6.8 0h1.5m32.4 0h1.5m5 0h1.5m1.8 0h1.5m17.7 0h1.5m4.4 0h1.5m2.1 0h1.5m7.8 0h1.5M87.2 175.1h1.5m0.6 0h1.5m0.6 0h1.5m1.1 0h1.5m4.6 0h1.5m5.7 0h1.5m0.6 0h1.5m0.6 0h1.5m0.6 0h1.5m13 0h1.5m0.6 0h1.5m15 0h1.5m0.6 0h1.5m55.6 0h1.5m21 0h1.5m11.9 0h1.5m24.7 0h1.5m0.9 0h1.5m0.6 0h1.5M90.7 177h1.5m0.6 0h1.5m0.6 0h1.5m0.6 0h1.5m8.7 0h1.5m0.8 0h1.5m3.7 0h1.5m0.6 0h1.5m6.2 0h1.5m0.6 0h1.5m3.7 0h1.5m15.2 0h1.5m0.6 0h1.5m2.8 0h1.5m15.8 0h1.5m9.7 0h1.5m62.4 0h1.5m0.8 0h1.5m33.7 0h1.5M87.2 179h1.5m5.2 0h1.5m0.6 0h1.5m1.1 0h1.5m0.6 0h1.5m10 0h1.5m0.6 0h1.5m3.6 0h1.5m0.6 0h1.5m1.5 0h1.5m1.2 0h1.5m0.6 0h1.5m8.1 0h1.5m7.1 0h1.5m1.5 0h1.5m36.4 0h1.5m57.1 0h1.5m54.3 0h1.5M87.2 180.9h1.5m0.6 0h1.5m0.6 0h1.5m1 0h1.5m0.9 0h1.5m2.9 0h1.5m0.6 0h1.5m0.6 0h1.5m1.5 0h1.5m0.6 0h1.5m0.6 0h1.5m0.7 0h1.5m1.4 0h1.5m0.6 0h1.5m4.3 0h1.5m0.6 0h1.5m8.1 0h1.5m8.9 0h1.5m55.2 0h1.5m23.8 0h1.5m63 0h1.5M88.9 182.9h1.5m1.1 0h1.5m3.5 0h1.5m0.6 0h1.5m2.5 0h1.5m5.9 0h1.5m1.4 0h1.5m0.6 0h1.5m0.6 0h1.5m0.6 0h1.5m0.6 0h1.5m0.8 0h1.5m2.6 0h1.5m7 0h1.5m20.5 0h1.5m2.7 0h1.5m19 0h1.5m51.4 0h1.5m13.1 0h1.5m17.9 0h1.5m3.3 0h1.5m0.6 0h1.5m6.3 0h1.5M87.2 184.8h1.5m3.3 0h1.5m2.6 0h1.5m0.6 0h1.5m1.8 0h1.5m0.6 0h1.5m0.6 0h1.5m1.2 0h1.5m16.9 0h1.5m0.6 0h1.5m14.2 0h1.5m14.4 0h1.5m25.1 0h1.5m18.5 0h1.5m21.8 0h1.5m20.9 0h1.5m20.1 0h1.5m17.2 0h1.5M87.2 186.8h1.5m3.4 0h1.5m0.6 0h1.5m0.6 0h1.5m0.6 0h1.5m1.3 0h1.5m0.6 0h1.5m3.4 0h1.5m0.6 0h1.5m1.1 0h1.5m0.6 0h1.5m2.5 0h1.5m2.6 0h1.5m1.8 0h1.5m0.6 0h1.5m0.6 0h1.5m0.6 0h1.5m30.3 0h1.5m6.7 0h1.5m23 0h1.5m10.5 0h1.5m11.9 0h1.5m3.6 0h1.5m13.7 0h1.5m9.2 0h1.5m39.4 0h1.5m2.7 0h1.5m0.6 0h1.5M87.2 188.7h1.5m0.6 0h1.5m0.6 0h1.5m12.4 0h1.5m0.6 0h1.5m0.6 0h1.5m0.6 0h1.5m3 0h1.5m0.6 0h1.5m0.6 0h1.5m0.6 0h1.5m0.6 0h1.5m0.6 0h1.5m7.8 0h1.5m7.6 0h1.5m17.5 0h1.5m11.4 0h1.5m62.4 0h1.5m17.5 0h1.5m0.6 0h1.5m32.4 0h1.5M87.2 190.7h1.5m18.2 0h1.5m5.4 0h1.5m0.6 0h1.5m3.5 0h1.5m0.6 0h1.5m0.6 0h1.5m0.6 0h1.5m0.6 0h1.5m11 0h1.5m8.1 0h1.5m25.5 0h1.5m0.6 0h1.5m91.8 0h1.5m14.1 0h1.5M100.8 192.6h1.5m0.8 0h1.5m0.7 0h1.5m0.6 0h1.5m0.6 0h1.5m0.6 0h1.5m0.6 0h1.5m5.1 0h1.5m0.6 0h1.5m0.8 0h1.5m0.9 0h1.5m0.6 0h1.5m2.1 0h1.5m13.4 0h1.5m12.8 0h1.5m11 0h1.5m27.8 0h1.5m6.4 0h1.5m2.9 0h1.5m11.6 0h1.5m9.3 0h1.5m6.1 0h1.5m36.5 0h1.5M91.3 194.6h1.5m7.6 0h1.5m6.9 0h1.5m3.5 0h1.5m0.6 0h1.5m2.5 0h1.5m0.6 0h1.5m8.8 0h1.5m0.6 0h1.5m2 0h1.5m5.9 0h1.5m37.6 0h1.5m12.6 0h1.5m1.2 0h1.5m5 0h1.5m6.7 0h1.5m9.4 0h1.5m13.3 0h1.5m26.4 0h1.5m2.3 0h1.5M87.2 196.5h1.5m7 0h1.5m0.6 0h1.5m0.9 0h1.5m0.6 0h1.5m6.5 0h1.5m0.6 0h1.5m0.6 0h1.5m3.1 0h1.5m3.7 0h1.5m27.2 0h1.5m8.4 0h1.5m24.5 0h1.5m8.6 0h1.5m19.2 0h1.5m11.5 0h1.5m12.8 0h1.5m28.5 0h1.5M97.1 198.5h1.5m0.6 0h1.5m9.2 0h1.5m0.6 0h1.5m6.8 0h1.5m6.2 0h1.5m31 0h1.5m4.6 0h1.5m33.6 0h1.5m16.3 0h1.5m3.6 0h1.5m7.3 0h1.5m31.4 0h1.5M87.2 200.4h1.5m0.6 0h1.5m0.6 0h1.5m0.6 0h1.5m0.6 0h1.5m0.6 0h1.5m0.6 0h1.5m0.6 0h1.5m2 0h1.5m3.9 0h1.5m0.6 0h1.5m0.6 0h1.5m0.9 0h1.5m1.5 0h1.5m0.6 0h1.5m17.2 0h1.5m1 0h1.5m41.3 0h1.5m28.3 0h1.5m3.7 0h1.5m11.5 0h1.5m4.1 0h1.5M87.2 202.4h1.5m1.3 0h1.5m2.5 0h1.5m0.6 0h1.5m0.6 0h1.5m0.6 0h1.5m0.6 0h1.5m4 0h1.5m8.2 0h1.5m0.6 0h1.5m0.6 0h1.5m1.8 0h1.5m9 0h1.5m13 0h1.5m18.1 0h1.5m18.8 0h1.5m9.8 0h1.5m4.1 0h1.5M87.2 204.3h1.5m0.6 0h1.5m4.7 0h1.5m5.9 0h1.5m1.6 0h1.5m0.6 0h1.5m7.4 0h1.5m0.6 0h1.5m0.6 0h1.5m2 0h1.5m0.6 0h1.5m0.6 0h1.5m9.6 0h1.5M87.2 206.3h1.5m1.5 0h1.5m19.9 0h1.5m0.6 0h1.5m2.4 0h1.5m2.8 0h1.5m0.6 0h1.5m0.6 0h1.5m0.6 0h1.5m22.9 0h1.5m1.1 0h1.5m0.6 0h1.5m11.1 0h1.5m0.6 0h1.5m24.8 0h1.5M87.2 208.2h1.5m0.6 0h1.5m0.6 0h1.5m1.2 0h1.5m0.8 0h1.5m1.2 0h1.5m2.8 0h1.5m3.5 0h1.5m1.5 0h1.5m0.6 0h1.5m0.6 0h1.5m2.2 0h1.5m0.6 0h1.5m0.9 0h1.5m0.6 0h1.5m0.6 0h1.5m4.2 0h1.5m17.4 0h1.5m3.4 0h1.5m14.5 0h1.5m22.7 0h1.5M87.2 210.2h1.5m0.8 0h1.5m0.6 0h1.5m6.5 0h1.5m0.6 0h1.5m0.6 0h1.5m0.6 0h1.5m0.6 0h1.5m0.6 0h1.5m1.9 0h1.5m0.6 0h1.5m0.6 0h1.5m0.6 0h1.5m2.2 0h1.5m0.6 0h1.5m0.9 0h1.5m4.4 0h1.5m3.7 0h1.5m2.1 0h1.5m21.6 0h1.5m11.6 0h1.5m9 0h1.5m0.6 0h1.5m0.6 0h1.5M93.3 212.1h1.5m0.6 0h1.5m2.4 0h1.5m0.6 0h1.5m0.6 0h1.5m0.6 0h1.5m0.6 0h1.5m0.6 0h1.5m1.3 0h1.5m2.1 0h1.5m0.6 0h1.5m0.6 0h1.5m2.6 0h1.5m3.6 0h1.5m3.7 0h1.5m13.3 0h1.5m0.6 0h1.5m19 0h1.5m8.4 0h1.5M89.8 214.1h1.5m2 0h1.5m5.4 0h1.5m0.6 0h1.5m0.6 0h1.5m0.7 0h1.5m3.5 0h1.5m0.6 0h1.5m0.6 0h1.5m14 0h1.5m15.1 0h1.5m7.3 0h1.5M87.2 216h1.5m0.6 0h1.5m4.4 0h1.5m9.3 0h1.5m0.6 0h1.5m3.2 0h1.5m0.6 0h1.5m12 0h1.5m0.9 0h1.5M96.8 218h1.5m0.6 0h1.5m5.7 0h1.5m1.8 0h1.5m2.2 0h1.5m1.5 0h1.5m0.7 0h1.5m0.6 0h1.5m0.6 0h1.5m0.6 0h1.5m12.2 0h1.5" stroke="#000" stroke-width="1.3" fill="none"/><path d="M155.5 217 175.5 214.4 198 210.2 208 205.6 238.2 203.1 250.8 200.6 275.9 198.1 293.4 195.1 296 191.8 307 191.8" stroke="#b4b4b4" stroke-width="2" fill="none"/><path d="M86 54V220H307" stroke="#000" stroke-width="2" fill="none"/><text x="358.7" y="18.5">Bat 2</text><text x="358.7" y="46.7">Ball A</text><text x="350.2" y="63.5" text-anchor="end">33</text><path d="M367.8 56.4h2.4m0.6 0h2.4m0.8 0h2.4m1 0h2.4m0.6 0h2.4m0.6 0h2.4m6.7 0h2.4m0.6 0h2.4m11.2 0h2.4m0.6 0h2.4m0.6 0h2.4m0.6 0h2.4m18.3 0h2.4m10.9 0h2.4m0.6 0h2.4m4.1 0h2.4m6.2 0h2.4m6.2 0h2.4m4.3 0h2.4m1.1 0h2.4m0.6 0h2.4m0.6 0h2.4m21.2 0h2.4m2.2 0h2.4m4.5 0h2.4m5.9 0h2.4m8.3 0h2.4m2.3 0h2.4m0.6 0h2.4m5.9 0h2.4m1.8 0h2.4M357.2 61.4h2.4m0.6 0h2.4m0.9 0h2.4m3.3 0h2.4m0.6 0h2.4m0.6 0h2.4m0.6 0h2.4m0.6 0h2.4m0.6 0h2.4m0.6 0h2.4m0.6 0h2.4m0.6 0h2.4m0.6 0h2.4m0.6 0h2.4m0.6 0h2.4m3.5 0h2.4m4 0h2.4m0.6 0h2.4m1.8 0h2.4m5.8 0h2.4m0.6 0h2.4m0.6 0h2.4m2.3 0h2.4m0.6 0h2.4m3 0h2.4m0.6 0h2.4m7 0h2.4m0.6 0h2.4m0.6 0h2.4m0.6 0h2.4m3 0h2.4m8.6 0h2.4m11.5 0h2.4m14.1 0h2.4m0.6 0h2.4m2.4 0h2.4m0.6 0h2.4m15.3 0h2.4m8.7 0h2.4m0.6 0h2.4m4.8 0h2.4m1 0h2.4M383 66.5h2.4m0.8 0h2.4m0.6 0h2.4m0.6 0h2.4m0.6 0h2.4m0.7 0h2.4m0.6 0h2.4m0.6 0h2.4m2.6 0h2.4m0.6 0h2.4m0.6 0h2.4m1.6 0h2.4m3.2 0h2.4m0.6 0h2.4m36 0h2.4M365.3 71.5h2.4m0.6 0h2.4m0.6 0h2.4m1 0h2.4m0.6 0h2.4m0.6 0h2.4m0.6 0h2.4m0.6 0h2.4m0.6 0h2.4m0.6 0h2.4m0.6 0h2.4m0.6 0h2.4m0.6 0h2.4m2.9 0h2.4m0.6 0h2.4m0.6 0h2.4m0.6 0h2.4m1.5 0h2.4m0.6 0h2.4m0.6 0h2.4m5.7 0h2.4m0.6 0h2.4m0.6 0h2.4m71.2 0h2.4M360.2 76.5h2.4m1.1 0h2.4m4.8 0h2.4m0.6 0h2.4m0.6 0h2.4m0.6 0h2.4m0.6 0h2.4m2.6 0h2.4m0.6 0h2.4m0.6 0h2.4m3.9 0h2.4m2.1 0h2.4m2.8 0h2.4m0.6 0h2.4m0.6 0h2.4m0.6 0h2.4m0.6 0h2.4m0.6 0h2.4m0.6 0h2.4m10.6 0h2.4m15.3 0h2.4m53.1 0h2.4M357.5 81.6h2.4m13.8 0h2.4m0.6 0h2.4m1.9 0h2.4m0.6 0h2.4m0.6 0h2.4m0.6 0h2.4m1 0h2.4m0.6 0h2.4m0.6 0h2.4m0.6 0h2.4m4.2 0h2.4m1.5 0h2.4m0.6 0h2.4m0.6 0h2.4m0.8 0h2.4m0.6 0h2.4m1.1 0h2.4m23.6 0h2.4m4.1 0h2.4m53.1 0h2.4m9.7 0h2.4M358.4 86.6h2.4m25.6 0h2.4m0.6 0h2.4m0.6 0h2.4m0.6 0h2.4m0.6 0h2.4m7.2 0h2.4m0.6 0h2.4m1.9 0h2.4m0.6 0h2.4m0.6 0h2.4m3.9 0h2.4m0.6 0h2.4m0.6 0h2.4m1.1 0h2.4m0.6 0h2.4m9.8 0h2.4m15.2 0h2.4m73.8 0h2.4M363.2 91.7h2.4m0.6 0h2.4m2.5 0h2.4m3.5 0h2.4m0.6 0h2.4m0.6 0h2.4m0.6 0h2.4m0.6 0h2.4m0.6 0h2.4m2.2 0h2.4m0.7 0h2.4m0.9 0h2.4m0.6 0h2.4m0.6 0h2.4m2.8 0h2.4m0.6 0h2.4m0.9 0h2.4m1.8 0h2.4m0.6 0h2.4m0.6 0h2.4m3.6 0h2.4m33.6 0h2.4m79.6 0h2.4M357.2 96.7h2.4m12.8 0h2.4m0.6 0h2.4m7.6 0h2.4m0.6 0h2.4m0.6 0h2.4m1.5 0h2.4m0.6 0h2.4m0.6 0h2.4m0.6 0h2.4m0.6 0h2.4m0.6 0h2.4m1.7 0h2.4m0.6 0h2.4m0.6 0h2.4m0.6 0h2.4m0.6 0h2.4m0.6 0h2.4m11.9 0h2.4m0.6 0h2.4m5.9 0h2.4m7.1 0h2.4m75.6 0h2.4M427.9 101.7h2.4m1.7 0h2.4m12.9 0h2.4m0.6 0h2.4m9.4 0h2.4m48.7 0h2.4m38.1 0h2.4M357.2 106.8h2.4m0.6 0h2.4m4.5 0h2.4m0.6 0h2.4m0.6 0h2.4m0.6 0h2.4m10.5 0h2.4m0.6 0h2.4m0.6 0h2.4m0.6 0h2.4m0.6 0h2.4m0.6 0h2.4m7.6 0h2.4m0.6 0h2.4m0.9 0h2.4m0.6 0h2.4m0.6 0h2.4m0.6 0h2.4m0.6 0h2.4m0.6 0h2.4m0.6 0h2.4m38.1 0h2.4M363.5 111.8h2.4m5.8 0h2.4m3.4 0h2.4m0.6 0h2.4m5.1 0h2.4m0.6 0h2.4m0.6 0h2.4m0.6 0h2.4m0.6 0h2.4m0.6 0h2.4m0.9 0h2.4m0.6 0h2.4m0.6 0h2.4m0.6 0h2.4m0.6 0h2.4m0.6 0h2.4m2.6 0h2.4m9.4 0h2.4m3.6 0h2.4m3.4 0h2.4m6 0h2.4m7.2 0h2.4m86.4 0h2.4M357.2 116.8h2.4m14.7 0h2.4m0.6 0h2.4m0.6 0h2.4m0.6 0h2.4m0.6 0h2.4m2.7 0h2.4m3.6 0h2.4m0.6 0h2.4m0.6 0h2.4m4 0h2.4m3.3 0h2.4m0.6 0h2.4m0.6 0h2.4m0.6 0h2.4m0.6 0h2.4m2.3 0h2.4m8.6 0h2.4m15.1 0h2.4M357.2 121.9h2.4m11.1 0h2.4m0.6 0h2.4m0.6 0h2.4m1.2 0h2.4m0.6 0h2.4m7.1 0h2.4m0.6 0h2.4m3.7 0h2.4m0.6 0h2.4m0.9 0h2.4m0.6 0h2.4m1.7 0h2.4m0.6 0h2.4m0.6 0h2.4m0.6 0h2.4m5.5 0h2.4m7.3 0h2.4m20.3 0h2.4M359.6 126.9h2.4m0.6 0h2.4m12.2 0h2.4m0.6 0h2.4m2.7 0h2.4m0.6 0h2.4m0.6 0h2.4m0.8 0h2.4m0.6 0h2.4m0.6 0h2.4m0.6 0h2.4m0.6 0h2.4m2.3 0h2.4m0.6 0h2.4m0.6 0h2.4m0.6 0h2.4m0.6 0h2.4m0.6 0h2.4m0.6 0h2.4m5.3 0h2.4m9.8 0h2.4m0.6 0h2.4m1.2 0h2.4M369.5 132h2.4m2.5 0h2.4m0.6 0h2.4m0.6 0h2.4m0.6 0h2.4m1 0h2.4m0.6 0h2.4m0.6 0h2.4m0.6 0h2.4m0.6 0h2.4m4.9 0h2.4m1.9 0h2.4m0.6 0h2.4m0.6 0h2.4m0.6 0h2.4m0.6 0h2.4m0.6 0h2.4m0.6 0h2.4m0.6 0h2.4m3.2 0h2.4m2.5 0h2.4m0.6 0h2.4m4.8 0h2.4m3.6 0h2.4M366.1 137h2.4m0.6 0h2.4m0.6 0h2.4m4.4 0h2.4m0.6 0h2.4m0.6 0h2.4m2 0h2.4m0.6 0h2.4m0.6 0h2.4m0.6 0h2.4m0.6 0h2.4m6.5 0h2.4m3.6 0h2.4m0.6 0h2.4m0.6 0h2.4m0.6 0h2.4m0.9 0h2.4m9.2 0h2.4m2.3 0h2.4m4.9 0h2.4m0.6 0h2.4m0.6 0h2.4M357.2 142h2.4m4.6 0h2.4m20 0h2.4m0.6 0h2.4m4.8 0h2.4m0.6 0h2.4m0.6 0h2.4m0.6 0h2.4m0.6 0h2.4m1.7 0h2.4m0.6 0h2.4m0.6 0h2.4m0.6 0h2.4m0.6 0h2.4m1.2 0h2.4m0.6 0h2.4m10.4 0h2.4m0.6 0h2.4m1.2 0h2.4m5.5 0h2.4m3.4 0h2.4M358.6 147.1h2.4m0.6 0h2.4m1.6 0h2.4m0.6 0h2.4m1.4 0h2.4m0.6 0h2.4m2.8 0h2.4m3.2 0h2.4m0.6 0h2.4m10.1 0h2.4m0.6 0h2.4m0.6 0h2.4m3 0h2.4m0.6 0h2.4m1.1 0h2.4m0.6 0h2.4m8.2 0h2.4m24.8 0h2.4M369.4 152.1h2.4m0.6 0h2.4m0.6 0h2.4m0.6 0h2.4m0.9 0h2.4m0.6 0h2.4m0.9 0h2.4m2.1 0h2.4m0.6 0h2.4m0.6 0h2.4m0.6 0h2.4m11.3 0h2.4m0.6 0h2.4m2 0h2.4m2.2 0h2.4m0.6 0h2.4m12.8 0h2.4m5.9 0h2.4m18.2 0h2.4m0.6 0h2.4m10.6 0h2.4M357.2 157.2h2.4m57.5 0h2.4m0.6 0h2.4m0.6 0h2.4m0.6 0h2.4m0.6 0h2.4m0.6 0h2.4m9.7 0h2.4m19.7 0h2.4m37.6 0h2.4M366.1 162.2h2.4m4.9 0h2.4m0.6 0h2.4m0.6 0h2.4m1.1 0h2.4m3.1 0h2.4m0.6 0h2.4m0.6 0h2.4m0.6 0h2.4m0.6 0h2.4m0.6 0h2.4m2.8 0h2.4m0.6 0h2.4m1.8 0h2.4m0.6 0h2.4m0.6 0h2.4m0.6 0h2.4m0.6 0h2.4m11.5 0h2.4m0.7 0h2.4m0.6 0h2.4m4.5 0h2.4m7.4 0h2.4m21.4 0h2.4M357.2 167.2h2.4m0.6 0h2.4m0.6 0h2.4m7.5 0h2.4m2.2 0h2.4m0.6 0h2.4m3 0h2.4m0.6 0h2.4m0.6 0h2.4m0.6 0h2.4m2.4 0h2.4m0.6 0h2.4m0.6 0h2.4m0.6 0h2.4m0.6 0h2.4m0.6 0h2.4m3.3 0h2.4m0.6 0h2.4m0.6 0h2.4m0.6 0h2.4m5.5 0h2.4m37.6 0h2.4m13 0h2.4M363.8 172.3h2.4m12.4 0h2.4m0.6 0h2.4m0.6 0h2.4m0.6 0h2.4m5.3 0h2.4m0.6 0h2.4m0.6 0h2.4m2.5 0h2.4m0.6 0h2.4m0.6 0h2.4m0.6 0h2.4m0.6 0h2.4m0.7 0h2.4m0.6 0h2.4m2 0h2.4m0.6 0h2.4m0.6 0h2.4m3.7 0h2.4m0.6 0h2.4m5.7 0h2.4m22.8 0h2.4M360.7 177.3h2.4m0.6 0h2.4m5.5 0h2.4m2.9 0h2.4m0.6 0h2.4m4 0h2.4m0.6 0h2.4m0.9 0h2.4m1.8 0h2.4m1.6 0h2.4m2.2 0h2.4m0.6 0h2.4m1.8 0h2.4m0.6 0h2.4m4.6 0h2.4m0.6 0h2.4m0.6 0h2.4m2.1 0h2.4m26.5 0h2.4M366.9 182.3h2.4m0.6 0h2.4m1.4 0h2.4m0.6 0h2.4m1.5 0h2.4m0.6 0h2.4m0.6 0h2.4m7 0h2.4m1.7 0h2.4m11.7 0h2.4m0.6 0h2.4m2.8 0h2.4m0.6 0h2.4m0.6 0h2.4m0.6 0h2.4m0.8 0h2.4m3.4 0h2.4m19.8 0h2.4M383.3 187.4h2.4m0.6 0h2.4m0.6 0h2.4m0.6 0h2.4m0.6 0h2.4m0.6 0h2.4m5.3 0h2.4m0.6 0h2.4m0.6 0h2.4m0.6 0h2.4m1 0h2.4m5.7 0h2.4m0.6 0h2.4m9.2 0h2.4m17.1 0h2.4M357.2 192.4h2.4m9.4 0h2.4m2.2 0h2.4m0.6 0h2.4m0.6 0h2.4m0.6 0h2.4m0.6 0h2.4m0.6 0h2.4m0.6 0h2.4m0.6 0h2.4m2.5 0h2.4m0.6 0h2.4m0.6 0h2.4m0.6 0h2.4m2.4 0h2.4m0.6 0h2.4m1.2 0h2.4m0.6 0h2.4m3.4 0h2.4m4.6 0h2.4m2.7 0h2.4m6.1 0h2.4m0.6 0h2.4m4.6 0h2.4M357.2 197.4h2.4m0.6 0h2.4m13.2 0h2.4m0.6 0h2.4m0.6 0h2.4m2.3 0h2.4m1 0h2.4m0.6 0h2.4m0.6 0h2.4m0.6 0h2.4m1.9 0h2.4m0.6 0h2.4m0.6 0h2.4m0.6 0h2.4m0.6 0h2.4m3.6 0h2.4m0.6 0h2.4m3.1 0h2.4M358 202.5h2.4m20.6 0h2.4m0.6 0h2.4m0.6 0h2.4m0.6 0h2.4m0.6 0h2.4m2.9 0h2.4m1.7 0h2.4m5.4 0h2.4m3.3 0h2.4m0.6 0h2.4m0.6 0h2.4m0.6 0h2.4m1.4 0h2.4m20 0h2.4M358.4 207.5h2.4m0.6 0h2.4m6.7 0h2.4m0.6 0h2.4m0.6 0h2.4m0.6 0h2.4m0.6 0h2.4m4.6 0h2.4m0.6 0h2.4m0.6 0h2.4m0.6 0h2.4m0.6 0h2.4m0.6 0h2.4m1.4 0h2.4m0.8 0h2.4m6.2 0h2.4m0.6 0h2.4m0.6 0h2.4m0.6 0h2.4m8.2 0h2.4m12.8 0h2.4M357.2 212.6h2.4m5.2 0h2.4m0.6 0h2.4m0.6 0h2.4m0.6 0h2.4m0.6 0h2.4m1.5 0h2.4m0.6 0h2.4m0.6 0h2.4m0.6 0h2.4m6 0h2.4m8.9 0h2.4m0.6 0h2.4m1.9 0h2.4m1.5 0h2.4m0.6 0h2.4m0.6 0h2.4m0.6 0h2.4m9.2 0h2.4M357.2 217.6h2.4m6.8 0h2.4m4 0h2.4m0.6 0h2.4m0.6 0h2.4m0.6 0h2.4m1.3 0h2.4m1.6 0h2.4m0.6 0h2.4m0.6 0h2.4m0.6 0h2.4m0.6 0h2.4m0.6 0h2.4m0.6 0h2.4m3.6 0h2.4m2.6 0h2.4m3.3 0h2.4m4.6 0h2.4" stroke="#000" stroke-width="2.8" fill="none"/><path d="M437.8 218.2 454.1 214.4 462.9 201.9 480.4 198.1 490.5 193.1 495.5 178.1 519.3 165.5 520.6 143 544.4 130.4 560.7 125.4 565.7 115.4 572 112.9 575.7 114.1" stroke="#b4b4b4" stroke-width="2" fill="none"/><path d="M356 54V220H577" stroke="#000" stroke-width="2" fill="none"/><text x="627.7" y="18.5">Bat 2</text><text x="627.7" y="46.7">Ball B</text><text x="619.2" y="63.5" text-anchor="end">17</text><path d="M626.9 58.7h1.5M635 58.7h1.5M638.5 58.7h1.5M642 58.7h1.5M644.8 58.7h1.5M648.3 58.7h1.5M654.6 58.7h1.5M659.1 58.7h1.5M661.4 58.7h1.5M665.9 58.7h1.5M668.2 58.7h1.5M670.5 58.7h1.5M672.8 58.7h1.5M675.1 58.7h1.5M679.6 58.7h1.5M681.5 58.7h1.5M683.4 58.7h1.5M687.9 58.7h1.5M754 58.7h1.5M652.2 68.5h1.5M655.7 68.5h1.5M659.2 68.5h1.5M662.7 68.5h1.5M666.2 68.5h1.5M669.7 68.5h1.5M674.2 68.5h1.5M676.1 68.5h1.5M679.6 68.5h1.5M681.9 68.5h1.5M685.4 68.5h1.5M689.9 68.5h1.5M692.7 68.5h1.5M697.2 68.5h1.5M699.5 68.5h1.5M703 68.5h1.5M704.9 68.5h1.5M706.8 68.5h1.5M708.7 68.5h1.5M715.7 68.5h1.5M717.6 68.5h1.5M719.5 68.5h1.5M722.3 68.5h1.5M724.6 68.5h1.5M726.9 68.5h1.5M732.8 68.5h1.5M735.1 68.5h1.5M737.4 68.5h1.5M831.5 68.5h1.5M833.4 68.5h1.5M634.2 78.3h1.5M636.1 78.3h1.5M638.9 78.3h1.5M642.4 78.3h1.5M661.1 78.3h1.5M663 78.3h1.5M667.5 78.3h1.5M669.8 78.3h1.5M672.6 78.3h1.5M674.5 78.3h1.5M679 78.3h1.5M681.8 78.3h1.5M685.3 78.3h1.5M687.2 78.3h1.5M719 78.3h1.5M720.9 78.3h1.5M741 78.3h1.5M745.5 78.3h1.5M756.2 78.3h1.5M758.5 78.3h1.5M760.4 78.3h1.5M804.6 78.3h1.5M637.5 88h1.5M639.8 88h1.5M642.6 88h1.5M647.1 88h1.5M649.9 88h1.5M652.7 88h1.5M657.2 88h1.5M660.7 88h1.5M664.2 88h1.5M668.7 88h1.5M673.2 88h1.5M675.5 88h1.5M679 88h1.5M696.2 88h1.5M698.1 88h1.5M710.8 88h1.5M714.3 88h1.5M717.1 88h1.5M720.6 88h1.5M722.5 88h1.5M727.1 88h1.5M732 88h1.5M733.9 88h1.5M735.8 88h1.5M738.1 88h1.5M741.8 88h1.5M748.3 88h1.5M750.2 88h1.5M756.5 88h1.5M763 88h1.5M772.8 88h1.5M777.3 88h1.5M781.8 88h1.5M797.2 88h1.5M799.1 88h1.5M806.2 88h1.5M816.8 88h1.5M829 88h1.5M831.3 88h1.5M834.1 88h1.5M836 88h1.5M838.3 88h1.5M840.2 88h1.5M842.1 88h1.5M655.4 97.8h1.5M661.9 97.8h1.5M665.4 97.8h1.5M667.3 97.8h1.5M670.8 97.8h1.5M674.3 97.8h1.5M678.8 97.8h1.5M683.3 97.8h1.5M687.8 97.8h1.5M690.1 97.8h1.5M692.9 97.8h1.5M696.4 97.8h1.5M699.9 97.8h1.5M633.4 107.6h1.5M636.9 107.6h1.5M638.8 107.6h1.5M643.3 107.6h1.5M646.8 107.6h1.5M649.1 107.6h1.5M651.9 107.6h1.5M656.4 107.6h1.5M660.9 107.6h1.5M663.7 107.6h1.5M668.2 107.6h1.5M670.1 107.6h1.5M673.6 107.6h1.5M678.1 107.6h1.5M681.6 107.6h1.5M683.9 107.6h1.5M687.4 107.6h1.5M689.3 107.6h1.5M692.8 107.6h1.5M704.3 107.6h1.5M706.6 107.6h1.5M716.5 107.6h1.5M721 107.6h1.5M723.3 107.6h1.5M726.8 107.6h1.5M730.3 107.6h1.5M744.3 107.6h1.5M748.8 107.6h1.5M750.7 107.6h1.5M753 107.6h1.5M755.3 107.6h1.5M758.8 107.6h1.5M761.1 107.6h1.5M769.5 107.6h1.5M634.2 117.4h1.5M637.7 117.4h1.5M640.5 117.4h1.5M643.3 117.4h1.5M646.8 117.4h1.5M648.7 117.4h1.5M651.5 117.4h1.5M654.3 117.4h1.5M657.1 117.4h1.5M661.6 117.4h1.5M664.4 117.4h1.5M666.7 117.4h1.5M669.5 117.4h1.5M671.8 117.4h1.5M676.3 117.4h1.5M678.6 117.4h1.5M683.1 117.4h1.5M685.4 117.4h1.5M689.9 117.4h1.5M694.4 117.4h1.5M697.9 117.4h1.5M700.7 117.4h1.5M702.6 117.4h1.5M706.1 117.4h1.5M714.9 117.4h1.5M718.4 117.4h1.5M731.2 117.4h1.5M735.7 117.4h1.5M737.6 117.4h1.5M745.6 117.4h1.5M798.9 117.4h1.5M639.9 127.2h1.5M644.4 127.2h1.5M646.3 127.2h1.5M668.5 127.2h1.5M670.8 127.2h1.5M672.7 127.2h1.5M676.2 127.2h1.5M678.5 127.2h1.5M683 127.2h1.5M685.3 127.2h1.5M687.6 127.2h1.5M689.9 127.2h1.5M693.4 127.2h1.5M696.2 127.2h1.5M705.1 127.2h1.5M716.5 127.2h1.5M728.8 127.2h1.5M731.6 127.2h1.5M733.9 127.2h1.5M731.7 136.9h1.5M734 136.9h1.5M736.3 136.9h1.5M800.5 136.9h1.5M803.3 136.9h1.5M805.6 136.9h1.5M807.9 136.9h1.5M809.8 136.9h1.5M811.7 136.9h1.5M814 136.9h1.5M818.5 136.9h1.5M822 136.9h1.5M823.9 136.9h1.5M827.4 136.9h1.5M830.9 136.9h1.5M833.7 136.9h1.5M643.7 146.7h1.5M650.9 146.7h1.5M655.4 146.7h1.5M658.2 146.7h1.5M661.7 146.7h1.5M663.6 146.7h1.5M665.5 146.7h1.5M667.4 146.7h1.5M669.3 146.7h1.5M672.1 146.7h1.5M674 146.7h1.5M677.5 146.7h1.5M681 146.7h1.5M685.5 146.7h1.5M687.4 146.7h1.5M690.9 146.7h1.5M692.8 146.7h1.5M695.6 146.7h1.5M697.9 146.7h1.5M699.8 146.7h1.5M701.7 146.7h1.5M703.6 146.7h1.5M708.1 146.7h1.5M710.9 146.7h1.5M714.4 146.7h1.5M716.7 146.7h1.5M748.3 146.7h1.5M750.6 146.7h1.5M786.6 146.7h1.5M789.4 146.7h1.5M793.9 146.7h1.5M795.8 146.7h1.5M797.7 146.7h1.5M799.6 146.7h1.5M814.3 146.7h1.5M816.2 146.7h1.5M820.7 146.7h1.5M824.2 146.7h1.5M827 146.7h1.5M641.6 156.5h1.5M643.9 156.5h1.5M648.4 156.5h1.5M651.9 156.5h1.5M656.4 156.5h1.5M658.3 156.5h1.5M660.2 156.5h1.5M664.7 156.5h1.5M669.2 156.5h1.5M671.5 156.5h1.5M675 156.5h1.5M679.5 156.5h1.5M683 156.5h1.5M686.5 156.5h1.5M691 156.5h1.5M694.5 156.5h1.5M696.4 156.5h1.5M699.9 156.5h1.5M701.8 156.5h1.5M703.7 156.5h1.5M705.6 156.5h1.5M707.5 156.5h1.5M711 156.5h1.5M714.5 156.5h1.5M716.4 156.5h1.5M719.9 156.5h1.5M734.5 156.5h1.5M736.8 156.5h1.5M739.1 156.5h1.5M743.6 156.5h1.5M745.9 156.5h1.5M750.4 156.5h1.5M757.3 156.5h1.5M760.8 156.5h1.5M762.7 156.5h1.5M764.6 156.5h1.5M768.1 156.5h1.5M772.6 156.5h1.5M775.4 156.5h1.5M786.6 156.5h1.5M788.9 156.5h1.5M800.5 156.5h1.5M659.5 166.3h1.5M663 166.3h1.5M665.3 166.3h1.5M668.8 166.3h1.5M673.3 166.3h1.5M676.1 166.3h1.5M678.4 166.3h1.5M688.8 166.3h1.5M691.6 166.3h1.5M694.4 166.3h1.5M698.9 166.3h1.5M716.5 166.3h1.5M719.3 166.3h1.5M731.2 166.3h1.5M733.5 166.3h1.5M744.3 166.3h1.5M748.8 166.3h1.5M753.3 166.3h1.5M756.8 166.3h1.5M761.3 166.3h1.5M655.4 176.1h1.5M658.9 176.1h1.5M660.8 176.1h1.5M672.5 176.1h1.5M674.8 176.1h1.5M677.6 176.1h1.5M679.9 176.1h1.5M683.4 176.1h1.5M687.9 176.1h1.5M690.7 176.1h1.5M692.6 176.1h1.5M708.4 176.1h1.5M716.5 176.1h1.5M780.9 176.1h1.5M644.5 185.8h1.5M658.4 185.8h1.5M661.2 185.8h1.5M663.1 185.8h1.5M666.6 185.8h1.5M671.1 185.8h1.5M673.4 185.8h1.5M677.9 185.8h1.5M680.7 185.8h1.5M683.5 185.8h1.5M687 185.8h1.5M689.3 185.8h1.5M692.1 185.8h1.5M635 195.6h1.5M639.5 195.6h1.5M643 195.6h1.5M656.7 195.6h1.5M659.5 195.6h1.5M662.3 195.6h1.5M665.8 195.6h1.5M670.3 195.6h1.5M674.8 195.6h1.5M679.3 195.6h1.5M682.8 195.6h1.5M684.7 195.6h1.5M686.6 195.6h1.5M691.1 195.6h1.5M695.6 195.6h1.5M706.8 195.6h1.5M709.1 195.6h1.5M711.9 195.6h1.5M716.4 195.6h1.5M719.9 195.6h1.5M722.2 195.6h1.5M726.7 195.6h1.5M730.2 195.6h1.5M733 195.6h1.5M735.8 195.6h1.5M744.3 195.6h1.5M747.8 195.6h1.5M750.6 195.6h1.5M754.1 195.6h1.5M760.6 195.6h1.5M764.1 195.6h1.5M766 195.6h1.5M769.5 195.6h1.5M773 195.6h1.5M775.8 195.6h1.5M777.7 195.6h1.5M780.5 195.6h1.5M784 195.6h1.5M787.5 195.6h1.5M789.4 195.6h1.5M793.9 195.6h1.5M645.6 205.4h1.5M665.2 205.4h1.5M667.5 205.4h1.5M669.8 205.4h1.5M672.1 205.4h1.5M674 205.4h1.5M678.5 205.4h1.5M680.8 205.4h1.5M682.7 205.4h1.5M685 205.4h1.5M688.5 205.4h1.5M691.3 205.4h1.5M703.5 205.4h1.5M705.8 205.4h1.5M709.3 205.4h1.5M713.8 205.4h1.5M715.7 205.4h1.5M728.8 205.4h1.5M733.3 205.4h1.5M736.8 205.4h1.5M739.1 205.4h1.5M741.4 205.4h1.5M758.9 205.4h1.5M761.2 205.4h1.5M763.5 205.4h1.5M766.3 205.4h1.5M780.9 205.4h1.5M784.4 205.4h1.5M786.7 205.4h1.5M788.6 205.4h1.5M790.9 205.4h1.5M662.8 215.2h1.5M665.6 215.2h1.5M667.5 215.2h1.5M670.3 215.2h1.5M673.8 215.2h1.5M676.6 215.2h1.5M680.1 215.2h1.5M682 215.2h1.5M686.5 215.2h1.5M689.3 215.2h1.5M692.8 215.2h1.5M696.3 215.2h1.5M699.1 215.2h1.5M703.6 215.2h1.5M705.9 215.2h1.5M708.7 215.2h1.5M713.2 215.2h1.5M716 215.2h1.5M719.5 215.2h1.5M722.3 215.2h1.5M724.2 215.2h1.5M727.7 215.2h1.5M730.5 215.2h1.5M734 215.2h1.5M736.8 215.2h1.5M739.1 215.2h1.5M743.6 215.2h1.5M745.5 215.2h1.5M747.4 215.2h1.5M750.9 215.2h1.5M753.2 215.2h1.5M757.7 215.2h1.5M762.2 215.2h1.5M764.5 215.2h1.5" stroke="#000" stroke-width="6.4" fill="none"/><path d="M770.3 217.7 794 208.7 803 200.6 804.6 188.7 845.3 188.7" stroke="#b4b4b4" stroke-width="2" fill="none"/><path d="M625 54V220H846" stroke="#000" stroke-width="2" fill="none"/><text x="895.7" y="18.5">Bat 1</text><text x="895.7" y="46.7">Ball A</text><text x="887.2" y="63.5" text-anchor="end">44</text><path d="M895.2 55.2h1.7m9 0h1.7m0.6 0h1.7m4.5 0h1.7m6 0h1.7m0.6 0h1.7m0.6 0h1.7m6.7 0h1.7m7.7 0h1.7m0.8 0h1.7m10.2 0h1.7m6.9 0h1.7m0.6 0h1.7m0.6 0h1.7m0.6 0h1.7m3.1 0h1.7m0.6 0h1.7m0.6 0h1.7m0.6 0h1.7m0.6 0h1.7m0.6 0h1.7m9.7 0h1.7m0.6 0h1.7m0.6 0h1.7m0.6 0h1.7m0.6 0h1.7m0.6 0h1.7m0.6 0h1.7m0.6 0h1.7m18.2 0h1.7m0.6 0h1.7m3.5 0h1.7m2.8 0h1.7m27 0h1.7m3.5 0h1.7m1.8 0h1.7m13.2 0h1.7m3.4 0h1.7M908.2 59h1.7m12.8 0h1.7m3.9 0h1.7m0.6 0h1.7m0.6 0h1.7m6.1 0h1.7m4.5 0h1.7m6.7 0h1.7m1.8 0h1.7m0.6 0h1.7m0.6 0h1.7m2.7 0h1.7m0.6 0h1.7m2.4 0h1.7m18.5 0h1.7m0.6 0h1.7m11.9 0h1.7m0.6 0h1.7m1.3 0h1.7m7.6 0h1.7m15.4 0h1.7m0.6 0h1.7m8 0h1.7m11.6 0h1.7m0.6 0h1.7m0.6 0h1.7m18.8 0h1.7m0.6 0h1.7m6.7 0h1.7M906.6 62.8h1.7m2.7 0h1.7m2.1 0h1.7m0.6 0h1.7m0.6 0h1.7m0.6 0h1.7m2.3 0h1.7m0.6 0h1.7m24.6 0h1.7m14.4 0h1.7m5.7 0h1.7m13 0h1.7m0.6 0h1.7m0.6 0h1.7m1 0h1.7m9.4 0h1.7m0.6 0h1.7m7.2 0h1.7m5.2 0h1.7m16 0h1.7m10.6 0h1.7m1.6 0h1.7m11.4 0h1.7m8.6 0h1.7M896.8 66.6h1.7m24.5 0h1.7m1.7 0h1.7m0.6 0h1.7m7.7 0h1.7m0.6 0h1.7m7.5 0h1.7m0.6 0h1.7m0.6 0h1.7m0.6 0h1.7m0.6 0h1.7m1.1 0h1.7m6.6 0h1.7m0.6 0h1.7m9.8 0h1.7m4 0h1.7m5.9 0h1.7m8.1 0h1.7m1.6 0h1.7m6.9 0h1.7m0.6 0h1.7m14.9 0h1.7m0.6 0h1.7m22.2 0h1.7m0.9 0h1.7m2 0h1.7m0.6 0h1.7m5.6 0h1.7m2.6 0h1.7m6.2 0h1.7m5.1 0h1.7m6.6 0h1.7M935.1 70.4h1.7m0.6 0h1.7m5.7 0h1.7m0.6 0h1.7m0.6 0h1.7m3.2 0h1.7m1.6 0h1.7m0.6 0h1.7m2.1 0h1.7m2.1 0h1.7m1.7 0h1.7m0.6 0h1.7m27.6 0h1.7m0.6 0h1.7m4.5 0h1.7m10.8 0h1.7m6.6 0h1.7m11.5 0h1.7m27.4 0h1.7m0.6 0h1.7m3.3 0h1.7m1.9 0h1.7m8.8 0h1.7m7.2 0h1.7m0.6 0h1.7M897.1 74.2h1.7m9 0h1.7m0.9 0h1.7m3.1 0h1.7m9.6 0h1.7m0.6 0h1.7m9.5 0h1.7m0.6 0h1.7m5.5 0h1.7m3.6 0h1.7m5.2 0h1.7m4.9 0h1.7m0.6 0h1.7m3.1 0h1.7m4.5 0h1.7m4 0h1.7m2.1 0h1.7m0.6 0h1.7m0.7 0h1.7m0.6 0h1.7m2.7 0h1.7m25.2 0h1.7m1.4 0h1.7m1.8 0h1.7m0.6 0h1.7m5.9 0h1.7m0.6 0h1.7m0.6 0h1.7m1.7 0h1.7m4.3 0h1.7m41.4 0h1.7m6.5 0h1.7M894.2 78h1.7m8.9 0h1.7m0.6 0h1.7m1.8 0h1.7m0.6 0h1.7m6.5 0h1.7m0.6 0h1.7m0.6 0h1.7m3 0h1.7m12.5 0h1.7m0.6 0h1.7m6.6 0h1.7m0.6 0h1.7m0.8 0h1.7m4.5 0h1.7m1 0h1.7m2.3 0h1.7m4.2 0h1.7m1.1 0h1.7m17.4 0h1.7m1.9 0h1.7m1 0h1.7m4.2 0h1.7m0.7 0h1.7m3.4 0h1.7m7.4 0h1.7m3.2 0h1.7m21.1 0h1.7m9.1 0h1.7m16.4 0h1.7m0.6 0h1.7m5.8 0h1.7m15.1 0h1.7M988 81.8h1.7m0.6 0h1.7m8.4 0h1.7m1.4 0h1.7m7.8 0h1.7m8 0h1.7m0.6 0h1.7m15 0h1.7m26.3 0h1.7m20.7 0h1.7m3.6 0h1.7M894.2 85.5h1.7m48.4 0h1.7m2.4 0h1.7m1.4 0h1.7m7 0h1.7m4.2 0h1.7m0.9 0h1.7m0.9 0h1.7m0.6 0h1.7m0.6 0h1.7m0.6 0h1.7m0.6 0h1.7m0.7 0h1.7m0.7 0h1.7m2.9 0h1.7m0.6 0h1.7m11.7 0h1.7m2.8 0h1.7m0.6 0h1.7m0.6 0h1.7m1.9 0h1.7m0.6 0h1.7m0.6 0h1.7m2.7 0h1.7m19.2 0h1.7m2.7 0h1.7m6.8 0h1.7m23.6 0h1.7m0.6 0h1.7M908.6 89.3h1.7m9.7 0h1.7m0.6 0h1.7m2.6 0h1.7m3.5 0h1.7m8.5 0h1.7m0.6 0h1.7m0.6 0h1.7m14.1 0h1.7m8.3 0h1.7m5 0h1.7m2 0h1.7m0.7 0h1.7m0.6 0h1.7m5.8 0h1.7m8.6 0h1.7m0.6 0h1.7m5.9 0h1.7m37.4 0h1.7m23.1 0h1.7m0.6 0h1.7m9.4 0h1.7M901.2 93.1h1.7m2.5 0h1.7m2.7 0h1.7m3.3 0h1.7m0.6 0h1.7m0.6 0h1.7m3.3 0h1.7m7.7 0h1.7m6.8 0h1.7m6.5 0h1.7m0.6 0h1.7m15.4 0h1.7m0.6 0h1.7m0.6 0h1.7m7.4 0h1.7m0.6 0h1.7m0.6 0h1.7m3.2 0h1.7m6.8 0h1.7m1.8 0h1.7m0.6 0h1.7m0.6 0h1.7m1.7 0h1.7m14.6 0h1.7m8.8 0h1.7m1.2 0h1.7m1.3 0h1.7m8 0h1.7m23.5 0h1.7m0.6 0h1.7M910 96.9h1.7m0.6 0h1.7m8.5 0h1.7m4 0h1.7m2.2 0h1.7m7.8 0h1.7m1.7 0h1.7m7.4 0h1.7m0.6 0h1.7m0.9 0h1.7m0.6 0h1.7m14 0h1.7m10.7 0h1.7m14.5 0h1.7m1.5 0h1.7m12.8 0h1.7m0.6 0h1.7m1.5 0h1.7m1.6 0h1.7m7.8 0h1.7m7.9 0h1.7m0.6 0h1.7m3.7 0h1.7m10.6 0h1.7m8 0h1.7M902.9 100.7h1.7m0.6 0h1.7m1.3 0h1.7m11.5 0h1.7m0.6 0h1.7m0.6 0h1.7m2.2 0h1.7m0.6 0h1.7m1.3 0h1.7m20.6 0h1.7m1.8 0h1.7m7.3 0h1.7m7.7 0h1.7m0.6 0h1.7m0.6 0h1.7m4.6 0h1.7m19.4 0h1.7m1 0h1.7m9.7 0h1.7m0.6 0h1.7m0.6 0h1.7m0.6 0h1.7m10.6 0h1.7m0.6 0h1.7m0.6 0h1.7m4.7 0h1.7m1 0h1.7M925.3 104.5h1.7m14.7 0h1.7m0.6 0h1.7m0.6 0h1.7m3.2 0h1.7m3.2 0h1.7m1.6 0h1.7m0.6 0h1.7m0.6 0h1.7m0.6 0h1.7m13.7 0h1.7m0.6 0h1.7m3.6 0h1.7m0.6 0h1.7m4.5 0h1.7m0.6 0h1.7m0.6 0h1.7m0.6 0h1.7m0.6 0h1.7m3.9 0h1.7m0.6 0h1.7m3.6 0h1.7m26.3 0h1.7m2.3 0h1.7m1 0h1.7M895.4 108.3h1.7m6.9 0h1.7m7.4 0h1.7m0.6 0h1.7m3.3 0h1.7m0.6 0h1.7m5.2 0h1.7m2.9 0h1.7m2.3 0h1.7m3.5 0h1.7m0.6 0h1.7m2.7 0h1.7m0.6 0h1.7m1.9 0h1.7m10.9 0h1.7m2.6 0h1.7m0.6 0h1.7m0.6 0h1.7m0.6 0h1.7m3.3 0h1.7m10.8 0h1.7m2.3 0h1.7m0.6 0h1.7m0.6 0h1.7m12.5 0h1.7m0.6 0h1.7m0.6 0h1.7M911.6 112.1h1.7m0.6 0h1.7m5.1 0h1.7m9.4 0h1.7m0.6 0h1.7m0.6 0h1.7m5.5 0h1.7m1.9 0h1.7m0.6 0h1.7m0.6 0h1.7m4.1 0h1.7m0.7 0h1.7m3.7 0h1.7m1.4 0h1.7m4.3 0h1.7m15.4 0h1.7m10.1 0h1.7m12.5 0h1.7m2.5 0h1.7m1.8 0h1.7m20.7 0h1.7m0.6 0h1.7m1.6 0h1.7m0.6 0h1.7M907.3 115.9h1.7m0.6 0h1.7m0.6 0h1.7m0.6 0h1.7m22.6 0h1.7m8.9 0h1.7m1.3 0h1.7m20.1 0h1.7m3.8 0h1.7m0.6 0h1.7m0.6 0h1.7m0.6 0h1.7m0.6 0h1.7m13.4 0h1.7m0.6 0h1.7m0.6 0h1.7m0.7 0h1.7m4.3 0h1.7m1.6 0h1.7m0.6 0h1.7m3.5 0h1.7M916.8 119.7h1.7m1.6 0h1.7m3.5 0h1.7m3.7 0h1.7m18 0h1.7m0.6 0h1.7m6.1 0h1.7m0.8 0h1.7m1 0h1.7m0.6 0h1.7m0.6 0h1.7m1 0h1.7m3.6 0h1.7m0.6 0h1.7m8.5 0h1.7m0.6 0h1.7m4.9 0h1.7m0.6 0h1.7m2.3 0h1.7m4.8 0h1.7m2.9 0h1.7m2.5 0h1.7m2.8 0h1.7m0.6 0h1.7m13.9 0h1.7m0.6 0h1.7M909.8 123.5h1.7m3.7 0h1.7m0.6 0h1.7m0.6 0h1.7m0.7 0h1.7m5.9 0h1.7m0.6 0h1.7m5.4 0h1.7m0.6 0h1.7m0.6 0h1.7m18.3 0h1.7m3.3 0h1.7m5.6 0h1.7m6.9 0h1.7m7.4 0h1.7m3.9 0h1.7m1.3 0h1.7m2.3 0h1.7m3.7 0h1.7m2.6 0h1.7m0.6 0h1.7m12.5 0h1.7m0.6 0h1.7m17.8 0h1.7M894.2 127.3h1.7m12.4 0h1.7m1.8 0h1.7m0.6 0h1.7m0.6 0h1.7m0.6 0h1.7m6.9 0h1.7m0.6 0h1.7m0.6 0h1.7m0.6 0h1.7m7.8 0h1.7m0.6 0h1.7m4.3 0h1.7m6.9 0h1.7m0.6 0h1.7m8.5 0h1.7m0.7 0h1.7m1.3 0h1.7m0.6 0h1.7m3.5 0h1.7m1 0h1.7m3 0h1.7m0.6 0h1.7m9.2 0h1.7m1.2 0h1.7m0.6 0h1.7m0.6 0h1.7m0.8 0h1.7M901.9 131.1h1.7m0.6 0h1.7m7.6 0h1.7m0.6 0h1.7m0.6 0h1.7m0.6 0h1.7m0.6 0h1.7m1.5 0h1.7m1.2 0h1.7m4.8 0h1.7m3.5 0h1.7m3.2 0h1.7m2.8 0h1.7m1.2 0h1.7m8.8 0h1.7m0.6 0h1.7m8.4 0h1.7m0.6 0h1.7m0.6 0h1.7m0.6 0h1.7m2.3 0h1.7m2.8 0h1.7m0.6 0h1.7m13.4 0h1.7m7.6 0h1.7m3.8 0h1.7m1.2 0h1.7m9.4 0h1.7M899.4 134.9h1.7m25.1 0h1.7m1.1 0h1.7m1.3 0h1.7m0.6 0h1.7m0.6 0h1.7m0.6 0h1.7m4.6 0h1.7m6.2 0h1.7m12.5 0h1.7m2.4 0h1.7m0.6 0h1.7m6.4 0h1.7m10.2 0h1.7m3.8 0h1.7m2.3 0h1.7m0.6 0h1.7m1.1 0h1.7m5.6 0h1.7m0.6 0h1.7m5.3 0h1.7m3.6 0h1.7m5.2 0h1.7m0.6 0h1.7m9.1 0h1.7M906.2 138.6h1.7m5.6 0h1.7m10.1 0h1.7m3.1 0h1.7m4.9 0h1.7m0.6 0h1.7m1.2 0h1.7m5.3 0h1.7m13.7 0h1.7m9.6 0h1.7m3.9 0h1.7m11.8 0h1.7m26.5 0h1.7m14.1 0h1.7M898.4 142.4h1.7m9.6 0h1.7m0.6 0h1.7m0.6 0h1.7m0.6 0h1.7m0.6 0h1.7m8.8 0h1.7m3.5 0h1.7m0.6 0h1.7m0.6 0h1.7m2.4 0h1.7m12.4 0h1.7m4.5 0h1.7m4 0h1.7m1.3 0h1.7m5.1 0h1.7m2.7 0h1.7m4.6 0h1.7m0.6 0h1.7m6.4 0h1.7m11.2 0h1.7m15.7 0h1.7m2.8 0h1.7M919 146.2h1.7m2.5 0h1.7m0.6 0h1.7m0.6 0h1.7m0.6 0h1.7m4.7 0h1.7m2.4 0h1.7m3.4 0h1.7m7.4 0h1.7m0.6 0h1.7m10.3 0h1.7m2 0h1.7m0.6 0h1.7m0.8 0h1.7m5.6 0h1.7m0.6 0h1.7m6.4 0h1.7m5.8 0h1.7m0.6 0h1.7m6.6 0h1.7m11.5 0h1.7m0.6 0h1.7m10.6 0h1.7M922.1 150h1.7m3 0h1.7m0.6 0h1.7m1.7 0h1.7m0.6 0h1.7m0.6 0h1.7m2.8 0h1.7m8.2 0h1.7m0.6 0h1.7m0.6 0h1.7m8.2 0h1.7m3.5 0h1.7m2.7 0h1.7m1.5 0h1.7m2.5 0h1.7m0.6 0h1.7m2.9 0h1.7m0.6 0h1.7m4.1 0h1.7m0.6 0h1.7m0.6 0h1.7m7.3 0h1.7m0.6 0h1.7m7.4 0h1.7m0.6 0h1.7m4.7 0h1.7m0.6 0h1.7M894.2 153.8h1.7m41.3 0h1.7m0.6 0h1.7m2.2 0h1.7m2.4 0h1.7m7.8 0h1.7m6.9 0h1.7m2.4 0h1.7m3.5 0h1.7m0.6 0h1.7m6.3 0h1.7m0.6 0h1.7m13.8 0h1.7m0.6 0h1.7m2.8 0h1.7m1.3 0h1.7m1.4 0h1.7m3.4 0h1.7m2.4 0h1.7m8.2 0h1.7M894.2 157.6h1.7m39.1 0h1.7m47.6 0h1.7m0.6 0h1.7m4 0h1.7m0.6 0h1.7m1.8 0h1.7m0.6 0h1.7m0.6 0h1.7m8.1 0h1.7m1.8 0h1.7m3.6 0h1.7m8.4 0h1.7M909.6 161.4h1.7m0.6 0h1.7m0.6 0h1.7m0.6 0h1.7m10.4 0h1.7m0.6 0h1.7m0.6 0h1.7m2.2 0h1.7m0.6 0h1.7m2.3 0h1.7m2.6 0h1.7m1.3 0h1.7m0.6 0h1.7m2.3 0h1.7m4.1 0h1.7m16.3 0h1.7m1 0h1.7m3.4 0h1.7m4.7 0h1.7m0.6 0h1.7m4.9 0h1.7m1.3 0h1.7m16.3 0h1.7M895.3 165.2h1.7m26.2 0h1.7m0.6 0h1.7m2.4 0h1.7m0.6 0h1.7m7.3 0h1.7m0.6 0h1.7m8 0h1.7m0.6 0h1.7m0.6 0h1.7m0.6 0h1.7m2.5 0h1.7m0.6 0h1.7m2.6 0h1.7m0.6 0h1.7m9.5 0h1.7m0.6 0h1.7m1.6 0h1.7m0.6 0h1.7m10.9 0h1.7m0.6 0h1.7m11.8 0h1.7m6.4 0h1.7M935.2 169h1.7m2.1 0h1.7m0.6 0h1.7m9.3 0h1.7m11.2 0h1.7m1.8 0h1.7m0.6 0h1.7m8.2 0h1.7m0.6 0h1.7m0.6 0h1.7m0.6 0h1.7m0.9 0h1.7m4.9 0h1.7m5.9 0h1.7m10.1 0h1.7m0.6 0h1.7m4.9 0h1.7m0.9 0h1.7M910.1 172.8h1.7m5.5 0h1.7m1.4 0h1.7m2.1 0h1.7m1.6 0h1.7m1 0h1.7m8.7 0h1.7m0.6 0h1.7m0.6 0h1.7m0.6 0h1.7m0.6 0h1.7m2.6 0h1.7m2.7 0h1.7m2.9 0h1.7m5.1 0h1.7m7.6 0h1.7m9.2 0h1.7m5.2 0h1.7m18.5 0h1.7m0.6 0h1.7M894.2 176.6h1.7m14.3 0h1.7m4.2 0h1.7m17.7 0h1.7m2.7 0h1.7m39.5 0h1.7m0.6 0h1.7m0.6 0h1.7m26 0h1.7M945.2 180.4h1.7m10.7 0h1.7m0.6 0h1.7m0.6 0h1.7m2 0h1.7m5.1 0h1.7m2.3 0h1.7m0.6 0h1.7m0.6 0h1.7m2.7 0h1.7m0.6 0h1.7m7 0h1.7m5.3 0h1.7m0.6 0h1.7m0.7 0h1.7M914.2 184.2h1.7m0.6 0h1.7m3.3 0h1.7m0.6 0h1.7m5.1 0h1.7m0.6 0h1.7m0.6 0h1.7m0.6 0h1.7m2.9 0h1.7m3.5 0h1.7m4 0h1.7m2.5 0h1.7m0.6 0h1.7m0.6 0h1.7m3.7 0h1.7m19.6 0h1.7m8.3 0h1.7m0.6 0h1.7M922 188h1.7m3.3 0h1.7m0.6 0h1.7m0.6 0h1.7m1.2 0h1.7m0.6 0h1.7m14.8 0h1.7m1.3 0h1.7m2 0h1.7m2.4 0h1.7m3.8 0h1.7m4.1 0h1.7m9.9 0h1.7m0.6 0h1.7m0.6 0h1.7m1.8 0h1.7m0.6 0h1.7m1.4 0h1.7m0.6 0h1.7m0.6 0h1.7M894.2 191.7h1.7m49.9 0h1.7m0.6 0h1.7m0.6 0h1.7m6.3 0h1.7m3.4 0h1.7m0.6 0h1.7m14.4 0h1.7m0.6 0h1.7m4.7 0h1.7m0.6 0h1.7M900.1 195.5h1.7m4.9 0h1.7m17.3 0h1.7m0.6 0h1.7m0.6 0h1.7m5.7 0h1.7m0.8 0h1.7m0.6 0h1.7m0.6 0h1.7m11.1 0h1.7m8.3 0h1.7m0.6 0h1.7M907.3 199.3h1.7m0.7 0h1.7m13.2 0h1.7m0.8 0h1.7m17.6 0h1.7m8.1 0h1.7m3.3 0h1.7m17 0h1.7m3.4 0h1.7m3.9 0h1.7m1.1 0h1.7M933.7 203.1h1.7m7.8 0h1.7m1.7 0h1.7m2.4 0h1.7m1.9 0h1.7m12.4 0h1.7m10.3 0h1.7m2.9 0h1.7m3.8 0h1.7m3 0h1.7M906 206.9h1.7m2.6 0h1.7m0.6 0h1.7m2.7 0h1.7m0.6 0h1.7m0.6 0h1.7m0.6 0h1.7m0.6 0h1.7m5.4 0h1.7m5.9 0h1.7m1.6 0h1.7m2 0h1.7m13.4 0h1.7m1.1 0h1.7m0.6 0h1.7m0.6 0h1.7m0.6 0h1.7m5 0h1.7M908.5 210.7h1.7m0.6 0h1.7m0.6 0h1.7m9.9 0h1.7m0.8 0h1.7m1.1 0h1.7m0.6 0h1.7m4.6 0h1.7m3.5 0h1.7m3.8 0h1.7m9.5 0h1.7m0.6 0h1.7m0.6 0h1.7m0.6 0h1.7m1.5 0h1.7m0.6 0h1.7m0.6 0h1.7m5.3 0h1.7M895.2 214.5h1.7m39.8 0h1.7m1.4 0h1.7m2.4 0h1.7m2.7 0h1.7m0.6 0h1.7m1.3 0h1.7m2.8 0h1.7m2.7 0h1.7m0.6 0h1.7M902.6 218.3h1.7m0.6 0h1.7m8.4 0h1.7m6 0h1.7m9.5 0h1.7m0.6 0h1.7m9.4 0h1.7m1.8 0h1.7m0.6 0h1.7m0.6 0h1.7m4.6 0h1.7m3.9 0h1.7m0.6 0h1.7" stroke="#000" stroke-width="1.8" fill="none"/><path d="M975.1 215 995.4 206.5 1005.6 189.6 1015.7 176 1025.9 172.6 1036 162.5 1039.4 150.6 1049.6 142.2 1056.3 133.7 1059.7 115.1 1069.9 104.9 1080 98.2 1090.2 93.1 1100.3 84.6 1113.9 79.6" stroke="#b4b4b4" stroke-width="2" fill="none"/><path d="M893 54V220H1114" stroke="#000" stroke-width="2" fill="none"/><text x="1164.7" y="18.5">Bat 3</text><text x="1164.7" y="46.7">Ball B</text><text x="1156.2" y="63.5" text-anchor="end">42</text><path d="M1165.5 55.2h1.7m5.2 0h1.7m11 0h1.7m8.1 0h1.7m15.2 0h1.7m0.6 0h1.7m0.6 0h1.7m0.7 0h1.7m0.6 0h1.7m3.3 0h1.7m6.6 0h1.7m1.7 0h1.7m0.6 0h1.7m0.6 0h1.7m0.6 0h1.7m0.6 0h1.7m0.6 0h1.7m0.6 0h1.7m0.6 0h1.7m2.4 0h1.7m4.4 0h1.7m0.6 0h1.7m0.8 0h1.7m3.6 0h1.7m0.6 0h1.7m0.6 0h1.7m0.6 0h1.7m4.6 0h1.7m0.6 0h1.7m1.9 0h1.7m0.6 0h1.7m0.6 0h1.7m3 0h1.7m0.6 0h1.7m0.6 0h1.7m4.2 0h1.7m0.6 0h1.7m0.6 0h1.7m0.6 0h1.7m3.7 0h1.7m1 0h1.7m7.9 0h1.7m4.2 0h1.7m0.6 0h1.7m0.6 0h1.7m2.4 0h1.7m1.9 0h1.7m0.6 0h1.7m2.9 0h1.7m5.1 0h1.7m5.2 0h1.7m2.4 0h1.7M1164.2 59.2h1.7m37.4 0h1.7m0.6 0h1.7m0.6 0h1.7m1.7 0h1.7m0.6 0h1.7m0.6 0h1.7m0.6 0h1.7m0.6 0h1.7m5.7 0h1.7m2.4 0h1.7m0.6 0h1.7m1.3 0h1.7m2.8 0h1.7m0.6 0h1.7m0.6 0h1.7m0.6 0h1.7m1.5 0h1.7m2.9 0h1.7m0.6 0h1.7m0.6 0h1.7m0.6 0h1.7m0.6 0h1.7m0.7 0h1.7m2.5 0h1.7m0.6 0h1.7m2.4 0h1.7m0.6 0h1.7m0.6 0h1.7m0.6 0h1.7m5.7 0h1.7m0.6 0h1.7m0.6 0h1.7m0.6 0h1.7m0.6 0h1.7m0.6 0h1.7m2.1 0h1.7m0.6 0h1.7m0.6 0h1.7m0.6 0h1.7m0.6 0h1.7m2.3 0h1.7m0.6 0h1.7m1 0h1.7m0.6 0h1.7m11 0h1.7m1 0h1.7m11.3 0h1.7m0.6 0h1.7m0.6 0h1.7m8 0h1.7m5.9 0h1.7m0.6 0h1.7M1186.6 63.2h1.7m1.3 0h1.7m13.8 0h1.7m0.6 0h1.7m1.8 0h1.7m0.6 0h1.7m0.6 0h1.7m0.6 0h1.7m0.6 0h1.7m0.6 0h1.7m0.6 0h1.7m0.6 0h1.7m3.4 0h1.7m0.6 0h1.7m0.6 0h1.7m0.6 0h1.7m3.3 0h1.7m0.6 0h1.7m4.7 0h1.7m0.6 0h1.7m0.6 0h1.7m5.7 0h1.7m4.5 0h1.7m0.6 0h1.7m0.6 0h1.7m1.7 0h1.7m4.8 0h1.7m0.6 0h1.7m0.6 0h1.7m0.6 0h1.7m0.6 0h1.7m0.6 0h1.7m14.5 0h1.7m0.6 0h1.7m3.5 0h1.7m1.5 0h1.7m6.9 0h1.7m4.6 0h1.7m0.6 0h1.7m0.6 0h1.7m1.4 0h1.7m0.6 0h1.7m2.8 0h1.7m2.4 0h1.7m0.7 0h1.7m0.6 0h1.7m0.6 0h1.7m1.2 0h1.7m3 0h1.7M1175.5 67.1h1.7m20.5 0h1.7m20 0h1.7m0.6 0h1.7m0.6 0h1.7m0.6 0h1.7m0.6 0h1.7m1.4 0h1.7m1.2 0h1.7m0.6 0h1.7m0.6 0h1.7m0.6 0h1.7m0.6 0h1.7m0.6 0h1.7m0.6 0h1.7m8.1 0h1.7m0.6 0h1.7m1.3 0h1.7m6.5 0h1.7m7 0h1.7m1.1 0h1.7m0.6 0h1.7m0.6 0h1.7m0.6 0h1.7m0.6 0h1.7m0.6 0h1.7m0.6 0h1.7m0.6 0h1.7m0.6 0h1.7m0.6 0h1.7m0.6 0h1.7m0.6 0h1.7m0.8 0h1.7m3.2 0h1.7m0.6 0h1.7m0.6 0h1.7m2.3 0h1.7m2.6 0h1.7m5.3 0h1.7m14.9 0h1.7m0.6 0h1.7m0.6 0h1.7m4.3 0h1.7m0.6 0h1.7m2.2 0h1.7m2.7 0h1.7m0.6 0h1.7m2.3 0h1.7M1188.5 71.1h1.7m15.3 0h1.7m0.6 0h1.7m0.6 0h1.7m7.2 0h1.7m6.1 0h1.7m0.6 0h1.7m0.6 0h1.7m0.6 0h1.7m0.6 0h1.7m2 0h1.7m1 0h1.7m2.5 0h1.7m0.6 0h1.7m0.6 0h1.7m0.6 0h1.7m0.6 0h1.7m0.6 0h1.7m0.6 0h1.7m0.6 0h1.7m2.9 0h1.7m4.2 0h1.7m1.1 0h1.7m0.6 0h1.7m6.6 0h1.7m0.6 0h1.7m0.6 0h1.7m0.6 0h1.7m0.6 0h1.7m0.6 0h1.7m0.6 0h1.7m0.6 0h1.7m0.6 0h1.7m1.9 0h1.7m0.6 0h1.7m5.7 0h1.7m0.6 0h1.7m0.6 0h1.7m5.6 0h1.7m6.3 0h1.7m4.3 0h1.7m8.7 0h1.7m0.6 0h1.7m4.9 0h1.7m15.3 0h1.7M1163.2 75.1h1.7m125.1 0h1.7m1.4 0h1.7m2.9 0h1.7m2.2 0h1.7m2.3 0h1.7m2.6 0h1.7m0.6 0h1.7m0.6 0h1.7m3.3 0h1.7m0.6 0h1.7m1.3 0h1.7m0.6 0h1.7m1.6 0h1.7m1.1 0h1.7m29.5 0h1.7m2.9 0h1.7m1.9 0h1.7m0.6 0h1.7m0.6 0h1.7m2 0h1.7M1265.8 79.1h1.7m0.6 0h1.7m0.6 0h1.7m0.6 0h1.7m2.7 0h1.7m0.7 0h1.7m0.6 0h1.7m0.9 0h1.7m0.6 0h1.7m1 0h1.7m0.6 0h1.7m0.6 0h1.7m0.6 0h1.7m0.6 0h1.7m0.6 0h1.7m0.6 0h1.7m0.6 0h1.7m1.3 0h1.7m0.6 0h1.7m0.6 0h1.7m2.7 0h1.7m0.6 0h1.7m0.6 0h1.7m4.3 0h1.7m0.6 0h1.7m0.6 0h1.7m4.1 0h1.7m3 0h1.7m0.6 0h1.7m9.7 0h1.7m1.9 0h1.7m0.6 0h1.7m0.6 0h1.7m8.9 0h1.7m4.5 0h1.7M1172.1 83h1.7m3.4 0h1.7m68.6 0h1.7m0.6 0h1.7m0.6 0h1.7m0.6 0h1.7m0.6 0h1.7m2.6 0h1.7m0.6 0h1.7m0.6 0h1.7m1.1 0h1.7m0.6 0h1.7m1.7 0h1.7m0.6 0h1.7m0.6 0h1.7m0.6 0h1.7m0.6 0h1.7m4.2 0h1.7m0.6 0h1.7m1.6 0h1.7m2.1 0h1.7m0.6 0h1.7m0.6 0h1.7m0.6 0h1.7m2.3 0h1.7m4.3 0h1.7m3.9 0h1.7m0.6 0h1.7m5.2 0h1.7m0.6 0h1.7m0.6 0h1.7m0.8 0h1.7m6.7 0h1.7m5.3 0h1.7m1.7 0h1.7m0.6 0h1.7m0.6 0h1.7m2.7 0h1.7m0.9 0h1.7m2 0h1.7m0.7 0h1.7M1195.8 87h1.7m3.2 0h1.7m20.3 0h1.7m2.9 0h1.7m0.6 0h1.7m1.4 0h1.7m0.6 0h1.7m0.6 0h1.7m0.6 0h1.7m0.6 0h1.7m1.6 0h1.7m0.6 0h1.7m0.6 0h1.7m0.6 0h1.7m1.1 0h1.7m0.6 0h1.7m0.6 0h1.7m0.6 0h1.7m1.4 0h1.7m1.3 0h1.7m1.9 0h1.7m0.6 0h1.7m2.3 0h1.7m0.6 0h1.7m0.6 0h1.7m0.6 0h1.7m1.2 0h1.7m0.6 0h1.7m0.6 0h1.7m0.6 0h1.7m0.6 0h1.7m0.6 0h1.7m0.6 0h1.7m0.6 0h1.7m0.6 0h1.7m0.6 0h1.7m0.6 0h1.7m0.6 0h1.7m0.6 0h1.7m0.6 0h1.7m0.6 0h1.7m0.6 0h1.7m0.6 0h1.7m0.6 0h1.7m3.7 0h1.7m8.1 0h1.7m0.6 0h1.7m0.6 0h1.7m8.9 0h1.7m0.6 0h1.7m0.6 0h1.7m15.5 0h1.7M1238.5 91h1.7m0.6 0h1.7m0.6 0h1.7m3.7 0h1.7m0.6 0h1.7m0.6 0h1.7m0.6 0h1.7m3 0h1.7m0.6 0h1.7m0.6 0h1.7m2.3 0h1.7m0.8 0h1.7m2.2 0h1.7m2.5 0h1.7m1.8 0h1.7m0.6 0h1.7m0.7 0h1.7m0.6 0h1.7m0.6 0h1.7m3.9 0h1.7m0.6 0h1.7m0.6 0h1.7m0.6 0h1.7m0.6 0h1.7m0.6 0h1.7m0.6 0h1.7m0.6 0h1.7m0.6 0h1.7m0.6 0h1.7m2.1 0h1.7m1.3 0h1.7m1.9 0h1.7m5.2 0h1.7m0.6 0h1.7m3.3 0h1.7m0.6 0h1.7m1.4 0h1.7m0.6 0h1.7m0.6 0h1.7m0.9 0h1.7m6.5 0h1.7m0.6 0h1.7m1.3 0h1.7m0.6 0h1.7m1.6 0h1.7M1175.9 95h1.7m26.3 0h1.7m3.8 0h1.7m2.4 0h1.7m0.6 0h1.7m0.6 0h1.7m0.6 0h1.7m0.8 0h1.7m2 0h1.7m0.6 0h1.7m0.6 0h1.7m4.3 0h1.7m0.6 0h1.7m5.3 0h1.7m0.6 0h1.7m1.2 0h1.7m0.6 0h1.7m1.5 0h1.7m0.6 0h1.7m0.6 0h1.7m0.6 0h1.7m2.7 0h1.7m0.8 0h1.7m0.6 0h1.7m0.6 0h1.7m0.6 0h1.7m1.6 0h1.7m8.5 0h1.7m0.6 0h1.7m0.6 0h1.7m5.1 0h1.7m0.6 0h1.7m0.6 0h1.7m0.6 0h1.7m9.8 0h1.7m0.6 0h1.7m8.2 0h1.7m3.5 0h1.7m1.6 0h1.7m9.8 0h1.7m17.8 0h1.7m0.7 0h1.7m0.6 0h1.7m0.6 0h1.7M1208.2 99h1.7m5.1 0h1.7m0.6 0h1.7m2.3 0h1.7m0.6 0h1.7m1.1 0h1.7m0.6 0h1.7m0.6 0h1.7m0.6 0h1.7m0.6 0h1.7m0.6 0h1.7m0.6 0h1.7m0.6 0h1.7m0.6 0h1.7m0.6 0h1.7m1.4 0h1.7m0.7 0h1.7m0.6 0h1.7m0.6 0h1.7m0.6 0h1.7m0.6 0h1.7m0.6 0h1.7m2.2 0h1.7m0.6 0h1.7m0.6 0h1.7m0.6 0h1.7m0.8 0h1.7m0.7 0h1.7m0.6 0h1.7m0.6 0h1.7m2.5 0h1.7m0.7 0h1.7m0.6 0h1.7m0.6 0h1.7m0.6 0h1.7m0.6 0h1.7m0.6 0h1.7m2.7 0h1.7m0.6 0h1.7m3.1 0h1.7m2.5 0h1.7m0.6 0h1.7m0.6 0h1.7m3.4 0h1.7m13 0h1.7m4.5 0h1.7m0.6 0h1.7m2.1 0h1.7m1.1 0h1.7m1.1 0h1.7m4.1 0h1.7m3.1 0h1.7m0.6 0h1.7m0.6 0h1.7m3.1 0h1.7M1167.4 102.9h1.7m3.3 0h1.7m12.6 0h1.7m0.6 0h1.7m3.8 0h1.7m0.6 0h1.7m0.6 0h1.7m12.8 0h1.7m0.6 0h1.7m1.1 0h1.7m1 0h1.7m0.6 0h1.7m1.9 0h1.7m0.6 0h1.7m2.2 0h1.7m0.8 0h1.7m0.6 0h1.7m0.6 0h1.7m0.6 0h1.7m7.9 0h1.7m0.6 0h1.7m0.6 0h1.7m0.6 0h1.7m0.6 0h1.7m0.6 0h1.7m0.6 0h1.7m0.6 0h1.7m0.6 0h1.7m0.6 0h1.7m0.6 0h1.7m2.7 0h1.7m0.6 0h1.7m0.6 0h1.7m0.6 0h1.7m0.6 0h1.7m0.6 0h1.7m7.2 0h1.7m0.9 0h1.7m1.9 0h1.7m0.6 0h1.7m0.6 0h1.7m0.6 0h1.7m1.4 0h1.7m0.6 0h1.7m8.9 0h1.7m1.3 0h1.7m0.6 0h1.7m14.1 0h1.7m2.6 0h1.7m4.5 0h1.7m1.1 0h1.7m0.6 0h1.7m0.6 0h1.7m4.4 0h1.7m0.6 0h1.7m0.6 0h1.7M1172.5 106.9h1.7m40.6 0h1.7m0.6 0h1.7m1.1 0h1.7m0.6 0h1.7m0.6 0h1.7m5.9 0h1.7m0.6 0h1.7m1.3 0h1.7m0.6 0h1.7m0.6 0h1.7m5.2 0h1.7m0.6 0h1.7m0.6 0h1.7m0.6 0h1.7m0.6 0h1.7m2.5 0h1.7m1.6 0h1.7m0.6 0h1.7m0.6 0h1.7m0.6 0h1.7m0.6 0h1.7m1.5 0h1.7m0.6 0h1.7m0.6 0h1.7m2.6 0h1.7m0.6 0h1.7m0.6 0h1.7m0.6 0h1.7m1.2 0h1.7m0.6 0h1.7m3.4 0h1.7m2.3 0h1.7m0.6 0h1.7m0.6 0h1.7m0.6 0h1.7m0.6 0h1.7m1.3 0h1.7m1.5 0h1.7m0.6 0h1.7m0.6 0h1.7m11.6 0h1.7m6 0h1.7m1.3 0h1.7m3.6 0h1.7m8.1 0h1.7m5 0h1.7m0.6 0h1.7M1166.4 110.9h1.7m52.2 0h1.7m1.3 0h1.7m2.3 0h1.7m1.1 0h1.7m0.6 0h1.7m0.6 0h1.7m0.6 0h1.7m0.6 0h1.7m0.6 0h1.7m3.8 0h1.7m0.6 0h1.7m0.6 0h1.7m0.6 0h1.7m0.6 0h1.7m0.6 0h1.7m0.6 0h1.7m2.4 0h1.7m0.6 0h1.7m3.6 0h1.7m0.6 0h1.7m0.6 0h1.7m0.6 0h1.7m0.6 0h1.7m4 0h1.7m0.6 0h1.7m0.6 0h1.7m0.6 0h1.7m3.9 0h1.7m0.6 0h1.7m1.7 0h1.7m0.6 0h1.7m4.1 0h1.7m0.6 0h1.7m4.2 0h1.7m0.6 0h1.7m7.4 0h1.7m1 0h1.7m0.6 0h1.7m13.7 0h1.7m0.6 0h1.7m0.6 0h1.7m0.6 0h1.7m5.7 0h1.7m2.9 0h1.7m2.8 0h1.7m0.6 0h1.7m0.6 0h1.7M1178.5 114.9h1.7m0.6 0h1.7m2.3 0h1.7m0.6 0h1.7m0.6 0h1.7m3.2 0h1.7m4.5 0h1.7m40.9 0h1.7m1.2 0h1.7m4.4 0h1.7m0.8 0h1.7m0.6 0h1.7m0.6 0h1.7m0.6 0h1.7m3.3 0h1.7m0.6 0h1.7m1 0h1.7m0.6 0h1.7m0.6 0h1.7m0.6 0h1.7m0.6 0h1.7m0.6 0h1.7m0.6 0h1.7m0.6 0h1.7m0.6 0h1.7m0.6 0h1.7m0.6 0h1.7m6.7 0h1.7m0.6 0h1.7m0.6 0h1.7m0.6 0h1.7m0.6 0h1.7m0.6 0h1.7m0.8 0h1.7m0.6 0h1.7m2.5 0h1.7m2.5 0h1.7m22.6 0h1.7m0.6 0h1.7M1218.8 118.8h1.7m0.6 0h1.7m3.3 0h1.7m0.6 0h1.7m0.8 0h1.7m2.1 0h1.7m0.6 0h1.7m2.9 0h1.7m0.6 0h1.7m1.4 0h1.7m0.6 0h1.7m0.6 0h1.7m1.4 0h1.7m0.6 0h1.7m0.6 0h1.7m0.6 0h1.7m0.9 0h1.7m2.2 0h1.7m5.5 0h1.7m0.6 0h1.7m2.2 0h1.7m7.5 0h1.7m0.6 0h1.7m0.6 0h1.7m0.6 0h1.7m0.6 0h1.7m0.6 0h1.7m0.6 0h1.7m0.6 0h1.7m0.6 0h1.7m0.6 0h1.7m0.6 0h1.7m0.6 0h1.7m0.6 0h1.7m2.1 0h1.7m1 0h1.7m0.6 0h1.7m12.6 0h1.7m14.9 0h1.7m2.5 0h1.7m12 0h1.7M1205.9 122.8h1.7m2.7 0h1.7m0.6 0h1.7m0.6 0h1.7m0.6 0h1.7m0.6 0h1.7m0.6 0h1.7m5.6 0h1.7m0.6 0h1.7m3.5 0h1.7m0.6 0h1.7m0.6 0h1.7m2.5 0h1.7m0.6 0h1.7m0.6 0h1.7m0.6 0h1.7m0.6 0h1.7m0.6 0h1.7m0.6 0h1.7m0.6 0h1.7m0.6 0h1.7m0.6 0h1.7m1.7 0h1.7m0.6 0h1.7m0.6 0h1.7m1.4 0h1.7m1.2 0h1.7m0.6 0h1.7m0.6 0h1.7m0.6 0h1.7m1.1 0h1.7m3.7 0h1.7m0.9 0h1.7m2.9 0h1.7m1.8 0h1.7m0.6 0h1.7m1.9 0h1.7m0.6 0h1.7m0.6 0h1.7m1.2 0h1.7m3.1 0h1.7m13.1 0h1.7m2 0h1.7m3.9 0h1.7m0.6 0h1.7m0.6 0h1.7m6.3 0h1.7m0.6 0h1.7M1194.1 126.8h1.7m10.9 0h1.7m0.6 0h1.7m0.6 0h1.7m0.6 0h1.7m0.6 0h1.7m0.6 0h1.7m2.7 0h1.7m0.6 0h1.7m0.6 0h1.7m4.7 0h1.7m0.6 0h1.7m2.3 0h1.7m1 0h1.7m0.6 0h1.7m8.1 0h1.7m0.6 0h1.7m0.6 0h1.7m0.6 0h1.7m0.6 0h1.7m3.3 0h1.7m0.6 0h1.7m0.6 0h1.7m0.6 0h1.7m1.3 0h1.7m0.6 0h1.7m0.6 0h1.7m0.6 0h1.7m0.6 0h1.7m0.6 0h1.7m0.6 0h1.7m0.6 0h1.7m3.1 0h1.7m0.6 0h1.7m1.7 0h1.7m0.6 0h1.7m0.6 0h1.7m0.6 0h1.7m2.4 0h1.7m0.6 0h1.7m2.3 0h1.7m1.4 0h1.7m0.6 0h1.7m10.1 0h1.7m4.1 0h1.7m5.7 0h1.7m5.2 0h1.7m3 0h1.7m0.6 0h1.7M1168.9 130.8h1.7m64 0h1.7m0.6 0h1.7m0.6 0h1.7m0.6 0h1.7m2 0h1.7m0.6 0h1.7m0.6 0h1.7m0.6 0h1.7m0.6 0h1.7m0.6 0h1.7m0.6 0h1.7m1.5 0h1.7m0.6 0h1.7m1.8 0h1.7m0.9 0h1.7m1.4 0h1.7m0.6 0h1.7m0.6 0h1.7m0.6 0h1.7m0.6 0h1.7m0.6 0h1.7m0.6 0h1.7m6.4 0h1.7m0.6 0h1.7m0.6 0h1.7m0.6 0h1.7m0.6 0h1.7m0.6 0h1.7m1.3 0h1.7m0.6 0h1.7m0.6 0h1.7m0.6 0h1.7m2.1 0h1.7m3.1 0h1.7m6.5 0h1.7m0.6 0h1.7m11.4 0h1.7m7.3 0h1.7m0.6 0h1.7M1174.3 134.8h1.7m18.1 0h1.7m8.1 0h1.7m3.1 0h1.7m0.6 0h1.7m3.1 0h1.7m0.8 0h1.7m2.3 0h1.7m0.6 0h1.7m0.6 0h1.7m4.2 0h1.7m5.7 0h1.7m0.6 0h1.7m0.6 0h1.7m2.4 0h1.7m0.6 0h1.7m0.6 0h1.7m0.6 0h1.7m0.6 0h1.7m1.3 0h1.7m0.6 0h1.7m0.6 0h1.7m0.6 0h1.7m0.6 0h1.7m0.6 0h1.7m1.6 0h1.7m0.6 0h1.7m0.6 0h1.7m0.6 0h1.7m0.6 0h1.7m0.6 0h1.7m0.6 0h1.7m0.6 0h1.7m0.6 0h1.7m1.2 0h1.7m0.6 0h1.7m2.5 0h1.7m0.6 0h1.7m0.6 0h1.7m6.7 0h1.7m0.6 0h1.7m0.6 0h1.7m0.8 0h1.7m0.7 0h1.7m1.2 0h1.7m0.6 0h1.7m5 0h1.7m3.4 0h1.7m2.4 0h1.7m0.6 0h1.7M1195.7 138.7h1.7m26 0h1.7m1.7 0h1.7m4.5 0h1.7m0.7 0h1.7m0.7 0h1.7m2.6 0h1.7m0.6 0h1.7m1.1 0h1.7m0.6 0h1.7m0.6 0h1.7m0.6 0h1.7m0.6 0h1.7m0.6 0h1.7m2.2 0h1.7m0.6 0h1.7m0.6 0h1.7m2.2 0h1.7m1.9 0h1.7m0.6 0h1.7m2.5 0h1.7m2.1 0h1.7m0.6 0h1.7m0.6 0h1.7m5.3 0h1.7m0.6 0h1.7m1.8 0h1.7m0.6 0h1.7m2.1 0h1.7m2 0h1.7m2.8 0h1.7m0.6 0h1.7m0.6 0h1.7m0.6 0h1.7m0.6 0h1.7m12.2 0h1.7m12.7 0h1.7M1350.2 142.7h1.7m0.6 0h1.7M1188.2 146.7h1.7m1.6 0h1.7m6.7 0h1.7m4 0h1.7m1 0h1.7m0.6 0h1.7m0.6 0h1.7m0.6 0h1.7m0.9 0h1.7m0.6 0h1.7m0.8 0h1.7m0.6 0h1.7m0.6 0h1.7m0.6 0h1.7m0.6 0h1.7m0.6 0h1.7m0.6 0h1.7m4.3 0h1.7m0.6 0h1.7m2.9 0h1.7m4.5 0h1.7m0.6 0h1.7m0.6 0h1.7m0.6 0h1.7m2.5 0h1.7m2.4 0h1.7m1 0h1.7m0.6 0h1.7m0.6 0h1.7m0.6 0h1.7m0.6 0h1.7m0.6 0h1.7m1.6 0h1.7m2.7 0h1.7m3.9 0h1.7m0.6 0h1.7m0.6 0h1.7m0.8 0h1.7m2.7 0h1.7m1.9 0h1.7m0.6 0h1.7m0.6 0h1.7m5.8 0h1.7m0.6 0h1.7m0.6 0h1.7m7.6 0h1.7m0.6 0h1.7m0.8 0h1.7m0.6 0h1.7M1192.4 150.7h1.7m0.7 0h1.7m0.6 0h1.7m0.6 0h1.7m2.9 0h1.7m0.6 0h1.7m3.5 0h1.7m1.1 0h1.7m0.6 0h1.7m7.4 0h1.7m0.6 0h1.7m0.6 0h1.7m0.7 0h1.7m0.6 0h1.7m0.6 0h1.7m2.5 0h1.7m2.7 0h1.7m0.6 0h1.7m3.5 0h1.7m0.6 0h1.7m0.6 0h1.7m0.6 0h1.7m0.6 0h1.7m3.9 0h1.7m0.6 0h1.7m0.6 0h1.7m0.6 0h1.7m1.7 0h1.7m2.2 0h1.7m0.7 0h1.7m0.6 0h1.7m3.7 0h1.7m1.5 0h1.7m2.8 0h1.7m0.6 0h1.7m0.6 0h1.7m0.6 0h1.7m0.6 0h1.7m1.8 0h1.7m0.6 0h1.7m0.6 0h1.7m4.1 0h1.7m3.7 0h1.7m4.7 0h1.7m0.6 0h1.7M1287.2 154.7h1.7m2.6 0h1.7m0.6 0h1.7m0.6 0h1.7m0.6 0h1.7m0.6 0h1.7m0.6 0h1.7m0.6 0h1.7m0.6 0h1.7m0.6 0h1.7m0.6 0h1.7m0.6 0h1.7m0.6 0h1.7m0.6 0h1.7m2.8 0h1.7m4.7 0h1.7m3.5 0h1.7m0.6 0h1.7M1182.2 158.6h1.7m2.9 0h1.7m0.6 0h1.7m3.8 0h1.7m0.6 0h1.7m9.4 0h1.7m0.6 0h1.7m1.7 0h1.7m0.6 0h1.7m0.6 0h1.7m0.6 0h1.7m0.6 0h1.7m0.6 0h1.7m1.7 0h1.7m0.6 0h1.7m0.6 0h1.7m0.6 0h1.7m0.6 0h1.7m0.6 0h1.7m0.6 0h1.7m0.6 0h1.7m0.6 0h1.7m2.3 0h1.7m5.3 0h1.7m0.6 0h1.7m0.6 0h1.7m0.9 0h1.7m0.6 0h1.7m2.6 0h1.7m0.6 0h1.7m0.6 0h1.7m0.6 0h1.7m0.6 0h1.7m0.6 0h1.7m0.6 0h1.7m0.6 0h1.7m0.6 0h1.7m0.6 0h1.7m1.2 0h1.7m0.6 0h1.7m1.3 0h1.7m0.8 0h1.7m0.6 0h1.7m1.2 0h1.7m1.1 0h1.7m0.6 0h1.7m0.6 0h1.7m1.3 0h1.7m0.6 0h1.7m4.2 0h1.7M1163.2 162.6h1.7m0.6 0h1.7m28.9 0h1.7m17.6 0h1.7m1.8 0h1.7m0.6 0h1.7m2.2 0h1.7m1.9 0h1.7m2.6 0h1.7m0.6 0h1.7m0.6 0h1.7m0.6 0h1.7m0.6 0h1.7m1.8 0h1.7m0.6 0h1.7m0.6 0h1.7m0.6 0h1.7m0.6 0h1.7m0.6 0h1.7m0.6 0h1.7m8 0h1.7m2.4 0h1.7m0.6 0h1.7m1 0h1.7m4.8 0h1.7m0.6 0h1.7m3 0h1.7m0.6 0h1.7m0.6 0h1.7m0.6 0h1.7m0.6 0h1.7m0.9 0h1.7m0.6 0h1.7m0.6 0h1.7m5.6 0h1.7m0.6 0h1.7m1.9 0h1.7m6.6 0h1.7m0.6 0h1.7M1178.3 166.6h1.7m7.6 0h1.7m5.3 0h1.7m4.3 0h1.7m4.6 0h1.7m4 0h1.7m2.2 0h1.7m0.6 0h1.7m5.9 0h1.7m1.4 0h1.7m0.6 0h1.7m3.4 0h1.7m3.6 0h1.7m2 0h1.7m0.6 0h1.7m0.6 0h1.7m0.6 0h1.7m0.6 0h1.7m0.6 0h1.7m0.6 0h1.7m4.3 0h1.7m0.6 0h1.7m0.6 0h1.7m1.7 0h1.7m7.4 0h1.7m0.6 0h1.7m1.8 0h1.7m0.6 0h1.7m0.6 0h1.7m0.6 0h1.7m2.6 0h1.7m0.6 0h1.7m4.2 0h1.7m0.6 0h1.7m6.6 0h1.7m0.6 0h1.7m0.6 0h1.7M1168 170.6h1.7m83.8 0h1.7m0.6 0h1.7m0.6 0h1.7m0.6 0h1.7m2.2 0h1.7m0.6 0h1.7m0.6 0h1.7m0.6 0h1.7m0.6 0h1.7m0.6 0h1.7m0.6 0h1.7m0.7 0h1.7m0.6 0h1.7m1.8 0h1.7m1 0h1.7m0.6 0h1.7m6.6 0h1.7m0.6 0h1.7m4.2 0h1.7m0.6 0h1.7m4.6 0h1.7m0.6 0h1.7m0.6 0h1.7m0.6 0h1.7M1163.2 174.5h1.7m47.2 0h1.7m3 0h1.7m6.2 0h1.7m0.6 0h1.7m0.6 0h1.7m3.3 0h1.7m0.7 0h1.7m0.6 0h1.7m7.3 0h1.7m0.6 0h1.7m0.6 0h1.7m4.2 0h1.7m1 0h1.7m0.6 0h1.7m7.3 0h1.7m1.1 0h1.7m0.6 0h1.7m0.6 0h1.7m0.6 0h1.7m0.6 0h1.7m0.6 0h1.7m2.7 0h1.7m0.6 0h1.7m0.6 0h1.7m0.6 0h1.7m0.6 0h1.7m1.3 0h1.7m1.5 0h1.7m0.6 0h1.7m0.6 0h1.7m0.6 0h1.7m1 0h1.7m0.6 0h1.7m0.6 0h1.7M1165.5 178.5h1.7m21.3 0h1.7m0.6 0h1.7m17.6 0h1.7m0.6 0h1.7m0.6 0h1.7m0.6 0h1.7m0.6 0h1.7m0.6 0h1.7m0.6 0h1.7m0.6 0h1.7m1.4 0h1.7m0.6 0h1.7m1 0h1.7m0.6 0h1.7m0.6 0h1.7m0.6 0h1.7m0.6 0h1.7m0.6 0h1.7m0.6 0h1.7m0.6 0h1.7m1.4 0h1.7m2.2 0h1.7m0.6 0h1.7m0.6 0h1.7m3.7 0h1.7m0.6 0h1.7m0.6 0h1.7m0.6 0h1.7m0.6 0h1.7m0.6 0h1.7m1.8 0h1.7m1 0h1.7m4.9 0h1.7m4 0h1.7m1.7 0h1.7m0.6 0h1.7m0.6 0h1.7m0.6 0h1.7m3.2 0h1.7m4.2 0h1.7M1258.4 182.5h1.7m3.5 0h1.7m3.3 0h1.7m0.6 0h1.7m2.9 0h1.7m2.5 0h1.7m0.6 0h1.7m0.6 0h1.7m0.7 0h1.7m14.7 0h1.7m0.7 0h1.7m0.6 0h1.7m0.6 0h1.7m0.6 0h1.7m0.6 0h1.7m0.6 0h1.7m0.6 0h1.7M1163.2 186.5h1.7m1.2 0h1.7m14.3 0h1.7m0.6 0h1.7m4.8 0h1.7m2.6 0h1.7m7.1 0h1.7m0.6 0h1.7m0.6 0h1.7m0.6 0h1.7m3 0h1.7m0.6 0h1.7m0.6 0h1.7m2.5 0h1.7m0.6 0h1.7m0.6 0h1.7m0.6 0h1.7m0.6 0h1.7m0.6 0h1.7m0.6 0h1.7m0.6 0h1.7m11.1 0h1.7m0.6 0h1.7m2.1 0h1.7m0.6 0h1.7m0.6 0h1.7m1.4 0h1.7m0.6 0h1.7m0.6 0h1.7m0.6 0h1.7m0.6 0h1.7m0.6 0h1.7m0.6 0h1.7m0.6 0h1.7m0.6 0h1.7m0.6 0h1.7m0.6 0h1.7m3.4 0h1.7m2.6 0h1.7m0.8 0h1.7m0.6 0h1.7m6.1 0h1.7m2.4 0h1.7M1165.4 190.5h1.7m15.7 0h1.7m0.6 0h1.7m8.9 0h1.7m2.9 0h1.7m15 0h1.7m4.6 0h1.7m0.6 0h1.7m0.6 0h1.7m0.6 0h1.7m0.6 0h1.7m0.6 0h1.7m0.6 0h1.7m0.6 0h1.7m0.6 0h1.7m0.6 0h1.7m0.6 0h1.7m0.6 0h1.7m0.8 0h1.7m0.9 0h1.7m0.6 0h1.7m0.6 0h1.7m0.6 0h1.7m0.6 0h1.7m0.6 0h1.7m0.6 0h1.7m4 0h1.7m2.4 0h1.7m0.6 0h1.7m0.6 0h1.7m0.6 0h1.7m0.6 0h1.7m2.2 0h1.7m1.1 0h1.7m0.6 0h1.7m0.6 0h1.7m0.6 0h1.7m0.6 0h1.7m3.5 0h1.7m4 0h1.7M1198.2 194.4h1.7m17.8 0h1.7m3 0h1.7m0.6 0h1.7m0.6 0h1.7m7.4 0h1.7m1 0h1.7m0.6 0h1.7m0.6 0h1.7m5.7 0h1.7m0.6 0h1.7m0.6 0h1.7m0.6 0h1.7m0.6 0h1.7m1.9 0h1.7m3.2 0h1.7m2.2 0h1.7m3.2 0h1.7m1.3 0h1.7m2.9 0h1.7m2.1 0h1.7m2.4 0h1.7m0.6 0h1.7m0.6 0h1.7m0.6 0h1.7m1.1 0h1.7m0.6 0h1.7m0.6 0h1.7m0.6 0h1.7m0.6 0h1.7M1165.1 198.4h1.7m24.6 0h1.7m0.9 0h1.7m0.6 0h1.7m18.9 0h1.7m0.6 0h1.7m0.6 0h1.7m0.6 0h1.7m1.6 0h1.7m0.6 0h1.7m0.6 0h1.7m0.7 0h1.7m0.6 0h1.7m0.6 0h1.7m7 0h1.7m1.9 0h1.7m0.6 0h1.7m0.6 0h1.7m2.2 0h1.7m1.5 0h1.7m0.6 0h1.7m0.6 0h1.7m0.6 0h1.7m0.6 0h1.7m0.6 0h1.7m0.6 0h1.7m2.5 0h1.7m0.6 0h1.7m0.6 0h1.7m0.6 0h1.7m0.6 0h1.7m0.6 0h1.7m0.6 0h1.7m0.6 0h1.7m4.5 0h1.7m0.9 0h1.7m0.6 0h1.7m0.8 0h1.7M1235.7 202.4h1.7m0.6 0h1.7m0.6 0h1.7m0.6 0h1.7m0.6 0h1.7m0.6 0h1.7m2 0h1.7m0.6 0h1.7m0.6 0h1.7m0.6 0h1.7m0.6 0h1.7m0.6 0h1.7m0.6 0h1.7m0.9 0h1.7m0.6 0h1.7m0.6 0h1.7m0.6 0h1.7m0.6 0h1.7m3.9 0h1.7m0.6 0h1.7m0.6 0h1.7m0.6 0h1.7m2.3 0h1.7m0.6 0h1.7m2.9 0h1.7m1.1 0h1.7m0.6 0h1.7m0.6 0h1.7M1193.7 206.4h1.7m0.6 0h1.7m2.9 0h1.7m15.6 0h1.7m0.6 0h1.7m4.5 0h1.7m7.2 0h1.7m0.6 0h1.7m0.6 0h1.7m0.8 0h1.7m2.7 0h1.7m0.6 0h1.7m1.9 0h1.7m0.6 0h1.7m0.6 0h1.7m0.6 0h1.7m3.4 0h1.7m0.6 0h1.7m0.6 0h1.7m1.6 0h1.7m0.6 0h1.7m0.6 0h1.7m0.6 0h1.7m2.2 0h1.7m5.9 0h1.7m3.4 0h1.7m0.6 0h1.7m0.6 0h1.7M1163.2 210.3h1.7m56.8 0h1.7m0.6 0h1.7m1.7 0h1.7m1.4 0h1.7m0.6 0h1.7m0.6 0h1.7m0.6 0h1.7m0.6 0h1.7m1.3 0h1.7m0.6 0h1.7m6.8 0h1.7m0.7 0h1.7m0.6 0h1.7m0.6 0h1.7m0.6 0h1.7m2.4 0h1.7m0.6 0h1.7m0.7 0h1.7m0.6 0h1.7m2.2 0h1.7m1.8 0h1.7m0.6 0h1.7m1.7 0h1.7m2.1 0h1.7m0.6 0h1.7m0.6 0h1.7m3.1 0h1.7M1169.2 214.3h1.7m96.2 0h1.7m8.5 0h1.7m1.8 0h1.7m2 0h1.7m0.6 0h1.7m0.6 0h1.7m0.6 0h1.7M1164.7 218.3h1.7m1.9 0h1.7m14.2 0h1.7m0.6 0h1.7m0.6 0h1.7m12.2 0h1.7m0.6 0h1.7m0.6 0h1.7m10 0h1.7m0.7 0h1.7m1.1 0h1.7m0.6 0h1.7m2.8 0h1.7m4.8 0h1.7m0.6 0h1.7m0.6 0h1.7m0.6 0h1.7m0.6 0h1.7m1.4 0h1.7m0.6 0h1.7m0.6 0h1.7m0.6 0h1.7m0.6 0h1.7m3.7 0h1.7m0.8 0h1.7m0.6 0h1.7m0.6 0h1.7m0.7 0h1.7m3.4 0h1.7m0.6 0h1.7m0.6 0h1.7" stroke="#000" stroke-width="1.9" fill="none"/><path d="M1286.5 218.3 1300.1 211.6 1310.2 201.4 1317 187.9 1327.2 172.6 1333.9 164.2 1340.7 154 1347.5 148.9 1354.3 142.2 1357.7 133.7 1364.4 130.3 1371.2 125.3 1376.3 120.2 1381.3 116.8" stroke="#b4b4b4" stroke-width="2" fill="none"/><path d="M1162 54V220H1383" stroke="#000" stroke-width="2" fill="none"/><text transform="translate(74 138.5) rotate(-90)" text-anchor="middle">Trials</text><text transform="translate(74 349) rotate(-90)" text-anchor="middle">Trials</text><rect x="86" y="266" width="221" height="164" fill="none" stroke="#000" stroke-width="1.6"/><text x="309" y="259" text-anchor="end">16.6 Hz</text><text x="80.2" y="275" text-anchor="end">84</text><rect x="356" y="266" width="221" height="164" fill="none" stroke="#000" stroke-width="1.6"/><text x="579" y="259" text-anchor="end">30.2 Hz</text><text x="350.2" y="275" text-anchor="end">33</text><rect x="625" y="266" width="221" height="164" fill="none" stroke="#000" stroke-width="1.6"/><text x="848" y="259" text-anchor="end">27.0 Hz</text><text x="619.2" y="275" text-anchor="end">17</text><rect x="893" y="266" width="221" height="164" fill="none" stroke="#000" stroke-width="1.6"/><text x="1116" y="259" text-anchor="end">12.0 Hz</text><text x="887.2" y="275" text-anchor="end">44</text><rect x="1162" y="266" width="221" height="164" fill="none" stroke="#000" stroke-width="1.6"/><text x="1385" y="259" text-anchor="end">31.0 Hz</text><text x="1156.2" y="275" text-anchor="end">42</text><rect x="86" y="480" width="45.7" height="167" fill="#c9f7c9"/><path d="M102.8 480L102.8 647" stroke="#e82020" stroke-width="1.8"/><path d="M122.5 560C123.2 563.3 125.3 574.5 127 580C128.7 585.5 130.7 589.2 132.9 593C135.1 596.8 137.1 600.2 140 603C142.9 605.8 146.7 608 150.5 609.5C154.3 611 157.2 611.7 163 612C168.8 612.3 178.7 611.6 185 611.5C191.3 611.4 197.4 611.2 200.6 611.3C203.8 611.4 200.7 612.4 204 612.3C207.3 612.2 215.5 610.5 220.7 610.5C225.9 610.5 230 611.2 235 612C240 612.8 245.8 614.6 250.8 615.5C255.8 616.4 260.4 616.9 265 617.5C269.6 618.1 275.1 618.7 278.4 619.3C281.7 619.9 282.5 620 285 621C287.5 622 290.9 624.7 293.4 625.6C295.9 626.5 297.9 626.4 300 626.5C302.1 626.6 305 626.1 306 626" stroke="#000" stroke-width="1.8" fill="none"/><path d="M86 566C86.8 561 89.3 546 91 536C92.7 526 94.5 513.3 96 506C97.5 498.7 98.8 495 100 492C101.2 489 101.8 487.8 103 488C104.2 488.2 105.5 489 107 493C108.5 497 110.2 504.5 112 512C113.8 519.5 115.8 528.5 118 538C120.2 547.5 124.2 563.8 125.4 569" stroke="#ff0000" stroke-width="9.5" fill="none"/><path d="M81 480H86 V647H307" stroke="#000" stroke-width="1.4" fill="none"/><path d="M81 647H86 M86 647v5 M307 647v5" stroke="#000" stroke-width="1.4" fill="none"/><text x="79.2" y="491" text-anchor="end">11</text><text x="79.2" y="656" text-anchor="end">0</text><text x="86" y="674.5" text-anchor="middle">0</text><text x="307" y="674.5" text-anchor="middle">8</text><text x="101.8" y="475.5" text-anchor="middle">0.6 s</text><rect x="367.8" y="480" width="51.6" height="167" fill="#c9f7c9"/><path d="M391.3 480L391.3 647" stroke="#e82020" stroke-width="1.8"/><path d="M356 613.8C357 609.8 360.2 598.2 362 590C363.8 581.8 365.9 568.8 366.7 564.6" stroke="#000" stroke-width="1.8" fill="none"/><path d="M421 564.6C422 568 424.9 578.9 427 585C429.1 591.1 431.2 596.4 433.4 601.5C435.6 606.6 436.9 611.8 440.4 615.6C443.9 619.4 449.9 622.2 454.5 624.3C459.1 626.4 463.3 626.5 468 628C472.7 629.5 476.7 631.7 482.6 633.1C488.5 634.5 496.6 635.6 503.6 636.6C510.6 637.6 517.7 638.6 524.7 639.4C531.7 640.2 537.4 640.6 545.8 641.2C554.2 641.8 570.1 642.7 575 643" stroke="#000" stroke-width="1.8" fill="none"/><path d="M363 564C364.2 560 367.7 548.3 370 540C372.3 531.7 374.7 522 377 514C379.3 506 381.6 497.4 384 492C386.4 486.6 389 482 391.5 481.5C394 481 396.6 484.6 399 489C401.4 493.4 403.5 500.3 406 508C408.5 515.7 411.5 525.7 414 535C416.5 544.3 419.8 559.2 421 564" stroke="#ff0000" stroke-width="9.5" fill="none"/><path d="M351 480H356 V647H577" stroke="#000" stroke-width="1.4" fill="none"/><path d="M351 647H356 M356 647v5 M577 647v5" stroke="#000" stroke-width="1.4" fill="none"/><text x="349.2" y="491" text-anchor="end">22</text><text x="349.2" y="656" text-anchor="end">0</text><text x="356" y="674.5" text-anchor="middle">0</text><text x="577" y="674.5" text-anchor="middle">8</text><text x="390.3" y="475.5" text-anchor="middle">1.3 s</text><rect x="654" y="480" width="46.3" height="167" fill="#c9f7c9"/><path d="M676.8 480L676.8 647" stroke="#e82020" stroke-width="1.8"/><path d="M624.8 632.4C626.8 629.6 633.6 621.8 637 615.6C640.4 609.4 642.7 603.2 645 595C647.3 586.8 650 571.2 651 566.4" stroke="#000" stroke-width="1.8" fill="none"/><path d="M703.8 566.4C705.5 568.7 709.6 576 714.3 580.4C719 584.8 726.6 589.8 731.9 592.7C737.2 595.6 741.9 596 746 598C750.1 600 751.8 601.5 756.5 605C761.2 608.5 768.1 615.2 774 619C779.9 622.8 786.3 625.6 791.6 627.9C796.9 630.2 801.5 632.7 805.6 633C809.7 633.3 812.5 631.2 816 629.6C819.5 628 823.8 623.9 826.7 623.3C829.7 622.7 830.8 623.8 833.7 626C836.6 628.2 842.5 634.8 844.2 636.6" stroke="#000" stroke-width="1.8" fill="none"/><path d="M649.4 564.6C650.5 560.5 653.7 548.8 656 540C658.3 531.2 660.7 520.3 663 512C665.3 503.7 667.8 495.1 670 490C672.2 484.9 674.2 481.4 676.4 481.4C678.6 481.4 680.7 484.9 683 490C685.3 495.1 687.7 503.7 690 512C692.3 520.3 694.7 531.2 697 540C699.3 548.8 702.7 560.5 703.8 564.6" stroke="#ff0000" stroke-width="9.5" fill="none"/><path d="M620 480H625 V647H846" stroke="#000" stroke-width="1.4" fill="none"/><path d="M620 647H625 M625 647v5 M846 647v5" stroke="#000" stroke-width="1.4" fill="none"/><text x="618.2" y="491" text-anchor="end">22</text><text x="618.2" y="656" text-anchor="end">0</text><text x="625" y="674.5" text-anchor="middle">0</text><text x="846" y="674.5" text-anchor="middle">8</text><text x="675.8" y="475.5" text-anchor="middle">1.9 s</text><rect x="930" y="480" width="41" height="167" fill="#c9f7c9"/><path d="M950.8 480L950.8 647" stroke="#e82020" stroke-width="1.8"/><path d="M892.5 613.1C894.8 610.9 902.6 606.7 906.2 599.8C909.8 592.9 912.9 576.4 914.3 571.7" stroke="#000" stroke-width="1.8" fill="none"/><path d="M987 571.7C988.3 574.1 992.4 581.3 995 586C997.6 590.7 1000 597.5 1002.7 599.8C1005.5 602.1 1008.9 600.8 1011.5 599.8C1014.1 598.8 1015.6 595.3 1018.5 593.8C1021.4 592.3 1026.1 592 1029 591C1031.9 590 1034.2 587.9 1036 587.5C1037.8 587.1 1038.8 588.8 1040 588.5C1041.2 588.2 1041.8 585.6 1043 585.7C1044.2 585.8 1045.5 587.5 1047 589C1048.5 590.5 1050.3 592.7 1052 594.5C1053.7 596.3 1055.2 599 1057 599.8C1058.8 600.5 1061.5 599 1063 599C1064.5 599 1064.8 599.3 1066 599.8C1067.2 600.3 1068.5 601.1 1070 602C1071.5 602.9 1072.8 603.7 1074.7 605C1076.7 606.3 1079.5 609.3 1081.7 609.6C1083.9 609.9 1086 607.6 1088 607C1090 606.4 1093 605.9 1094 605.7" stroke="#000" stroke-width="1.8" fill="none"/><path d="M913.2 571.7C914.3 568.4 917.2 560.3 920 552C922.8 543.7 926.7 530.3 930 522C933.3 513.7 936.5 506.4 940 502C943.5 497.6 947.7 495.3 951 495.5C954.3 495.7 956.8 497.6 960 503C963.2 508.4 966.7 519.3 970 528C973.3 536.7 977.2 547.7 980 555C982.8 562.3 985.8 568.9 987 571.7" stroke="#ff0000" stroke-width="9.5" fill="none"/><path d="M888 480H893 V647H1114" stroke="#000" stroke-width="1.4" fill="none"/><path d="M888 647H893 M893 647v5 M1114 647v5" stroke="#000" stroke-width="1.4" fill="none"/><text x="886.2" y="491" text-anchor="end">7</text><text x="886.2" y="656" text-anchor="end">0</text><text x="893" y="674.5" text-anchor="middle">0</text><text x="1114" y="674.5" text-anchor="middle">8</text><text x="949.8" y="475.5" text-anchor="middle">2.1 s</text><rect x="1216.2" y="480" width="67.4" height="167" fill="#c9f7c9"/><path d="M1239 480L1239 647" stroke="#e82020" stroke-width="1.8"/><path d="M1161.4 642.6C1163.3 642.3 1169.9 641.8 1173 640.8C1176.1 639.8 1177.7 638.4 1180 636.5C1182.3 634.6 1184.5 632.9 1187 629.6C1189.5 626.4 1192.7 621.7 1195 617C1197.3 612.3 1198.8 607.9 1201 601.5C1203.2 595.1 1206.8 582.5 1208 578.7" stroke="#000" stroke-width="1.8" fill="none"/><path d="M1322.3 578.7C1324.3 580.2 1331.5 586 1334.5 587.5C1337.5 589 1338.2 587.5 1340 588C1341.8 588.5 1343.3 589 1345 590.3C1346.7 591.6 1348.2 594.4 1350 596C1351.8 597.6 1353.2 598.8 1355.6 599.8C1358 600.8 1362.3 601.2 1364.4 602.2C1366.5 603.2 1366.5 604.6 1368 606C1369.5 607.4 1371.5 609 1373.2 610.3C1374.9 611.5 1376.5 612.7 1378 613.5C1379.5 614.3 1381.3 614.7 1382 614.9" stroke="#000" stroke-width="1.8" fill="none"/><path d="M1206.4 578.7C1207.3 575.2 1210 564.8 1212 558C1214 551.2 1215.8 545.1 1218.7 538C1221.6 530.9 1225.8 520.1 1229.2 515.5C1232.6 510.9 1235.5 509.9 1239 510.2C1242.5 510.5 1246.1 513.6 1250.3 517.2C1254.5 520.8 1259.6 527.6 1264.3 532C1269 536.4 1273.7 539 1278.4 543.6C1283.1 548.2 1287.7 555 1292.4 559.4C1297.1 563.8 1302.7 567.6 1306.5 570C1310.3 572.4 1312.4 572.8 1315 574C1317.6 575.2 1321.1 576.5 1322.3 577" stroke="#ff0000" stroke-width="9.5" fill="none"/><path d="M1157 480H1162 V647H1383" stroke="#000" stroke-width="1.4" fill="none"/><path d="M1157 647H1162 M1162 647v5 M1383 647v5" stroke="#000" stroke-width="1.4" fill="none"/><text x="1155.2" y="491" text-anchor="end">20</text><text x="1155.2" y="656" text-anchor="end">0</text><text x="1162" y="674.5" text-anchor="middle">0</text><text x="1383" y="674.5" text-anchor="middle">8</text><text x="1238" y="475.5" text-anchor="middle">2.8 s</text><text x="83.3" y="711.7">Time from landing (s)</text><text transform="translate(38 565) rotate(-90)" text-anchor="middle">Firing rate</text><text transform="translate(71.4 564) rotate(-90)" text-anchor="middle">(Hz)</text><text x="1.7" y="779.5" style="font-size:30px;font-weight:bold">b</text><path d="M81 816.5H312 M86 816.5H307 M86 816.5V982.5H307 M86 982.5v5 M307 982.5v5 M86 816.5v-4 M307 816.5v-4" stroke="#000" stroke-width="1.6" fill="none"/><text x="88.7" y="809">Start</text><text x="299.5" y="809" text-anchor="end">16.6 Hz</text><text x="78.5" y="826" text-anchor="end">84</text><text x="86" y="1010" text-anchor="middle">-15</text><text x="307" y="1010" text-anchor="middle">0</text><path d="M351 816.5H582 M356 816.5H577 M356 816.5V982.5H577 M356 982.5v5 M577 982.5v5 M356 816.5v-4 M577 816.5v-4" stroke="#000" stroke-width="1.6" fill="none"/><text x="358.7" y="809">A</text><text x="569.5" y="809" text-anchor="end">30.2 Hz</text><text x="348.5" y="826" text-anchor="end">33</text><text x="356" y="1010" text-anchor="middle">-15</text><text x="577" y="1010" text-anchor="middle">0</text><path d="M620 816.5H851 M625 816.5H846 M625 816.5V982.5H846 M625 982.5v5 M846 982.5v5 M625 816.5v-4 M846 816.5v-4" stroke="#000" stroke-width="1.6" fill="none"/><text x="627.7" y="809">B</text><text x="838.5" y="809" text-anchor="end">27.0 Hz</text><text x="617.5" y="826" text-anchor="end">17</text><text x="625" y="1012" text-anchor="middle">-15</text><text x="846" y="1012" text-anchor="middle">0</text><path d="M888 816.5H1119 M893 816.5H1114 M893 816.5V982.5H1114 M893 982.5v5 M1114 982.5v5 M893 816.5v-4 M1114 816.5v-4" stroke="#000" stroke-width="1.6" fill="none"/><text x="895.7" y="809">A</text><text x="1106.5" y="809" text-anchor="end">12.0 Hz</text><text x="885.5" y="826" text-anchor="end">44</text><text x="893" y="1010" text-anchor="middle">-15</text><text x="1114" y="1010" text-anchor="middle">0</text><path d="M1157 816.5H1388 M1162 816.5H1383 M1162 816.5V982.5H1383 M1162 982.5v5 M1383 982.5v5 M1162 816.5v-4 M1383 816.5v-4" stroke="#000" stroke-width="1.6" fill="none"/><text x="1164.7" y="809">B</text><text x="1375.5" y="809" text-anchor="end">31.0 Hz</text><text x="1154.5" y="826" text-anchor="end">42</text><text x="1162" y="1010" text-anchor="middle">-15</text><text x="1383" y="1010" text-anchor="middle">0</text><text x="88.5" y="1042.5">Time until takeoff (s)</text><text transform="translate(74 901) rotate(-90)" text-anchor="middle">Trials</text><text x="1463.7" y="778.5" style="font-size:30px;font-weight:bold">c</text><rect x="1536.3" y="757" width="38.4" height="10" fill="#7676f6"/><rect x="1536.3" y="788.3" width="38.4" height="10" fill="#f67676"/><text x="1584.7" y="769.5">Aligned to landing</text><text x="1584.7" y="800.7">Aligned to takeoff</text><text x="1536.1" y="843.5">P = 7.7e-170</text><rect x="1582.9" y="1031.3" width="11.6" height="5.5" fill="rgba(0,0,255,0.5)" stroke="#000" stroke-width="1.6"/><rect x="1598.8" y="1015.2" width="11.6" height="21.6" fill="rgba(0,0,255,0.5)" stroke="#000" stroke-width="1.6"/><rect x="1614.6" y="998.7" width="11.6" height="38.1" fill="rgba(0,0,255,0.5)" stroke="#000" stroke-width="1.6"/><rect x="1630.4" y="979.4" width="11.6" height="57.4" fill="rgba(0,0,255,0.5)" stroke="#000" stroke-width="1.6"/><rect x="1646.2" y="899.3" width="11.6" height="137.5" fill="rgba(0,0,255,0.5)" stroke="#000" stroke-width="1.6"/><rect x="1662" y="877.1" width="11.6" height="159.7" fill="rgba(0,0,255,0.5)" stroke="#000" stroke-width="1.6"/><rect x="1677.8" y="896.4" width="11.6" height="140.4" fill="rgba(0,0,255,0.5)" stroke="#000" stroke-width="1.6"/><rect x="1693.6" y="945.8" width="11.6" height="91" fill="rgba(0,0,255,0.5)" stroke="#000" stroke-width="1.6"/><rect x="1709.4" y="981.6" width="11.6" height="55.2" fill="rgba(0,0,255,0.5)" stroke="#000" stroke-width="1.6"/><rect x="1725.3" y="1006.9" width="11.6" height="29.9" fill="rgba(0,0,255,0.5)" stroke="#000" stroke-width="1.6"/><rect x="1741.1" y="1020.6" width="11.6" height="16.2" fill="rgba(0,0,255,0.5)" stroke="#000" stroke-width="1.6"/><rect x="1519.7" y="929.1" width="11.6" height="107.7" fill="rgba(255,0,0,0.3)" stroke="#000" stroke-width="1.6"/><rect x="1535.5" y="910.4" width="11.6" height="126.4" fill="rgba(255,0,0,0.3)" stroke="#000" stroke-width="1.6"/><rect x="1551.3" y="888.5" width="11.6" height="148.3" fill="rgba(255,0,0,0.3)" stroke="#000" stroke-width="1.6"/><rect x="1567.1" y="890.8" width="11.6" height="146" fill="rgba(255,0,0,0.3)" stroke="#000" stroke-width="1.6"/><rect x="1582.9" y="965.8" width="11.6" height="71" fill="rgba(255,0,0,0.3)" stroke="#000" stroke-width="1.6"/><rect x="1598.8" y="979.4" width="11.6" height="57.4" fill="rgba(255,0,0,0.3)" stroke="#000" stroke-width="1.6"/><rect x="1614.6" y="1010" width="11.6" height="26.8" fill="rgba(255,0,0,0.3)" stroke="#000" stroke-width="1.6"/><rect x="1630.4" y="1026.2" width="11.6" height="10.6" fill="rgba(255,0,0,0.3)" stroke="#000" stroke-width="1.6"/><rect x="1646.2" y="1031.9" width="11.6" height="4.9" fill="rgba(255,0,0,0.3)" stroke="#000" stroke-width="1.6"/><rect x="1662" y="1034.2" width="11.6" height="2.6" fill="rgba(255,0,0,0.3)" stroke="#000" stroke-width="1.6"/><path d="M1513 843.1H1518 V1036.8H1786.8 M1513 1036.8H1518 M1518 1036.8v5 M1652.4 1036.8v5 M1786.8 1036.8v5" stroke="#000" stroke-width="1.8" fill="none"/><text x="1511" y="852" text-anchor="end">70</text><text x="1511" y="1045.5" text-anchor="end">0</text><text x="1516" y="1066" text-anchor="middle">-1</text><text x="1653.4" y="1066" text-anchor="middle">0</text><text x="1785.8" y="1066" text-anchor="middle">1</text><text x="1525.5" y="1090">Spearman correlation, <tspan style="font-style:italic">ρ</tspan></text><text transform="translate(1486 940) rotate(-90)" text-anchor="middle">Percentage</text><text x="5.7" y="1131" style="font-size:30px;font-weight:bold">d</text><path d="M86 1160.3V1430H356M82 1430H86M82 1362.6H86M82 1295.2H86M82 1227.7H86M82 1160.3H86M86 1430v4M153.5 1430v4M221 1430v4M288.5 1430v4M356 1430v4" stroke="#000" stroke-width="1.6" fill="none"/><text x="70.5" y="1439.5" text-anchor="end" style="font-size:24px">0</text><text x="70.5" y="1372.1" text-anchor="end" style="font-size:24px">2</text><text x="70.5" y="1304.7" text-anchor="end" style="font-size:24px">4</text><text x="70.5" y="1237.2" text-anchor="end" style="font-size:24px">6</text><text x="70.5" y="1169.8" text-anchor="end" style="font-size:24px">8</text><text x="87.2" y="1462.3" text-anchor="middle" style="font-size:24px">0</text><text x="154.7" y="1462.3" text-anchor="middle" style="font-size:24px">2</text><text x="222.2" y="1462.3" text-anchor="middle" style="font-size:24px">4</text><text x="289.7" y="1462.3" text-anchor="middle" style="font-size:24px">6</text><text x="357.2" y="1462.3" text-anchor="middle" style="font-size:24px">8</text><text x="221" y="1138" text-anchor="middle" style="font-size:27.5px">Ball A</text><text x="231.2" y="1496.2" text-anchor="middle">Preferred time (s)</text><path d="M604.3 1160.3V1430H874.3M600.3 1430H604.3M600.3 1362.6H604.3M600.3 1295.2H604.3M600.3 1227.7H604.3M600.3 1160.3H604.3M604.3 1430v4M671.8 1430v4M739.3 1430v4M806.8 1430v4M874.3 1430v4" stroke="#000" stroke-width="1.6" fill="none"/><text x="588.8" y="1439.5" text-anchor="end" style="font-size:24px">0</text><text x="588.8" y="1372.1" text-anchor="end" style="font-size:24px">2</text><text x="588.8" y="1304.7" text-anchor="end" style="font-size:24px">4</text><text x="588.8" y="1237.2" text-anchor="end" style="font-size:24px">6</text><text x="588.8" y="1169.8" text-anchor="end" style="font-size:24px">8</text><text x="605.5" y="1462.3" text-anchor="middle" style="font-size:24px">0</text><text x="673" y="1462.3" text-anchor="middle" style="font-size:24px">2</text><text x="740.5" y="1462.3" text-anchor="middle" style="font-size:24px">4</text><text x="808" y="1462.3" text-anchor="middle" style="font-size:24px">6</text><text x="875.5" y="1462.3" text-anchor="middle" style="font-size:24px">8</text><text x="738.8" y="1138" text-anchor="middle" style="font-size:27.5px">Ball B</text><text x="749.4" y="1496.2" text-anchor="middle">Preferred time (s)</text><path d="M1122.5 1160.3V1430H1392.5M1118.5 1430H1122.5M1118.5 1376.1H1122.5M1118.5 1322.1H1122.5M1118.5 1268.2H1122.5M1118.5 1214.2H1122.5M1118.5 1160.3H1122.5M1122.5 1430v4M1176.5 1430v4M1230.5 1430v4M1284.5 1430v4M1338.5 1430v4M1392.5 1430v4" stroke="#000" stroke-width="1.6" fill="none"/><text x="1107" y="1439.5" text-anchor="end" style="font-size:24px">0</text><text x="1107" y="1385.6" text-anchor="end" style="font-size:24px">2</text><text x="1107" y="1331.6" text-anchor="end" style="font-size:24px">4</text><text x="1107" y="1277.7" text-anchor="end" style="font-size:24px">6</text><text x="1107" y="1223.7" text-anchor="end" style="font-size:24px">8</text><text x="1107" y="1169.8" text-anchor="end" style="font-size:24px">10</text><text x="1123.7" y="1462.3" text-anchor="middle" style="font-size:24px">0</text><text x="1177.7" y="1462.3" text-anchor="middle" style="font-size:24px">2</text><text x="1231.7" y="1462.3" text-anchor="middle" style="font-size:24px">4</text><text x="1285.7" y="1462.3" text-anchor="middle" style="font-size:24px">6</text><text x="1339.7" y="1462.3" text-anchor="middle" style="font-size:24px">8</text><text x="1393.7" y="1462.3" text-anchor="middle" style="font-size:24px">10</text><text x="1256.6" y="1138" text-anchor="middle" style="font-size:27.5px">Start ball</text><text x="1265.9" y="1496.2" text-anchor="middle">Preferred time (s)</text><text transform="translate(35.3 1285) rotate(-90)" text-anchor="middle">Field width (s)</text><text transform="translate(553.2 1285) rotate(-90)" text-anchor="middle">Field width (s)</text><text transform="translate(1069.7 1287.4) rotate(-90)" text-anchor="middle">Field width (s)</text><g fill="#f00" stroke="#000" stroke-width="1.4"><circle cx="88.7" cy="1364.1" r="4.8"/><circle cx="94.6" cy="1395.1" r="4.8"/><circle cx="93.6" cy="1402.6" r="4.8"/><circle cx="97.2" cy="1373.2" r="4.8"/><circle cx="95.5" cy="1351.1" r="4.8"/><circle cx="102.7" cy="1349.4" r="4.8"/><circle cx="103.7" cy="1354.3" r="4.8"/><circle cx="101.7" cy="1311.3" r="4.8"/><circle cx="104.3" cy="1380.4" r="4.8"/><circle cx="104.3" cy="1385.3" r="4.8"/><circle cx="108.6" cy="1393.4" r="4.8"/><circle cx="110.2" cy="1373.2" r="4.8"/><circle cx="110.9" cy="1278.7" r="4.8"/><circle cx="110.2" cy="1346.8" r="4.8"/><circle cx="111.5" cy="1325" r="4.8"/><circle cx="115.7" cy="1333.1" r="4.8"/><circle cx="119" cy="1362.5" r="4.8"/><circle cx="121.6" cy="1367.4" r="4.8"/><circle cx="122.3" cy="1313.6" r="4.8"/><circle cx="123.9" cy="1341.3" r="4.8"/><circle cx="123.9" cy="1347.8" r="4.8"/><circle cx="125.5" cy="1339.6" r="4.8"/><circle cx="128.8" cy="1349.4" r="4.8"/><circle cx="130.4" cy="1363.4" r="4.8"/><circle cx="131.4" cy="1321.7" r="4.8"/><circle cx="133.7" cy="1382" r="4.8"/><circle cx="134.3" cy="1339.6" r="4.8"/><circle cx="138.6" cy="1330.8" r="4.8"/><circle cx="139.2" cy="1292.4" r="4.8"/><circle cx="143.5" cy="1360.8" r="4.8"/><circle cx="145.1" cy="1373.9" r="4.8"/><circle cx="145.1" cy="1383.7" r="4.8"/><circle cx="146.1" cy="1354.3" r="4.8"/><circle cx="146.7" cy="1307" r="4.8"/><circle cx="146.7" cy="1325" r="4.8"/><circle cx="148.4" cy="1360.8" r="4.8"/><circle cx="149.3" cy="1333.1" r="4.8"/><circle cx="150" cy="1334.8" r="4.8"/><circle cx="151" cy="1357.6" r="4.8"/><circle cx="152.3" cy="1393.4" r="4.8"/><circle cx="153.9" cy="1250.6" r="4.8"/><circle cx="155.9" cy="1372.3" r="4.8"/><circle cx="156.5" cy="1347.8" r="4.8"/><circle cx="158.1" cy="1382" r="4.8"/><circle cx="159.1" cy="1322.4" r="4.8"/><circle cx="159.8" cy="1367.4" r="4.8"/><circle cx="159.8" cy="1328.2" r="4.8"/><circle cx="162" cy="1354.3" r="4.8"/><circle cx="164.7" cy="1311.9" r="4.8"/><circle cx="166.3" cy="1373.9" r="4.8"/><circle cx="166.9" cy="1342.9" r="4.8"/><circle cx="167.9" cy="1328.2" r="4.8"/><circle cx="171.2" cy="1351.1" r="4.8"/><circle cx="171.2" cy="1299.5" r="4.8"/><circle cx="173.5" cy="1331.5" r="4.8"/><circle cx="175.1" cy="1382" r="4.8"/><circle cx="176.7" cy="1373.9" r="4.8"/><circle cx="179.3" cy="1317.8" r="4.8"/><circle cx="183.2" cy="1344.5" r="4.8"/><circle cx="184.2" cy="1306.1" r="4.8"/><circle cx="189.1" cy="1307" r="4.8"/><circle cx="190.7" cy="1314.5" r="4.8"/><circle cx="192.4" cy="1331.5" r="4.8"/><circle cx="194" cy="1341.3" r="4.8"/><circle cx="195.6" cy="1292.4" r="4.8"/><circle cx="196.3" cy="1328.2" r="4.8"/><circle cx="198.9" cy="1302.2" r="4.8"/><circle cx="198.9" cy="1360.2" r="4.8"/><circle cx="204.8" cy="1364.1" r="4.8"/><circle cx="210.3" cy="1306.4" r="4.8"/><circle cx="211.9" cy="1366.7" r="4.8"/><circle cx="211.9" cy="1311.3" r="4.8"/><circle cx="208.7" cy="1332.1" r="4.8"/><circle cx="213.6" cy="1331.5" r="4.8"/><circle cx="215.2" cy="1331.5" r="4.8"/><circle cx="219.4" cy="1286.5" r="4.8"/><circle cx="221.7" cy="1355" r="4.8"/><circle cx="223.7" cy="1356.9" r="4.8"/><circle cx="227.3" cy="1383" r="4.8"/><circle cx="230.8" cy="1320.4" r="4.8"/><circle cx="240.6" cy="1325.6" r="4.8"/><circle cx="248.5" cy="1345.2" r="4.8"/><circle cx="258.9" cy="1335.4" r="4.8"/><circle cx="260.8" cy="1356" r="4.8"/><circle cx="274.9" cy="1276.1" r="4.8"/><circle cx="279.8" cy="1273.8" r="4.8"/><circle cx="276.8" cy="1361.5" r="4.8"/><circle cx="306.5" cy="1258.8" r="4.8"/><circle cx="318.6" cy="1373.9" r="4.8"/><circle cx="350.5" cy="1384.3" r="4.8"/><circle cx="91.9" cy="1395.1" r="4.8"/><circle cx="97.8" cy="1388.6" r="4.8"/><circle cx="99.4" cy="1370.6" r="4.8"/><circle cx="106.9" cy="1383.7" r="4.8"/><circle cx="114.1" cy="1370.6" r="4.8"/><circle cx="120" cy="1356" r="4.8"/><circle cx="127.8" cy="1342.9" r="4.8"/><circle cx="129.8" cy="1367.4" r="4.8"/><circle cx="136.9" cy="1334.8" r="4.8"/><circle cx="142.2" cy="1352.7" r="4.8"/><circle cx="153.2" cy="1370.6" r="4.8"/><circle cx="154.9" cy="1336.4" r="4.8"/><circle cx="163" cy="1349.4" r="4.8"/><circle cx="169.5" cy="1346.2" r="4.8"/><circle cx="178.7" cy="1372.3" r="4.8"/><circle cx="182.6" cy="1351.7" r="4.8"/><circle cx="192.4" cy="1325" r="4.8"/><circle cx="200.5" cy="1311.9" r="4.8"/><circle cx="153.2" cy="1383.7" r="4.8"/><circle cx="140.2" cy="1380.4" r="4.8"/></g><g fill="#f00" stroke="#000" stroke-width="1.4"><circle cx="609.2" cy="1292.4" r="4.8"/><circle cx="608.6" cy="1313.6" r="4.8"/><circle cx="634.7" cy="1300.5" r="4.8"/><circle cx="669.5" cy="1255.9" r="4.8"/><circle cx="669.5" cy="1280" r="4.8"/><circle cx="673.8" cy="1299.5" r="4.8"/><circle cx="695" cy="1272.2" r="4.8"/><circle cx="700.5" cy="1284.2" r="4.8"/><circle cx="692.4" cy="1310.3" r="4.8"/><circle cx="696.6" cy="1316.8" r="4.8"/><circle cx="724.3" cy="1290.7" r="4.8"/><circle cx="743.9" cy="1290.7" r="4.8"/><circle cx="734.8" cy="1299.5" r="4.8"/><circle cx="726.6" cy="1316.2" r="4.8"/><circle cx="736.4" cy="1317.8" r="4.8"/><circle cx="746.2" cy="1314.5" r="4.8"/><circle cx="756.6" cy="1312.9" r="4.8"/><circle cx="665.6" cy="1326.6" r="4.8"/><circle cx="666.3" cy="1340.6" r="4.8"/><circle cx="671.2" cy="1348.5" r="4.8"/><circle cx="678.7" cy="1341.3" r="4.8"/><circle cx="677" cy="1353.7" r="4.8"/><circle cx="678.7" cy="1363.4" r="4.8"/><circle cx="681" cy="1375.5" r="4.8"/><circle cx="680.3" cy="1372.3" r="4.8"/><circle cx="635.3" cy="1332.1" r="4.8"/><circle cx="639.6" cy="1338.7" r="4.8"/><circle cx="629.8" cy="1341.9" r="4.8"/><circle cx="620.6" cy="1346.8" r="4.8"/><circle cx="624.9" cy="1353.7" r="4.8"/><circle cx="627.2" cy="1360.2" r="4.8"/><circle cx="615.7" cy="1356" r="4.8"/><circle cx="618" cy="1364.1" r="4.8"/><circle cx="623.2" cy="1368" r="4.8"/><circle cx="631.4" cy="1367.4" r="4.8"/><circle cx="640.9" cy="1370" r="4.8"/><circle cx="642.8" cy="1365.7" r="4.8"/><circle cx="645.1" cy="1378.8" r="4.8"/><circle cx="652.3" cy="1376.5" r="4.8"/><circle cx="657.5" cy="1348.5" r="4.8"/><circle cx="659.1" cy="1356.9" r="4.8"/><circle cx="661.4" cy="1375.5" r="4.8"/><circle cx="667.9" cy="1364.1" r="4.8"/><circle cx="675.4" cy="1369" r="4.8"/><circle cx="690.7" cy="1353.7" r="4.8"/><circle cx="697.3" cy="1362.5" r="4.8"/><circle cx="702.2" cy="1360.8" r="4.8"/><circle cx="704.8" cy="1380.4" r="4.8"/><circle cx="702.8" cy="1344.5" r="4.8"/><circle cx="708.7" cy="1342.9" r="4.8"/><circle cx="713.6" cy="1341.3" r="4.8"/><circle cx="718.5" cy="1344.5" r="4.8"/><circle cx="728.2" cy="1334.1" r="4.8"/><circle cx="730.8" cy="1349.4" r="4.8"/><circle cx="721.7" cy="1373.2" r="4.8"/><circle cx="723.3" cy="1385.3" r="4.8"/><circle cx="760.8" cy="1339.6" r="4.8"/><circle cx="770.6" cy="1340.6" r="4.8"/><circle cx="760.2" cy="1347.8" r="4.8"/><circle cx="766.7" cy="1352.7" r="4.8"/><circle cx="782" cy="1355.3" r="4.8"/><circle cx="789.5" cy="1359.9" r="4.8"/><circle cx="611.8" cy="1379.8" r="4.8"/><circle cx="610.9" cy="1375.5" r="4.8"/><circle cx="605" cy="1399.3" r="4.8"/><circle cx="608.6" cy="1404.9" r="4.8"/><circle cx="614.1" cy="1400" r="4.8"/><circle cx="616.7" cy="1391.8" r="4.8"/><circle cx="621.6" cy="1388.6" r="4.8"/><circle cx="623.2" cy="1377.1" r="4.8"/><circle cx="631.1" cy="1381.1" r="4.8"/><circle cx="614.1" cy="1360.8" r="4.8"/><circle cx="621.3" cy="1357.6" r="4.8"/><circle cx="623.2" cy="1350.4" r="4.8"/><circle cx="612.5" cy="1370.6" r="4.8"/><circle cx="617.4" cy="1380.4" r="4.8"/><circle cx="627.8" cy="1357.6" r="4.8"/><circle cx="633" cy="1332.1" r="4.8"/><circle cx="663" cy="1338" r="4.8"/><circle cx="672.8" cy="1339.6" r="4.8"/><circle cx="695.6" cy="1360.8" r="4.8"/><circle cx="695" cy="1364.1" r="4.8"/><circle cx="715.2" cy="1342.9" r="4.8"/><circle cx="731.5" cy="1334.8" r="4.8"/><circle cx="610.9" cy="1386.9" r="4.8"/><circle cx="619" cy="1395.1" r="4.8"/></g><g fill="#f00" stroke="#000" stroke-width="1.4"><circle cx="1256.2" cy="1199.4" r="4.8"/><circle cx="1267.6" cy="1201.7" r="4.8"/><circle cx="1271.8" cy="1214.8" r="4.8"/><circle cx="1327.9" cy="1231.4" r="4.8"/><circle cx="1223.6" cy="1238.2" r="4.8"/><circle cx="1194.9" cy="1246.1" r="4.8"/><circle cx="1240.5" cy="1274.4" r="4.8"/><circle cx="1186.1" cy="1282.6" r="4.8"/><circle cx="1141.4" cy="1277.7" r="4.8"/><circle cx="1250.3" cy="1298.9" r="4.8"/><circle cx="1142.1" cy="1297.6" r="4.8"/><circle cx="1150.2" cy="1305.4" r="4.8"/><circle cx="1170.7" cy="1320.4" r="4.8"/><circle cx="1183.8" cy="1322.7" r="4.8"/><circle cx="1197.5" cy="1327.3" r="4.8"/><circle cx="1149.6" cy="1330.8" r="4.8"/><circle cx="1148.6" cy="1334.8" r="4.8"/><circle cx="1142.1" cy="1340.6" r="4.8"/><circle cx="1140.4" cy="1346.8" r="4.8"/><circle cx="1179.5" cy="1347.1" r="4.8"/><circle cx="1177.9" cy="1349.4" r="4.8"/><circle cx="1133.2" cy="1350.4" r="4.8"/><circle cx="1124.8" cy="1355.3" r="4.8"/><circle cx="1124.1" cy="1364.1" r="4.8"/><circle cx="1208.2" cy="1371.3" r="4.8"/><circle cx="1214.8" cy="1365.7" r="4.8"/><circle cx="1135.5" cy="1368.3" r="4.8"/><circle cx="1129" cy="1373.2" r="4.8"/><circle cx="1145.3" cy="1374.9" r="4.8"/><circle cx="1133.9" cy="1379.8" r="4.8"/><circle cx="1144.3" cy="1385.3" r="4.8"/><circle cx="1137.2" cy="1387.6" r="4.8"/><circle cx="1138.8" cy="1391.2" r="4.8"/><circle cx="1123.1" cy="1389.5" r="4.8"/><circle cx="1124.1" cy="1391.8" r="4.8"/><circle cx="1133.9" cy="1398.3" r="4.8"/><circle cx="1129" cy="1401.6" r="4.8"/><circle cx="1125.7" cy="1403.2" r="4.8"/><circle cx="1124.1" cy="1408.1" r="4.8"/><circle cx="1125.7" cy="1411.4" r="4.8"/><circle cx="1122.5" cy="1409.7" r="4.8"/><circle cx="1140.4" cy="1380.4" r="4.8"/><circle cx="1127.4" cy="1393.4" r="4.8"/><circle cx="1130.6" cy="1404.9" r="4.8"/><circle cx="1124.1" cy="1400" r="4.8"/><circle cx="1136.5" cy="1383.7" r="4.8"/></g><text x="352.3" y="1170.5">r = 0.36</text><text x="352.8" y="1203">P = 6.8e-05</text><text x="352.3" y="1255.3"><tspan style="font-style:italic">ρ</tspan> = 0.41</text><text x="352.8" y="1286">P = 4.6e-06</text><text x="850.7" y="1170.5">r = 0.51</text><text x="851.2" y="1203">P = 5.9e-08</text><text x="850.7" y="1255.3"><tspan style="font-style:italic">ρ</tspan> = 0.57</text><text x="851.2" y="1286">P = 1.3e-09</text><text x="1376.1" y="1172">r = 0.83</text><text x="1376.6" y="1204.6">P = 2.3e-16</text><text x="1376.1" y="1261.7"><tspan style="font-style:italic">ρ</tspan> = 0.82</text><text x="1376.6" y="1294.3">P = 1.1e-15</text><text x="5" y="1555.5" style="font-size:30px;font-weight:bold">e</text><g fill="#1466b6" stroke="#000" stroke-width="1.9"><rect x="86.8" y="1862.3" width="17.8" height="9.1"/><rect x="104.8" y="1863.8" width="17.8" height="7.6"/><rect x="122.7" y="1865.7" width="17.8" height="5.7"/><rect x="140.7" y="1864.6" width="17.8" height="6.8"/><rect x="158.7" y="1857.6" width="17.8" height="13.8"/><rect x="176.6" y="1841.2" width="17.8" height="30.2"/><rect x="194.6" y="1839.8" width="17.8" height="31.6"/><rect x="212.6" y="1817.2" width="17.8" height="54.2"/><rect x="230.5" y="1728.3" width="17.8" height="143.1"/><rect x="248.5" y="1608.4" width="17.8" height="263"/><rect x="266.5" y="1640.3" width="17.8" height="231.1"/><rect x="284.4" y="1743.8" width="17.8" height="127.6"/><rect x="302.4" y="1810.7" width="17.8" height="60.7"/><rect x="320.4" y="1851.1" width="17.8" height="20.3"/><rect x="338.3" y="1868.8" width="17.8" height="2.6"/></g><path d="M78 1602H86 V1871.4H355.5 M78 1871.4H86 M86 1871.4v8 M220.8 1871.4v8 M355.5 1871.4v8" stroke="#000" stroke-width="1.6" fill="none"/><text x="67" y="1613" text-anchor="end">1500</text><text x="67" y="1881" text-anchor="end">0</text><text x="85.3" y="1908.5" text-anchor="middle">-300</text><text x="220.3" y="1908.5" text-anchor="middle">0</text><text x="355" y="1908.5" text-anchor="middle">300</text><text x="100.5" y="1624.3"><tspan style="font-style:italic">μ</tspan> = 78.4 ms</text><text x="100.5" y="1656.7"><tspan style="font-style:italic">σ</tspan> = 90.7 ms</text><text x="220.1" y="1948.2" text-anchor="middle">Time difference in landing estimation</text><text x="220.1" y="1980.7" text-anchor="middle">Accelerometer - Video (ms)</text><text transform="translate(60 1738) rotate(-90)" text-anchor="middle">Trials</text><text x="465.7" y="1556" style="font-size:30px;font-weight:bold">f</text><text x="540.6" y="1666.5" text-anchor="middle">Non</text><text x="540.7" y="1695.7" text-anchor="middle">time-cells</text><defs><linearGradient id="jet" x1="0" y1="1" x2="0" y2="0"><stop offset="0" stop-color="#00008f"/><stop offset=".125" stop-color="#00f"/><stop offset=".375" stop-color="#0ff"/><stop offset=".625" stop-color="#ff0"/><stop offset=".875" stop-color="#f00"/><stop offset="1" stop-color="#800"/></linearGradient></defs><rect x="658.8" y="1581.2" width="180.6" height="188.5" fill="none" stroke="#000" stroke-width="1.3"/><path d="M654.8 1581.2H658.8 M839.4 1581.2H843.4 M658.8 1769.7v4 M839.4 1769.7v4" stroke="#000" stroke-width="1.3" fill="none"/><text x="747.8" y="1572.5" text-anchor="middle">Ball A</text><text x="650" y="1589" text-anchor="end">276</text><rect x="862.5" y="1579" width="19.2" height="192.5" fill="url(#jet)"/><text x="895.7" y="1585">2.89</text><text x="894.7" y="1779">0</text><text transform="translate(906.5 1667) rotate(-90)" text-anchor="middle">z-score</text><text x="657.8" y="1801" text-anchor="middle">0</text><text x="840.9" y="1801" text-anchor="middle">8</text><rect x="1046.4" y="1581.2" width="181" height="188.5" fill="none" stroke="#000" stroke-width="1.3"/><path d="M1042.4 1581.2H1046.4 M1227.4 1581.2H1231.4 M1046.4 1769.7v4 M1227.4 1769.7v4" stroke="#000" stroke-width="1.3" fill="none"/><text x="1132.5" y="1572.5" text-anchor="middle">Ball B</text><text x="1039.2" y="1589" text-anchor="end">293</text><rect x="1249.8" y="1579" width="19.2" height="192.5" fill="url(#jet)"/><text x="1283.3" y="1585">2.75</text><text x="1282.3" y="1771">0</text><text transform="translate(1296.5 1667) rotate(-90)" text-anchor="middle">z-score</text><text x="1045.4" y="1801" text-anchor="middle">0</text><text x="1228.9" y="1801" text-anchor="middle">8</text><rect x="1451" y="1581.2" width="181.4" height="188.5" fill="none" stroke="#000" stroke-width="1.3"/><path d="M1447 1581.2H1451 M1632.4 1581.2H1636.4 M1451 1769.7v4 M1632.4 1769.7v4" stroke="#000" stroke-width="1.3" fill="none"/><text x="1536.6" y="1572.5" text-anchor="middle">Start ball</text><text x="1443" y="1589" text-anchor="end">330</text><rect x="1652.1" y="1579" width="19.2" height="192.5" fill="url(#jet)"/><text x="1681.7" y="1585">3.05</text><text x="1680.7" y="1779">0</text><text transform="translate(1697 1667) rotate(-90)" text-anchor="middle">z-score</text><text x="1450" y="1801" text-anchor="middle">0</text><text x="1633.9" y="1801" text-anchor="middle">8</text><text transform="translate(638.4 1674) rotate(-90)" text-anchor="middle">Cells</text><text x="651.7" y="1830">Time from landing (s)</text><path d="M659.7 1866.7H662.7 M659.7 1866.7V2059H852 M659.7 2059h3 M852 2059v-3" stroke="#000" stroke-width="1.3" fill="none"/><path d="M659.7 2059 661.3 2059 662.9 2059 664.5 2059 666.1 2059 667.7 2059 669.3 2059 670.9 2059 672.5 2059 674.1 2059 675.7 2059 677.3 2059 678.9 2059 680.5 2059 682.1 2059 683.7 2059 685.3 2059 686.9 2059 688.5 2059 690.1 2059 691.8 2059 693.4 2059 695 2059 696.6 2059 698.2 2059 699.8 2059 701.4 2059 703 2059 704.6 2059 706.2 2059 707.8 2059 709.4 2059 711 2059 712.6 2059 714.2 2059 715.8 2059 717.4 2059 719 2059 720.6 2059 722.2 2059 723.8 2059 725.4 2059 727 2059 728.6 2059 730.2 2059 731.8 2059 733.4 2059 735 2059 736.6 2059 738.2 2059 739.8 2059 741.4 2059 743 2059 744.6 2059 746.2 2059 747.8 2059 749.4 2059 751 2059 752.6 2059 754.2 2058.9 755.9 2058.9 757.5 2058.8 759.1 2058.6 760.7 2058.3 762.3 2057.9 763.9 2057.4 765.5 2056.9 767.1 2056.2 768.7 2055.6 770.3 2055.1 771.9 2054.8 773.5 2054.8 775.1 2055 776.7 2055.4 778.3 2056 779.9 2056.6 781.5 2057.2 783.1 2057.7 784.7 2057.9 786.3 2058 787.9 2057.6 789.5 2056.8 791.1 2055.4 792.7 2052.9 794.3 2049 795.9 2043.2 797.5 2035 799.1 2023.8 800.7 2009.5 802.3 1992 803.9 1971.8 805.5 1949.9 807.1 1927.6 808.7 1906.8 810.3 1889.5 811.9 1877.5 813.5 1872 815.1 1873.3 816.7 1880.5 818.3 1892.7 820 1909 821.6 1928 823.2 1948.1 824.8 1968.1 826.4 1986.8 828 2003.5 829.6 2017.6 831.2 2029.2 832.8 2038.1 834.4 2044.9 836 2049.7 837.6 2053.1 839.2 2055.4 840.8 2056.8 842.4 2057.8 844 2058.3 845.6 2058.6 847.2 2058.8 848.8 2058.9 850.4 2059 852 2059" stroke="#0000c8" stroke-width="1.8" fill="none"/><path d="M659.7 2054.1 661.3 2053.5 662.9 2052.8 664.5 2052 666.1 2050.9 667.7 2049.6 669.3 2048 670.9 2046 672.5 2043.5 674.1 2040.5 675.7 2037 677.3 2032.9 678.9 2028.4 680.5 2023.3 682.1 2017.8 683.7 2011.9 685.3 2005.7 686.9 1999.3 688.5 1992.9 690.1 1986.6 691.8 1980.5 693.4 1974.8 695 1969.7 696.6 1965.3 698.2 1961.7 699.8 1959.1 701.4 1957.6 703 1957.1 704.6 1957.6 706.2 1959 707.8 1961.2 709.4 1964.2 711 1968 712.6 1972.3 714.2 1977.2 715.8 1982.4 717.4 1988 719 1993.7 720.6 1999.5 722.2 2005.3 723.8 2010.9 725.4 2016.3 727 2021.4 728.6 2026.2 730.2 2030.7 731.8 2034.7 733.4 2038.4 735 2041.6 736.6 2044.5 738.2 2047 739.8 2049.2 741.4 2051 743 2052.6 744.6 2053.9 746.2 2054.9 747.8 2055.8 749.4 2056.5 751 2057.1 752.6 2057.5 754.2 2057.9 755.9 2058.2 757.5 2058.4 759.1 2058.5 760.7 2058.7 762.3 2058.8 763.9 2058.8 765.5 2058.9 767.1 2058.9 768.7 2058.9 770.3 2058.9 771.9 2059 773.5 2059 775.1 2059 776.7 2059 778.3 2058.9 779.9 2058.9 781.5 2058.9 783.1 2058.9 784.7 2058.8 786.3 2058.8 787.9 2058.8 789.5 2058.7 791.1 2058.6 792.7 2058.6 794.3 2058.5 795.9 2058.4 797.5 2058.4 799.1 2058.3 800.7 2058.2 802.3 2058.2 803.9 2058.1 805.5 2058.1 807.1 2058.1 808.7 2058 810.3 2058 811.9 2058.1 813.5 2058.1 815.1 2058.1 816.7 2058.2 818.3 2058.3 820 2058.3 821.6 2058.4 823.2 2058.5 824.8 2058.5 826.4 2058.6 828 2058.7 829.6 2058.7 831.2 2058.8 832.8 2058.8 834.4 2058.9 836 2058.9 837.6 2058.9 839.2 2058.9 840.8 2059 842.4 2059 844 2059 845.6 2059 847.2 2059 848.8 2059 850.4 2059 852 2059" stroke="#d42020" stroke-width="1.8" fill="none"/><text x="650.2" y="1872.5" text-anchor="end">10</text><text x="650.2" y="2060" text-anchor="end">0</text><text x="659.7" y="2085.5" text-anchor="middle">0</text><text x="852" y="2085.5" text-anchor="middle">9</text><path d="M1054 1866.7H1057 M1054 1866.7V2059H1245.8 M1054 2059h3 M1245.8 2059v-3" stroke="#000" stroke-width="1.3" fill="none"/><path d="M1054 2059 1055.6 2059 1057.2 2059 1058.8 2059 1060.4 2059 1062 2059 1063.6 2059 1065.2 2059 1066.8 2059 1068.4 2059 1070 2059 1071.6 2059 1073.2 2059 1074.8 2059 1076.4 2059 1078 2059 1079.6 2059 1081.2 2059 1082.8 2059 1084.4 2059 1086 2059 1087.6 2059 1089.2 2059 1090.8 2059 1092.4 2059 1094 2059 1095.6 2059 1097.2 2059 1098.8 2059 1100.4 2059 1102 2059 1103.5 2059 1105.1 2059 1106.7 2059 1108.3 2059 1109.9 2059 1111.5 2059 1113.1 2059 1114.7 2059 1116.3 2059 1117.9 2059 1119.5 2059 1121.1 2059 1122.7 2059 1124.3 2059 1125.9 2059 1127.5 2059 1129.1 2059 1130.7 2059 1132.3 2059 1133.9 2059 1135.5 2059 1137.1 2059 1138.7 2059 1140.3 2059 1141.9 2059 1143.5 2059 1145.1 2059 1146.7 2059 1148.3 2059 1149.9 2059 1151.5 2059 1153.1 2059 1154.7 2059 1156.3 2059 1157.9 2059 1159.5 2059 1161.1 2059 1162.7 2059 1164.3 2059 1165.9 2059 1167.5 2059 1169.1 2058.9 1170.7 2058.9 1172.3 2058.7 1173.9 2058.5 1175.5 2058 1177.1 2057 1178.7 2055.4 1180.3 2052.7 1181.9 2048.5 1183.5 2042.2 1185.1 2033.1 1186.7 2020.7 1188.3 2004.8 1189.9 1985.4 1191.5 1963.2 1193.1 1939.5 1194.7 1916.1 1196.3 1895.3 1197.8 1879.1 1199.4 1869.4 1201 1867.5 1202.6 1872.1 1204.2 1882.4 1205.8 1897.3 1207.4 1915.6 1209 1935.8 1210.6 1956.5 1212.2 1976.4 1213.8 1994.5 1215.4 2010.2 1217 2023.3 1218.6 2033.7 1220.2 2041.6 1221.8 2047.4 1223.4 2051.5 1225 2054.3 1226.6 2056.2 1228.2 2057.3 1229.8 2058.1 1231.4 2058.5 1233 2058.7 1234.6 2058.9 1236.2 2058.9 1237.8 2059 1239.4 2059 1241 2059 1242.6 2059 1244.2 2059 1245.8 2059" stroke="#0000c8" stroke-width="1.8" fill="none"/><path d="M1054 2052.2 1055.6 2051.7 1057.2 2051.3 1058.8 2050.8 1060.4 2050.1 1062 2049.1 1063.6 2047.6 1065.2 2045.7 1066.8 2043.1 1068.4 2039.8 1070 2036 1071.6 2031.5 1073.2 2026.5 1074.8 2020.9 1076.4 2014.8 1078 2008.4 1079.6 2001.6 1081.2 1994.7 1082.8 1987.8 1084.4 1981.1 1086 1974.6 1087.6 1968.7 1089.2 1963.5 1090.8 1959.1 1092.4 1955.7 1094 1953.5 1095.6 1952.4 1097.2 1952.4 1098.8 1953.3 1100.4 1955 1102 1957.5 1103.5 1960.7 1105.1 1964.5 1106.7 1968.9 1108.3 1973.8 1109.9 1979 1111.5 1984.4 1113.1 1990.1 1114.7 1995.8 1116.3 2001.5 1117.9 2007.1 1119.5 2012.5 1121.1 2017.6 1122.7 2022.5 1124.3 2027 1125.9 2031.2 1127.5 2035.1 1129.1 2038.5 1130.7 2041.6 1132.3 2044.4 1133.9 2046.8 1135.5 2048.9 1137.1 2050.7 1138.7 2052.2 1140.3 2053.5 1141.9 2054.6 1143.5 2055.4 1145.1 2056.1 1146.7 2056.7 1148.3 2057.1 1149.9 2057.4 1151.5 2057.6 1153.1 2057.7 1154.7 2057.7 1156.3 2057.7 1157.9 2057.6 1159.5 2057.4 1161.1 2057.3 1162.7 2057.2 1164.3 2057.1 1165.9 2057 1167.5 2057 1169.1 2057.1 1170.7 2057.2 1172.3 2057.4 1173.9 2057.6 1175.5 2057.8 1177.1 2058 1178.7 2058.1 1180.3 2058.3 1181.9 2058.4 1183.5 2058.4 1185.1 2058.5 1186.7 2058.5 1188.3 2058.4 1189.9 2058.4 1191.5 2058.3 1193.1 2058.2 1194.7 2058.1 1196.3 2057.9 1197.8 2057.8 1199.4 2057.7 1201 2057.6 1202.6 2057.6 1204.2 2057.5 1205.8 2057.5 1207.4 2057.5 1209 2057.5 1210.6 2057.5 1212.2 2057.6 1213.8 2057.6 1215.4 2057.7 1217 2057.8 1218.6 2058 1220.2 2058.1 1221.8 2058.2 1223.4 2058.3 1225 2058.4 1226.6 2058.5 1228.2 2058.6 1229.8 2058.7 1231.4 2058.7 1233 2058.8 1234.6 2058.8 1236.2 2058.9 1237.8 2058.9 1239.4 2058.9 1241 2059 1242.6 2059 1244.2 2059 1245.8 2059" stroke="#d42020" stroke-width="1.8" fill="none"/><text x="1044.5" y="1872.5" text-anchor="end">10</text><text x="1044.5" y="2060" text-anchor="end">0</text><text x="1054" y="2085.5" text-anchor="middle">0</text><text x="1245.8" y="2085.5" text-anchor="middle">9</text><path d="M1456.1 1866.7H1459.1 M1456.1 1866.7V2059H1648.1 M1456.1 2059h3 M1648.1 2059v-3" stroke="#000" stroke-width="1.3" fill="none"/><path d="M1456.1 2059 1457.7 2059 1459.3 2059 1460.9 2059 1462.5 2059 1464.1 2059 1465.7 2059 1467.3 2059 1468.9 2059 1470.5 2059 1472.1 2059 1473.7 2059 1475.3 2059 1476.9 2059 1478.5 2059 1480.1 2059 1481.7 2059 1483.3 2059 1484.9 2059 1486.5 2059 1488.1 2059 1489.7 2059 1491.3 2059 1492.9 2059 1494.5 2059 1496.1 2059 1497.7 2059 1499.3 2059 1500.9 2059 1502.5 2059 1504.1 2059 1505.7 2059 1507.3 2059 1508.9 2059 1510.5 2059 1512.1 2059 1513.7 2059 1515.3 2059 1516.9 2059 1518.5 2059 1520.1 2059 1521.7 2059 1523.3 2059 1524.9 2059 1526.5 2059 1528.1 2059 1529.7 2059 1531.3 2058.9 1532.9 2057.9 1534.5 2055.7 1536.1 2052.8 1537.7 2049.1 1539.3 2045.1 1540.9 2040.5 1542.5 2033.7 1544.1 2025 1545.7 2015 1547.3 2001 1548.9 1983.8 1550.5 1969.5 1552.1 1960.6 1553.7 1952.8 1555.3 1946.3 1556.9 1941.3 1558.5 1938.1 1560.1 1936.1 1561.7 1934.3 1563.3 1932.9 1564.9 1932 1566.5 1931.5 1568.1 1932.1 1569.7 1933.9 1571.3 1936.4 1572.9 1938.8 1574.5 1940.7 1576.1 1942.4 1577.7 1944 1579.3 1945.6 1580.9 1947.3 1582.5 1949.3 1584.1 1951.6 1585.7 1954.3 1587.3 1958.1 1588.9 1963.3 1590.5 1969 1592.1 1974.8 1593.7 1980.1 1595.3 1985.5 1596.9 1991 1598.5 1996.5 1600.1 2002 1601.7 2007.5 1603.3 2013 1604.9 2018.4 1606.5 2023.9 1608.1 2029.3 1609.7 2034.3 1611.3 2039 1612.9 2043.5 1614.5 2047.3 1616.1 2050.1 1617.7 2052.7 1619.3 2055 1620.9 2056.7 1622.5 2057.6 1624.1 2058.1 1625.7 2058.4 1627.3 2058.7 1628.9 2058.9 1630.5 2059 1632.1 2059 1633.7 2059 1635.3 2059 1636.9 2059 1638.5 2059 1640.1 2059 1641.7 2059 1643.3 2059 1644.9 2059 1646.5 2059 1648.1 2059" stroke="#0000c8" stroke-width="1.8" fill="none"/><path d="M1456.1 2057.3 1457.7 2056.6 1459.3 2055.6 1460.9 2054.3 1462.5 2052.5 1464.1 2050.2 1465.7 2047.3 1467.3 2043.7 1468.9 2039.2 1470.5 2033.8 1472.1 2027.3 1473.7 2019.8 1475.3 2011.2 1476.9 2001.5 1478.5 1990.9 1480.1 1979.6 1481.7 1967.6 1483.3 1955.4 1484.9 1943.3 1486.5 1931.6 1488.1 1920.8 1489.7 1911.3 1491.3 1903.3 1492.9 1897.4 1494.5 1893.6 1496.1 1892.3 1497.7 1892.8 1499.3 1894.7 1500.9 1897.7 1502.5 1902 1504.1 1907.3 1505.7 1913.6 1507.3 1920.7 1508.9 1928.5 1510.5 1936.8 1512.1 1945.4 1513.7 1954.3 1515.3 1963.2 1516.9 1972 1518.5 1980.7 1520.1 1989 1521.7 1996.9 1523.3 2004.4 1524.9 2011.3 1526.5 2017.7 1528.1 2023.5 1529.7 2028.7 1531.3 2033.4 1532.9 2037.5 1534.5 2041 1536.1 2044.1 1537.7 2046.8 1539.3 2049 1540.9 2050.9 1542.5 2052.5 1544.1 2053.8 1545.7 2054.8 1547.3 2055.7 1548.9 2056.3 1550.5 2056.9 1552.1 2057.3 1553.7 2057.6 1555.3 2057.8 1556.9 2057.9 1558.5 2058 1560.1 2058.1 1561.7 2058.1 1563.3 2058.2 1564.9 2058.2 1566.5 2058.2 1568.1 2058.2 1569.7 2058.2 1571.3 2058.2 1572.9 2058.2 1574.5 2058.2 1576.1 2058.2 1577.7 2058.2 1579.3 2058.2 1580.9 2058.3 1582.5 2058.3 1584.1 2058.4 1585.7 2058.4 1587.3 2058.5 1588.9 2058.5 1590.5 2058.6 1592.1 2058.6 1593.7 2058.7 1595.3 2058.7 1596.9 2058.8 1598.5 2058.8 1600.1 2058.8 1601.7 2058.9 1603.3 2058.9 1604.9 2058.9 1606.5 2058.9 1608.1 2058.9 1609.7 2059 1611.3 2059 1612.9 2059 1614.5 2059 1616.1 2059 1617.7 2059 1619.3 2059 1620.9 2059 1622.5 2059 1624.1 2059 1625.7 2059 1627.3 2059 1628.9 2059 1630.5 2059 1632.1 2059 1633.7 2059 1635.3 2059 1636.9 2059 1638.5 2059 1640.1 2059 1641.7 2059 1643.3 2059 1644.9 2059 1646.5 2059 1648.1 2059" stroke="#d42020" stroke-width="1.8" fill="none"/><text x="1446.6" y="1872.5" text-anchor="end">7</text><text x="1446.6" y="2060" text-anchor="end">0</text><text x="1456.1" y="2085.5" text-anchor="middle">0</text><text x="1648.1" y="2085.5" text-anchor="middle">9</text><text transform="translate(636.4 1954) rotate(-90)" text-anchor="middle">Percentage</text><text x="627.2" y="2116">Maximum firing rate (z-score)</text><path d="M1670 1941.8L1694 1941.8" stroke="#0000c8" stroke-width="4"/><path d="M1670 1972.3L1694 1972.3" stroke="#d42020" stroke-width="4"/><text x="1703.7" y="1947.4" style="font-size:23.3px">Time-cells</text><text x="1703.7" y="1979.4" style="font-size:23.3px">Non time-cells</text><text x="6.3" y="2180.5" style="font-size:30px;font-weight:bold">g</text><rect x="99.5" y="2207.5" width="220.3" height="179.6" fill="none" stroke="#000" stroke-width="1.5"/><rect x="371.2" y="2207.5" width="220.4" height="179.6" fill="none" stroke="#000" stroke-width="1.5"/><rect x="101" y="2458.1" width="220.5" height="180.4" fill="none" stroke="#000" stroke-width="1.5"/><rect x="372.4" y="2458.1" width="221.2" height="180.4" fill="none" stroke="#000" stroke-width="1.5"/><text x="208.5" y="2197.9" text-anchor="middle">With SWRs</text><text x="482.6" y="2197.9" text-anchor="middle">Without SWRs</text><text x="208.5" y="2449" text-anchor="middle">With SWRs</text><text x="482.6" y="2449" text-anchor="middle">Without SWRs</text><text x="92.5" y="2216.5" text-anchor="end">84</text><text x="364.2" y="2216.5" text-anchor="end">82</text><text x="94" y="2467" text-anchor="end">57</text><text x="366" y="2467" text-anchor="end">54</text><text x="100.7" y="2414" text-anchor="middle">0</text><text x="320.2" y="2414" text-anchor="middle">8</text><text x="372.4" y="2414" text-anchor="middle">0</text><text x="592" y="2414" text-anchor="middle">8</text><text x="102.6" y="2664" text-anchor="middle">0</text><text x="322" y="2662.5" text-anchor="middle">8</text><text x="373.8" y="2664" text-anchor="middle">0</text><text x="593.6" y="2662.5" text-anchor="middle">8</text><text transform="translate(83.5 2284) rotate(-90)" text-anchor="middle">Trials #</text><text transform="translate(84.5 2534.6) rotate(-90)" text-anchor="middle">Trials #</text><text x="103.2" y="2694.5">Time from landing (s)</text><text x="694.2" y="2184" style="font-size:30px;font-weight:bold">h</text><rect x="1042.8" y="2210" width="8.5" height="251.5" fill="#6b6be6"/><path d="M744 2460.7C746.5 2460.5 753.9 2460 759 2459.4C764.1 2458.8 769.5 2457.7 774.8 2457C780.1 2456.3 784.4 2456 790.6 2455.4C796.7 2454.9 803.7 2453.8 811.6 2453.6C819.5 2453.4 829.2 2453.9 838 2454.1C846.8 2454.3 854.4 2454.8 864.3 2454.9C874.2 2455 888.4 2455 897.2 2454.9C906 2454.8 909.3 2454.4 917 2454.1C924.6 2453.8 934.5 2453.5 943.3 2453.3C952.1 2453.1 958.7 2453 969.6 2452.8C980.6 2452.6 1000.3 2452.2 1009.1 2452.3C1017.9 2452.4 1018.3 2452.9 1022.3 2453.3C1026.2 2453.8 1029.7 2454.3 1032.8 2454.9C1035.9 2455.5 1038.1 2456 1040.7 2456.7C1043.3 2457.5 1047.3 2458.9 1048.6 2459.4" stroke="#000" stroke-width="3.2" fill="none"/><path d="M744 2461.5H1050.7" stroke="#888" stroke-width="1.2" fill="none"/><path d="M740 2210H744 V2461.5 M740 2461.5H744 M744 2461.5v3 M897.4 2461.5v3 M1050.7 2461.5v3" stroke="#000" stroke-width="1.5" fill="none"/><text x="735" y="2220.5" text-anchor="end">100</text><text x="740" y="2471" text-anchor="end">0</text><text x="742.5" y="2491.5" text-anchor="middle">-1</text><text x="896.8" y="2491.5" text-anchor="middle">0</text><text x="1049.5" y="2491.5" text-anchor="middle">1</text><text x="747.7" y="2520">r(with SWRs, without SWRs)</text><text transform="translate(722.7 2335.6) rotate(-90)" text-anchor="middle">Percentage</text><rect x="948.8" y="2338.3" width="7.8" height="1.7" fill="#6b6be6" stroke="#000" stroke-width="1"/><rect x="956.6" y="2335" width="7.8" height="5" fill="#6b6be6" stroke="#000" stroke-width="1"/><rect x="964.4" y="2238.7" width="7.9" height="101.3" fill="#6b6be6" stroke="#000" stroke-width="1.2"/><path d="M822.3 2228.5H825.3 V2340H972.3 M825.3 2340v3 M972.3 2340v3" stroke="#000" stroke-width="1.4" fill="none"/><text x="816" y="2239.5" text-anchor="end">100</text><text x="825.2" y="2367" text-anchor="middle">0.96</text><text x="971" y="2367" text-anchor="middle">1</text></svg></body></html>
